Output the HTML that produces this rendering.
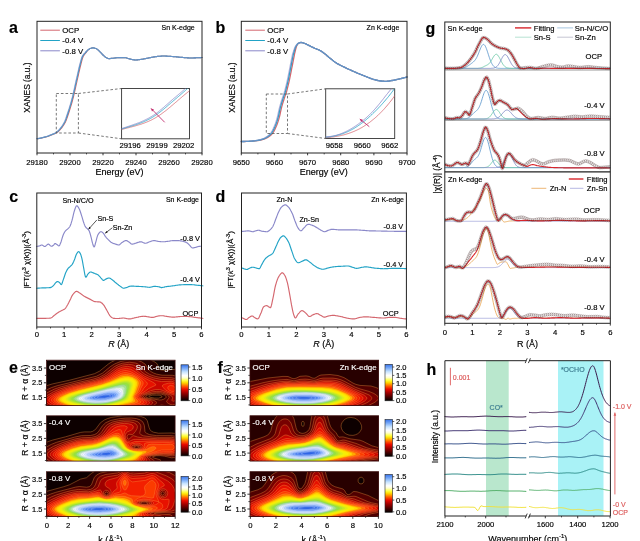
<!DOCTYPE html>
<html><head><meta charset="utf-8"><title>figure</title>
<style>html,body{margin:0;padding:0;background:#fff;}svg{display:block;will-change:transform;transform:translateZ(0)}text{font-family:"Liberation Sans",sans-serif;}.dc circle{r:1.45px}</style>
</head><body>
<svg width="640" height="541" viewBox="0 0 640 541" font-family="Liberation Sans, sans-serif">
<rect x="0" y="0" width="640" height="541" fill="#fff"/>
<text x="9" y="33.4" font-size="16" text-anchor="start" fill="#000" stroke="#000" stroke-width="0.16" font-weight="bold" >a</text>
<polyline points="37.7,138.7 38.2,138.6 38.7,138.6 39.2,138.5 39.7,138.4 40.2,138.3 40.7,138.2 41.2,138.1 41.7,138 42.2,137.9 42.7,137.8 43.2,137.6 43.7,137.5 44.2,137.4 44.7,137.3 45.2,137.1 45.7,137 46.2,136.9 46.7,136.7 47.2,136.6 47.7,136.4 48.2,136.2 48.7,136.1 49.2,135.9 49.7,135.7 50.2,135.5 50.7,135.3 51.2,135.1 51.7,134.9 52.2,134.7 52.7,134.5 53.2,134.3 53.7,134.1 54.2,133.9 54.7,133.7 55.2,133.5 55.7,133.2 56.2,133 56.7,132.7 57.2,132.4 57.7,132 58.2,131.6 58.7,131.1 59.2,130.6 59.7,130.1 60.2,129.6 60.7,129 61.2,128.4 61.7,127.8 62.2,127.2 62.7,126.5 63.2,125.8 63.7,125 64.2,124.2 64.7,123.3 65.2,122.4 65.7,121.4 66.2,120.2 66.7,118.9 67.2,117.5 67.7,116 68.2,114.5 68.7,113 69.2,111.5 69.7,109.9 70.2,108.4 70.7,106.7 71.2,105.1 71.7,103.4 72.2,101.6 72.7,99.7 73.2,97.8 73.7,95.8 74.2,93.7 74.7,91.5 75.2,89.3 75.7,87 76.2,84.7 76.7,82.5 77.2,80.2 77.7,78 78.2,75.8 78.7,73.5 79.2,71.3 79.7,69.1 80.2,67 80.7,65 81.2,63.1 81.7,61.1 82.2,59.3 82.7,57.7 83.2,56.5 83.7,55.6 84.2,54.9 84.7,54.2 85.1,53.6 85.6,53.1 86,52.5 86.5,52 86.9,51.5 87.3,50.9 87.8,50.4 88.2,49.9 88.7,49.5 89.1,49.2 89.6,48.9 90,48.6 90.5,48.4 91,48.2 91.5,48.1 92,48 92.5,47.9 93,47.9 93.5,47.9 94,48 94.5,48.1 95,48.2 95.5,48.4 96,48.6 96.5,48.8 97,49.1 97.5,49.5 98,49.9 98.5,50.4 99,50.8 99.5,51.3 100,51.8 100.5,52.3 101,52.8 101.5,53.4 102,54 102.5,54.5 103,55 103.5,55.5 104,55.9 104.5,56.4 105,56.8 105.5,57.2 106,57.5 106.5,57.8 107,58 107.5,58.2 108,58.4 108.5,58.6 109,58.6 109.5,58.6 110,58.6 110.5,58.5 111,58.4 111.5,58.4 112,58.3 112.5,58.3 113,58.2 113.5,58.2 114,58.1 114.5,58 115,58 115.5,57.9 116,57.9 116.5,57.8 117,57.8 117.5,57.7 118,57.7 118.5,57.6 119,57.6 119.5,57.6 120,57.6 120.5,57.6 121,57.6 121.5,57.6 122,57.6 122.5,57.6 123,57.7 123.5,57.7 124,57.7 124.5,57.7 125,57.8 125.5,57.8 126,57.8 126.5,57.9 127,58.1 127.5,58.2 128,58.4 128.5,58.6 129,58.7 129.5,58.9 130,59 130.5,59.1 131,59.2 131.5,59.4 132,59.5 132.5,59.6 133,59.7 133.5,59.8 134,59.9 134.5,59.9 135,60 135.5,60 136,60 136.5,60 137,59.9 137.5,59.9 138,59.8 138.5,59.8 139,59.7 139.5,59.6 140,59.5 140.5,59.5 141,59.4 141.5,59.3 142,59.3 142.5,59.2 143,59.1 143.5,59 144,58.9 144.5,58.8 145,58.7 145.5,58.6 146,58.5 146.5,58.4 147,58.3 147.5,58.2 148,58.1 148.5,58 149,57.9 149.5,57.8 150,57.7 150.5,57.6 151,57.5 151.5,57.4 152,57.3 152.5,57.2 153,57.1 153.5,57 154,56.9 154.5,56.9 155,56.8 155.5,56.7 156,56.6 156.5,56.6 157,56.5 157.5,56.4 158,56.4 158.5,56.3 159,56.3 159.5,56.2 160,56.2 160.5,56.2 161,56.1 161.5,56.1 162,56 162.5,56 163,56 163.5,56 164,56 164.5,56 165,56 165.5,56 166,56.1 166.5,56.1 167,56.1 167.5,56.2 168,56.2 168.5,56.2 169,56.3 169.5,56.3 170,56.3 170.5,56.4 171,56.4 171.5,56.5 172,56.5 172.5,56.5 173,56.6 173.5,56.6 174,56.7 174.5,56.7 175,56.8 175.5,56.8 176,56.8 176.5,56.9 177,56.9 177.5,57 178,57 178.5,57.1 179,57.1 179.5,57.2 180,57.2 180.5,57.3 181,57.3 181.5,57.4 182,57.4 182.5,57.4 183,57.5 183.5,57.5 184,57.6 184.5,57.6 185,57.7 185.5,57.7 186,57.7 186.5,57.8 187,57.8 187.5,57.9 188,57.9 188.5,57.9 189,58 189.5,58 190,58 190.5,58 191,58 191.5,58 192,58 192.5,58 193,58 193.5,58 194,57.9 194.5,57.9 195,57.9 195.5,57.9 196,57.8 196.5,57.8 197,57.8 197.5,57.8 198,57.8 198.5,57.7 199,57.7 199.5,57.7 200,57.6 200.5,57.6 201,57.6 201.5,57.5 202,57.5" fill="none" stroke="#d4666e" stroke-width="1.1" stroke-linejoin="round" stroke-linecap="round" />
<polyline points="37,138.7 37.5,138.6 38,138.6 38.5,138.5 39,138.4 39.5,138.3 40,138.2 40.5,138.1 41,138 41.5,137.9 42,137.8 42.5,137.6 43,137.5 43.5,137.4 44,137.3 44.5,137.1 45,137 45.5,136.9 46,136.7 46.5,136.6 47,136.4 47.5,136.2 48,136.1 48.5,135.9 49,135.7 49.5,135.5 50,135.3 50.5,135.1 51,134.9 51.5,134.7 52,134.5 52.5,134.3 53,134.1 53.5,133.9 54,133.7 54.5,133.5 55,133.2 55.5,133 56,132.7 56.5,132.4 57,132 57.5,131.6 58,131.1 58.5,130.6 59,130.1 59.5,129.6 60,129 60.5,128.4 61,127.8 61.5,127.2 62,126.5 62.5,125.8 63,125 63.5,124.2 64,123.3 64.5,122.4 65,121.4 65.5,120.2 66,118.9 66.5,117.5 67,116 67.5,114.5 68,113 68.5,111.5 69,109.9 69.5,108.4 70,106.7 70.5,105.1 71,103.4 71.5,101.6 72,99.7 72.5,97.8 73,95.8 73.5,93.7 74,91.5 74.5,89.3 75,87 75.5,84.7 76,82.5 76.5,80.2 77,78 77.5,75.8 78,73.5 78.5,71.3 79,69.1 79.5,67 80,65 80.5,63.1 81,61.1 81.5,59.3 82,57.7 82.5,56.5 83,55.6 83.5,54.9 84,54.2 84.5,53.6 85,53.1 85.5,52.5 86,52 86.5,51.5 87,50.9 87.5,50.4 88,49.9 88.5,49.5 89,49.2 89.5,48.9 90,48.6 90.5,48.4 91,48.2 91.5,48.1 92,48 92.5,47.9 93,47.9 93.5,47.9 94,48 94.5,48.1 95,48.2 95.5,48.4 96,48.6 96.5,48.8 97,49.1 97.5,49.5 98,49.9 98.5,50.4 99,50.8 99.5,51.3 100,51.8 100.5,52.3 101,52.8 101.5,53.4 102,54 102.5,54.5 103,55 103.5,55.5 104,55.9 104.5,56.4 105,56.8 105.5,57.2 106,57.5 106.5,57.8 107,58 107.5,58.2 108,58.4 108.5,58.6 109,58.6 109.5,58.6 110,58.6 110.5,58.5 111,58.4 111.5,58.4 112,58.3 112.5,58.3 113,58.2 113.5,58.2 114,58.1 114.5,58 115,58 115.5,57.9 116,57.9 116.5,57.8 117,57.8 117.5,57.7 118,57.7 118.5,57.6 119,57.6 119.5,57.6 120,57.6 120.5,57.6 121,57.6 121.5,57.6 122,57.6 122.5,57.6 123,57.7 123.5,57.7 124,57.7 124.5,57.7 125,57.8 125.5,57.8 126,57.8 126.5,57.9 127,58.1 127.5,58.2 128,58.4 128.5,58.6 129,58.7 129.5,58.9 130,59 130.5,59.1 131,59.2 131.5,59.4 132,59.5 132.5,59.6 133,59.7 133.5,59.8 134,59.9 134.5,59.9 135,60 135.5,60 136,60 136.5,60 137,59.9 137.5,59.9 138,59.8 138.5,59.8 139,59.7 139.5,59.6 140,59.5 140.5,59.5 141,59.4 141.5,59.3 142,59.3 142.5,59.2 143,59.1 143.5,59 144,58.9 144.5,58.8 145,58.7 145.5,58.6 146,58.5 146.5,58.4 147,58.3 147.5,58.2 148,58.1 148.5,58 149,57.9 149.5,57.8 150,57.7 150.5,57.6 151,57.5 151.5,57.4 152,57.3 152.5,57.2 153,57.1 153.5,57 154,56.9 154.5,56.9 155,56.8 155.5,56.7 156,56.6 156.5,56.6 157,56.5 157.5,56.4 158,56.4 158.5,56.3 159,56.3 159.5,56.2 160,56.2 160.5,56.2 161,56.1 161.5,56.1 162,56 162.5,56 163,56 163.5,56 164,56 164.5,56 165,56 165.5,56 166,56.1 166.5,56.1 167,56.1 167.5,56.2 168,56.2 168.5,56.2 169,56.3 169.5,56.3 170,56.3 170.5,56.4 171,56.4 171.5,56.5 172,56.5 172.5,56.5 173,56.6 173.5,56.6 174,56.7 174.5,56.7 175,56.8 175.5,56.8 176,56.8 176.5,56.9 177,56.9 177.5,57 178,57 178.5,57.1 179,57.1 179.5,57.2 180,57.2 180.5,57.3 181,57.3 181.5,57.4 182,57.4 182.5,57.4 183,57.5 183.5,57.5 184,57.6 184.5,57.6 185,57.7 185.5,57.7 186,57.7 186.5,57.8 187,57.8 187.5,57.9 188,57.9 188.5,57.9 189,58 189.5,58 190,58 190.5,58 191,58 191.5,58 192,58 192.5,58 193,58 193.5,58 194,57.9 194.5,57.9 195,57.9 195.5,57.9 196,57.8 196.5,57.8 197,57.8 197.5,57.8 198,57.8 198.5,57.7 199,57.7 199.5,57.7 200,57.6 200.5,57.6 201,57.6 201.5,57.5 202,57.5" fill="none" stroke="#22a3c6" stroke-width="1.1" stroke-linejoin="round" stroke-linecap="round" />
<polyline points="36.6,138.7 37.1,138.6 37.6,138.6 38.1,138.5 38.6,138.4 39.1,138.3 39.6,138.2 40.1,138.1 40.6,138 41.1,137.9 41.6,137.8 42.1,137.6 42.6,137.5 43.1,137.4 43.6,137.3 44.1,137.1 44.6,137 45.1,136.9 45.6,136.7 46.1,136.6 46.6,136.4 47.1,136.2 47.6,136.1 48.1,135.9 48.6,135.7 49.1,135.5 49.6,135.3 50.1,135.1 50.6,134.9 51.1,134.7 51.6,134.5 52.1,134.3 52.6,134.1 53.1,133.9 53.6,133.7 54.1,133.5 54.6,133.2 55.1,133 55.6,132.7 56.1,132.4 56.6,132 57.1,131.6 57.6,131.1 58.1,130.6 58.6,130.1 59.1,129.6 59.6,129 60.1,128.4 60.6,127.8 61.1,127.2 61.6,126.5 62.1,125.8 62.6,125 63.1,124.2 63.6,123.3 64.1,122.4 64.6,121.4 65.1,120.2 65.6,118.9 66.1,117.5 66.6,116 67.1,114.5 67.6,113 68.1,111.5 68.6,109.9 69.1,108.4 69.6,106.7 70.1,105.1 70.6,103.4 71.1,101.6 71.6,99.7 72.1,97.8 72.6,95.8 73.1,93.7 73.6,91.5 74.1,89.3 74.6,87 75.1,84.7 75.6,82.5 76.1,80.2 76.6,78 77.1,75.8 77.6,73.5 78.1,71.3 78.6,69.1 79.1,67 79.6,65 80.1,63.1 80.6,61.1 81.1,59.3 81.6,57.7 82.1,56.5 82.6,55.6 83.1,54.9 83.6,54.2 84.1,53.6 84.7,53.1 85.2,52.5 85.7,52 86.3,51.5 86.8,50.9 87.3,50.4 87.9,49.9 88.4,49.5 88.9,49.2 89.5,48.9 90,48.6 90.5,48.4 91,48.2 91.5,48.1 92,48 92.5,47.9 93,47.9 93.5,47.9 94,48 94.5,48.1 95,48.2 95.5,48.4 96,48.6 96.5,48.8 97,49.1 97.5,49.5 98,49.9 98.5,50.4 99,50.8 99.5,51.3 100,51.8 100.5,52.3 101,52.8 101.5,53.4 102,54 102.5,54.5 103,55 103.5,55.5 104,55.9 104.5,56.4 105,56.8 105.5,57.2 106,57.5 106.5,57.8 107,58 107.5,58.2 108,58.4 108.5,58.6 109,58.6 109.5,58.6 110,58.6 110.5,58.5 111,58.4 111.5,58.4 112,58.3 112.5,58.3 113,58.2 113.5,58.2 114,58.1 114.5,58 115,58 115.5,57.9 116,57.9 116.5,57.8 117,57.8 117.5,57.7 118,57.7 118.5,57.6 119,57.6 119.5,57.6 120,57.6 120.5,57.6 121,57.6 121.5,57.6 122,57.6 122.5,57.6 123,57.7 123.5,57.7 124,57.7 124.5,57.7 125,57.8 125.5,57.8 126,57.8 126.5,57.9 127,58.1 127.5,58.2 128,58.4 128.5,58.6 129,58.7 129.5,58.9 130,59 130.5,59.1 131,59.2 131.5,59.4 132,59.5 132.5,59.6 133,59.7 133.5,59.8 134,59.9 134.5,59.9 135,60 135.5,60 136,60 136.5,60 137,59.9 137.5,59.9 138,59.8 138.5,59.8 139,59.7 139.5,59.6 140,59.5 140.5,59.5 141,59.4 141.5,59.3 142,59.3 142.5,59.2 143,59.1 143.5,59 144,58.9 144.5,58.8 145,58.7 145.5,58.6 146,58.5 146.5,58.4 147,58.3 147.5,58.2 148,58.1 148.5,58 149,57.9 149.5,57.8 150,57.7 150.5,57.6 151,57.5 151.5,57.4 152,57.3 152.5,57.2 153,57.1 153.5,57 154,56.9 154.5,56.9 155,56.8 155.5,56.7 156,56.6 156.5,56.6 157,56.5 157.5,56.4 158,56.4 158.5,56.3 159,56.3 159.5,56.2 160,56.2 160.5,56.2 161,56.1 161.5,56.1 162,56 162.5,56 163,56 163.5,56 164,56 164.5,56 165,56 165.5,56 166,56.1 166.5,56.1 167,56.1 167.5,56.2 168,56.2 168.5,56.2 169,56.3 169.5,56.3 170,56.3 170.5,56.4 171,56.4 171.5,56.5 172,56.5 172.5,56.5 173,56.6 173.5,56.6 174,56.7 174.5,56.7 175,56.8 175.5,56.8 176,56.8 176.5,56.9 177,56.9 177.5,57 178,57 178.5,57.1 179,57.1 179.5,57.2 180,57.2 180.5,57.3 181,57.3 181.5,57.4 182,57.4 182.5,57.4 183,57.5 183.5,57.5 184,57.6 184.5,57.6 185,57.7 185.5,57.7 186,57.7 186.5,57.8 187,57.8 187.5,57.9 188,57.9 188.5,57.9 189,58 189.5,58 190,58 190.5,58 191,58 191.5,58 192,58 192.5,58 193,58 193.5,58 194,57.9 194.5,57.9 195,57.9 195.5,57.9 196,57.8 196.5,57.8 197,57.8 197.5,57.8 198,57.8 198.5,57.7 199,57.7 199.5,57.7 200,57.6 200.5,57.6 201,57.6 201.5,57.5 202,57.5" fill="none" stroke="#8a88c9" stroke-width="1.1" stroke-linejoin="round" stroke-linecap="round" stroke-opacity="0.62"/>
<rect x="56.3" y="93.5" width="22.1" height="39.5" fill="none" stroke="#555" stroke-width="0.8" stroke-dasharray="2.6 2"/>
<line x1="78.4" y1="93.5" x2="121.6" y2="88.5" stroke="#555" stroke-width="0.8" stroke-dasharray="2.6 2"/>
<line x1="78.4" y1="133" x2="121.6" y2="138.8" stroke="#555" stroke-width="0.8" stroke-dasharray="2.6 2"/>
<rect x="121.6" y="88.5" width="67.9" height="50.3" fill="#fff" stroke="#333" stroke-width="0.9" />
<clipPath id="ic37"><rect x="121.6" y="88.5" width="67.9" height="50.30000000000001"/></clipPath>
<g clip-path="url(#ic37)">
<polyline points="121.6,129.5 122.6,129.2 123.6,129 124.6,128.7 125.6,128.4 126.6,128.2 127.6,127.9 128.6,127.7 129.6,127.4 130.6,127.1 131.6,126.9 132.6,126.6 133.6,126.4 134.6,126.1 135.6,125.8 136.6,125.5 137.6,125.2 138.6,124.9 139.6,124.6 140.6,124.3 141.6,124 142.6,123.6 143.6,123.3 144.6,122.9 145.6,122.5 146.6,122.1 147.6,121.7 148.6,121.3 149.6,120.8 150.6,120.4 151.6,119.9 152.6,119.4 153.6,118.8 154.6,118.3 155.6,117.7 156.6,117.1 157.6,116.5 158.6,115.8 159.6,115.2 160.6,114.5 161.6,113.8 162.6,113 163.6,112.3 164.6,111.5 165.6,110.8 166.6,110 167.6,109.2 168.6,108.3 169.6,107.5 170.6,106.7 171.6,105.8 172.6,105 173.6,104.1 174.6,103.3 175.6,102.4 176.6,101.6 177.6,100.7 178.6,99.8 179.6,99 180.6,98.1 181.6,97.3 182.6,96.4 183.6,95.6 184.6,94.7 185.6,93.9 186.6,93.1 187.6,92.3 188.6,91.5 189.5,90.8" fill="none" stroke="#d4666e" stroke-width="0.8" stroke-linejoin="round" stroke-linecap="round" />
<polyline points="121.6,129 122.6,128.7 123.6,128.4 124.6,128.1 125.6,127.8 126.6,127.5 127.6,127.2 128.6,126.9 129.6,126.6 130.6,126.3 131.6,126 132.6,125.7 133.6,125.4 134.6,125.1 135.6,124.8 136.6,124.4 137.6,124.1 138.6,123.7 139.6,123.4 140.6,123 141.6,122.6 142.6,122.2 143.6,121.8 144.6,121.3 145.6,120.9 146.6,120.4 147.6,119.9 148.6,119.4 149.6,118.9 150.6,118.3 151.6,117.8 152.6,117.2 153.6,116.6 154.6,115.9 155.6,115.3 156.6,114.6 157.6,113.9 158.6,113.1 159.6,112.4 160.6,111.6 161.6,110.8 162.6,110 163.6,109.2 164.6,108.4 165.6,107.5 166.6,106.7 167.6,105.8 168.6,104.9 169.6,104.1 170.6,103.2 171.6,102.3 172.6,101.5 173.6,100.6 174.6,99.8 175.6,98.9 176.6,98.1 177.6,97.2 178.6,96.4 179.6,95.5 180.6,94.7 181.6,93.8 182.6,92.9 183.6,92 184.6,91.2 185.6,90.3 186.6,89.3 187.6,88.4 188.6,87.5 189.5,86.6" fill="none" stroke="#22a3c6" stroke-width="0.8" stroke-linejoin="round" stroke-linecap="round" />
<polyline points="121.6,128.6 122.6,128.3 123.6,127.9 124.6,127.6 125.6,127.3 126.6,126.9 127.6,126.6 128.6,126.3 129.6,125.9 130.6,125.6 131.6,125.3 132.6,124.9 133.6,124.6 134.6,124.2 135.6,123.9 136.6,123.5 137.6,123.1 138.6,122.8 139.6,122.4 140.6,122 141.6,121.5 142.6,121.1 143.6,120.7 144.6,120.2 145.6,119.7 146.6,119.2 147.6,118.7 148.6,118.2 149.6,117.6 150.6,117 151.6,116.4 152.6,115.8 153.6,115.2 154.6,114.5 155.6,113.8 156.6,113.1 157.6,112.3 158.6,111.6 159.6,110.8 160.6,109.9 161.6,109.1 162.6,108.2 163.6,107.4 164.6,106.5 165.6,105.6 166.6,104.8 167.6,103.9 168.6,103 169.6,102.1 170.6,101.2 171.6,100.3 172.6,99.5 173.6,98.6 174.6,97.8 175.6,97 176.6,96.1 177.6,95.3 178.6,94.4 179.6,93.6 180.6,92.8 181.6,91.9 182.6,91 183.6,90.1 184.6,89.2 185.6,88.3 186.6,87.4 187.6,86.4 188.6,85.4 189.5,84.5" fill="none" stroke="#8a88c9" stroke-width="0.8" stroke-linejoin="round" stroke-linecap="round" />
</g>
<line x1="164.7" y1="122.3" x2="151" y2="108.4" stroke="#c22d6e" stroke-width="0.9" />
<polygon points="151,108.4 154,109.5 152,111.4" fill="#c22d6e"/>
<text x="130.2" y="148.1" font-size="7.7" text-anchor="middle" fill="#000" stroke="#000" stroke-width="0.16" >29196</text>
<text x="157" y="148.1" font-size="7.7" text-anchor="middle" fill="#000" stroke="#000" stroke-width="0.16" >29199</text>
<text x="183.6" y="148.1" font-size="7.7" text-anchor="middle" fill="#000" stroke="#000" stroke-width="0.16" >29202</text>
<rect x="37" y="21.3" width="165" height="131.7" fill="none" stroke="#222" stroke-width="1" />
<line x1="37" y1="153" x2="37" y2="155.3" stroke="#222" stroke-width="0.9" />
<text x="37" y="164.8" font-size="7.7" text-anchor="middle" fill="#000" stroke="#000" stroke-width="0.16" >29180</text>
<line x1="70" y1="153" x2="70" y2="155.3" stroke="#222" stroke-width="0.9" />
<text x="70" y="164.8" font-size="7.7" text-anchor="middle" fill="#000" stroke="#000" stroke-width="0.16" >29200</text>
<line x1="103" y1="153" x2="103" y2="155.3" stroke="#222" stroke-width="0.9" />
<text x="103" y="164.8" font-size="7.7" text-anchor="middle" fill="#000" stroke="#000" stroke-width="0.16" >29220</text>
<line x1="136" y1="153" x2="136" y2="155.3" stroke="#222" stroke-width="0.9" />
<text x="136" y="164.8" font-size="7.7" text-anchor="middle" fill="#000" stroke="#000" stroke-width="0.16" >29240</text>
<line x1="169" y1="153" x2="169" y2="155.3" stroke="#222" stroke-width="0.9" />
<text x="169" y="164.8" font-size="7.7" text-anchor="middle" fill="#000" stroke="#000" stroke-width="0.16" >29260</text>
<line x1="202" y1="153" x2="202" y2="155.3" stroke="#222" stroke-width="0.9" />
<text x="202" y="164.8" font-size="7.7" text-anchor="middle" fill="#000" stroke="#000" stroke-width="0.16" >29280</text>
<line x1="53.5" y1="153" x2="53.5" y2="154.4" stroke="#222" stroke-width="0.8" />
<line x1="86.5" y1="153" x2="86.5" y2="154.4" stroke="#222" stroke-width="0.8" />
<line x1="119.5" y1="153" x2="119.5" y2="154.4" stroke="#222" stroke-width="0.8" />
<line x1="152.5" y1="153" x2="152.5" y2="154.4" stroke="#222" stroke-width="0.8" />
<line x1="185.5" y1="153" x2="185.5" y2="154.4" stroke="#222" stroke-width="0.8" />
<line x1="40.3" y1="30.2" x2="59.9" y2="30.2" stroke="#d4666e" stroke-width="1.0" />
<text x="62.3" y="33" font-size="7.8" text-anchor="start" fill="#000" stroke="#000" stroke-width="0.16" >OCP</text>
<line x1="40.3" y1="40.5" x2="59.9" y2="40.5" stroke="#22a3c6" stroke-width="1.0" />
<text x="62.3" y="43.3" font-size="7.8" text-anchor="start" fill="#000" stroke="#000" stroke-width="0.16" >-0.4 V</text>
<line x1="40.3" y1="50.8" x2="59.9" y2="50.8" stroke="#8a88c9" stroke-width="1.0" />
<text x="62.3" y="53.6" font-size="7.8" text-anchor="start" fill="#000" stroke="#000" stroke-width="0.16" >-0.8 V</text>
<text x="194.7" y="30.2" font-size="7.0" text-anchor="end" fill="#000" stroke="#000" stroke-width="0.16" >Sn K-edge</text>
<text x="30.3" y="87.5" font-size="8.4" text-anchor="middle" fill="#000" stroke="#000" stroke-width="0.16" transform="rotate(-90 30.3 87.5)" >XANES (a.u.)</text>
<text x="119.4" y="175" font-size="9" text-anchor="middle" fill="#000" stroke="#000" stroke-width="0.16" >Energy (eV)</text>
<text x="215.5" y="33" font-size="16" text-anchor="start" fill="#000" stroke="#000" stroke-width="0.16" font-weight="bold" >b</text>
<polyline points="242.7,141.5 243.2,141.5 243.7,141.5 244.2,141.5 244.7,141.5 245.2,141.5 245.7,141.5 246.2,141.4 246.7,141.4 247.2,141.4 247.7,141.4 248.2,141.4 248.7,141.3 249.2,141.3 249.7,141.3 250.2,141.3 250.7,141.2 251.2,141.2 251.7,141.2 252.2,141.2 252.7,141.1 253.2,141.1 253.7,141 254.2,141 254.7,140.9 255.2,140.9 255.7,140.8 256.2,140.8 256.7,140.7 257.2,140.6 257.7,140.6 258.2,140.5 258.7,140.4 259.2,140.3 259.7,140.2 260.2,140.2 260.7,140.1 261.2,139.9 261.7,139.8 262.2,139.7 262.7,139.5 263.2,139.4 263.7,139.2 264.2,139.1 264.7,138.9 265.2,138.7 265.7,138.5 266.2,138.2 266.7,138 267.2,137.7 267.7,137.4 268.2,137.1 268.7,136.8 269.2,136.5 269.7,136.1 270.2,135.7 270.7,135.3 271.2,134.8 271.7,134.3 272.2,133.7 272.7,133.1 273.2,132.4 273.7,131.6 274.2,130.7 274.7,129.7 275.2,128.7 275.7,127.6 276.2,126.5 276.7,125.3 277.2,124 277.7,122.6 278.2,121.1 278.7,119.5 279.2,117.7 279.7,115.8 280.2,113.5 280.7,111.1 281.2,108.8 281.7,106.9 282.2,105.1 282.7,103.4 283.2,101.8 283.7,100.2 284.2,98.6 284.7,97.1 285.2,95.6 285.7,94.2 286.2,92.7 286.7,91 287.2,89.1 287.7,87.2 288.2,85.2 288.7,83.1 289.2,80.9 289.7,78.6 290.2,76.2 290.7,73.7 291.2,71.1 291.7,68.5 292.2,66 292.7,63.5 293.2,60.9 293.7,58.3 294.2,55.9 294.6,53.7 295,52 295.4,50.3 295.8,48.7 296.2,47.4 296.5,46.3 296.9,45.5 297.3,44.8 297.7,44.2 298.1,43.7 298.5,43.3 298.8,43.1 299.3,42.9 299.8,42.7 300.3,42.6 300.8,42.5 301.3,42.5 301.8,42.6 302.3,42.7 302.8,42.8 303.3,43 303.8,43.1 304.3,43.3 304.8,43.5 305.3,43.7 305.8,43.9 306.3,44.1 306.8,44.4 307.3,44.6 307.8,44.9 308.3,45.1 308.8,45.4 309.3,45.7 309.8,45.9 310.3,46.1 310.8,46.4 311.3,46.6 311.8,46.9 312.3,47.1 312.8,47.3 313.3,47.6 313.8,47.8 314.3,48 314.8,48.3 315.3,48.5 315.8,48.7 316.3,48.9 316.8,49.1 317.3,49.3 317.8,49.5 318.3,49.7 318.8,49.9 319.3,50.1 319.8,50.4 320.3,50.6 320.8,50.9 321.3,51.2 321.8,51.6 322.3,51.9 322.8,52.3 323.3,52.7 323.8,53.1 324.3,53.5 324.8,53.8 325.3,54.2 325.8,54.6 326.3,55 326.8,55.5 327.3,55.9 327.8,56.3 328.3,56.7 328.8,57.2 329.3,57.6 329.8,58 330.3,58.4 330.8,58.8 331.3,59.2 331.8,59.6 332.3,60 332.8,60.4 333.3,60.8 333.8,61.2 334.3,61.5 334.8,61.9 335.3,62.3 335.8,62.6 336.3,62.9 336.8,63.3 337.3,63.6 337.8,63.9 338.3,64.2 338.8,64.4 339.3,64.7 339.8,65 340.3,65.2 340.8,65.5 341.3,65.7 341.8,66 342.3,66.2 342.8,66.5 343.3,66.7 343.8,66.9 344.3,67.2 344.8,67.4 345.3,67.6 345.8,67.9 346.3,68.1 346.8,68.4 347.3,68.6 347.8,68.8 348.3,69.1 348.8,69.3 349.3,69.5 349.8,69.7 350.3,70 350.8,70.2 351.3,70.4 351.8,70.7 352.3,70.9 352.8,71.1 353.3,71.3 353.8,71.5 354.3,71.8 354.8,72 355.3,72.2 355.8,72.4 356.3,72.6 356.8,72.8 357.3,73.1 357.8,73.3 358.3,73.5 358.8,73.7 359.3,73.9 359.8,74.1 360.3,74.3 360.8,74.5 361.3,74.7 361.8,74.9 362.3,75.1 362.8,75.3 363.3,75.5 363.8,75.7 364.3,75.9 364.8,76.1 365.3,76.3 365.8,76.5 366.3,76.7 366.8,76.9 367.3,77.1 367.8,77.3 368.3,77.5 368.8,77.7 369.3,77.9 369.8,78.1 370.3,78.3 370.8,78.5 371.3,78.6 371.8,78.8 372.3,79 372.8,79.2 373.3,79.3 373.8,79.5 374.3,79.6 374.8,79.7 375.3,79.9 375.8,80 376.3,80.1 376.8,80.2 377.3,80.4 377.8,80.5 378.3,80.6 378.8,80.7 379.3,80.8 379.8,80.9 380.3,80.9 380.8,81 381.3,81 381.8,81.1 382.3,81.1 382.8,81.2 383.3,81.2 383.8,81.2 384.3,81.3 384.8,81.3 385.3,81.3 385.8,81.3 386.3,81.3 386.8,81.3 387.3,81.2 387.8,81.2 388.3,81.1 388.8,81.1 389.3,81 389.8,80.9 390.3,80.8 390.8,80.7 391.3,80.6 391.8,80.5 392.3,80.5 392.8,80.4 393.3,80.3 393.8,80.2 394.3,80.1 394.8,80 395.3,79.9 395.8,79.8 396.3,79.7 396.8,79.5 397.3,79.4 397.8,79.3 398.3,79.2 398.8,79.1 399.3,79 399.8,78.8 400.3,78.7 400.8,78.6 401.3,78.5 401.8,78.4 402.3,78.2 402.8,78.1 403.3,78 403.8,77.9 404.3,77.7 404.8,77.6 405.3,77.5 405.8,77.3 406.3,77.2 406.8,77.1 407,77" fill="none" stroke="#d4666e" stroke-width="1.3" stroke-linejoin="round" stroke-linecap="round" />
<polyline points="241.5,141.5 242,141.5 242.5,141.5 243,141.5 243.5,141.5 244,141.5 244.5,141.5 245,141.4 245.5,141.4 246,141.4 246.5,141.4 247,141.4 247.5,141.3 248,141.3 248.5,141.3 249,141.3 249.5,141.2 250,141.2 250.5,141.2 251,141.2 251.5,141.1 252,141.1 252.5,141 253,141 253.5,140.9 254,140.9 254.5,140.8 255,140.8 255.5,140.7 256,140.6 256.5,140.6 257,140.5 257.5,140.4 258,140.3 258.5,140.2 259,140.2 259.5,140.1 260,139.9 260.5,139.8 261,139.7 261.5,139.5 262,139.4 262.5,139.2 263,139.1 263.5,138.9 264,138.7 264.5,138.5 265,138.2 265.5,138 266,137.7 266.5,137.4 267,137.1 267.5,136.8 268,136.5 268.5,136.1 269,135.7 269.5,135.3 270,134.8 270.5,134.3 271,133.7 271.5,133.1 272,132.4 272.5,131.6 273,130.7 273.5,129.7 274,128.7 274.5,127.6 275,126.5 275.5,125.3 276,124 276.5,122.6 277,121.1 277.5,119.5 278,117.7 278.5,115.8 279,113.5 279.5,111.1 280,108.8 280.5,106.9 281,105.1 281.5,103.4 282,101.8 282.5,100.2 283,98.6 283.5,97.1 284,95.6 284.5,94.2 285,92.7 285.5,91 286,89.1 286.5,87.2 287,85.2 287.5,83.1 288,80.9 288.5,78.6 289,76.2 289.5,73.7 290,71.1 290.5,68.5 291,66 291.5,63.5 292,60.9 292.5,58.3 293,55.9 293.5,53.7 294,52 294.5,50.3 294.9,48.7 295.4,47.4 295.9,46.3 296.4,45.5 296.9,44.8 297.4,44.2 297.8,43.7 298.3,43.3 298.8,43.1 299.3,42.9 299.8,42.7 300.3,42.6 300.8,42.5 301.3,42.5 301.8,42.6 302.3,42.7 302.8,42.8 303.3,43 303.8,43.1 304.3,43.3 304.8,43.5 305.3,43.7 305.8,43.9 306.3,44.1 306.8,44.4 307.3,44.6 307.8,44.9 308.3,45.1 308.8,45.4 309.3,45.7 309.8,45.9 310.3,46.1 310.8,46.4 311.3,46.6 311.8,46.9 312.3,47.1 312.8,47.3 313.3,47.6 313.8,47.8 314.3,48 314.8,48.3 315.3,48.5 315.8,48.7 316.3,48.9 316.8,49.1 317.3,49.3 317.8,49.5 318.3,49.7 318.8,49.9 319.3,50.1 319.8,50.4 320.3,50.6 320.8,50.9 321.3,51.2 321.8,51.6 322.3,51.9 322.8,52.3 323.3,52.7 323.8,53.1 324.3,53.5 324.8,53.8 325.3,54.2 325.8,54.6 326.3,55 326.8,55.5 327.3,55.9 327.8,56.3 328.3,56.7 328.8,57.2 329.3,57.6 329.8,58 330.3,58.4 330.8,58.8 331.3,59.2 331.8,59.6 332.3,60 332.8,60.4 333.3,60.8 333.8,61.2 334.3,61.5 334.8,61.9 335.3,62.3 335.8,62.6 336.3,62.9 336.8,63.3 337.3,63.6 337.8,63.9 338.3,64.2 338.8,64.4 339.3,64.7 339.8,65 340.3,65.2 340.8,65.5 341.3,65.7 341.8,66 342.3,66.2 342.8,66.5 343.3,66.7 343.8,66.9 344.3,67.2 344.8,67.4 345.3,67.6 345.8,67.9 346.3,68.1 346.8,68.4 347.3,68.6 347.8,68.8 348.3,69.1 348.8,69.3 349.3,69.5 349.8,69.7 350.3,70 350.8,70.2 351.3,70.4 351.8,70.7 352.3,70.9 352.8,71.1 353.3,71.3 353.8,71.5 354.3,71.8 354.8,72 355.3,72.2 355.8,72.4 356.3,72.6 356.8,72.8 357.3,73.1 357.8,73.3 358.3,73.5 358.8,73.7 359.3,73.9 359.8,74.1 360.3,74.3 360.8,74.5 361.3,74.7 361.8,74.9 362.3,75.1 362.8,75.3 363.3,75.5 363.8,75.7 364.3,75.9 364.8,76.1 365.3,76.3 365.8,76.5 366.3,76.7 366.8,76.9 367.3,77.1 367.8,77.3 368.3,77.5 368.8,77.7 369.3,77.9 369.8,78.1 370.3,78.3 370.8,78.5 371.3,78.6 371.8,78.8 372.3,79 372.8,79.2 373.3,79.3 373.8,79.5 374.3,79.6 374.8,79.7 375.3,79.9 375.8,80 376.3,80.1 376.8,80.2 377.3,80.4 377.8,80.5 378.3,80.6 378.8,80.7 379.3,80.8 379.8,80.9 380.3,80.9 380.8,81 381.3,81 381.8,81.1 382.3,81.1 382.8,81.2 383.3,81.2 383.8,81.2 384.3,81.3 384.8,81.3 385.3,81.3 385.8,81.3 386.3,81.3 386.8,81.3 387.3,81.2 387.8,81.2 388.3,81.1 388.8,81.1 389.3,81 389.8,80.9 390.3,80.8 390.8,80.7 391.3,80.6 391.8,80.5 392.3,80.5 392.8,80.4 393.3,80.3 393.8,80.2 394.3,80.1 394.8,80 395.3,79.9 395.8,79.8 396.3,79.7 396.8,79.5 397.3,79.4 397.8,79.3 398.3,79.2 398.8,79.1 399.3,79 399.8,78.8 400.3,78.7 400.8,78.6 401.3,78.5 401.8,78.4 402.3,78.2 402.8,78.1 403.3,78 403.8,77.9 404.3,77.7 404.8,77.6 405.3,77.5 405.8,77.3 406.3,77.2 406.8,77.1 407,77" fill="none" stroke="#22a3c6" stroke-width="1.3" stroke-linejoin="round" stroke-linecap="round" />
<polyline points="240.7,141.5 241.2,141.5 241.7,141.5 242.2,141.5 242.7,141.5 243.2,141.5 243.7,141.5 244.2,141.4 244.7,141.4 245.2,141.4 245.7,141.4 246.2,141.4 246.7,141.3 247.2,141.3 247.7,141.3 248.2,141.3 248.7,141.2 249.2,141.2 249.7,141.2 250.2,141.2 250.7,141.1 251.2,141.1 251.7,141 252.2,141 252.7,140.9 253.2,140.9 253.7,140.8 254.2,140.8 254.7,140.7 255.2,140.6 255.7,140.6 256.2,140.5 256.7,140.4 257.2,140.3 257.7,140.2 258.2,140.2 258.7,140.1 259.2,139.9 259.7,139.8 260.2,139.7 260.7,139.5 261.2,139.4 261.7,139.2 262.2,139.1 262.7,138.9 263.2,138.7 263.7,138.5 264.2,138.2 264.7,138 265.2,137.7 265.7,137.4 266.2,137.1 266.7,136.8 267.2,136.5 267.7,136.1 268.2,135.7 268.7,135.3 269.2,134.8 269.7,134.3 270.2,133.7 270.7,133.1 271.2,132.4 271.7,131.6 272.2,130.7 272.7,129.7 273.2,128.7 273.7,127.6 274.2,126.5 274.7,125.3 275.2,124 275.7,122.6 276.2,121.1 276.7,119.5 277.2,117.7 277.7,115.8 278.2,113.5 278.7,111.1 279.2,108.8 279.7,106.9 280.2,105.1 280.7,103.4 281.2,101.8 281.7,100.2 282.2,98.6 282.7,97.1 283.2,95.6 283.7,94.2 284.2,92.7 284.7,91 285.2,89.1 285.7,87.2 286.2,85.2 286.7,83.1 287.2,80.9 287.7,78.6 288.2,76.2 288.7,73.7 289.2,71.1 289.7,68.5 290.2,66 290.7,63.5 291.2,60.9 291.7,58.3 292.2,55.9 292.7,53.7 293.3,52 293.8,50.3 294.4,48.7 294.9,47.4 295.5,46.3 296,45.5 296.6,44.8 297.1,44.2 297.7,43.7 298.2,43.3 298.8,43.1 299.3,42.9 299.8,42.7 300.3,42.6 300.8,42.5 301.3,42.5 301.8,42.6 302.3,42.7 302.8,42.8 303.3,43 303.8,43.1 304.3,43.3 304.8,43.5 305.3,43.7 305.8,43.9 306.3,44.1 306.8,44.4 307.3,44.6 307.8,44.9 308.3,45.1 308.8,45.4 309.3,45.7 309.8,45.9 310.3,46.1 310.8,46.4 311.3,46.6 311.8,46.9 312.3,47.1 312.8,47.3 313.3,47.6 313.8,47.8 314.3,48 314.8,48.3 315.3,48.5 315.8,48.7 316.3,48.9 316.8,49.1 317.3,49.3 317.8,49.5 318.3,49.7 318.8,49.9 319.3,50.1 319.8,50.4 320.3,50.6 320.8,50.9 321.3,51.2 321.8,51.6 322.3,51.9 322.8,52.3 323.3,52.7 323.8,53.1 324.3,53.5 324.8,53.8 325.3,54.2 325.8,54.6 326.3,55 326.8,55.5 327.3,55.9 327.8,56.3 328.3,56.7 328.8,57.2 329.3,57.6 329.8,58 330.3,58.4 330.8,58.8 331.3,59.2 331.8,59.6 332.3,60 332.8,60.4 333.3,60.8 333.8,61.2 334.3,61.5 334.8,61.9 335.3,62.3 335.8,62.6 336.3,62.9 336.8,63.3 337.3,63.6 337.8,63.9 338.3,64.2 338.8,64.4 339.3,64.7 339.8,65 340.3,65.2 340.8,65.5 341.3,65.7 341.8,66 342.3,66.2 342.8,66.5 343.3,66.7 343.8,66.9 344.3,67.2 344.8,67.4 345.3,67.6 345.8,67.9 346.3,68.1 346.8,68.4 347.3,68.6 347.8,68.8 348.3,69.1 348.8,69.3 349.3,69.5 349.8,69.7 350.3,70 350.8,70.2 351.3,70.4 351.8,70.7 352.3,70.9 352.8,71.1 353.3,71.3 353.8,71.5 354.3,71.8 354.8,72 355.3,72.2 355.8,72.4 356.3,72.6 356.8,72.8 357.3,73.1 357.8,73.3 358.3,73.5 358.8,73.7 359.3,73.9 359.8,74.1 360.3,74.3 360.8,74.5 361.3,74.7 361.8,74.9 362.3,75.1 362.8,75.3 363.3,75.5 363.8,75.7 364.3,75.9 364.8,76.1 365.3,76.3 365.8,76.5 366.3,76.7 366.8,76.9 367.3,77.1 367.8,77.3 368.3,77.5 368.8,77.7 369.3,77.9 369.8,78.1 370.3,78.3 370.8,78.5 371.3,78.6 371.8,78.8 372.3,79 372.8,79.2 373.3,79.3 373.8,79.5 374.3,79.6 374.8,79.7 375.3,79.9 375.8,80 376.3,80.1 376.8,80.2 377.3,80.4 377.8,80.5 378.3,80.6 378.8,80.7 379.3,80.8 379.8,80.9 380.3,80.9 380.8,81 381.3,81 381.8,81.1 382.3,81.1 382.8,81.2 383.3,81.2 383.8,81.2 384.3,81.3 384.8,81.3 385.3,81.3 385.8,81.3 386.3,81.3 386.8,81.3 387.3,81.2 387.8,81.2 388.3,81.1 388.8,81.1 389.3,81 389.8,80.9 390.3,80.8 390.8,80.7 391.3,80.6 391.8,80.5 392.3,80.5 392.8,80.4 393.3,80.3 393.8,80.2 394.3,80.1 394.8,80 395.3,79.9 395.8,79.8 396.3,79.7 396.8,79.5 397.3,79.4 397.8,79.3 398.3,79.2 398.8,79.1 399.3,79 399.8,78.8 400.3,78.7 400.8,78.6 401.3,78.5 401.8,78.4 402.3,78.2 402.8,78.1 403.3,78 403.8,77.9 404.3,77.7 404.8,77.6 405.3,77.5 405.8,77.3 406.3,77.2 406.8,77.1 407,77" fill="none" stroke="#8a88c9" stroke-width="1.3" stroke-linejoin="round" stroke-linecap="round" stroke-opacity="0.62"/>
<rect x="266.3" y="94" width="21.2" height="39.5" fill="none" stroke="#555" stroke-width="0.8" stroke-dasharray="2.6 2"/>
<line x1="287.5" y1="94" x2="325.7" y2="88.8" stroke="#555" stroke-width="0.8" stroke-dasharray="2.6 2"/>
<line x1="287.5" y1="133.5" x2="325.7" y2="138.5" stroke="#555" stroke-width="0.8" stroke-dasharray="2.6 2"/>
<rect x="325.7" y="88.8" width="69" height="49.7" fill="#fff" stroke="#333" stroke-width="0.9" />
<clipPath id="ic241"><rect x="325.7" y="88.8" width="69.0" height="49.7"/></clipPath>
<g clip-path="url(#ic241)">
<polyline points="325.7,137.8 326.7,137.7 327.7,137.6 328.7,137.5 329.7,137.4 330.7,137.3 331.7,137.1 332.7,137 333.7,136.9 334.7,136.7 335.7,136.5 336.7,136.4 337.7,136.2 338.7,136 339.7,135.8 340.7,135.6 341.7,135.3 342.7,135.1 343.7,134.9 344.7,134.6 345.7,134.3 346.7,134 347.7,133.7 348.7,133.4 349.7,133 350.7,132.7 351.7,132.3 352.7,131.9 353.7,131.5 354.7,131.1 355.7,130.6 356.7,130.2 357.7,129.7 358.7,129.2 359.7,128.7 360.7,128.1 361.7,127.6 362.7,127 363.7,126.4 364.7,125.7 365.7,125.1 366.7,124.4 367.7,123.7 368.7,123 369.7,122.3 370.7,121.5 371.7,120.7 372.7,119.9 373.7,119.1 374.7,118.3 375.7,117.4 376.7,116.5 377.7,115.6 378.7,114.6 379.7,113.6 380.7,112.6 381.7,111.6 382.7,110.5 383.7,109.5 384.7,108.4 385.7,107.2 386.7,106.1 387.7,104.9 388.7,103.7 389.7,102.4 390.7,101.2 391.7,99.9 392.7,98.5 393.7,97.2 394.7,95.8" fill="none" stroke="#d4666e" stroke-width="0.8" stroke-linejoin="round" stroke-linecap="round" />
<polyline points="325.7,137.2 326.7,137.1 327.7,137 328.7,136.9 329.7,136.8 330.7,136.7 331.7,136.5 332.7,136.3 333.7,136.1 334.7,135.9 335.7,135.7 336.7,135.5 337.7,135.2 338.7,134.9 339.7,134.7 340.7,134.3 341.7,134 342.7,133.7 343.7,133.3 344.7,132.9 345.7,132.5 346.7,132.1 347.7,131.7 348.7,131.2 349.7,130.7 350.7,130.2 351.7,129.7 352.7,129.1 353.7,128.6 354.7,128 355.7,127.4 356.7,126.7 357.7,126.1 358.7,125.4 359.7,124.7 360.7,124 361.7,123.2 362.7,122.5 363.7,121.7 364.7,120.9 365.7,120.1 366.7,119.2 367.7,118.3 368.7,117.5 369.7,116.6 370.7,115.6 371.7,114.7 372.7,113.7 373.7,112.8 374.7,111.8 375.7,110.8 376.7,109.8 377.7,108.8 378.7,107.7 379.7,106.7 380.7,105.6 381.7,104.5 382.7,103.4 383.7,102.2 384.7,101.1 385.7,99.9 386.7,98.7 387.7,97.5 388.7,96.3 389.7,95 390.7,93.7 391.7,92.4 392.7,91.1 393.7,89.7 394.7,88.3" fill="none" stroke="#22a3c6" stroke-width="0.8" stroke-linejoin="round" stroke-linecap="round" />
<polyline points="325.7,136.8 326.7,136.8 327.7,136.7 328.7,136.6 329.7,136.5 330.7,136.4 331.7,136.2 332.7,136.1 333.7,135.9 334.7,135.6 335.7,135.4 336.7,135.1 337.7,134.8 338.7,134.5 339.7,134.2 340.7,133.8 341.7,133.4 342.7,133 343.7,132.6 344.7,132.1 345.7,131.7 346.7,131.2 347.7,130.7 348.7,130.1 349.7,129.6 350.7,129 351.7,128.4 352.7,127.8 353.7,127.2 354.7,126.5 355.7,125.9 356.7,125.2 357.7,124.5 358.7,123.8 359.7,123 360.7,122.3 361.7,121.5 362.7,120.7 363.7,119.9 364.7,119.1 365.7,118.2 366.7,117.3 367.7,116.4 368.7,115.5 369.7,114.5 370.7,113.5 371.7,112.5 372.7,111.5 373.7,110.4 374.7,109.3 375.7,108.2 376.7,107 377.7,105.9 378.7,104.7 379.7,103.4 380.7,102.2 381.7,100.9 382.7,99.7 383.7,98.4 384.7,97.1 385.7,95.8 386.7,94.5 387.7,93.3 388.7,92 389.7,90.8 390.7,89.5 391.7,88.3 392.7,87 393.7,85.8 394.7,84.5" fill="none" stroke="#8a88c9" stroke-width="0.8" stroke-linejoin="round" stroke-linecap="round" />
</g>
<line x1="369.3" y1="126.7" x2="359.8" y2="119" stroke="#c22d6e" stroke-width="0.9" />
<polygon points="359.8,119 362.9,119.7 361.2,121.9" fill="#c22d6e"/>
<text x="334.3" y="147.8" font-size="7.7" text-anchor="middle" fill="#000" stroke="#000" stroke-width="0.16" >9658</text>
<text x="362.3" y="147.8" font-size="7.7" text-anchor="middle" fill="#000" stroke="#000" stroke-width="0.16" >9660</text>
<text x="389.8" y="147.8" font-size="7.7" text-anchor="middle" fill="#000" stroke="#000" stroke-width="0.16" >9662</text>
<rect x="241.3" y="21.3" width="165.7" height="131.7" fill="none" stroke="#222" stroke-width="1" />
<line x1="241.3" y1="153" x2="241.3" y2="155.3" stroke="#222" stroke-width="0.9" />
<text x="241.3" y="164.8" font-size="7.7" text-anchor="middle" fill="#000" stroke="#000" stroke-width="0.16" >9650</text>
<line x1="274.4" y1="153" x2="274.4" y2="155.3" stroke="#222" stroke-width="0.9" />
<text x="274.4" y="164.8" font-size="7.7" text-anchor="middle" fill="#000" stroke="#000" stroke-width="0.16" >9660</text>
<line x1="307.6" y1="153" x2="307.6" y2="155.3" stroke="#222" stroke-width="0.9" />
<text x="307.6" y="164.8" font-size="7.7" text-anchor="middle" fill="#000" stroke="#000" stroke-width="0.16" >9670</text>
<line x1="340.7" y1="153" x2="340.7" y2="155.3" stroke="#222" stroke-width="0.9" />
<text x="340.7" y="164.8" font-size="7.7" text-anchor="middle" fill="#000" stroke="#000" stroke-width="0.16" >9680</text>
<line x1="373.9" y1="153" x2="373.9" y2="155.3" stroke="#222" stroke-width="0.9" />
<text x="373.9" y="164.8" font-size="7.7" text-anchor="middle" fill="#000" stroke="#000" stroke-width="0.16" >9690</text>
<line x1="407" y1="153" x2="407" y2="155.3" stroke="#222" stroke-width="0.9" />
<text x="407" y="164.8" font-size="7.7" text-anchor="middle" fill="#000" stroke="#000" stroke-width="0.16" >9700</text>
<line x1="257.9" y1="153" x2="257.9" y2="154.4" stroke="#222" stroke-width="0.8" />
<line x1="291" y1="153" x2="291" y2="154.4" stroke="#222" stroke-width="0.8" />
<line x1="324.2" y1="153" x2="324.2" y2="154.4" stroke="#222" stroke-width="0.8" />
<line x1="357.3" y1="153" x2="357.3" y2="154.4" stroke="#222" stroke-width="0.8" />
<line x1="390.4" y1="153" x2="390.4" y2="154.4" stroke="#222" stroke-width="0.8" />
<line x1="245.3" y1="30.2" x2="264.9" y2="30.2" stroke="#d4666e" stroke-width="1.0" />
<text x="267.3" y="33" font-size="7.8" text-anchor="start" fill="#000" stroke="#000" stroke-width="0.16" >OCP</text>
<line x1="245.3" y1="40.5" x2="264.9" y2="40.5" stroke="#22a3c6" stroke-width="1.0" />
<text x="267.3" y="43.3" font-size="7.8" text-anchor="start" fill="#000" stroke="#000" stroke-width="0.16" >-0.4 V</text>
<line x1="245.3" y1="50.8" x2="264.9" y2="50.8" stroke="#8a88c9" stroke-width="1.0" />
<text x="267.3" y="53.6" font-size="7.8" text-anchor="start" fill="#000" stroke="#000" stroke-width="0.16" >-0.8 V</text>
<text x="399.3" y="30.2" font-size="7.0" text-anchor="end" fill="#000" stroke="#000" stroke-width="0.16" >Zn K-edge</text>
<text x="235.3" y="87.5" font-size="8.4" text-anchor="middle" fill="#000" stroke="#000" stroke-width="0.16" transform="rotate(-90 235.3 87.5)" >XANES (a.u.)</text>
<text x="323.7" y="175" font-size="9" text-anchor="middle" fill="#000" stroke="#000" stroke-width="0.16" >Energy (eV)</text>
<text x="9.3" y="201.6" font-size="16" text-anchor="start" fill="#000" stroke="#000" stroke-width="0.16" font-weight="bold" >c</text>
<polyline points="36.5,246.5 37,246.4 37.5,246.3 38,246.2 38.5,246.1 39,246 39.5,245.9 40,245.7 40.5,245.4 41,245.2 41.5,245 42,245 42.5,245.2 43,245.5 43.5,245.9 44,246.2 44.5,246.4 45,246.5 45.5,246.2 46,245.8 46.5,245.4 47,244.9 47.5,244.4 48,244.2 48.5,244.1 49,244.4 49.5,244.8 50,245.4 50.5,245.8 51,246.1 51.5,246.2 52,246.1 52.5,245.9 53,245.6 53.5,245.2 54,244.6 54.5,243.9 55,243.5 55.5,243.6 56,243.9 56.5,244.2 57,244.6 57.5,244.9 58,245.4 58.5,245.7 59,245.9 59.5,245.4 60,244.4 60.5,243.2 61,242 61.5,240.4 62,238.7 62.5,237 63,235.5 63.5,234.3 64,233.3 64.5,232.3 65,231.5 65.5,230.8 66,230.3 66.5,229.8 67,229.5 67.5,229.1 68,228.6 68.5,228.1 69,227.6 69.5,227 70,226.2 70.5,225.1 71,223.7 71.5,222.1 72,220.4 72.5,218.5 73,216.3 73.5,214.1 74,212.1 74.5,210.5 75,209 75.5,207.6 76,206.4 76.5,205.8 77,205.8 77.5,206.2 78,206.8 78.5,207.6 79,208.5 79.5,209.5 80,210.8 80.5,212.3 81,213.8 81.5,215.4 82,216.9 82.5,218.6 83,220.3 83.5,222 84,223.4 84.5,224.7 85,225.9 85.5,226.9 86,227.5 86.5,228 87,228.4 87.5,228.9 88,229.4 88.5,229.9 89,230.6 89.5,231.7 90,233.2 90.5,235 91,236.9 91.5,238.9 92,241.1 92.5,243.2 93,244.8 93.5,246.2 94,247 94.5,246.6 95,245 95.5,243 96,241.3 96.5,239.4 97,237.4 97.5,235.8 98,234.6 98.5,233.9 99,233.2 99.5,232.6 100,232.1 100.5,231.8 101,231.7 101.5,231.8 102,232.1 102.5,232.5 103,232.9 103.5,233.4 104,234.1 104.5,235 105,235.9 105.5,236.6 106,237.2 106.5,237.8 107,238.3 107.5,238.9 108,239.4 108.5,239.8 109,240.3 109.5,240.8 110,241.3 110.5,241.8 111,242.2 111.5,242.5 112,242.8 112.5,243.1 113,243.3 113.5,243.5 114,243.6 114.5,243.8 115,243.9 115.5,244.1 116,244.2 116.5,244.4 117,244.6 117.5,244.8 118,244.9 118.5,245 119,245 119.5,244.7 120,244.3 120.5,243.9 121,243.4 121.5,242.9 122,242.5 122.5,242.2 123,241.9 123.5,241.6 124,241.3 124.5,241 125,240.8 125.5,240.6 126,240.6 126.5,240.6 127,240.8 127.5,241.1 128,241.4 128.5,241.7 129,242 129.5,242.4 130,242.8 130.5,243.3 131,243.7 131.5,244 132,244.1 132.5,244.1 133,244 133.5,243.9 134,243.7 134.5,243.6 135,243.4 135.5,243.2 136,243.1 136.5,242.9 137,242.8 137.5,242.6 138,242.4 138.5,242.2 139,242.1 139.5,241.9 140,241.8 140.5,241.8 141,241.8 141.5,241.8 142,242 142.5,242.2 143,242.5 143.5,242.7 144,242.9 144.5,243.1 145,243.2 145.5,243.2 146,243.2 146.5,243 147,242.9 147.5,242.7 148,242.4 148.5,242.2 149,242 149.5,241.8 150,241.7 150.5,241.5 151,241.3 151.5,241.1 152,241 152.5,240.8 153,240.7 153.5,240.6 154,240.6 154.5,240.6 155,240.6 155.5,240.7 156,240.9 156.5,241 157,241.1 157.5,241.3 158,241.4 158.5,241.5 159,241.5 159.5,241.5 160,241.6 160.5,241.6 161,241.7 161.5,241.7 162,241.7 162.5,241.7 163,241.8 163.5,241.7 164,241.7 164.5,241.7 165,241.7 165.5,241.6 166,241.5 166.5,241.5 167,241.4 167.5,241.3 168,241.3 168.5,241.2 169,241.2 169.5,241.1 170,241 170.5,240.9 171,240.8 171.5,240.7 172,240.7 172.5,240.6 173,240.6 173.5,240.6 174,240.6 174.5,240.6 175,240.6 175.5,240.6 176,240.6 176.5,240.6 177,240.6 177.5,240.6 178,240.6 178.5,240.6 179,240.6 179.5,240.7 180,240.8 180.5,240.8 181,240.9 181.5,241 182,241.1 182.5,241.2 183,241.3 183.5,241.5 184,241.6 184.5,241.7 185,241.9 185.5,242.1 186,242.3 186.5,242.6 187,242.8 187.5,243.2 188,243.7 188.5,244.2 189,244.7 189.5,245.2 190,245.7 190.5,246.3 191,246.9 191.5,247.4 192,247.8 192.5,248 193,247.9 193.5,247.9 194,247.8 194.5,247.6 195,247.5 195.5,247.4 196,247.2 196.5,247.1 197,246.9 197.5,246.7 198,246.6 198.5,246.5 199,246.4 199.5,246.3 200,246.3 200.5,246.2 201,246.2 201.4,246.2" fill="none" stroke="#8a88c9" stroke-width="1.15" stroke-linejoin="round" stroke-linecap="round" />
<polyline points="36.8,288.2 37.3,288.2 37.8,288.1 38.3,288.1 38.8,288.1 39.3,288.1 39.8,288 40.3,288 40.8,288 41.3,288 41.8,287.9 42.3,287.9 42.8,287.9 43.3,287.9 43.8,287.9 44.3,287.8 44.8,287.8 45.3,287.8 45.8,287.8 46.3,287.8 46.8,287.7 47.3,287.7 47.8,287.7 48.3,287.7 48.8,287.7 49.3,287.6 49.8,287.6 50.3,287.6 50.8,287.4 51.3,287.2 51.8,286.9 52.3,286.5 52.8,286.1 53.3,285.7 53.8,285.2 54.3,284.5 54.8,283.8 55.3,283.2 55.8,282.7 56.3,282.2 56.8,281.8 57.3,281.5 57.8,281.5 58.3,281.7 58.8,282.1 59.3,282.4 59.8,282.9 60.3,283.6 60.8,284.3 61.3,284.6 61.8,284.1 62.3,282.8 62.8,281.2 63.3,279.6 63.8,278.2 64.3,276.7 64.8,275.2 65.3,273.7 65.8,272.4 66.3,271.4 66.8,270.4 67.3,269.6 67.8,268.9 68.3,268.2 68.8,267.7 69.3,267.3 69.8,266.8 70.3,266.3 70.8,265.9 71.3,265.5 71.8,264.9 72.3,264.3 72.8,263.4 73.3,262.3 73.8,261.2 74.3,260 74.8,258.7 75.3,257.3 75.8,255.8 76.3,254.5 76.8,253.5 77.3,252.8 77.8,252.2 78.3,251.7 78.8,251.6 79.3,252 79.8,252.7 80.3,253.6 80.8,254.7 81.3,256.3 81.8,258.2 82.3,260.4 82.8,263.1 83.3,266 83.8,268.6 84.3,271.5 84.8,274.3 85.3,276.4 85.8,277.2 86.3,276.9 86.8,276.1 87.3,275.1 87.8,274.2 88.3,273.7 88.8,273.1 89.3,272.6 89.8,272.2 90.3,272 90.8,272 91.3,272.1 91.8,272.3 92.3,272.5 92.8,272.7 93.3,272.9 93.8,273.1 94.3,273.3 94.8,273.5 95.3,273.7 95.8,273.9 96.3,274.1 96.8,274.3 97.3,274.5 97.8,274.8 98.3,275.1 98.8,275.6 99.3,276.1 99.8,276.7 100.3,277.2 100.8,277.8 101.3,278.3 101.8,278.9 102.3,279.6 102.8,280.1 103.3,280.4 103.8,280.4 104.3,280.1 104.8,279.8 105.3,279.4 105.8,279.1 106.3,278.9 106.8,278.6 107.3,278.4 107.8,278.2 108.3,278.1 108.8,278 109.3,278 109.8,278.2 110.3,278.4 110.8,278.8 111.3,279.1 111.8,279.5 112.3,279.8 112.8,280.2 113.3,280.6 113.8,281 114.3,281.5 114.8,282 115.3,282.4 115.8,282.8 116.3,283.2 116.8,283.6 117.3,284 117.8,284.4 118.3,284.8 118.8,285.2 119.3,285.5 119.8,285.9 120.3,286.2 120.8,286.6 121.3,287 121.8,287.4 122.3,287.8 122.8,288 123.3,288.2 123.8,288.2 124.3,288.1 124.8,288 125.3,287.9 125.8,287.8 126.3,287.6 126.8,287.5 127.3,287.3 127.8,287.1 128.3,286.8 128.8,286.6 129.3,286.4 129.8,286.2 130.3,286.2 130.8,286.1 131.3,286.1 131.8,286.1 132.3,286.1 132.8,286.1 133.3,286.1 133.8,286.1 134.3,286.2 134.8,286.2 135.3,286.2 135.8,286.3 136.3,286.3 136.8,286.3 137.3,286.4 137.8,286.4 138.3,286.4 138.8,286.4 139.3,286.5 139.8,286.5 140.3,286.5 140.8,286.5 141.3,286.5 141.8,286.6 142.3,286.6 142.8,286.6 143.3,286.7 143.8,286.7 144.3,286.7 144.8,286.8 145.3,286.8 145.8,286.9 146.3,287 146.8,287 147.3,287.1 147.8,287.2 148.3,287.2 148.8,287.2 149.3,287.3 149.8,287.3 150.3,287.2 150.8,287.1 151.3,287 151.8,286.9 152.3,286.7 152.8,286.6 153.3,286.5 153.8,286.4 154.3,286.4 154.8,286.4 155.3,286.4 155.8,286.4 156.3,286.5 156.8,286.5 157.3,286.5 157.8,286.6 158.3,286.7 158.8,286.7 159.3,286.9 159.8,287.1 160.3,287.3 160.8,287.4 161.3,287.6 161.8,287.6 162.3,287.5 162.8,287.4 163.3,287.3 163.8,287.2 164.3,287.1 164.8,286.9 165.3,286.8 165.8,286.7 166.3,286.6 166.8,286.6 167.3,286.5 167.8,286.4 168.3,286.4 168.8,286.3 169.3,286.3 169.8,286.2 170.3,286.2 170.8,286.1 171.3,286 171.8,286 172.3,285.9 172.8,285.9 173.3,285.8 173.8,285.7 174.3,285.7 174.8,285.6 175.3,285.5 175.8,285.4 176.3,285.3 176.8,285.2 177.3,285.2 177.8,285.1 178.3,285 178.8,285 179.3,284.9 179.8,284.9 180.3,284.8 180.8,284.8 181.3,284.8 181.8,284.7 182.3,284.7 182.8,284.7 183.3,284.7 183.8,284.6 184.3,284.6 184.8,284.6 185.3,284.6 185.8,284.6 186.3,284.6 186.8,284.6 187.3,284.6 187.8,284.6 188.3,284.6 188.8,284.6 189.3,284.6 189.8,284.6 190.3,284.6 190.8,284.6 191.3,284.6 191.8,284.6 192.3,284.7 192.8,284.7 193.3,284.7 193.8,284.8 194.3,284.9 194.8,284.9 195.3,285 195.8,285.1 196.3,285.1 196.8,285.2 197.3,285.2 197.8,285.3 198.3,285.3 198.8,285.4 199.3,285.4 199.8,285.5 200.3,285.5 200.8,285.6 201.3,285.6 201.8,285.7 202.3,285.7 202.8,285.8 202.9,285.8" fill="none" stroke="#22a3c6" stroke-width="1.15" stroke-linejoin="round" stroke-linecap="round" />
<polyline points="36.8,318.4 37.3,318.4 37.8,318.4 38.3,318.4 38.8,318.4 39.3,318.4 39.8,318.4 40.3,318.4 40.8,318.4 41.3,318.3 41.8,318.3 42.3,318.3 42.8,318.3 43.3,318.3 43.8,318.3 44.3,318.3 44.8,318.3 45.3,318.3 45.8,318.3 46.3,318.3 46.8,318.2 47.3,318.2 47.8,318.2 48.3,318.2 48.8,318.2 49.3,318.2 49.8,318.1 50.3,318.1 50.8,318 51.3,317.8 51.8,317.5 52.3,317.1 52.8,316.6 53.3,316.2 53.8,315.8 54.3,315.4 54.8,315 55.3,314.6 55.8,314.2 56.3,313.8 56.8,313.4 57.3,313.1 57.8,312.7 58.3,312.4 58.8,312.1 59.3,311.8 59.8,311.6 60.3,311.3 60.8,311 61.3,310.8 61.8,310.5 62.3,310.2 62.8,310 63.3,309.8 63.8,309.5 64.3,309.2 64.8,308.9 65.3,308.4 65.8,307.8 66.3,307 66.8,306.2 67.3,305.3 67.8,304.5 68.3,303.5 68.8,302.5 69.3,301.4 69.8,300.4 70.3,299.4 70.8,298.4 71.3,297.3 71.8,296.3 72.3,295.4 72.8,294.7 73.3,294 73.8,293.4 74.3,292.8 74.8,292.3 75.3,291.8 75.8,291.5 76.3,291.4 76.8,291.4 77.3,291.6 77.8,291.8 78.3,292.1 78.8,292.4 79.3,292.8 79.8,293.1 80.3,293.4 80.8,293.7 81.3,294.1 81.8,294.5 82.3,294.9 82.8,295.3 83.3,295.6 83.8,296 84.3,296.3 84.8,296.6 85.3,296.9 85.8,297.1 86.3,297.4 86.8,297.6 87.3,297.9 87.8,298.1 88.3,298.4 88.8,298.6 89.3,298.9 89.8,299.1 90.3,299.4 90.8,299.6 91.3,299.9 91.8,300.2 92.3,300.5 92.8,300.8 93.3,301.1 93.8,301.3 94.3,301.5 94.8,301.6 95.3,301.6 95.8,301.7 96.3,301.7 96.8,301.7 97.3,301.8 97.8,301.8 98.3,301.8 98.8,301.9 99.3,301.9 99.8,302 100.3,302.1 100.8,302.3 101.3,302.7 101.8,303 102.3,303.5 102.8,304 103.3,304.6 103.8,305.2 104.3,305.9 104.8,306.7 105.3,307.6 105.8,308.5 106.3,309.4 106.8,310.3 107.3,311.1 107.8,312.1 108.3,313 108.8,314 109.3,314.8 109.8,315.6 110.3,316.1 110.8,316.7 111.3,317.1 111.8,317.5 112.3,317.8 112.8,318 113.3,318.2 113.8,318.4 114.3,318.4 114.8,318.4 115.3,318.5 115.8,318.5 116.3,318.5 116.8,318.5 117.3,318.5 117.8,318.5 118.3,318.5 118.8,318.5 119.3,318.4 119.8,318.4 120.3,318.3 120.8,318.2 121.3,318.2 121.8,318.1 122.3,318.1 122.8,318 123.3,318 123.8,318 124.3,318.1 124.8,318.2 125.3,318.3 125.8,318.4 126.3,318.5 126.8,318.6 127.3,318.7 127.8,318.8 128.3,318.9 128.8,318.9 129.3,318.9 129.8,318.9 130.3,318.8 130.8,318.8 131.3,318.7 131.8,318.6 132.3,318.4 132.8,318.3 133.3,318.2 133.8,318.1 134.3,317.9 134.8,317.8 135.3,317.7 135.8,317.6 136.3,317.5 136.8,317.4 137.3,317.3 137.8,317.2 138.3,317.1 138.8,316.9 139.3,316.8 139.8,316.7 140.3,316.6 140.8,316.5 141.3,316.5 141.8,316.4 142.3,316.3 142.8,316.3 143.3,316.3 143.8,316.2 144.3,316.3 144.8,316.3 145.3,316.4 145.8,316.4 146.3,316.5 146.8,316.6 147.3,316.7 147.8,316.8 148.3,316.8 148.8,316.9 149.3,317 149.8,317.1 150.3,317.2 150.8,317.3 151.3,317.3 151.8,317.4 152.3,317.4 152.8,317.4 153.3,317.4 153.8,317.3 154.3,317.1 154.8,317 155.3,316.8 155.8,316.6 156.3,316.5 156.8,316.3 157.3,316.2 157.8,316.1 158.3,316 158.8,315.9 159.3,315.9 159.8,315.8 160.3,315.7 160.8,315.7 161.3,315.7 161.8,315.7 162.3,315.7 162.8,315.7 163.3,315.8 163.8,315.9 164.3,316 164.8,316.1 165.3,316.2 165.8,316.3 166.3,316.4 166.8,316.4 167.3,316.5 167.8,316.6 168.3,316.6 168.8,316.7 169.3,316.8 169.8,316.8 170.3,316.9 170.8,317 171.3,317 171.8,317.1 172.3,317.1 172.8,317.1 173.3,317.1 173.8,317.1 174.3,317.1 174.8,317.1 175.3,317 175.8,317 176.3,316.9 176.8,316.9 177.3,316.8 177.8,316.8 178.3,316.7 178.8,316.6 179.3,316.6 179.8,316.6 180.3,316.5 180.8,316.5 181.3,316.5 181.8,316.5 182.3,316.5 182.8,316.5 183.3,316.5 183.8,316.5 184.3,316.5 184.8,316.5 185.3,316.5 185.8,316.5 186.3,316.5 186.8,316.5 187.3,316.5 187.8,316.5 188.3,316.5 188.8,316.6 189.3,316.6 189.8,316.6 190.3,316.7 190.8,316.7 191.3,316.8 191.8,316.9 192.3,316.9 192.8,317 193.3,317.1 193.8,317.2 194.3,317.3 194.8,317.3 195.3,317.4 195.8,317.5 196.3,317.5 196.8,317.6 197.3,317.6 197.8,317.7 198.3,317.8 198.8,317.8 199.3,317.9 199.8,317.9 200.3,318 200.8,318.1 201.3,318.1 201.8,318.2 202.3,318.2 202.8,318.3 202.9,318.3" fill="none" stroke="#d4666e" stroke-width="1.15" stroke-linejoin="round" stroke-linecap="round" />
<rect x="36.8" y="193" width="164.7" height="134" fill="none" stroke="#222" stroke-width="1" />
<line x1="36.8" y1="327" x2="36.8" y2="329.3" stroke="#222" stroke-width="0.9" />
<text x="36.8" y="337.2" font-size="7.7" text-anchor="middle" fill="#000" stroke="#000" stroke-width="0.16" >0</text>
<line x1="64.2" y1="327" x2="64.2" y2="329.3" stroke="#222" stroke-width="0.9" />
<text x="64.2" y="337.2" font-size="7.7" text-anchor="middle" fill="#000" stroke="#000" stroke-width="0.16" >1</text>
<line x1="91.7" y1="327" x2="91.7" y2="329.3" stroke="#222" stroke-width="0.9" />
<text x="91.7" y="337.2" font-size="7.7" text-anchor="middle" fill="#000" stroke="#000" stroke-width="0.16" >2</text>
<line x1="119.1" y1="327" x2="119.1" y2="329.3" stroke="#222" stroke-width="0.9" />
<text x="119.1" y="337.2" font-size="7.7" text-anchor="middle" fill="#000" stroke="#000" stroke-width="0.16" >3</text>
<line x1="146.6" y1="327" x2="146.6" y2="329.3" stroke="#222" stroke-width="0.9" />
<text x="146.6" y="337.2" font-size="7.7" text-anchor="middle" fill="#000" stroke="#000" stroke-width="0.16" >4</text>
<line x1="174.1" y1="327" x2="174.1" y2="329.3" stroke="#222" stroke-width="0.9" />
<text x="174.1" y="337.2" font-size="7.7" text-anchor="middle" fill="#000" stroke="#000" stroke-width="0.16" >5</text>
<line x1="201.5" y1="327" x2="201.5" y2="329.3" stroke="#222" stroke-width="0.9" />
<text x="201.5" y="337.2" font-size="7.7" text-anchor="middle" fill="#000" stroke="#000" stroke-width="0.16" >6</text>
<line x1="50.5" y1="327" x2="50.5" y2="328.4" stroke="#222" stroke-width="0.8" />
<line x1="78" y1="327" x2="78" y2="328.4" stroke="#222" stroke-width="0.8" />
<line x1="105.4" y1="327" x2="105.4" y2="328.4" stroke="#222" stroke-width="0.8" />
<line x1="132.9" y1="327" x2="132.9" y2="328.4" stroke="#222" stroke-width="0.8" />
<line x1="160.3" y1="327" x2="160.3" y2="328.4" stroke="#222" stroke-width="0.8" />
<line x1="187.8" y1="327" x2="187.8" y2="328.4" stroke="#222" stroke-width="0.8" />
<text x="200" y="240.7" font-size="7.4" text-anchor="end" fill="#000" stroke="#000" stroke-width="0.16" >-0.8 V</text>
<text x="200" y="281.7" font-size="7.4" text-anchor="end" fill="#000" stroke="#000" stroke-width="0.16" >-0.4 V</text>
<text x="198.4" y="316.3" font-size="7.4" text-anchor="end" fill="#000" stroke="#000" stroke-width="0.16" >OCP</text>
<text x="29.2" y="260" font-size="8" text-anchor="middle" fill="#000" stroke="#000" stroke-width="0.16" transform="rotate(-90 29.2 260)">|FT(<tspan font-style="italic">k</tspan><tspan font-size="5.5" dy="-3">3</tspan><tspan dy="3"> χ(k))|(Å</tspan><tspan font-size="5.5" dy="-3">-3</tspan><tspan dy="3">)</tspan></text>
<text x="118.8" y="346.6" font-size="9" text-anchor="middle" fill="#000" stroke="#000" stroke-width="0.16"><tspan font-style="italic">R</tspan> (Å)</text>
<text x="78" y="203" font-size="7.2" text-anchor="middle" fill="#000" stroke="#000" stroke-width="0.16" >Sn-N/C/O</text>
<text x="199" y="202.4" font-size="7.0" text-anchor="end" fill="#000" stroke="#000" stroke-width="0.16" >Sn K-edge</text>
<text x="97.4" y="220.6" font-size="7.2" text-anchor="start" fill="#000" stroke="#000" stroke-width="0.16" >Sn-S</text>
<text x="112.8" y="229.6" font-size="7.2" text-anchor="start" fill="#000" stroke="#000" stroke-width="0.16" >Sn-Zn</text>
<line x1="96.8" y1="220" x2="88.5" y2="229.3" stroke="#111" stroke-width="0.7" />
<polygon points="88.5,229.3 89.3,226.8 90.8,228.2" fill="#111"/>
<line x1="112.3" y1="227.8" x2="105.2" y2="233.2" stroke="#111" stroke-width="0.7" />
<polygon points="105.2,233.2 106.5,230.9 107.7,232.6" fill="#111"/>
<text x="215.5" y="201.6" font-size="16" text-anchor="start" fill="#000" stroke="#000" stroke-width="0.16" font-weight="bold" >d</text>
<polyline points="241.5,231.4 242,231.4 242.5,231.3 243,231.3 243.5,231.3 244,231.2 244.5,231.2 245,231.1 245.5,231.1 246,231 246.5,231 247,230.9 247.5,230.9 248,230.8 248.5,230.8 249,230.9 249.5,231 250,231.1 250.5,231.3 251,231.4 251.5,231.5 252,231.6 252.5,231.7 253,231.7 253.5,231.6 254,231.4 254.5,231.2 255,231 255.5,230.9 256,230.7 256.5,230.6 257,230.5 257.5,230.4 258,230.3 258.5,230.2 259,230.3 259.5,230.4 260,230.6 260.5,230.8 261,231 261.5,231.1 262,231.2 262.5,231.3 263,231.3 263.5,231.4 264,231.5 264.5,231.5 265,231.6 265.5,231.6 266,231.7 266.5,231.7 267,231.7 267.5,231.6 268,231.4 268.5,231.1 269,230.7 269.5,230.3 270,229.9 270.5,229.4 271,228.9 271.5,228.3 272,227.7 272.5,227 273,226.2 273.5,225.1 274,223.9 274.5,222.6 275,221.2 275.5,219.8 276,218.5 276.5,217.2 277,215.9 277.5,214.6 278,213.3 278.5,212.2 279,211.2 279.5,210.2 280,209.3 280.5,208.4 281,207.7 281.5,207.1 282,206.6 282.5,206.2 283,205.8 283.5,205.5 284,205.2 284.5,204.9 285,204.8 285.5,204.8 286,205 286.5,205.3 287,205.7 287.5,206.2 288,206.6 288.5,207.1 289,207.7 289.5,208.4 290,209.2 290.5,210 291,211 291.5,211.9 292,212.9 292.5,214 293,215.3 293.5,216.7 294,218.2 294.5,219.6 295,221 295.5,222.2 296,223.5 296.5,224.8 297,226 297.5,227 298,227.9 298.5,228.6 299,229.3 299.5,229.9 300,230.4 300.5,230.7 301,230.8 301.5,230.6 302,230.2 302.5,229.6 303,228.9 303.5,228.3 304,227.8 304.5,227.3 305,226.8 305.5,226.2 306,225.7 306.5,225.2 307,224.8 307.5,224.5 308,224.4 308.5,224.3 309,224.4 309.5,224.4 310,224.5 310.5,224.7 311,224.9 311.5,225 312,225.2 312.5,225.4 313,225.6 313.5,225.8 314,226 314.5,226.3 315,226.6 315.5,226.9 316,227.1 316.5,227.4 317,227.7 317.5,228 318,228.3 318.5,228.7 319,229 319.5,229.3 320,229.6 320.5,229.9 321,230.2 321.5,230.5 322,230.7 322.5,231 323,231.3 323.5,231.5 324,231.6 324.5,231.7 325,231.7 325.5,231.5 326,231.4 326.5,231.1 327,230.9 327.5,230.6 328,230.4 328.5,230.2 329,230 329.5,229.9 330,229.7 330.5,229.6 331,229.4 331.5,229.4 332,229.3 332.5,229.3 333,229.4 333.5,229.4 334,229.4 334.5,229.5 335,229.5 335.5,229.5 336,229.6 336.5,229.6 337,229.7 337.5,229.7 338,229.8 338.5,229.8 339,229.9 339.5,229.9 340,229.9 340.5,229.9 341,229.9 341.5,229.9 342,229.9 342.5,229.9 343,229.9 343.5,229.9 344,229.9 344.5,229.9 345,229.9 345.5,229.9 346,229.9 346.5,229.9 347,229.9 347.5,229.9 348,229.9 348.5,229.9 349,229.9 349.5,229.9 350,229.9 350.5,229.9 351,229.9 351.5,229.9 352,229.9 352.5,229.9 353,229.9 353.5,229.9 354,229.9 354.5,229.9 355,229.9 355.5,229.9 356,229.9 356.5,229.9 357,229.9 357.5,230 358,230 358.5,230 359,230 359.5,230.1 360,230.1 360.5,230.1 361,230.2 361.5,230.2 362,230.2 362.5,230.3 363,230.3 363.5,230.4 364,230.4 364.5,230.4 365,230.5 365.5,230.5 366,230.6 366.5,230.6 367,230.6 367.5,230.7 368,230.7 368.5,230.7 369,230.8 369.5,230.8 370,230.8 370.5,230.8 371,230.8 371.5,230.8 372,230.9 372.5,230.9 373,230.9 373.5,230.9 374,230.9 374.5,230.9 375,230.9 375.5,230.9 376,231 376.5,231 377,231 377.5,231 378,231 378.5,231 379,231 379.5,231 380,231 380.5,231 381,231 381.5,231.1 382,231.1 382.5,231.1 383,231.1 383.5,231.1 384,231.1 384.5,231.1 385,231.1 385.5,231.1 386,231.1 386.5,231.1 387,231.1 387.5,231.2 388,231.2 388.5,231.2 389,231.2 389.5,231.2 390,231.2 390.5,231.2 391,231.2 391.5,231.2 392,231.2 392.5,231.2 393,231.2 393.5,231.2 394,231.3 394.5,231.3 395,231.3 395.5,231.3 396,231.3 396.5,231.3 397,231.3 397.5,231.3 398,231.3 398.5,231.3 399,231.3 399.5,231.3 400,231.3 400.5,231.3 401,231.3 401.5,231.4 402,231.4 402.5,231.4 403,231.4 403.5,231.4 404,231.4 404.5,231.4 405,231.4 405.5,231.4 406,231.4 406.4,231.4" fill="none" stroke="#8a88c9" stroke-width="1.15" stroke-linejoin="round" stroke-linecap="round" />
<polyline points="241.5,267.8 242,268 242.5,268.2 243,268.4 243.5,268.6 244,268.8 244.5,269 245,269.1 245.5,269.3 246,269.4 246.5,269.5 247,269.5 247.5,269.4 248,269.1 248.5,268.8 249,268.5 249.5,268.2 250,268 250.5,267.8 251,267.6 251.5,267.4 252,267.3 252.5,267.2 253,267.2 253.5,267.3 254,267.4 254.5,267.5 255,267.7 255.5,267.8 256,268 256.5,268.1 257,268.2 257.5,268.4 258,268.5 258.5,268.6 259,268.6 259.5,268.6 260,268 260.5,267.1 261,266 261.5,265 262,264.1 262.5,263.2 263,262.3 263.5,261.4 264,260.5 264.5,259.8 265,259.1 265.5,258.5 266,258 266.5,257.6 267,257.2 267.5,256.8 268,256.4 268.5,256.1 269,255.7 269.5,255.5 270,255.2 270.5,254.9 271,254.7 271.5,254.4 272,254 272.5,253.6 273,253 273.5,252.1 274,251.1 274.5,249.9 275,248.8 275.5,247.7 276,246.6 276.5,245.4 277,244.3 277.5,243.1 278,242.1 278.5,241.1 279,240.1 279.5,239.2 280,238.3 280.5,237.6 281,237.2 281.5,236.8 282,236.4 282.5,236.1 283,235.9 283.5,235.8 284,236 284.5,236.3 285,236.8 285.5,237.4 286,238 286.5,238.6 287,239.4 287.5,240.2 288,241.1 288.5,242 289,243.1 289.5,244.3 290,245.7 290.5,247.2 291,248.7 291.5,250.2 292,251.6 292.5,253.1 293,254.6 293.5,256.1 294,257.4 294.5,258.5 295,259.3 295.5,260.1 296,260.9 296.5,261.5 297,262.1 297.5,262.5 298,262.7 298.5,262.7 299,262.6 299.5,262.5 300,262.3 300.5,262 301,261.8 301.5,261.5 302,261.3 302.5,261.1 303,260.9 303.5,260.6 304,260.4 304.5,260.1 305,259.9 305.5,259.8 306,259.8 306.5,259.9 307,260.1 307.5,260.4 308,260.7 308.5,261.1 309,261.5 309.5,261.9 310,262.2 310.5,262.6 311,263 311.5,263.4 312,263.9 312.5,264.3 313,264.7 313.5,265.1 314,265.5 314.5,265.8 315,266.1 315.5,266.5 316,266.8 316.5,267.1 317,267.4 317.5,267.7 318,267.9 318.5,268.1 319,268.3 319.5,268.5 320,268.7 320.5,268.8 321,269 321.5,269.1 322,269.2 322.5,269.2 323,269.2 323.5,269.2 324,269.1 324.5,269 325,268.9 325.5,268.7 326,268.6 326.5,268.4 327,268.3 327.5,268.1 328,268 328.5,267.9 329,267.8 329.5,267.6 330,267.5 330.5,267.4 331,267.3 331.5,267.2 332,267.1 332.5,267 333,266.9 333.5,266.8 334,266.8 334.5,266.7 335,266.7 335.5,266.6 336,266.6 336.5,266.5 337,266.5 337.5,266.5 338,266.4 338.5,266.4 339,266.4 339.5,266.3 340,266.3 340.5,266.3 341,266.3 341.5,266.2 342,266.2 342.5,266.2 343,266.2 343.5,266.1 344,266.1 344.5,266.1 345,266.1 345.5,266 346,266 346.5,266 347,266 347.5,266 348,266 348.5,266 349,266.1 349.5,266.2 350,266.4 350.5,266.6 351,266.7 351.5,266.9 352,267.1 352.5,267.2 353,267.4 353.5,267.5 354,267.7 354.5,267.9 355,268.1 355.5,268.2 356,268.3 356.5,268.3 357,268.4 357.5,268.3 358,268.2 358.5,268.1 359,268 359.5,267.9 360,267.7 360.5,267.6 361,267.5 361.5,267.4 362,267.3 362.5,267.2 363,267.2 363.5,267.1 364,267 364.5,266.9 365,266.9 365.5,266.9 366,266.9 366.5,266.9 367,266.9 367.5,267 368,267 368.5,267.1 369,267.2 369.5,267.3 370,267.4 370.5,267.4 371,267.5 371.5,267.6 372,267.7 372.5,267.8 373,267.9 373.5,267.9 374,268 374.5,268.1 375,268.1 375.5,268.2 376,268.2 376.5,268.2 377,268.3 377.5,268.3 378,268.4 378.5,268.4 379,268.5 379.5,268.5 380,268.5 380.5,268.6 381,268.6 381.5,268.6 382,268.6 382.5,268.6 383,268.7 383.5,268.7 384,268.7 384.5,268.6 385,268.6 385.5,268.6 386,268.6 386.5,268.6 387,268.6 387.5,268.6 388,268.6 388.5,268.5 389,268.5 389.5,268.5 390,268.5 390.5,268.5 391,268.4 391.5,268.4 392,268.4 392.5,268.4 393,268.4 393.5,268.4 394,268.4 394.5,268.4 395,268.4 395.5,268.4 396,268.4 396.5,268.4 397,268.4 397.5,268.4 398,268.4 398.5,268.4 399,268.4 399.5,268.4 400,268.4 400.5,268.4 401,268.4 401.5,268.5 402,268.5 402.5,268.5 403,268.5 403.5,268.5 404,268.5 404.5,268.6 405,268.6 405.5,268.6 406,268.6 406.4,268.7" fill="none" stroke="#22a3c6" stroke-width="1.15" stroke-linejoin="round" stroke-linecap="round" />
<polyline points="241.5,317.4 242,317.7 242.5,318 243,318.2 243.5,318.4 244,318.7 244.5,318.9 245,319.2 245.5,319.4 246,319.5 246.5,319.5 247,319.2 247.5,318.9 248,318.4 248.5,317.9 249,317.5 249.5,317.2 250,316.9 250.5,316.6 251,316.3 251.5,316.1 252,316 252.5,316 253,316.3 253.5,316.7 254,317.1 254.5,317.5 255,317.8 255.5,318.1 256,318.4 256.5,318.6 257,318.8 257.5,318.9 258,318.8 258.5,318.4 259,317.5 259.5,316.4 260,315.2 260.5,314.1 261,313 261.5,311.7 262,310.3 262.5,308.9 263,307.7 263.5,306.9 264,306.6 264.5,306.3 265,306 265.5,305.8 266,305.7 266.5,305.6 267,305.7 267.5,305.9 268,306.3 268.5,306.7 269,307 269.5,307.3 270,307.6 270.5,307.7 271,306.9 271.5,305.2 272,302.9 272.5,300.4 273,298.1 273.5,295.6 274,292.9 274.5,290.1 275,287.6 275.5,285.5 276,283.8 276.5,282.1 277,280.6 277.5,279.3 278,278.1 278.5,277.1 279,276.2 279.5,275.5 280,274.7 280.5,274.1 281,273.5 281.5,273.1 282,272.8 282.5,272.8 283,273.1 283.5,273.6 284,274.2 284.5,275 285,275.8 285.5,276.8 286,278.1 286.5,279.7 287,281.4 287.5,283.2 288,285.4 288.5,287.9 289,290.6 289.5,293.3 290,296.1 290.5,299 291,302 291.5,304.9 292,307.4 292.5,309.8 293,312.1 293.5,314.1 294,315.5 294.5,316.9 295,317.8 295.5,318 296,317.6 296.5,316.8 297,315.9 297.5,315 298,314.2 298.5,313.6 299,313.1 299.5,312.5 300,311.9 300.5,311.4 301,311 301.5,310.8 302,310.6 302.5,310.7 303,310.9 303.5,311.2 304,311.6 304.5,312 305,312.4 305.5,312.9 306,313.3 306.5,313.8 307,314.4 307.5,315 308,315.6 308.5,316.1 309,316.4 309.5,316.5 310,316.5 310.5,316.3 311,316 311.5,315.7 312,315.3 312.5,315 313,314.8 313.5,314.6 314,314.4 314.5,314.2 315,314 315.5,313.8 316,313.7 316.5,313.6 317,313.6 317.5,313.7 318,313.8 318.5,314.1 319,314.4 319.5,314.7 320,315 320.5,315.2 321,315.5 321.5,315.8 322,316.1 322.5,316.5 323,316.7 323.5,317 324,317.1 324.5,317.1 325,317.1 325.5,317 326,316.8 326.5,316.6 327,316.5 327.5,316.3 328,316.1 328.5,316 329,315.9 329.5,315.8 330,315.7 330.5,315.6 331,315.5 331.5,315.5 332,315.4 332.5,315.4 333,315.4 333.5,315.4 334,315.4 334.5,315.4 335,315.5 335.5,315.6 336,315.7 336.5,315.8 337,315.9 337.5,315.9 338,316 338.5,316.1 339,316.2 339.5,316.3 340,316.4 340.5,316.5 341,316.6 341.5,316.7 342,316.8 342.5,316.9 343,317.1 343.5,317.2 344,317.4 344.5,317.5 345,317.6 345.5,317.8 346,317.9 346.5,318 347,318.1 347.5,318.2 348,318.3 348.5,318.4 349,318.5 349.5,318.5 350,318.6 350.5,318.7 351,318.7 351.5,318.8 352,318.8 352.5,318.9 353,318.9 353.5,318.9 354,318.9 354.5,318.9 355,318.8 355.5,318.7 356,318.5 356.5,318.4 357,318.2 357.5,318 358,317.9 358.5,317.7 359,317.6 359.5,317.5 360,317.4 360.5,317.3 361,317.2 361.5,317.2 362,317.1 362.5,317 363,317 363.5,316.9 364,316.9 364.5,316.9 365,316.8 365.5,316.8 366,316.8 366.5,316.8 367,316.9 367.5,316.9 368,316.9 368.5,316.9 369,317 369.5,317 370,317 370.5,317.1 371,317.1 371.5,317.2 372,317.2 372.5,317.3 373,317.3 373.5,317.4 374,317.4 374.5,317.4 375,317.5 375.5,317.5 376,317.5 376.5,317.6 377,317.6 377.5,317.7 378,317.7 378.5,317.8 379,317.8 379.5,317.8 380,317.9 380.5,317.9 381,317.9 381.5,318 382,318 382.5,318 383,318 383.5,318 384,318 384.5,318 385,317.9 385.5,317.8 386,317.8 386.5,317.7 387,317.6 387.5,317.6 388,317.5 388.5,317.5 389,317.4 389.5,317.4 390,317.4 390.5,317.4 391,317.4 391.5,317.4 392,317.4 392.5,317.4 393,317.4 393.5,317.4 394,317.4 394.5,317.4 395,317.4 395.5,317.4 396,317.5 396.5,317.5 397,317.6 397.5,317.7 398,317.8 398.5,317.9 399,318 399.5,318.1 400,318.2 400.5,318.3 401,318.4 401.5,318.4 402,318.5 402.5,318.5 403,318.6 403.5,318.7 404,318.7 404.5,318.8 405,318.8 405.5,318.8 406,318.9 406.4,318.9" fill="none" stroke="#d4666e" stroke-width="1.15" stroke-linejoin="round" stroke-linecap="round" />
<rect x="241.5" y="193" width="164.9" height="134" fill="none" stroke="#222" stroke-width="1" />
<line x1="241.5" y1="327" x2="241.5" y2="329.3" stroke="#222" stroke-width="0.9" />
<text x="241.5" y="337.2" font-size="7.7" text-anchor="middle" fill="#000" stroke="#000" stroke-width="0.16" >0</text>
<line x1="269" y1="327" x2="269" y2="329.3" stroke="#222" stroke-width="0.9" />
<text x="269" y="337.2" font-size="7.7" text-anchor="middle" fill="#000" stroke="#000" stroke-width="0.16" >1</text>
<line x1="296.5" y1="327" x2="296.5" y2="329.3" stroke="#222" stroke-width="0.9" />
<text x="296.5" y="337.2" font-size="7.7" text-anchor="middle" fill="#000" stroke="#000" stroke-width="0.16" >2</text>
<line x1="323.9" y1="327" x2="323.9" y2="329.3" stroke="#222" stroke-width="0.9" />
<text x="323.9" y="337.2" font-size="7.7" text-anchor="middle" fill="#000" stroke="#000" stroke-width="0.16" >3</text>
<line x1="351.4" y1="327" x2="351.4" y2="329.3" stroke="#222" stroke-width="0.9" />
<text x="351.4" y="337.2" font-size="7.7" text-anchor="middle" fill="#000" stroke="#000" stroke-width="0.16" >4</text>
<line x1="378.9" y1="327" x2="378.9" y2="329.3" stroke="#222" stroke-width="0.9" />
<text x="378.9" y="337.2" font-size="7.7" text-anchor="middle" fill="#000" stroke="#000" stroke-width="0.16" >5</text>
<line x1="406.4" y1="327" x2="406.4" y2="329.3" stroke="#222" stroke-width="0.9" />
<text x="406.4" y="337.2" font-size="7.7" text-anchor="middle" fill="#000" stroke="#000" stroke-width="0.16" >6</text>
<line x1="255.2" y1="327" x2="255.2" y2="328.4" stroke="#222" stroke-width="0.8" />
<line x1="282.7" y1="327" x2="282.7" y2="328.4" stroke="#222" stroke-width="0.8" />
<line x1="310.2" y1="327" x2="310.2" y2="328.4" stroke="#222" stroke-width="0.8" />
<line x1="337.7" y1="327" x2="337.7" y2="328.4" stroke="#222" stroke-width="0.8" />
<line x1="365.2" y1="327" x2="365.2" y2="328.4" stroke="#222" stroke-width="0.8" />
<line x1="392.7" y1="327" x2="392.7" y2="328.4" stroke="#222" stroke-width="0.8" />
<text x="403.3" y="229.1" font-size="7.4" text-anchor="end" fill="#000" stroke="#000" stroke-width="0.16" >-0.8 V</text>
<text x="403.3" y="266.9" font-size="7.4" text-anchor="end" fill="#000" stroke="#000" stroke-width="0.16" >-0.4 V</text>
<text x="398.7" y="315.7" font-size="7.4" text-anchor="end" fill="#000" stroke="#000" stroke-width="0.16" >OCP</text>
<text x="233.2" y="260" font-size="8" text-anchor="middle" fill="#000" stroke="#000" stroke-width="0.16" transform="rotate(-90 233.2 260)">|FT(<tspan font-style="italic">k</tspan><tspan font-size="5.5" dy="-3">3</tspan><tspan dy="3"> χ(k))|(Å</tspan><tspan font-size="5.5" dy="-3">-3</tspan><tspan dy="3">)</tspan></text>
<text x="323.8" y="346.6" font-size="9" text-anchor="middle" fill="#000" stroke="#000" stroke-width="0.16"><tspan font-style="italic">R</tspan> (Å)</text>
<text x="284.4" y="201.5" font-size="7.2" text-anchor="middle" fill="#000" stroke="#000" stroke-width="0.16" >Zn-N</text>
<text x="404" y="202.4" font-size="7.0" text-anchor="end" fill="#000" stroke="#000" stroke-width="0.16" >Zn K-edge</text>
<text x="299.4" y="222.2" font-size="7.2" text-anchor="start" fill="#000" stroke="#000" stroke-width="0.16" >Zn-Sn</text>
<clipPath id="hme1"><rect x="0" y="0" width="128.6" height="45.3"/></clipPath>
<g clip-path="url(#hme1)" transform="translate(46.5 360.2)" stroke-width="0.4" fill-rule="evenodd">
<rect x="0" y="0" width="128.6" height="45.3" fill="#0d0000"/>
<path d="M69 -0.1 71.3 -1 101.9 -1 106.9 1 110.1 3 111.3 5 111.8 8 112.8 9 114 9.6 118 10.2 126 9.2 130 9.6 130 47 -1 47 -1 25.8 6 23.7 23.1 20 48 13.5 53 11 62 3.7 65 1.8ZM105.7 35 102.4 36 103.1 37 108 37.8 112 37.9 115.4 37 115.5 36 112.7 35Z" fill="#280000" stroke="#ff9c40" stroke-opacity="0.9"/>
<path d="M80 -0 84 -0.4 88 -0.2 92 0.5 95 1.5 98.7 4 101.8 9 103.8 11 107 12.8 110 13.9 115.6 15 126 15.1 130 15.9 130 46.8 122.4 47 118 45.3 115 44.9 113 45.3 109 47 -1 47 -1 30.1 5 27.4 11 25.4 50 16 55.9 13 64 6.3 68 3.8 74 1.3ZM105 34 100.7 35 99.2 36 99.7 37 102.2 38 113 39.8 115 39.7 117 39.1 118.9 38 119.7 37 119.5 36 118.2 35 115 34 110 33.6Z" fill="#500000" stroke="#ff9c40" stroke-opacity="0.9"/>
<path d="M76 3 83 2 89 2.8 91 3.5 93.3 5 97.4 10 99.6 12 102.9 14 105.3 15 109 16.2 114 17.2 125 17.5 130 18.6 130 43.4 128 44.3 126 44.6 124 44.3 122 43.4 120.3 42 120.1 41 122.3 38 122.7 37 122.3 36 121 34.9 117 33.3 114 32.6 110 32.5 101 33.9 98.1 35 97 36 97.4 37 99.3 38 106.6 40 109.1 41 110.1 42 109.9 43 109 44 107 45.3 103.5 47 -0.5 47 -1 46.7 -1 33.6 2 31.8 8 28.8 15 26.5 30 22.6 46.5 19 52.9 17 58.3 14 68 6.3 72 4.3Z" fill="#770000" stroke="#ff9c40" stroke-opacity="0.9"/>
<path d="M76 4.9 82 4.1 85 4.4 87.3 5 90 6.5 95.6 12 98.4 14 102.4 16 107 17.6 115 19.3 126 19.5 130 20.8 130 38.6 129 40 128 40.7 127 41 126 40.9 125.3 40 126.1 38 126 37 125.3 36 123.9 35 120 33.2 116 31.8 113 31.2 110 31.2 106 31.7 100 33.3 96 35 95.2 36 95.5 37 97 38 105 40.9 106.2 42 106.1 43 104 44.8 98.7 47 4.6 47 -1 43.8 -1 36.3 7 31.5 13 28.9 21 26.4 32 23.6 48.5 20 54 18.2 60 15 69 8 72 6.3Z" fill="#9e0000" stroke="#ff9c40" stroke-opacity="0.9"/>
<path d="M76 6.8 81 6.1 85.6 7 88 8.4 93.6 13 98 15.9 103 18.2 109 20.2 115 21.4 125 21.1 129 22.3 130 22.9 130 34.5 128 34.8 126 34.4 116 30.2 113 29.3 109 29.3 104 30.6 96 33.9 94.3 35 93.6 36 93.9 37 95.2 38 102.2 41 103.2 42 103 43 101.9 44 100 45 93.4 47 9 47 2 43.3 -0.4 41 -0.6 40 -0.4 39 1.4 37 5 34.6 11 31.5 18 28.7 25 26.6 49.4 21 55.6 19 61.3 16 70.7 9Z" fill="#ca0600" stroke="#ff9c40" stroke-opacity="0.9"/>
<path d="M75 9 80 8.2 84.2 9 87 10.5 97 17.2 106.4 22 109.2 24 109.2 25 102 28.5 98.8 31 93.9 34 92.7 35 92.2 36 92.4 37 93.5 38 99.5 41 100.3 42 100 43 99 43.8 95 45.4 87 47 13.1 47 6 43.7 3.5 42 2.6 41 2.3 40 2.5 39 4.2 37 8 34.6 13 32.2 19 29.7 26 27.5 49.8 22 56.2 20 62.4 17 70.8 11ZM122 23 125 22.9 127 23.4 128.4 24 130 25.3 130 32.3 129 32.8 127 33.1 123 32 119.4 30 116.3 27 115.8 26 116.1 25 117.9 24Z" fill="#e71100" stroke="#ff9c40" stroke-opacity="0.9"/>
<path d="M75 11 78 10.3 80 10.3 84 11.3 93 16.3 98.1 20 100.2 22 100.8 23 100.8 24 100.2 25 97.4 28 95.7 31 92 34.3 90.9 36 91 37 91.9 38 96.9 41 97.5 42 96.9 43 95 44 92 44.9 80.3 47 16.9 47 9 43.6 6.3 42 5.3 41 4.9 40 5 39 6.8 37 10 35 15 32.6 21 30.3 29 27.7 49.7 23 56.4 21 63.1 18 71 12.9ZM122 26 124 25.2 127 25.8 128 26.6 128.9 28 128.8 30 128 30.9 127 31.2 125 31.1 123 30.1 121.8 29 121.3 28 121.3 27Z" fill="#f31f00" stroke="#ff9c40" stroke-opacity="0.9"/>
<path d="M75 13 77 12.5 80 12.4 85 13.6 91.6 17 94.2 19 96 21 96.6 22 96.6 24 94.4 28 93.3 31 90 35 89.6 36 89.7 37 90.4 38 94.3 41 94.5 42 93.4 43 89 44.4 75.1 47 20.6 47 10.6 43 8 41.2 7.3 40 7.4 39 9.1 37 12.4 35 18 32.5 30 28.5 49.2 24 56.3 22 63.6 19 72 14.3Z" fill="#fb3b00" stroke="#ff9c40" stroke-opacity="0.9"/>
<path d="M75 14.8 80 14.2 85 15.1 88 16.4 90.8 18 93.7 21 94.2 23 93.7 25 91 32 88.8 35 88.4 36 88.9 38 91.5 41 91 42.1 87 43.6 70.7 47 24.4 47 13.3 43 11 41.7 9.5 40 9.6 39 11.3 37 14.7 35 20 32.8 32 28.9 56 23 63.9 20Z" fill="#ff6900" stroke="#ff9c40" stroke-opacity="0.9"/>
<path d="M77 15.8 81 15.6 86 16.8 90 19 91.8 21 92.3 23 91.9 25 89.4 32 87.2 36 87.2 37 88.6 40 88.7 41 87.5 42 84.3 43 66.8 47 28.4 47 22 45.2 16 43.1 13 41.5 11.7 40 11.6 39 13.3 37 17 35 23 32.6 33 29.5 55.3 24 63.8 21 74 16.6Z" fill="#ffaa00" stroke="#ffaa00" stroke-opacity="0"/>
<path d="M78 17 82 16.9 86 17.9 89.2 20 90.5 22 90.4 25 88 32 86.1 36 86.4 40 85.7 41 83.6 42 62.8 47 32.8 47 26 45.4 19 43.2 16 41.9 14.5 41 13.7 40 13.6 39 14.1 38 15.3 37 19 35 23 33.4 33 30.3 55 24.8 63.5 22 73 18.2Z" fill="#ffd700" stroke="#ffd700" stroke-opacity="0"/>
<path d="M79 18 83 18.2 86 19.1 88.4 21 89.2 23 89 25 86.8 32 85 36 84.7 39 84 40.2 81 41.7 67 45.3 58.1 47 38.2 47 30 45.5 23 43.7 18.4 42 16.7 41 15.7 40 15.5 39 16 38 17.2 37 21 35 25 33.5 35 30.5 54 25.8 62.9 23 73 19.3Z" fill="#fbea03" stroke="#fbea03" stroke-opacity="0"/>
<path d="M79 19 82 19 85.3 20 87.5 22 87.9 24 85.6 32 83 39 82 40.1 79 41.4 68 44.4 61 45.8 54 46.7 47 46.9 39 46.3 29 44.5 21 42.1 18.7 41 17.6 40 17.4 39 17.8 38 19 37 22 35.4 26 33.9 34 31.5 53 26.8 74 19.9Z" fill="#f4ef08" stroke="#f4ef08" stroke-opacity="0"/>
<path d="M78 20 81 19.9 84 20.6 85.9 22 86.6 24 86.3 26 84.5 32 82.1 38 81.4 39 80.1 40 77 41.3 68 43.7 60 45.3 53 46.1 46 46.2 37 45.3 27 43.2 20.8 41 19.5 40 19.2 39 19.6 38 20.8 37 24 35.4 28 33.9 54 27.2 73 21.1Z" fill="#e0ed15" stroke="#e0ed15" stroke-opacity="0"/>
<path d="M78 20.9 81.7 21 84 22 84.9 23 85.3 25 83.1 33 80.8 38 79 39.6 75 41.2 67 43.3 60 44.7 53 45.5 46 45.5 37 44.6 28 42.8 22.9 41 21.4 40 21 39 21.4 38 22.5 37 25 35.7 29.7 34 53.4 28 73 22Z" fill="#c6e924" stroke="#c6e924" stroke-opacity="0"/>
<path d="M77 21.9 80 21.8 82 22.3 83.2 23 83.8 24 84 26 82 33 80.3 37 78.3 39 74 40.9 67 42.8 59 44.3 53 44.8 47 44.9 39 44.2 30 42.6 25 41 23.3 40 22.8 39 23.1 38 24.2 37 31 34.2 51.9 29 73 22.8Z" fill="#aee532" stroke="#aee532" stroke-opacity="0"/>
<path d="M76 23 79 22.8 81 23.2 82.1 24 82.6 25 82.5 27 81 33 79.2 37 76.9 39 73 40.6 66 42.5 60 43.6 53 44.3 47 44.3 39 43.6 31 42.2 27 40.9 25.3 40 24.6 39 24.8 38 26 37 32 34.5 54 29Z" fill="#97e03f" stroke="#97e03f" stroke-opacity="0"/>
<path d="M76 23.9 79.1 24 80 24.4 81 25.5 81.2 27 80 33 78.8 36 77 38 75 39.2 71 40.7 64 42.4 58 43.3 47 43.7 40 43.2 33 42 29 40.8 27.2 40 26.4 39 26.6 38 27.7 37 33 34.8Z" fill="#94e159" stroke="#94e159" stroke-opacity="0"/>
<path d="M71 25.8 75 25.1 78 25.2 79.2 26 79.6 28 78.9 33 77.7 36 75.8 38 71 40.1 60 42.6 54 43.2 48 43.3 41 42.7 35 41.8 30 40.3 28.2 39 28.3 38 29.5 37 34.3 35Z" fill="#a5e87f" stroke="#a8c0f0" stroke-opacity="0.75"/>
<path d="M70 26.9 75 26.3 77 26.8 77.9 28 78 30 77.8 33 76.7 36 74.6 38 69.8 40 64 41.4 59 42.3 49 42.8 42 42.3 36 41.4 31.4 40 30.1 39 30.1 38 31.2 37 36.2 35Z" fill="#c5f1b3" stroke="#a8c0f0" stroke-opacity="0.75"/>
<path d="M70 27.9 73 27.7 75 28 76 28.9 76.4 30 76.7 33 76.2 35 74.7 37 72 38.6 68.1 40 59 41.8 49 42.3 43 41.9 37.1 41 33.6 40 32.1 39 32 38 33 37 38.2 35 61 29.6Z" fill="#f2fced" stroke="#a8c0f0" stroke-opacity="0.75"/>
<path d="M69 28.9 72 28.9 74 29.7 75 31 75.4 34 74.6 36 73.6 37 72 38 68 39.6 59 41.4 50 41.9 40.3 41 36 40 34.1 39 33.9 38 34.9 37 40.2 35 60 30.4Z" fill="#f2f7ff" stroke="#a8c0f0" stroke-opacity="0.75"/>
<path d="M67 29.9 70 29.9 72 30.4 73.8 32 74.3 34 73.4 36 72.4 37 70 38.3 66 39.6 57 41.2 48 41.3 43 40.8 38.6 40 36.3 39 35.9 38 36.8 37 42.2 35 58 31.3Z" fill="#dae9ff" stroke="#a8c0f0" stroke-opacity="0.75"/>
<path d="M64 30.9 68 30.8 71 31.4 72.7 33 72.8 35 71.2 37 68 38.5 63 39.9 57 40.7 50 40.9 44 40.4 39 39.2 37.9 38 38.8 37 44.2 35 56 32.3Z" fill="#b2cffc" stroke="#a8c0f0" stroke-opacity="0.75"/>
<path d="M61 31.9 66 31.6 69 31.9 71 33 71.6 34 71.5 35 71 36 69.8 37 67.9 38 64 39.2 58 40.2 52 40.5 46 40.1 41.1 39 40.1 38 40.9 37 46.3 35Z" fill="#8bb4f9" stroke="#dce8ff" stroke-opacity="0.75"/>
<path d="M58 32.9 63 32.3 67 32.5 69 33.2 69.9 34 70.1 35 69.6 36 68.4 37 66.3 38 62.8 39 58 39.8 53 40 48 39.8 44 39 42.5 38 43 37 45.2 36 52.5 34Z" fill="#6798f4" stroke="#dce8ff" stroke-opacity="0.75"/>
<path d="M56 33.8 61 33.1 65 33.1 67.9 34 68.5 35 68.1 36 66 37.4 63 38.4 59 39.2 54 39.5 50 39.3 47.4 39 45 38 45.4 37 47.4 36Z" fill="#487fef" stroke="#dce8ff" stroke-opacity="0.75"/>
<path d="M59 34 64.7 34 66.5 35 66.4 36 65.1 37 62.3 38 58 38.7 52 38.9 48 38 47.9 37 49.8 36 53.2 35Z" fill="#3b72eb" stroke="#dce8ff" stroke-opacity="0.75"/>
<path d="M57 35 62 34.7 63.5 35 64.1 36 62.7 37 58 38.1 52.2 38 50.9 37 52.7 36Z" fill="#2e65e6" stroke="#dce8ff" stroke-opacity="0.75"/>
</g>
<rect x="46.5" y="360.2" width="128.6" height="45.3" fill="none" stroke="#3a0d0d" stroke-width="0.8" />
<line x1="43.9" y1="368" x2="46.5" y2="368" stroke="#222" stroke-width="0.9" />
<text x="42.3" y="370.7" font-size="7.4" text-anchor="end" fill="#000" stroke="#000" stroke-width="0.16" >3.5</text>
<line x1="43.9" y1="382.8" x2="46.5" y2="382.8" stroke="#222" stroke-width="0.9" />
<text x="42.3" y="385.4" font-size="7.4" text-anchor="end" fill="#000" stroke="#000" stroke-width="0.16" >2.5</text>
<line x1="43.9" y1="397.5" x2="46.5" y2="397.5" stroke="#222" stroke-width="0.9" />
<text x="42.3" y="400.2" font-size="7.4" text-anchor="end" fill="#000" stroke="#000" stroke-width="0.16" >1.5</text>
<line x1="44.9" y1="375.4" x2="46.5" y2="375.4" stroke="#222" stroke-width="0.8" />
<line x1="44.9" y1="390.1" x2="46.5" y2="390.1" stroke="#222" stroke-width="0.8" />
<line x1="44.9" y1="404.9" x2="46.5" y2="404.9" stroke="#222" stroke-width="0.8" />
<text x="28.2" y="382.4" font-size="8.8" text-anchor="middle" fill="#000" stroke="#000" stroke-width="0.16" transform="rotate(-90 28.2 382.4)" >R + α (Å)</text>
<text x="49.1" y="369.5" font-size="7.9" text-anchor="start" fill="#fff" stroke="#fff" stroke-width="0.16" >OCP</text>
<clipPath id="hme2"><rect x="0" y="0" width="128.6" height="45.3"/></clipPath>
<g clip-path="url(#hme2)" transform="translate(46.5 415.8)" stroke-width="0.4" fill-rule="evenodd">
<rect x="0" y="0" width="128.6" height="45.3" fill="#0d0000"/>
<path d="M76 -0 83 -0.4 89 -0.3 94 0.5 98 2 99.4 3 100.8 5 102.7 12 103.6 14 105 15.5 107 16.4 112 17.4 125 17.2 130 17.8 130 44.9 122.1 47 -1 47 -1 26.8 6 24.3 19.1 21 34 16.6 38 16.1 44 16.1 46 15.6 49 13.6 54 6.9 58 4.1 61 2.8 65 1.6Z" fill="#280000" stroke="#ff9c40" stroke-opacity="0.9"/>
<path d="M72 3 79 2.3 85 2.2 90 2.8 93.5 4 96 5.8 97.3 8 97.9 10 98.5 16 100 17.5 103 18.8 110 19.8 124 19.8 130 20.5 130 41.5 125 42 118 40.4 114 39.9 109.7 40 105.9 41 106.7 42 113.8 44 114 45 110.9 47 -0.3 47 -1 46.5 -1 31.7 0 31.1 5 28.5 10 26.5 28 21.3 35 19.9 44 19.7 48 18.8 50 17.7 51.9 16 55.9 10 59.1 7 64 4.7Z" fill="#500000" stroke="#ff9c40" stroke-opacity="0.9"/>
<path d="M72 4.9 78 4.2 84 4.2 88 4.8 91.3 6 93.5 8 94.3 10 94.4 12 93.3 17 93.6 18 94.6 19 97 20 106 21.2 113 21.6 125 21.5 130 22.5 130 39.6 126 40 113 39.1 105 40 103 41 103.3 42 106.9 44 107.5 45 106.6 46 105 47 5.5 47 -1 42.2 -1 35.3 7 30.5 16 26.8 28 23.3 35 22 45 21.6 49 20.7 51 19.8 53.5 18 55.2 16 58.4 11 61 8.6 66 6.2ZM87.5 31 87.7 32 90 32.5 92.5 32 92.7 31 90 30.2Z" fill="#770000" stroke="#ff9c40" stroke-opacity="0.9"/>
<path d="M77 5.9 83 6 87 6.8 89.3 8 90.8 10 90.9 11 90.5 13 89 15.5 87 18 86 18.8 83 18.5 82 18.7 81 19.5 80.5 21 81.1 23 82 23.3 83 23.1 86 20.1 87 19.9 91 21.2 96 22.1 111 22.9 124 22.9 129 23.7 130 24.1 130 38.1 126 38.8 117 38.4 111 38.6 106.9 39 102.6 40 101 41 101 42 103.2 44 103.4 45 102.4 46 100.7 47 10.1 47 3 42.2 0.9 40 0.7 38 2.1 36 6 33.4 12 30.4 20 27.2 30 24.4 36 23.5 45 23.1 50 22 53.9 20 56.4 18 61 11.6 64 9.2 66.6 8 69.9 7ZM87.2 30 86 31 86.4 32 88 32.8 91.8 33 94 32 94.2 31 93 30 92 29.7 89 29.5Z" fill="#9e0000" stroke="#ff9c40" stroke-opacity="0.9"/>
<path d="M74 7.9 78 7.6 82 7.9 85 8.8 86.5 10 86.9 11 86.3 13 85 14.2 81 16.1 79.9 17 79 18.6 78.7 20 79 22.5 80 24.4 81 25.2 83 25.4 87 23.6 89 23.5 113 24.2 123 24.1 127 24.6 130 25.7 130 36.7 126 37.8 113 37.8 106 38.6 102 39.6 99.3 41 99.2 42 100.4 44 100.2 45 97 47 14.1 47 7 42.7 4.1 40 3.7 39 3.8 38 4.4 37 6.8 35 13 31.7 21 28.4 31 25.5 36 24.8 47 24.1 53 22.1 56.5 20 58.9 18 63 13 65.2 11 69 9.1ZM87.5 29 85.4 30 84.9 31 85.3 32 87 33 89 33.4 92 33.4 93.7 33 95.3 32 95.5 31 94 29.5 91 28.7Z" fill="#ca0600" stroke="#ff9c40" stroke-opacity="0.9"/>
<path d="M74 10 78 9.9 80.6 11 80.8 12 78 16 77.4 19 77.8 22 78.6 24 80 26 81 26.7 84 27.3 88 25.8 102 25.3 123 25.4 126 25.7 128 26.3 130 27.5 130 35.1 128 36.3 126 36.8 113 37.1 107 37.9 101.8 39 99.1 40 97.8 41 97.5 42 98 44 97.4 45 93.5 47 17.6 47 10 42.8 6.9 40 6.5 39 6.6 38 8 36.2 11 34.3 15 32.3 24 28.7 31 26.7 36 26 46 25.3 51.2 24 55.5 22 58.7 20 68 12 70.1 11ZM86 28 85 28.2 84 29.4 83.7 31 84.3 32 87 33.4 91 33.9 94 33.4 95.2 33 96.5 32 96.8 31 96.5 30 95 28.7 92 27.5 89 27.4Z" fill="#e71100" stroke="#ff9c40" stroke-opacity="0.9"/>
<path d="M72 13.8 74 13.9 75 15 76.5 21 78.2 25 81.8 29 83.3 32 86 33.5 88 34 91 34.2 93.6 34 96 33.3 97.9 32 98.3 31 97.8 28 98 27.8 99.9 27 104 26.6 123 26.7 125.8 27 128 27.9 129.3 29 130 30.6 130 32.1 128.9 34 127.6 35 126 35.6 123 35.9 117 35.8 113 36.2 105 37.6 99.9 39 97.6 40 96.4 41 95.8 44 94.8 45 90 47 20.9 47 13 43 10.2 41 9.3 40 8.9 39 9.1 38 10 36.7 12.4 35 18 32.3 26 29.3 32 27.6 46 26.2 51.1 25 55.7 23 68 15.5Z" fill="#f31f00" stroke="#ff9c40" stroke-opacity="0.9"/>
<path d="M68 17.9 71 17.4 73 18 75 20.3 77.9 26 82.4 32 84 33.1 87 34.2 92 34.6 96 34 98.4 33 99.6 32 101.6 29 105 28.3 116 28.7 124 28.3 126 28.8 127 29.5 128 31 127.9 32 127 33.2 125 34.2 115 34.3 99 38.7 96.3 40 95.1 41 94 43.4 93 44.5 91 45.5 86.4 47 24 47 13.9 42 11.6 40 11.2 39 11.3 38 13.2 36 17 33.9 23 31.4 33 28.5 46 27.1 50.7 26 55.6 24 64 19.6Z" fill="#fb3b00" stroke="#ff9c40" stroke-opacity="0.9"/>
<path d="M67 19.7 70 19.2 72 19.6 73 20.1 75 22.3 78 27.4 81.4 32 83 33.1 86 34.3 91 34.9 96 34.6 100 33.5 104 31.4 106 30.9 108.1 31 109.6 32 109.2 33 106.5 35 98 38.4 94.9 40 93.8 41 92 43.5 91 44.3 88 45.5 82.6 47 27.1 47 21 44.5 16.1 42 13.7 40 13.3 39 13.4 38 15.3 36 19.2 34 25 31.7 34 29.2 45.3 28 50 27 54 25.6 63 21.2Z" fill="#ff6900" stroke="#ff9c40" stroke-opacity="0.9"/>
<path d="M67 20.8 70 20.6 73 21.6 75 23.8 79.6 31 81 32.4 83 33.6 86 34.6 89 35.2 99 35.3 100.3 36 99.2 37 93.6 40 90.7 43 89.2 44 86 45.2 78.8 47 30.2 47 19 42.4 16.7 41 15.7 40 15.2 39 15.3 38 17.4 36 25 32.6 34 30.1 45 28.8 50 27.8 54.9 26 63 22.2Z" fill="#ffaa00" stroke="#ffaa00" stroke-opacity="0"/>
<path d="M67 21.8 70 21.7 73 22.9 75 25.1 78.7 31 80 32.3 82 33.6 87 35.2 95 36.1 96.5 37 88 43.4 84 44.8 75.1 47 33.4 47 26 44.5 21 42.4 18.6 41 17.6 40 17.1 39 17.2 38 19.4 36 26 33.1 35 30.7 46 29.4 50 28.5 54.3 27 63 23Z" fill="#ffd700" stroke="#ffd700" stroke-opacity="0"/>
<path d="M66 22.9 69 22.6 72 23.3 74 25 77.9 31 80 33 85 35.1 93.7 37 93.6 38 88.4 42 86 43.3 71.5 47 36.8 47 31 45.4 24 42.8 20.5 41 19.4 40 18.8 39 19 38 21.2 36 27 33.6 35 31.5 46 30.1 50 29.2 54 27.9 63 23.8Z" fill="#fbea03" stroke="#fbea03" stroke-opacity="0"/>
<path d="M65 23.9 69 23.5 72 24.4 74 26.3 77.1 31 79.1 33 83 34.9 91.1 37 91.7 38 88 41.2 84.5 43 67.8 47 40.7 47 34 45.5 26.4 43 22.3 41 21.1 40 20.6 39 20.7 38 21.6 37 23.1 36 27 34.3 35 32.2 50 29.9 54 28.5 61 25.4Z" fill="#f4ef08" stroke="#f4ef08" stroke-opacity="0"/>
<path d="M64 24.9 68 24.3 71 24.9 73 26.3 76.3 31 78.2 33 82 35 88.7 37 89.9 38 89.3 39 87 40.7 83 42.7 72 45.4 63.4 47 45.7 47 41 46.3 34 44.7 28 42.8 24.1 41 22.8 40 22.2 39 22.4 38 23.3 37 28 34.7 35 32.8 47 31.2 51 30.2Z" fill="#e0ed15" stroke="#e0ed15" stroke-opacity="0"/>
<path d="M63 26 67 25.1 69 25.2 71 25.9 73 27.5 75.4 31 77.3 33 81 35.1 86.6 37 88 38 87.6 39 86 40.3 83 41.9 77 43.6 64 46.3 55 46.9 46 46.3 35 44.3 27 41.6 24.5 40 23.9 39 24 38 25 37 29.2 35 36 33.3 50.4 31 54 29.9Z" fill="#c6e924" stroke="#c6e924" stroke-opacity="0"/>
<path d="M66 26 69 26.1 71 26.9 72.3 28 76.4 33 80 35.2 84.6 37 86.1 38 85.9 39 84.8 40 82 41.4 75 43.5 64 45.7 55 46.3 45 45.5 35 43.6 27.6 41 26.2 40 25.5 39 25.7 38 26.7 37 31.3 35 37 33.7 51 31.4 55.3 30 62 27.1Z" fill="#aee532" stroke="#aee532" stroke-opacity="0"/>
<path d="M65 26.9 68 26.8 70.9 28 75.4 33 78 34.8 82.7 37 84.1 38 84.1 39 83 40 81 41 73 43.4 63 45.2 56 45.7 47 45.2 37 43.5 29.4 41 27.8 40 27.1 39 27.3 38 28.4 37 32 35.4 37 34.2 51 32Z" fill="#97e03f" stroke="#97e03f" stroke-opacity="0"/>
<path d="M64 27.9 67 27.6 70 28.5 75.7 34 82.2 38 82.2 39 81.1 40 79 41 71 43.3 63 44.7 56 45.1 47 44.6 38 43.1 31.2 41 29.5 40 28.8 39 29 38 30.1 37 33 35.8 37 34.8 52 32.2Z" fill="#94e159" stroke="#94e159" stroke-opacity="0"/>
<path d="M63 28.9 66 28.4 69 29.1 74.7 34 79.3 37 80.4 38 80.3 39 79.2 40 77 41 71 42.7 63 44.2 56 44.6 48 44.2 39 42.7 33.1 41 31.3 40 30.4 39 30.7 38 31.9 37 34.4 36 38.6 35 51 33 55 31.9Z" fill="#a5e87f" stroke="#a8c0f0" stroke-opacity="0.75"/>
<path d="M62 30 66 29.3 69 30.3 77.8 37 78.7 38 78.5 39 77.3 40 75.1 41 70 42.5 63 43.7 56 44.1 48 43.6 40 42.4 35 41 33 40 32.2 39 32.4 38 33.8 37 36.7 36 52 33.2Z" fill="#c5f1b3" stroke="#a8c0f0" stroke-opacity="0.75"/>
<path d="M62 30.7 66 30.3 69 31.4 76.4 37 77.1 38 76.9 39 75.6 40 73.3 41 69 42.2 62 43.4 56 43.6 49 43.2 40.9 42 37 40.9 34.9 40 34 39 34.2 38 35.8 37 38 36.3 52 33.7Z" fill="#f2fced" stroke="#a8c0f0" stroke-opacity="0.75"/>
<path d="M60 32 65 31.1 68 31.9 75 37 75.6 38 75.3 39 73 40.4 68 42 63 42.8 57 43.2 51 42.9 43.8 42 39 40.9 36.9 40 35.9 39 36.2 38 38 37 52 34.2Z" fill="#f2f7ff" stroke="#a8c0f0" stroke-opacity="0.75"/>
<path d="M64 32 67 32.5 71.3 35 73.7 37 74.1 38 73.7 39 71 40.5 67 41.7 62 42.5 57 42.7 50 42.4 44 41.4 39.1 40 37.9 39 38.3 38 40.5 37 53 34.4 61 32.4Z" fill="#dae9ff" stroke="#a8c0f0" stroke-opacity="0.75"/>
<path d="M62 32.9 66 33 69 34.3 72.3 37 72.7 38 72.2 39 70.7 40 66 41.4 62 42.1 57 42.3 51.2 42 45 41.1 41.4 40 40.1 39 40.6 38 43.2 37Z" fill="#b2cffc" stroke="#a8c0f0" stroke-opacity="0.75"/>
<path d="M60 33.8 64 33.5 67 34.2 70 36 71 37 71.3 38 70.7 39 68 40.4 64 41.3 59 41.8 54 41.7 47.9 41 44 40 42.6 39 43.2 38 45.9 37Z" fill="#8bb4f9" stroke="#dce8ff" stroke-opacity="0.75"/>
<path d="M57 35 62 34.2 65 34.4 68.6 36 69.6 37 69.9 38 69.2 39 67 40.1 63.2 41 59 41.4 51 40.9 46.9 40 45.2 39 45.8 38 48.6 37Z" fill="#6798f4" stroke="#dce8ff" stroke-opacity="0.75"/>
<path d="M61 34.9 64 35 66 35.5 68.1 37 68.4 38 67.6 39 65.3 40 59 40.9 52 40.4 50 40 48 39 48.6 38 51.1 37Z" fill="#487fef" stroke="#dce8ff" stroke-opacity="0.75"/>
<path d="M58 36 61 35.6 64 35.8 66.4 37 66.7 38 65 39.3 62.5 40 60 40.3 54 40 51 39 51.3 38 53.7 37Z" fill="#3b72eb" stroke="#dce8ff" stroke-opacity="0.75"/>
<path d="M57 36.9 62 36.5 64.1 37 64.7 38 63.3 39 60 39.6 57 39.5 54.4 39 54.3 38Z" fill="#2e65e6" stroke="#dce8ff" stroke-opacity="0.75"/>
</g>
<rect x="46.5" y="415.8" width="128.6" height="45.3" fill="none" stroke="#3a0d0d" stroke-width="0.8" />
<line x1="43.9" y1="423.6" x2="46.5" y2="423.6" stroke="#222" stroke-width="0.9" />
<text x="42.3" y="426.3" font-size="7.4" text-anchor="end" fill="#000" stroke="#000" stroke-width="0.16" >3.5</text>
<line x1="43.9" y1="438.4" x2="46.5" y2="438.4" stroke="#222" stroke-width="0.9" />
<text x="42.3" y="441.1" font-size="7.4" text-anchor="end" fill="#000" stroke="#000" stroke-width="0.16" >2.5</text>
<line x1="43.9" y1="453.1" x2="46.5" y2="453.1" stroke="#222" stroke-width="0.9" />
<text x="42.3" y="455.8" font-size="7.4" text-anchor="end" fill="#000" stroke="#000" stroke-width="0.16" >1.5</text>
<line x1="44.9" y1="431" x2="46.5" y2="431" stroke="#222" stroke-width="0.8" />
<line x1="44.9" y1="445.7" x2="46.5" y2="445.7" stroke="#222" stroke-width="0.8" />
<line x1="44.9" y1="460.5" x2="46.5" y2="460.5" stroke="#222" stroke-width="0.8" />
<text x="28.2" y="438.1" font-size="8.8" text-anchor="middle" fill="#000" stroke="#000" stroke-width="0.16" transform="rotate(-90 28.2 438.1)" >R + α (Å)</text>
<text x="49.1" y="425.1" font-size="7.9" text-anchor="start" fill="#fff" stroke="#fff" stroke-width="0.16" >-0.4 V</text>
<clipPath id="hme3"><rect x="0" y="0" width="128.6" height="44.7"/></clipPath>
<g clip-path="url(#hme3)" transform="translate(46.5 471.7)" stroke-width="0.4" fill-rule="evenodd">
<rect x="0" y="0" width="128.6" height="44.7" fill="#0d0000"/>
<path d="M48 -0.3 49.5 -1 130 -1 130 46 -1 46 -1 20 17.3 15 23.2 13 34 7.4 40 6 45 1.6Z" fill="#280000" stroke="#ff9c40" stroke-opacity="0.9"/>
<path d="M61 -0.1 70.2 -1 130 -1 130 46 -1 46 -1 24.6 4 22.4 9 20.7 29 15.4 33 14.8 40 15.5 42.8 15 45 13 47.7 6 50 3.3 54 1.3Z" fill="#500000" stroke="#ff9c40" stroke-opacity="0.9"/>
<path d="M74 -0.2 75.3 -1 81.6 -1 84 -0.1 86 0.1 96.6 -1 116.1 -1 123 0.9 129 4.2 130 5 130 40.4 124 41.2 116 40.8 109.6 41 107.8 42 123.6 43 125.4 44 124.9 45 123.4 46 -1 46 -1 28.4 0 27.8 5 25.1 10 23.1 17 20.9 25 18.8 32 17.7 40 18.3 44 17.7 46 16.7 47.8 15 48.9 13 51 7.3 52 6 54 4.5 59 2.8 71 1.2ZM58.6 21 58.3 22 58.8 23 60 23.4 61.2 23 61.7 22 61 20.7 60 20.3ZM114.7 21 114.6 22 115 23 116 23.4 117.2 23 117.8 22 117.6 21 117 20.4 116 20.1ZM94.2 31 94.3 32 96 32.5 99 32.6 101.1 32 101.1 31 99 30.4 96 30.4Z" fill="#770000" stroke="#ff9c40" stroke-opacity="0.9"/>
<path d="M77 -0.1 79 -0.2 84 2 87 2.3 98 1.4 104 -0.4 107 -0.7 120 4.2 125 6.9 127.6 9 130 11.6 130 36.8 128 38.4 125 39.4 107 40.6 104.6 41 103.6 42 108 43.1 114.1 44 115.9 45 114.4 46 3.2 46 -1 43.4 -1 31.4 5 27.8 14 23.8 26 20.5 32 19.7 42 20.1 46 19 49.7 17 51.7 15 54 9.1 56 7 58 5.9 61 5 71 3.4ZM58.2 19 57.2 20 56.9 21 57.5 23 58.7 24 60 24.3 62 23.6 63 22 62.6 20 61 18.7 59 18.6ZM114.7 19 113.7 20 113.2 21 113.4 23 114 23.9 115 24.6 117 24.8 118 24.4 119 23.4 119.5 22 119 20 118 19 117 18.6 116 18.6ZM94.3 30 92.5 31 92.7 32 95.1 33 100 33.1 103.1 32 103.1 31 101 29.9 98 29.6Z" fill="#9e0000" stroke="#ff9c40" stroke-opacity="0.9"/>
<path d="M76 2 78 1.3 79 1.3 84 4.1 87 4.4 98 3.7 104 1.9 107 1.7 109 2.5 113 5 121 9.1 124 11.6 126 14 127.7 17 128.9 21 129.1 24 128.8 27 127.1 33 125.7 36 124 37.6 122 38.4 119.2 39 105 40.4 101.8 41 100.8 42 103 43 106.5 44 107.9 45 106.3 46 7.3 46 -1 41.1 -1 33.7 6 29.5 12 26.5 17 24.6 23 22.8 31 21.3 43 21.3 53 18.3 54 18.4 54.7 19 55.9 22 57.4 24 60 24.9 62 24.4 63.7 23 64.2 22 64.5 20 64 18.4 63 17 59.8 15 58.9 14 58.6 12 59.5 10 60.6 9 62.5 8 71 5.7ZM114 18 113 19 112.1 21 112.2 23 112.6 24 114 25.5 116 26.2 117.9 26 119 25.5 120.6 24 121.2 22 121.2 21 120.4 19 119 17.7 117 17.1 115 17.4ZM96.7 29 94 29.4 92.2 30 91.2 31 91.5 32 94 33.2 98 33.7 103 33.1 104.9 32 105 31 103 29.7 100 29.1Z" fill="#ca0600" stroke="#ff9c40" stroke-opacity="0.9"/>
<path d="M77 3 79 2.8 84 6.2 86 6.8 98 6 105 3.8 107 4 109 5 116.2 11 117.8 13 117.7 14 114 16.1 112 18.3 111 21 111.1 23 111.9 25 112.7 26 115 27.5 118 27.9 122 27.4 122.6 28 122.5 31 120.9 36 120 37 118 38 104 40 99.6 41 98.6 42 101.8 44 102.1 45 100 46 11 46 1.8 41 -0.5 39 -1 38 -1 36.8 0.3 35 6 31.4 17 26.2 27 23.2 33 22.5 42 22.6 52 20.6 54 21.4 56.4 24 58 25 60 25.4 62.3 25 64.8 23 67 19.7 70.4 17 70.7 16 70 12 70.6 10 74.5 5ZM92.7 29 90.6 30 89.9 31 90.3 32 91 32.5 94 33.6 98 34.1 101.4 34 105.6 33 107 32 107.2 31 106.1 30 102 28.6 97 28.3Z" fill="#e71100" stroke="#ff9c40" stroke-opacity="0.9"/>
<path d="M77 4.5 78 4.2 80 4.9 84 9.3 86 10.2 99 8.6 105 6.1 107 6.3 108.1 7 110.8 10 112.3 13 112.1 15 109.9 20 109.6 22 109.9 24 112 29 112 30 115 31.9 115.9 33 116.3 35 116.1 36 115.2 37 112.9 38 102 39.9 97.7 41 96.6 42 98.2 44 97.6 45 95 46 14.4 46 4.6 41 2.1 39 1.5 38 1.5 37 2.9 35 7 32.4 18 27.3 23 25.5 28 24.3 33 23.6 42 23.6 51 22 53 22.3 58 25.6 60 25.9 63 25.3 68 21.7 72 20.8 73 20.4 74 19.4 74.4 18 73.5 13 73.5 10 74.7 7ZM93.1 28 90 29.2 89.1 30 88.8 31 89.2 32 90.7 33 95 34.2 100 34.6 105.6 34 109.1 33 111 32 112 31 111.8 30 102 27.7 97 27.4Z" fill="#f31f00" stroke="#ff9c40" stroke-opacity="0.9"/>
<path d="M78 5.9 79 6.1 80.8 8 81.7 10 81.9 12 81.6 14 80 17.2 79 18.3 78 18.4 77 17.4 76 15.4 75.2 13 75 11 75.3 9 76 7.5 77 6.3ZM105 8.7 106.5 9 108 10.2 109.1 12 109.6 14 107.1 26 105 26.4 99 25.3 95 25.3 92 26.4 89 28.2 87.6 30 87.6 31 88.2 32 89.6 33 93 34.2 99 35 109 35 110.9 36 110.6 37 108.5 38 100 39.8 96 41 94.8 42 95.1 44 93.6 45 91 45.9 17.6 46 7 41 4.5 39 3.9 38 3.8 37 5.3 35 10 32.2 21 27.5 30 25 42 24.5 51 23.1 53 23.5 58 26.1 61 26.3 63 25.9 68 23.3 74 22.7 78 21.3 79 21.5 82 23.2 85 24 94 24.5 96 24.2 98 23 98.6 22 98.8 20 97.9 16 98.6 14 102.6 10Z" fill="#fb3b00" stroke="#ff9c40" stroke-opacity="0.9"/>
<path d="M78 8.4 79.2 9 79.8 11 79 13.5 78 13.7 77 12.4 76.8 11 77 9.5ZM46 24.8 50 24.1 52 24.2 57 26.2 60 26.8 63 26.4 69 24.4 78 24.6 85 27 85.8 28 86.3 31 87.1 32 89 33.2 94 34.8 104.2 36 106.1 37 104.8 38 94.4 41 93.1 42 92.1 44 89.9 45 86.2 46 20.7 46 9.4 41 6.6 39 6 38 6 37 6.5 36 9 34 16 30.7 24 27.6 32 25.8 41 25.5Z" fill="#ff6900" stroke="#ff9c40" stroke-opacity="0.9"/>
<path d="M51 25 53 25.2 57 26.7 60 27.2 62.7 27 69 25.6 78 26.5 81 27.5 83 28.6 85.9 32 89 33.7 92 34.7 102.2 37 101.8 38 92.8 41 89.2 44 81.9 46 23.8 46 12 41.2 9.9 40 8 38 8 37 8.5 36 11.2 34 17 31.3 25 28.4 32 26.8 42 26.2Z" fill="#ffaa00" stroke="#ffaa00" stroke-opacity="0"/>
<path d="M49 26 52 25.8 60 27.7 69 26.6 77 27.8 81 29.3 84.7 32 88 33.8 98.9 37 99.1 38 91.2 41 88 43.1 86.1 44 77.7 46 26.9 46 20 43.7 14 41.2 11.9 40 9.9 38 9.9 37 10.4 36 13.2 34 19 31.5 25 29.4 32 27.7 42 27Z" fill="#ffd700" stroke="#ffd700" stroke-opacity="0"/>
<path d="M48 26.9 52 26.6 60 28.1 69 27.6 76 28.8 80 30.1 87.2 34 96.3 37 96.8 38 95 39 89.6 41 85 43.3 73.6 46 30.2 46 24 44.2 17 41.6 13.8 40 11.8 38 11.7 37 12.3 36 14 34.7 18 32.8 25 30.3 33 28.4Z" fill="#fbea03" stroke="#fbea03" stroke-opacity="0"/>
<path d="M46 27.9 52 27.3 59 28.5 68 28.4 74 29.4 79 30.8 86 34 94.1 37 94.7 38 93.1 39 83 43.1 69.5 46 33.7 46 27 44.3 19 41.6 15.6 40 13.5 38 13.4 37 14.1 36 15.3 35 19 33.2 24 31.4 32 29.4Z" fill="#f4ef08" stroke="#f4ef08" stroke-opacity="0"/>
<path d="M43 29 52 28 59 28.9 66 29 70 29.4 79 31.6 92.1 37 92.7 38 91.3 39 82 42.6 75 44.2 65 46 37 45.9 30 44.4 22 42 17.5 40 16 39 15.2 38 15.1 37 15.8 36 17.1 35 24 32.2 32 30.1Z" fill="#e0ed15" stroke="#e0ed15" stroke-opacity="0"/>
<path d="M48 29 53 28.7 60 29.5 67 29.8 72 30.6 77 31.8 82 33.5 90.2 37 90.7 38 89.4 39 87 40 79 42.6 69 44.6 59.1 46 43.4 46 35 44.8 29 43.4 22 41.2 19 39.9 16.9 38 16.8 37 17.5 36 18.9 35 26 32.2 34 30.5Z" fill="#c6e924" stroke="#c6e924" stroke-opacity="0"/>
<path d="M45 30 53 29.3 69 30.7 76 32.2 81 33.8 86.5 36 88.3 37 88.8 38 87.6 39 85 40.1 75 42.9 61 45.1 51 45.7 42 45.2 31 43.3 22 40.5 19.4 39 18.5 38 18.4 37 20 35.4 26 32.9 33 31.2Z" fill="#aee532" stroke="#aee532" stroke-opacity="0"/>
<path d="M51 29.9 65 30.8 74 32.4 79 33.8 84.8 36 86.4 37 86.8 38 85.6 39 83 40.1 73 42.6 61 44.5 51 45.1 41 44.4 31 42.7 23 40.1 21 39 20.1 38 20 37 20.8 36 22.3 35 29 32.7 36 31.4Z" fill="#97e03f" stroke="#97e03f" stroke-opacity="0"/>
<path d="M46 30.9 55 30.5 65 31.4 70 32.2 76 33.5 80.7 35 84.5 37 84.8 38 83.6 39 81.1 40 72 42.3 61 43.9 51 44.5 42 44 33 42.5 25 40.2 22.7 39 21.7 38 21.6 37 22.4 36 24.1 35 28 33.6 34 32.2Z" fill="#94e159" stroke="#94e159" stroke-opacity="0"/>
<path d="M53 31 64 31.8 73 33.4 78 34.8 81.1 36 82.5 37 82.7 38 81.5 39 78.8 40 70 42.1 60 43.5 51 43.9 43 43.5 34 42.2 26.3 40 24.3 39 23.3 38 23.2 37 24.1 36 27 34.5 31 33.4 38 32.2Z" fill="#a5e87f" stroke="#a8c0f0" stroke-opacity="0.75"/>
<path d="M46 31.9 55 31.5 68 32.9 77 35.1 79.1 36 80.5 37 80.6 38 79.3 39 76.5 40 69 41.7 60 43 51 43.4 42 42.9 34 41.6 28.1 40 26 39 24.9 38 24.8 37 25.7 36 30 34.2 36 33Z" fill="#c5f1b3" stroke="#a8c0f0" stroke-opacity="0.75"/>
<path d="M52 32 62 32.5 70.7 34 77 36 78.4 37 78.5 38 77 39 74.2 40 68 41.4 59 42.6 51 42.9 43 42.5 35 41.3 30 40 27.7 39 26.5 38 26.4 37 27.4 36 29.5 35 33 34 41 32.9Z" fill="#f2fced" stroke="#a8c0f0" stroke-opacity="0.75"/>
<path d="M44 33 54 32.4 65 33.4 71 34.7 74.9 36 76.3 37 76.3 38 74.8 39 73 39.6 67 41 59 42.1 51 42.5 43 42 36 41 31 39.6 29.5 39 28.2 38 28.1 37 29 36.1 31.5 35 36 34Z" fill="#f2f7ff" stroke="#a8c0f0" stroke-opacity="0.75"/>
<path d="M50 32.9 58 33.1 67 34.3 72.8 36 74.2 37 74.1 38 71 39.5 65 40.9 58 41.7 51 42 44 41.7 38 40.9 33 39.6 31.3 39 29.9 38 29.8 37 31 36 33.7 35 40 33.9Z" fill="#dae9ff" stroke="#a8c0f0" stroke-opacity="0.75"/>
<path d="M43 34 53 33.3 62.2 34 67.5 35 70.6 36 72 37 72 38 70.2 39 64 40.5 58 41.3 51 41.5 45 41.3 39 40.5 34 39.3 31.8 38 31.7 37 33 36 36.2 35Z" fill="#b2cffc" stroke="#a8c0f0" stroke-opacity="0.75"/>
<path d="M48 33.9 56 33.9 64 34.8 68.3 36 69.9 37 69.7 38 67.9 39 63 40.2 57 40.9 51 41.1 45 40.8 39.1 40 35.4 39 33.7 38 33.6 37 36 35.8 40 34.9Z" fill="#8bb4f9" stroke="#dce8ff" stroke-opacity="0.75"/>
<path d="M43 34.9 51 34.3 57 34.4 64 35.5 65.9 36 67.6 37 67.5 38 65.4 39 60.7 40 54 40.6 48 40.5 42.4 40 37.8 39 35.8 38 35.8 37 37.7 36Z" fill="#6798f4" stroke="#dce8ff" stroke-opacity="0.75"/>
<path d="M47 35 53 34.7 58 35 63.3 36 65.2 37 65 38 62.6 39 54 40.1 45 39.8 40.6 39 38.3 38 38.2 37 40.6 36Z" fill="#487fef" stroke="#dce8ff" stroke-opacity="0.75"/>
<path d="M45 35.9 50 35.3 55 35.4 60.1 36 62.5 37 62.3 38 60 38.8 54 39.5 46 39.3 44.1 39 41.1 38 41.1 37Z" fill="#3b72eb" stroke="#dce8ff" stroke-opacity="0.75"/>
<path d="M50 36 55.1 36 59.3 37 58.9 38 53 38.9 49 38.8 44.6 38 44.6 37Z" fill="#2e65e6" stroke="#dce8ff" stroke-opacity="0.75"/>
</g>
<rect x="46.5" y="471.7" width="128.6" height="44.7" fill="none" stroke="#3a0d0d" stroke-width="0.8" />
<line x1="43.9" y1="479.5" x2="46.5" y2="479.5" stroke="#222" stroke-width="0.9" />
<text x="42.3" y="482.2" font-size="7.4" text-anchor="end" fill="#000" stroke="#000" stroke-width="0.16" >3.5</text>
<line x1="43.9" y1="494.2" x2="46.5" y2="494.2" stroke="#222" stroke-width="0.9" />
<text x="42.3" y="496.9" font-size="7.4" text-anchor="end" fill="#000" stroke="#000" stroke-width="0.16" >2.5</text>
<line x1="43.9" y1="509" x2="46.5" y2="509" stroke="#222" stroke-width="0.9" />
<text x="42.3" y="511.7" font-size="7.4" text-anchor="end" fill="#000" stroke="#000" stroke-width="0.16" >1.5</text>
<line x1="44.9" y1="486.9" x2="46.5" y2="486.9" stroke="#222" stroke-width="0.8" />
<line x1="44.9" y1="501.6" x2="46.5" y2="501.6" stroke="#222" stroke-width="0.8" />
<line x1="44.9" y1="516.4" x2="46.5" y2="516.4" stroke="#222" stroke-width="0.8" />
<text x="28.2" y="493.7" font-size="8.8" text-anchor="middle" fill="#000" stroke="#000" stroke-width="0.16" transform="rotate(-90 28.2 493.7)" >R + α (Å)</text>
<text x="49.1" y="481" font-size="7.9" text-anchor="start" fill="#fff" stroke="#fff" stroke-width="0.16" >-0.8 V</text>
<clipPath id="hmf1"><rect x="0" y="0" width="128.6" height="45.3"/></clipPath>
<g clip-path="url(#hmf1)" transform="translate(250 360.2)" stroke-width="0.4" fill-rule="evenodd">
<rect x="0" y="0" width="128.6" height="45.3" fill="#0d0000"/>
<path d="M0 -1 130 -1 130 47 -1 47 -1 -1Z" fill="#280000" stroke="#ff9c40" stroke-opacity="0.9"/>
<path d="M71 14.8 80 14.3 88 15.3 94 17.4 103 22.9 106 24.2 110 25.2 121 25.8 126 27.3 130 29.1 130 46.6 129.1 47 -1 47 -1 21.5 18 17.8 33 16.2 38 16.3 42 18.1 44 18.5 46 18 50 16.1 56 15.7 59 16.2 62 17.7 64 18.1 65 17.9 69 15.5Z" fill="#500000" stroke="#ff9c40" stroke-opacity="0.9"/>
<path d="M73 17.9 83 17.9 87 18.5 91 19.6 95 21.4 105.3 27 110 28.7 119 31.2 124 33.3 127.8 36 128.5 38 128.2 39 126.4 41 124 42.6 115 47 -1 47 -1 26.3 13 22.5 22 20.7 29 19.7 37 19.2 44 20.6 50 19.2 55 18.9 58 19.1 64 20.2 66 19.8 70 18.4Z" fill="#770000" stroke="#ff9c40" stroke-opacity="0.9"/>
<path d="M73 19.9 83 20 87 20.6 91 21.8 105 29 119 34.7 120.8 36 121.6 37 121.8 38 121.5 39 119.5 41 117 42.5 106.7 47 1.4 47 -1 46.1 -1 29.4 4 27.6 18 23.6 30 21.5 37 21 44 21.9 50 20.9 55 20.8 64 21.6Z" fill="#9e0000" stroke="#ff9c40" stroke-opacity="0.9"/>
<path d="M69 21.9 74 21.4 81 21.4 86 22.1 90 23.2 94 25 103.4 30 114.4 35 116.6 37 116.9 38 116.6 39 114.5 41 112 42.4 107 44.6 100.3 47 7.7 47 -1 43.8 -1 31.8 13 26.7 24 23.9 34 22.4 38 22.3 44 23 50 22.2 55 22.1 64 22.7Z" fill="#ca0600" stroke="#ff9c40" stroke-opacity="0.9"/>
<path d="M70 23 76 22.7 81 22.9 86 23.6 90 24.8 110.5 35 112.8 37 113 38 112.8 39 110.5 41 107 42.8 94.9 47 13.2 47 5 44.4 -1 41.8 -1 33.8 9 29.7 20 26.2 28 24.4 36 23.4 44 23.8 54 23.3 64 23.7Z" fill="#e71100" stroke="#ff9c40" stroke-opacity="0.9"/>
<path d="M72 24 82 24.3 86 25 90 26.3 107.3 35 109.6 37 109.8 38 109.5 39 107.1 41 103 42.9 96 45.3 89.9 47 18.1 47 6 43.3 1 41 -1 39.6 -1 36 2 34 14 29.4 27 25.7 37 24.4 44 24.6 52 24.2 64 24.6Z" fill="#f31f00" stroke="#ff9c40" stroke-opacity="0.9"/>
<path d="M72 25 81 25.3 88 27 93 29.2 104.6 35 106.8 37 107 38 106.6 39 105.6 40 101 42.4 94 44.8 85.2 47 53 47 22.8 47 14 44.8 7 42.4 2.4 40 1.4 39 0.9 38 1.1 37 1.9 36 7 33.2 20 28.6 29 26.3 38 25.2 52 25.1 64 25.4Z" fill="#fb3b00" stroke="#ff9c40" stroke-opacity="0.9"/>
<path d="M47 26 74 26 83 26.9 89 28.7 100.4 34 103.5 36 104.3 37 104.5 38 104 39 102.9 40 98 42.4 90 44.9 80.5 47 27.5 47 18 44.9 10 42.4 5.1 40 4 39 3.5 38 3.7 37 4.6 36 8 34 15 31.3 24 28.5 29 27.3 35 26.3Z" fill="#ff6900" stroke="#ff9c40" stroke-opacity="0.9"/>
<path d="M37 26.9 50 26.6 72 26.8 81 27.6 88 29.6 97 33.5 101.2 36 102 37 102.2 38 101.7 39 100.5 40 95 42.5 85 45.2 75.5 47 32.5 47 23 45.2 13 42.4 7.6 40 6.4 39 5.9 38 6.1 37 8 35.3 14 32.7 27 28.6Z" fill="#ffaa00" stroke="#ffaa00" stroke-opacity="0"/>
<path d="M35 27.9 40 27.5 51 27.3 72 27.7 79 28.3 87 30.3 95 33.6 99 36 99.8 37 100 38 99.4 39 98 40.1 91 42.9 81 45.3 69.8 47 38.2 47 33 46.3 23 44.5 15 42.2 9.9 40 8.7 39 8.2 38 8.4 37 9.3 36 15 33.2 27 29.5Z" fill="#ffd700" stroke="#ffd700" stroke-opacity="0"/>
<path d="M48 28 71 28.4 80 29.4 87 31.3 93.6 34 96.9 36 97.8 37 97.9 38 97 39.2 94 41 86 43.5 75 45.7 61.7 47 46 47 31 45.3 23 43.7 16 41.7 12.2 40 10.9 39 10.3 38 10.5 37 13.1 35 19 32.7 26 30.6 36 28.6Z" fill="#fbea03" stroke="#fbea03" stroke-opacity="0"/>
<path d="M39 29 48 28.6 57 28.7 71 29.2 78 29.9 85 31.6 91.5 34 95 36 95.8 37 95.9 38 95 39.2 91.7 41 82 43.8 69 45.8 54 46.6 39 45.8 26 43.7 16.4 41 14 39.8 12.9 39 12.3 38 12.6 37 13.5 36 16 34.7 20 33.1 30 30.3Z" fill="#f4ef08" stroke="#f4ef08" stroke-opacity="0"/>
<path d="M36 30 42 29.4 52 29.2 68 29.7 76 30.4 83 31.8 89.4 34 93 36 93.9 37 94 38 93 39.2 89.6 41 80 43.6 67 45.5 54 46 41 45.4 28 43.5 18.6 41 16 39.8 14.9 39 14.3 38 14.5 37 15.5 36 19.7 34 28 31.5Z" fill="#e0ed15" stroke="#e0ed15" stroke-opacity="0"/>
<path d="M43 29.9 51 29.8 62 30 71 30.5 77 31.2 83 32.6 88 34.3 91.2 36 92 37 92.1 38 91.4 39 88 40.8 79 43.2 67 44.9 54 45.5 41 44.9 29 43.2 20 40.7 16.8 39 16.2 38 16.4 37 17.4 36 19.3 35 24 33.3 34 30.9Z" fill="#c6e924" stroke="#c6e924" stroke-opacity="0"/>
<path d="M38 30.9 45 30.4 54 30.3 66 30.7 74 31.4 80 32.5 86 34.3 89.3 36 90.2 37 90.3 38 89.6 39 87 40.4 78 42.8 66 44.5 54 45 42 44.5 30 42.8 25 41.6 21 40.3 18.7 39 18 38 18.2 37 19.3 36 23.9 34 31 32.1Z" fill="#aee532" stroke="#aee532" stroke-opacity="0"/>
<path d="M44 31 60 31 75 32.2 81 33.4 85.6 35 88 36.5 88.4 37 88.5 38 87.7 39 86 40 82 41.3 77 42.5 65 44.1 54 44.6 43 44.1 31 42.5 26 41.3 22.2 40 20.5 39 19.8 38 20 37 21.2 36 27 33.7 36 31.8Z" fill="#97e03f" stroke="#97e03f" stroke-opacity="0"/>
<path d="M39 31.9 46 31.4 54 31.3 64 31.6 72 32.3 79 33.6 83.7 35 86 36.4 86.7 37 86.8 38 85.9 39 84 40 76 42.2 65 43.6 54 44.1 43 43.6 32 42.1 24.2 40 22.3 39 21.6 38 21.8 37 23 36 26 34.7 32 33.1Z" fill="#94e159" stroke="#94e159" stroke-opacity="0"/>
<path d="M44 32 59 31.9 73 33 78 33.9 81.6 35 84 36.2 84.9 37 85 38 84.1 39 82.1 40 74.2 42 64 43.3 54 43.7 44 43.3 33.9 42 26.1 40 24.2 39 23.3 38 23.6 37 24.8 36 29 34.4 36 32.8Z" fill="#a5e87f" stroke="#a8c0f0" stroke-opacity="0.75"/>
<path d="M39 32.9 45 32.4 53 32.2 62 32.4 70 33.1 75 33.9 79.5 35 82 36.1 83.1 37 83.2 38 82.3 39 80.1 40 73 41.7 64 42.8 54 43.2 44 42.8 35 41.7 28.1 40 26 39 25.1 38 25.3 37 26 36.5 29.1 35 34 33.7Z" fill="#c5f1b3" stroke="#a8c0f0" stroke-opacity="0.75"/>
<path d="M43 33 56 32.6 70 33.6 75 34.4 79 35.6 81.3 37 81.4 38 80.4 39 78.1 40 72 41.4 63 42.5 54 42.8 45 42.5 36 41.4 30.1 40 27.8 39 26.9 38 27.1 37 28 36.4 31.2 35 37 33.7Z" fill="#f2fced" stroke="#a8c0f0" stroke-opacity="0.75"/>
<path d="M39 33.9 52 33 67 33.7 73 34.6 77 35.7 79.4 37 79.6 38 78.5 39 76 40 71.7 41 63 42.1 54 42.4 45 42.1 36.4 41 32 39.9 29.7 39 28.7 38 28.9 37 30.5 36 33.4 35Z" fill="#f2f7ff" stroke="#a8c0f0" stroke-opacity="0.75"/>
<path d="M42 34 53 33.4 66 34.1 72.3 35 75.8 36 77.4 37 77.7 38 76.5 39 74 39.9 69 41 62 41.7 54 42 46 41.7 39 41 34 39.9 31.7 39 30.6 38 30.8 37 32.5 36 36 34.9Z" fill="#dae9ff" stroke="#a8c0f0" stroke-opacity="0.75"/>
<path d="M48 34 59 34 68 34.8 73.5 36 75.4 37 75.7 38 74 39.1 68 40.6 61 41.4 54 41.6 47 41.4 40 40.6 35 39.5 33.7 39 32.5 38 32.8 37 34.6 36 37 35.3 42 34.5Z" fill="#b2cffc" stroke="#a8c0f0" stroke-opacity="0.75"/>
<path d="M42 34.9 53 34.3 64 34.8 71 36 73.3 37 73.6 38 72.2 39 68 40.1 61 41 54 41.2 47 41 40 40.1 35.9 39 34.5 38 34.8 37 36.9 36Z" fill="#8bb4f9" stroke="#dce8ff" stroke-opacity="0.75"/>
<path d="M46 35 55 34.7 63 35.2 69 36.3 70.9 37 71.3 38 69.7 39 65.5 40 54 40.8 42.4 40 38.3 39 36.7 38 37.1 37 39.6 36Z" fill="#6798f4" stroke="#dce8ff" stroke-opacity="0.75"/>
<path d="M43 35.9 51 35.2 60 35.4 66 36.3 68.3 37 68.8 38 67 39 63 39.8 54 40.3 45 39.8 41 39 39.1 38 39.6 37Z" fill="#487fef" stroke="#dce8ff" stroke-opacity="0.75"/>
<path d="M48 35.9 54 35.7 60.3 36 65.2 37 66 38 63 39.1 54 39.8 45 39.1 41.9 38 42.5 37Z" fill="#3b72eb" stroke="#dce8ff" stroke-opacity="0.75"/>
<path d="M47 36.9 52 36.4 57 36.5 61.2 37 62.3 38 58.4 39 50 39 45.5 38Z" fill="#2e65e6" stroke="#dce8ff" stroke-opacity="0.75"/>
</g>
<rect x="250" y="360.2" width="128.6" height="45.3" fill="none" stroke="#3a0d0d" stroke-width="0.8" />
<line x1="247.4" y1="368" x2="250" y2="368" stroke="#222" stroke-width="0.9" />
<text x="245.8" y="370.7" font-size="7.4" text-anchor="end" fill="#000" stroke="#000" stroke-width="0.16" >3.5</text>
<line x1="247.4" y1="382.8" x2="250" y2="382.8" stroke="#222" stroke-width="0.9" />
<text x="245.8" y="385.4" font-size="7.4" text-anchor="end" fill="#000" stroke="#000" stroke-width="0.16" >2.5</text>
<line x1="247.4" y1="397.5" x2="250" y2="397.5" stroke="#222" stroke-width="0.9" />
<text x="245.8" y="400.2" font-size="7.4" text-anchor="end" fill="#000" stroke="#000" stroke-width="0.16" >1.5</text>
<line x1="248.4" y1="375.4" x2="250" y2="375.4" stroke="#222" stroke-width="0.8" />
<line x1="248.4" y1="390.1" x2="250" y2="390.1" stroke="#222" stroke-width="0.8" />
<line x1="248.4" y1="404.9" x2="250" y2="404.9" stroke="#222" stroke-width="0.8" />
<text x="231.2" y="382.4" font-size="8.8" text-anchor="middle" fill="#000" stroke="#000" stroke-width="0.16" transform="rotate(-90 231.2 382.4)" >R + α (Å)</text>
<text x="252.6" y="369.5" font-size="7.9" text-anchor="start" fill="#fff" stroke="#fff" stroke-width="0.16" >OCP</text>
<clipPath id="hmf2"><rect x="0" y="0" width="128.6" height="45.3"/></clipPath>
<g clip-path="url(#hmf2)" transform="translate(250 415.8)" stroke-width="0.4" fill-rule="evenodd">
<rect x="0" y="0" width="128.6" height="45.3" fill="#0d0000"/>
<path d="M0 -1 130 -1 130 47 -1 47 -1 -1ZM97.9 2 96 2.8 94.2 4 91.9 7 91.2 9 91.1 11 91.6 13 92.6 15 94.4 17 95.8 18 99 19.3 103 19.6 105.4 19 107.6 18 110 16 111.6 13 111.6 10 110.3 7 108 4.3 105 2.4 101 1.6ZM52 6 51.6 7 51.6 9 52 10.2 53 10.6 54 9.9 54.2 7 54 6.3 53 5.5Z" fill="#280000" stroke="#ff9c40" stroke-opacity="0.9"/>
<path d="M28 -0.8 41.4 -1 43 1 44 3.1 46.1 12 47 14.4 49 16.7 52 17.6 54 17.4 56 16.6 58 15.1 59 13.7 60 11 61.4 2 62.1 -1 77.1 -1 79.5 8 80.7 11 82 12.9 86.1 17 88 20.3 89 21.3 93 21.1 100 23 110 24.4 113 25.5 121.9 30 130 32.2 130 45 117.4 47 -1 47 -1 26.1 14 21 17 19.6 19 18.1 20.8 15 22.6 8 23.7 5 25.4 2Z" fill="#500000" stroke="#ff9c40" stroke-opacity="0.9"/>
<path d="M66 -0.6 66.3 -1 72.7 -1 73 -0.7 74.9 3 77 10.4 78.1 13 80 15.7 84 19.7 87 24.6 88 25.2 89 25.3 93 24.2 95 24.4 106 27.6 116.8 32 120.5 33 130 34.7 130 42.9 113.4 45 104.5 47 -1 47 -1 32 6 28.4 19.9 23 23 21 25.1 18 26.9 11 28 8.1 29.4 6 31 4.4 33 3.4 35 3.1 37 3.4 38.1 4 40 5.7 41 7.3 43.6 15 45 17.3 46 18.3 48 19.4 50 19.9 53 19.9 56 19.1 58 18.1 59.5 17 61 15.1 62.3 12 64.2 3Z" fill="#770000" stroke="#ff9c40" stroke-opacity="0.9"/>
<path d="M69 1.8 70 1.8 71 2.3 72 3.3 73 5 75.4 12 76.8 15 78.4 17 82.5 21 85.4 25 87 26.4 89 26.9 93 26.3 95 26.5 113.5 33 130 36.3 130 41.4 105 44.9 97 47 5 47 -1 43.9 -1 35.8 8 30.6 21.6 25 25.2 23 27.5 21 28.8 19 31 12.2 32 10.5 33 9.5 35 8.9 37 9.6 38.8 12 41 17 42.7 19 44.1 20 46.5 21 49 21.5 54 21.3 59 19.3 62 16.7 63.9 13 66.1 5 67.3 3Z" fill="#9e0000" stroke="#ff9c40" stroke-opacity="0.9"/>
<path d="M69 6.5 70 6.5 71 7.2 74.3 14 76.3 17 82 22.6 85 26.1 87 27.6 89 28.1 93 28 95 28.4 108.4 33 126.3 37 129.1 38 130 39 128.7 40 125 41 103.6 44 98.5 45 91.4 47 10.4 47 3.9 44 1 42 0.2 41 -0.1 40 0.6 38 4.4 35 11 31.5 26 25 33 20.2 35 19.2 37 19.3 43.7 22 49 22.9 54 22.5 58.5 21 61.7 19 63.6 17 65.3 14 67.1 9 68 7.4Z" fill="#ca0600" stroke="#ff9c40" stroke-opacity="0.9"/>
<path d="M69 12.1 70 12 71 12.7 76.2 19 84.5 27 87 28.6 89 29.1 94 29.6 107.7 34 120.7 37 123.7 38 124.5 39 122.9 40 118.7 41 98.2 44 86.6 47 15.1 47 7.8 44 5 42.3 3.7 41 3.3 40 3.4 39 4 38 7.9 35 13 32.4 33 23.6 36 22.8 38 22.8 47 24 51 24 55 23.3 58.8 22 63.4 19Z" fill="#e71100" stroke="#ff9c40" stroke-opacity="0.9"/>
<path d="M69 15.9 70 15.8 72 16.8 83.2 27 86 29.1 88 29.8 94 30.9 103.9 34 115.8 37 118.6 38 119.4 39 117.5 40 116 40.3 93.8 44 82.3 47 19.3 47 14 45.2 9.2 43 7 41.3 6.2 40 6.3 39 6.8 38 10.9 35 16 32.5 31 26.3 34 25.2 37 24.7 50 25 56 24 59 22.9 62.5 21Z" fill="#f31f00" stroke="#ff9c40" stroke-opacity="0.9"/>
<path d="M68 18.5 70 18 72 18.8 83 28 86 30 93 31.7 111.5 37 114 38 114.5 39 112.4 40 94 43.2 78.3 47 23.3 47 18 45.4 13 43.4 10.5 42 8.8 40 8.8 39 9.3 38 13 35.3 19 32.5 31 27.7 37 26.1 50 25.9 55 25.1 61 22.9Z" fill="#fb3b00" stroke="#ff9c40" stroke-opacity="0.9"/>
<path d="M68 20 70 19.7 72 20.3 81.5 28 86 30.7 107.5 37 109.7 38 110 39 107.5 40 91.2 43 74.4 47 27.3 47 21 45.3 16 43.5 13 42 11.7 41 11.1 40 11.1 39 11.6 38 14.1 36 19 33.6 30 29.2 35 27.7 38 27.2 50 26.6 55 25.9 60.5 24Z" fill="#ff6900" stroke="#ff9c40" stroke-opacity="0.9"/>
<path d="M67 21.6 70 21 72 21.6 74 22.9 80 28 84 30.6 87 31.8 94 33.7 103.9 37 105.7 38 105.7 39 103 40 88 43 70.4 47 31.5 47 25 45.5 19 43.7 15.4 42 14 41 13.3 40 13.2 39 13.7 38 16.3 36 21 33.7 30 30.3 38 28.2 50 27.4 55 26.6 60 25Z" fill="#ffaa00" stroke="#ffaa00" stroke-opacity="0"/>
<path d="M67 22.7 70 22.2 72 22.9 79.9 29 83 30.8 86 32.2 94 34.6 100.6 37 102.1 38 101.7 39 99 40 94.6 41 73 45.8 65.9 47 36 47 29 45.7 22 43.8 17.6 42 16.1 41 15.3 40 15.2 39 15.7 38 18.3 36 23 33.8 30 31.2 38 29.1 50.8 28 55 27.3 60 25.7Z" fill="#ffd700" stroke="#ffd700" stroke-opacity="0"/>
<path d="M66 24 69 23.3 71 23.6 73 24.6 78.5 29 81.7 31 86 32.9 95.5 36 97.7 37 98.8 38 98.2 39 91.4 41 71 45.5 59.9 47 42.7 47 35 46.1 28 44.7 23 43.3 19.8 42 18.1 41 17.2 40 17.1 39 17.5 38 20.2 36 25 33.9 31 31.7 39 29.8 54.6 28 60 26.4Z" fill="#fbea03" stroke="#fbea03" stroke-opacity="0"/>
<path d="M66 24.8 69 24.3 71 24.6 73 25.7 77.1 29 80.2 31 85 33.2 93.1 36 95 37 95.9 38 95.1 39 92.5 40 73 44.5 63 46.1 54 46.7 43 46.4 32 44.9 23 42.5 20.1 41 19.1 40 18.9 39 19.3 38 20.4 37 24.2 35 31 32.5 39 30.5 55 28.5 60 27.1Z" fill="#f4ef08" stroke="#f4ef08" stroke-opacity="0"/>
<path d="M66 25.7 69 25.3 71 25.7 78.7 31 82.9 33 90.7 36 92.5 37 93.2 38 92.3 39 89.7 40 74 43.7 64 45.4 55 46.1 44 45.9 34 44.7 25 42.4 22 41 20.9 40 20.6 39 21 38 22.1 37 26 35 31 33.2 39 31.2 55 29.1Z" fill="#e0ed15" stroke="#e0ed15" stroke-opacity="0"/>
<path d="M65 26.8 68 26.2 71 26.7 79 31.9 88.6 36 90.2 37 90.7 38 89.7 39 87.2 40 73 43.4 64 44.9 54 45.6 43 45.2 32 43.7 25 41.6 22.6 40 22.3 39 22.7 38 25.5 36 33 33.2 40 31.7 55 29.7Z" fill="#c6e924" stroke="#c6e924" stroke-opacity="0"/>
<path d="M64 27.8 68 27.1 71 27.8 77.7 32 86.6 36 88.1 37 88.4 38 87.4 39 84.9 40 72 43.1 63 44.5 54 45.1 43 44.7 33 43.3 28 42 25.7 41 24.4 40 23.9 39 24.3 38 27.2 36 34 33.6 40 32.3 55 30.2Z" fill="#aee532" stroke="#aee532" stroke-opacity="0"/>
<path d="M67 28 69 28.1 71 28.7 76.4 32 84.7 36 86.1 37 86.3 38 85.2 39 82.7 40 72 42.7 63 44 54 44.6 44 44.3 34.2 43 27.5 41 26.1 40 25.5 39 25.9 38 28 36.5 35 33.9 41 32.6 54 30.9Z" fill="#97e03f" stroke="#97e03f" stroke-opacity="0"/>
<path d="M66 28.9 69 29 71 29.7 83 36 84.2 37 84.3 38 83.2 39 80.7 40 71 42.4 63 43.6 54 44.1 44 43.8 36 42.8 29.4 41 27.8 40 27.2 39 27.5 38 28.6 37 32 35.4 36 34.2 42 33 55 31.2Z" fill="#94e159" stroke="#94e159" stroke-opacity="0"/>
<path d="M64 29.9 68 29.7 71 30.6 81.4 36 82.4 37 82.5 38 81.2 39 78.8 40 72 41.8 63 43.2 55 43.7 45 43.4 37 42.5 31.3 41 29.5 40 28.8 39 29.1 38 30.2 37 33 35.7 37 34.5 43 33.3 55 31.7Z" fill="#a5e87f" stroke="#a8c0f0" stroke-opacity="0.75"/>
<path d="M62 30.9 67 30.4 70 31 79.8 36 80.8 37 80.7 38 79.5 39 77 40 71 41.5 63 42.8 55 43.3 46 43.1 38 42.1 33.4 41 31.2 40 30.4 39 30.7 38 31.9 37 37.2 35 42 34Z" fill="#c5f1b3" stroke="#a8c0f0" stroke-opacity="0.75"/>
<path d="M59 32 65 31.1 69 31.4 72 32.5 76.8 35 79.2 37 79.1 38 77.7 39 75.2 40 70 41.3 63 42.4 55 42.8 47 42.7 40 42 35 40.8 33.1 40 32.1 39 32.3 38 33.5 37 39 35.1Z" fill="#f2fced" stroke="#a8c0f0" stroke-opacity="0.75"/>
<path d="M62 32 67 31.7 71 32.8 76.9 36 77.7 37 77.5 38 76.1 39 74 39.8 69.5 41 63 42 56 42.4 48 42.3 41 41.6 36 40.4 35 40 33.8 39 34 38 35.3 37 40 35.4Z" fill="#f2f7ff" stroke="#a8c0f0" stroke-opacity="0.75"/>
<path d="M59 32.9 65 32.3 69 32.8 72.2 34 75.5 36 76.2 37 76 38 73 39.6 68 40.9 62 41.7 56 42 49 41.9 42 41.3 37 40 35.6 39 35.7 38 37.1 37 40 36 45 34.9Z" fill="#dae9ff" stroke="#a8c0f0" stroke-opacity="0.75"/>
<path d="M63 32.9 67 33 71 34.1 74.1 36 74.8 37 74.5 38 72.9 39 68 40.4 63 41.2 57 41.6 50 41.5 43.7 41 39.3 40 37.6 39 37.6 38 39 37 42.1 36 47.3 35Z" fill="#b2cffc" stroke="#a8c0f0" stroke-opacity="0.75"/>
<path d="M58 34 64 33.4 68 33.8 71.3 35 72.7 36 73.4 37 73 38 70 39.4 66 40.3 60 41 48 41 41.8 40 39.7 39 39.6 38 41.2 37 44 36.2Z" fill="#8bb4f9" stroke="#dce8ff" stroke-opacity="0.75"/>
<path d="M63 34 66 34.1 69 34.8 71.3 36 71.9 37 71.4 38 68 39.4 64 40.2 58 40.7 51 40.7 45 40 42.1 39 41.8 38 43.5 37 47.4 36Z" fill="#6798f4" stroke="#dce8ff" stroke-opacity="0.75"/>
<path d="M58 34.9 63 34.6 66 34.7 69 35.7 70.3 37 69.7 38 67.5 39 62.1 40 58 40.3 49 40 44.9 39 44.3 38 46.2 37 48 36.6Z" fill="#487fef" stroke="#dce8ff" stroke-opacity="0.75"/>
<path d="M55 35.9 64 35.2 67.5 36 68.5 37 67.8 38 65 39 59 39.7 54 39.7 50 39.3 48.4 39 47.3 38 49.4 37Z" fill="#3b72eb" stroke="#dce8ff" stroke-opacity="0.75"/>
<path d="M60 35.9 63.9 36 66.2 37 65.3 38 60 39 54.1 39 51.2 38 53.2 37Z" fill="#2e65e6" stroke="#dce8ff" stroke-opacity="0.75"/>
</g>
<rect x="250" y="415.8" width="128.6" height="45.3" fill="none" stroke="#3a0d0d" stroke-width="0.8" />
<line x1="247.4" y1="423.6" x2="250" y2="423.6" stroke="#222" stroke-width="0.9" />
<text x="245.8" y="426.3" font-size="7.4" text-anchor="end" fill="#000" stroke="#000" stroke-width="0.16" >3.5</text>
<line x1="247.4" y1="438.4" x2="250" y2="438.4" stroke="#222" stroke-width="0.9" />
<text x="245.8" y="441.1" font-size="7.4" text-anchor="end" fill="#000" stroke="#000" stroke-width="0.16" >2.5</text>
<line x1="247.4" y1="453.1" x2="250" y2="453.1" stroke="#222" stroke-width="0.9" />
<text x="245.8" y="455.8" font-size="7.4" text-anchor="end" fill="#000" stroke="#000" stroke-width="0.16" >1.5</text>
<line x1="248.4" y1="431" x2="250" y2="431" stroke="#222" stroke-width="0.8" />
<line x1="248.4" y1="445.7" x2="250" y2="445.7" stroke="#222" stroke-width="0.8" />
<line x1="248.4" y1="460.5" x2="250" y2="460.5" stroke="#222" stroke-width="0.8" />
<text x="231.2" y="438.1" font-size="8.8" text-anchor="middle" fill="#000" stroke="#000" stroke-width="0.16" transform="rotate(-90 231.2 438.1)" >R + α (Å)</text>
<text x="252.6" y="425.1" font-size="7.9" text-anchor="start" fill="#fff" stroke="#fff" stroke-width="0.16" >-0.4 V</text>
<clipPath id="hmf3"><rect x="0" y="0" width="128.6" height="44.7"/></clipPath>
<g clip-path="url(#hmf3)" transform="translate(250 471.7)" stroke-width="0.4" fill-rule="evenodd">
<rect x="0" y="0" width="128.6" height="44.7" fill="#0d0000"/>
<path d="M0 -1 130 -1 130 46 -1 46 -1 -1ZM109.5 6 108.1 8 108.2 10 109 11.4 110 12.1 112 12.1 113 11.4 113.8 10 113.9 8 113.5 7 112 5.7 111 5.5Z" fill="#280000" stroke="#ff9c40" stroke-opacity="0.9"/>
<path d="M28 -0.3 30.6 -1 37.4 -1 40 -0.3 43 1.3 44.7 3 45.7 5 48 14.7 49 16.4 50 17 51 17 52.3 16 54.8 12 56 8 57.9 -1 75 -1 77.5 8 78.5 10 80 11.9 82 13.5 84.9 15 93 17.3 94.8 19 95.7 21 97 22.5 98 23 99 22.9 100.8 22 103 20.1 104 19.8 107 20.1 118 23.7 130 29.7 130 43.3 124.4 46 -1 46 -1 20.8 8 18 11.8 16 14 13.9 18.5 7 21 4 24 1.6Z" fill="#500000" stroke="#ff9c40" stroke-opacity="0.9"/>
<path d="M62 -1 71.2 -1 72.5 2 74.9 10 76 12.3 79 15.8 82.3 18 91 20.9 97 24.7 99 25 104 24.5 106 24.8 118.1 30 121.3 31 130 32.8 130 40.4 121.5 42 118 43 111 46 -1 46 -1 26.3 10.4 22 15 19.7 18 17 22.5 10 25 7.3 28 5.3 32 4 34 3.8 37 4.2 41 5.9 42.3 7 43.7 9 46.4 16 47.5 18 49 19.3 50 19.6 52 19.2 55 16.5 57.4 13 58.5 10 60.5 2Z" fill="#770000" stroke="#ff9c40" stroke-opacity="0.9"/>
<path d="M66 -0.4 68 0 69.1 1 70.7 4 72.7 10 74 13 77 16.8 80 19.2 83.7 21 91 23.2 97 26.1 104 27.2 114 31 130 34.2 130 38.9 114.1 42 103.2 46 5.6 46 -1 43.1 -1 29.7 14 23.4 18 21.1 21.1 18 25.9 11 28.3 9 31 7.7 34 7.2 37 7.7 39 8.5 42 11.2 45.1 17 47 19.6 49 21 51 21.2 53 20.3 54.8 19 58 15.7 59.9 12 63 2.4 64 0.9Z" fill="#9e0000" stroke="#ff9c40" stroke-opacity="0.9"/>
<path d="M66 3.8 67 3.8 68 4.4 69 5.8 72.2 13 75 17 78 19.8 81 21.6 84.3 23 91 25 96 27.1 102 28.7 108.6 31 127.9 35 130 35.9 130 37.2 128.5 38 125 38.9 108.5 42 97.2 46 11.7 46 5 43.4 -1 40.4 -1 32.4 5 29.4 15.3 25 19 23 22.6 20 27.1 14 30 11.4 32 10.6 34 10.3 36 10.5 38 11.3 41 13.9 44.7 19 46.7 21 49 22.3 51 22.4 54.1 21 56.9 19 58.9 17 61.3 13 64 5.9 65 4.4Z" fill="#ca0600" stroke="#ff9c40" stroke-opacity="0.9"/>
<path d="M66 8.7 67 8.7 68 9.4 71.6 15 75 19 78 21.4 81 23.2 104.2 31 108 32 123.6 35 126.2 36 126.4 37 124.2 38 122 38.5 104 42 92 46 16.8 46 10 43.7 3.9 41 0.6 39 -1 37 -1 35.9 -0.6 35 1.8 33 6 30.8 17.1 26 22.2 23 25.5 20 29 15.9 32 13.8 34 13.4 37 14.1 39 15.3 46.3 22 49 23.3 51 23.4 54.5 22 59 18.8 61.4 16 65 9.7Z" fill="#e71100" stroke="#ff9c40" stroke-opacity="0.9"/>
<path d="M67 13 69 14.3 73.3 19 76 21.4 79 23.5 82 24.9 104.1 32 119.5 35 122.4 36 122.6 37 119 38.2 104 41 87.3 46 21.5 46 14 43.7 8 41.3 3.8 39 2.1 37 2 36 2.5 35 5 33 22 25 25 23 31 17.9 33 16.9 35 16.8 37 17.3 47 23.5 49 24.2 51 24.3 54 23.3 58 21 61 18.5 65 13.8 66 13.1Z" fill="#f31f00" stroke="#ff9c40" stroke-opacity="0.9"/>
<path d="M66 16 67 15.8 69 16.7 76.3 23 81.8 26 100.6 32 115.5 35 118.7 36 118.9 37 116.2 38 100.5 41 82.7 46 26 46 18 43.8 11 41.3 6.6 39 4.8 37 4.8 36 5.3 35 7.9 33 21.2 27 31 20.9 33 20.1 35 19.8 38 20.3 48 24.8 51 25.1 54 24.1 58.3 22Z" fill="#fb3b00" stroke="#ff9c40" stroke-opacity="0.9"/>
<path d="M67 18 69 18.6 76 24.1 81.6 27 97.5 32 112 35.1 115 36 115.2 37 112.3 38 97.3 41 85 44.5 78.2 46 30.5 46 23 44.3 14 41.3 9.2 39 7.3 37 7.2 36 7.7 35 10.5 33 21.8 28 30 23.6 33 22.4 36 22 39 22.4 48 25.6 51 25.8 53.9 25 58.4 23 65 18.5Z" fill="#ff6900" stroke="#ff9c40" stroke-opacity="0.9"/>
<path d="M66 19.8 67 19.7 69 20.3 76 25.2 81.7 28 94.7 32 111 35.9 111.3 36 111.5 37 108.5 38 94.4 41 82 44.3 73.3 46 35.4 46 27 44.4 18 41.8 11.5 39 9.5 37 9.5 36 10 35 12.9 33 33 24.1 36 23.7 39 23.8 42 24.4 48 26.3 51 26.4 53.1 26 58.3 24Z" fill="#ffaa00" stroke="#ffaa00" stroke-opacity="0"/>
<path d="M65 21.7 67 21.3 69 21.7 75.5 26 80 28.2 92 32 107.6 36 107.8 37 104.8 38 95.6 40 81 43.8 67.6 46 41.2 46 35 45.2 27 43.6 19 41.3 13.7 39 11.6 37 11.6 36 12.1 35 15.1 33 33 25.6 36 25 40 25.1 48 26.9 51 27.1 58 25Z" fill="#ffd700" stroke="#ffd700" stroke-opacity="0"/>
<path d="M65 23 67 22.7 69 23.1 75.5 27 79.8 29 89.5 32 101.1 35 104.1 36 104.2 37 101.4 38 75 44.3 66 45.5 56.3 46 43 45.5 30 43.6 23 41.8 18 40 15 38.4 13.6 37 13.5 36 14.1 35 17.2 33 33 26.8 36 26.2 40 26.1 48 27.5 51 27.6 58 25.8Z" fill="#fbea03" stroke="#fbea03" stroke-opacity="0"/>
<path d="M66 24 69 24.4 75.7 28 80.6 30 98.1 35 100.7 36 100.9 37 94.4 39 75 43.6 66 44.9 55 45.4 42 44.8 30 42.9 20 40 17 38.5 15.5 37 15.4 36 16 35 19 33.1 28 29.4 33 27.8 36 27.2 40 27 43 27.2 48 28.1 51 28.2 56.3 27Z" fill="#f4ef08" stroke="#f4ef08" stroke-opacity="0"/>
<path d="M63 25.8 66 25.2 69 25.6 78.6 30 95.3 35 97.7 36 97.7 37 95.4 38 87 40.3 74 43.2 65 44.4 55 44.8 43 44.3 31 42.5 22 40 19 38.5 17.3 37 17.2 36 17.8 35 20 33.5 27 30.6 33 28.7 37 28 41 27.8 51 28.7Z" fill="#e0ed15" stroke="#e0ed15" stroke-opacity="0"/>
<path d="M62 27 66 26.2 69 26.6 78 30.5 92.8 35 94.8 36 94.9 37 89.4 39 75 42.5 66 43.7 55 44.3 43 43.7 33 42.3 24 40 21 38.6 19 37 18.9 36 19.5 35 20.9 34 26 31.7 33 29.5 37 28.8 41 28.5 51 29.2Z" fill="#c6e924" stroke="#c6e924" stroke-opacity="0"/>
<path d="M61 27.9 66 27.2 69 27.6 77.7 31 90.4 35 92.2 36 92.2 37 87.1 39 74 42.1 65 43.3 55 43.8 44 43.3 33 41.7 25 39.6 21.7 38 20.7 37 20.6 36 21.2 35 22.6 34 27.2 32 33 30.2 41 29.1 51 29.7Z" fill="#aee532" stroke="#aee532" stroke-opacity="0"/>
<path d="M59 28.9 65 28.1 69 28.5 88.1 35 89.8 36 89.8 37 88 38 84.9 39 74 41.6 65 42.8 55 43.3 44 42.8 34 41.4 26 39.3 23.4 38 22.4 37 22.2 36 22.9 35 24.3 34 29 32.1 34 30.7 41 29.7 51 30.1Z" fill="#97e03f" stroke="#97e03f" stroke-opacity="0"/>
<path d="M64 28.9 69 29.3 83.4 34 86 35 87.6 36 87.5 37 85.8 38 82.8 39 73 41.3 64 42.4 55 42.8 45 42.4 35 41.1 27.1 39 25.1 38 24 37 23.8 36 24.5 35 26 34 30 32.4 35 31.1 42 30.3 51 30.5Z" fill="#94e159" stroke="#94e159" stroke-opacity="0"/>
<path d="M59 30 65 29.5 70 30.3 84 35 85.4 36 85.4 37 83.7 38 80.7 39 71 41.1 62 42.1 53 42.3 42 41.7 33 40.2 29 39 26.8 38 25.6 37 25.4 36 26.1 35 28 33.9 32 32.4 36 31.5 42 30.8 51 30.9Z" fill="#a5e87f" stroke="#a8c0f0" stroke-opacity="0.75"/>
<path d="M55 30.9 64 30.2 69 30.6 76.8 33 82 35 83.4 36 83.3 37 81.6 38 78.7 39 71 40.7 62 41.7 53 41.9 43 41.3 34.5 40 28.5 38 27.2 37 27 36 27.7 35 29.4 34 33 32.7 37 31.8 42 31.3 50 31.4Z" fill="#c5f1b3" stroke="#a8c0f0" stroke-opacity="0.75"/>
<path d="M59 30.9 66 30.8 71 31.7 80.2 35 81.5 36 81.3 37 79.7 38 76.7 39 70 40.4 62 41.3 53 41.5 44 41 36 39.8 30.2 38 28.9 37 28.6 36 29.4 35 31.2 34 38 32.2 43 31.7 51 31.7Z" fill="#f2fced" stroke="#a8c0f0" stroke-opacity="0.75"/>
<path d="M53 31.9 62 31.3 68 31.6 76.2 34 78.4 35 79.6 36 79.4 37 77.7 38 72 39.6 64 40.7 55 41.1 45 40.7 37 39.5 32 38 30.5 37 30.3 36 31.1 35 33.1 34 38 32.7 43 32.1Z" fill="#f2f7ff" stroke="#a8c0f0" stroke-opacity="0.75"/>
<path d="M57 32 64 31.8 68 32.2 74.5 34 76.6 35 77.8 36 77.5 37 75.8 38 72 39.1 64 40.3 55 40.7 45 40.2 38 39.2 33.9 38 32.3 37 32 36 32.9 35 35 34.1 39.5 33Z" fill="#dae9ff" stroke="#a8c0f0" stroke-opacity="0.75"/>
<path d="M45 33 60 32.3 66 32.4 72.7 34 74.9 35 76 36 75.7 37 74 37.9 70.1 39 63 40 55 40.3 47 40 39.5 39 35.9 38 34.1 37 33.8 36 34.8 35 37.5 34Z" fill="#b2cffc" stroke="#a8c0f0" stroke-opacity="0.75"/>
<path d="M55 32.9 62 32.7 67 33.1 71 34.1 73.1 35 74.2 36 73.8 37 72 37.9 68 38.9 62 39.6 55 39.9 48 39.6 42 38.9 38 38 36 37 35.7 36 36.9 35 41 33.9Z" fill="#8bb4f9" stroke="#dce8ff" stroke-opacity="0.75"/>
<path d="M45 33.9 58 33.2 64 33.3 69 34.2 71.2 35 72.3 36 71.8 37 68 38.3 62 39.2 55 39.4 47 39.1 42 38.3 38.1 37 37.7 36 40 34.8Z" fill="#6798f4" stroke="#dce8ff" stroke-opacity="0.75"/>
<path d="M54 33.9 60 33.7 65 34 69.1 35 70.3 36 69.7 37 66.8 38 62 38.7 56 39 50 38.8 43.4 38 40.5 37 40.1 36 43 34.8Z" fill="#487fef" stroke="#dce8ff" stroke-opacity="0.75"/>
<path d="M48 35 56 34.3 61 34.3 66.4 35 68 36 67.2 37 64 37.8 56 38.4 47 37.8 43.5 37 43 36Z" fill="#3b72eb" stroke="#dce8ff" stroke-opacity="0.75"/>
<path d="M55 35 61.5 35 64.9 36 63.8 37 58 37.8 54 37.7 48.4 37 48.3 36Z" fill="#2e65e6" stroke="#dce8ff" stroke-opacity="0.75"/>
</g>
<rect x="250" y="471.7" width="128.6" height="44.7" fill="none" stroke="#3a0d0d" stroke-width="0.8" />
<line x1="247.4" y1="479.5" x2="250" y2="479.5" stroke="#222" stroke-width="0.9" />
<text x="245.8" y="482.2" font-size="7.4" text-anchor="end" fill="#000" stroke="#000" stroke-width="0.16" >3.5</text>
<line x1="247.4" y1="494.2" x2="250" y2="494.2" stroke="#222" stroke-width="0.9" />
<text x="245.8" y="496.9" font-size="7.4" text-anchor="end" fill="#000" stroke="#000" stroke-width="0.16" >2.5</text>
<line x1="247.4" y1="509" x2="250" y2="509" stroke="#222" stroke-width="0.9" />
<text x="245.8" y="511.7" font-size="7.4" text-anchor="end" fill="#000" stroke="#000" stroke-width="0.16" >1.5</text>
<line x1="248.4" y1="486.9" x2="250" y2="486.9" stroke="#222" stroke-width="0.8" />
<line x1="248.4" y1="501.6" x2="250" y2="501.6" stroke="#222" stroke-width="0.8" />
<line x1="248.4" y1="516.4" x2="250" y2="516.4" stroke="#222" stroke-width="0.8" />
<text x="231.2" y="493.7" font-size="8.8" text-anchor="middle" fill="#000" stroke="#000" stroke-width="0.16" transform="rotate(-90 231.2 493.7)" >R + α (Å)</text>
<text x="252.6" y="481" font-size="7.9" text-anchor="start" fill="#fff" stroke="#fff" stroke-width="0.16" >-0.8 V</text>
<text x="173" y="369.6" font-size="7.9" text-anchor="end" fill="#fff" stroke="#fff" stroke-width="0.16" >Sn K-edge</text>
<text x="376.6" y="369.6" font-size="7.9" text-anchor="end" fill="#fff" stroke="#fff" stroke-width="0.16" >Zn K-edge</text>
<text x="9" y="373.2" font-size="16" text-anchor="start" fill="#000" stroke="#000" stroke-width="0.16" font-weight="bold" >e</text>
<text x="217.6" y="373.2" font-size="16" text-anchor="start" fill="#000" stroke="#000" stroke-width="0.16" font-weight="bold" >f</text>
<line x1="46.8" y1="516.4" x2="46.8" y2="518.8" stroke="#222" stroke-width="0.9" />
<text x="46.8" y="527.6" font-size="7.7" text-anchor="middle" fill="#000" stroke="#000" stroke-width="0.16" >0</text>
<line x1="68.2" y1="516.4" x2="68.2" y2="518.8" stroke="#222" stroke-width="0.9" />
<text x="68.2" y="527.6" font-size="7.7" text-anchor="middle" fill="#000" stroke="#000" stroke-width="0.16" >2</text>
<line x1="89.6" y1="516.4" x2="89.6" y2="518.8" stroke="#222" stroke-width="0.9" />
<text x="89.6" y="527.6" font-size="7.7" text-anchor="middle" fill="#000" stroke="#000" stroke-width="0.16" >4</text>
<line x1="111" y1="516.4" x2="111" y2="518.8" stroke="#222" stroke-width="0.9" />
<text x="111" y="527.6" font-size="7.7" text-anchor="middle" fill="#000" stroke="#000" stroke-width="0.16" >6</text>
<line x1="132.4" y1="516.4" x2="132.4" y2="518.8" stroke="#222" stroke-width="0.9" />
<text x="132.4" y="527.6" font-size="7.7" text-anchor="middle" fill="#000" stroke="#000" stroke-width="0.16" >8</text>
<line x1="153.8" y1="516.4" x2="153.8" y2="518.8" stroke="#222" stroke-width="0.9" />
<text x="153.8" y="527.6" font-size="7.7" text-anchor="middle" fill="#000" stroke="#000" stroke-width="0.16" >10</text>
<line x1="175.2" y1="516.4" x2="175.2" y2="518.8" stroke="#222" stroke-width="0.9" />
<text x="175.2" y="527.6" font-size="7.7" text-anchor="middle" fill="#000" stroke="#000" stroke-width="0.16" >12</text>
<line x1="57.5" y1="516.4" x2="57.5" y2="517.8" stroke="#222" stroke-width="0.8" />
<line x1="78.9" y1="516.4" x2="78.9" y2="517.8" stroke="#222" stroke-width="0.8" />
<line x1="100.3" y1="516.4" x2="100.3" y2="517.8" stroke="#222" stroke-width="0.8" />
<line x1="121.7" y1="516.4" x2="121.7" y2="517.8" stroke="#222" stroke-width="0.8" />
<line x1="143.1" y1="516.4" x2="143.1" y2="517.8" stroke="#222" stroke-width="0.8" />
<line x1="164.5" y1="516.4" x2="164.5" y2="517.8" stroke="#222" stroke-width="0.8" />
<line x1="250.4" y1="516.4" x2="250.4" y2="518.8" stroke="#222" stroke-width="0.9" />
<text x="250.4" y="527.6" font-size="7.7" text-anchor="middle" fill="#000" stroke="#000" stroke-width="0.16" >0</text>
<line x1="276" y1="516.4" x2="276" y2="518.8" stroke="#222" stroke-width="0.9" />
<text x="276" y="527.6" font-size="7.7" text-anchor="middle" fill="#000" stroke="#000" stroke-width="0.16" >2</text>
<line x1="301.6" y1="516.4" x2="301.6" y2="518.8" stroke="#222" stroke-width="0.9" />
<text x="301.6" y="527.6" font-size="7.7" text-anchor="middle" fill="#000" stroke="#000" stroke-width="0.16" >4</text>
<line x1="327.2" y1="516.4" x2="327.2" y2="518.8" stroke="#222" stroke-width="0.9" />
<text x="327.2" y="527.6" font-size="7.7" text-anchor="middle" fill="#000" stroke="#000" stroke-width="0.16" >6</text>
<line x1="352.8" y1="516.4" x2="352.8" y2="518.8" stroke="#222" stroke-width="0.9" />
<text x="352.8" y="527.6" font-size="7.7" text-anchor="middle" fill="#000" stroke="#000" stroke-width="0.16" >8</text>
<line x1="378.4" y1="516.4" x2="378.4" y2="518.8" stroke="#222" stroke-width="0.9" />
<text x="378.4" y="527.6" font-size="7.7" text-anchor="middle" fill="#000" stroke="#000" stroke-width="0.16" >10</text>
<line x1="263.2" y1="516.4" x2="263.2" y2="517.8" stroke="#222" stroke-width="0.8" />
<line x1="288.8" y1="516.4" x2="288.8" y2="517.8" stroke="#222" stroke-width="0.8" />
<line x1="314.4" y1="516.4" x2="314.4" y2="517.8" stroke="#222" stroke-width="0.8" />
<line x1="340" y1="516.4" x2="340" y2="517.8" stroke="#222" stroke-width="0.8" />
<line x1="365.6" y1="516.4" x2="365.6" y2="517.8" stroke="#222" stroke-width="0.8" />
<text x="110.5" y="542.6" font-size="9" text-anchor="middle" fill="#000" stroke="#000" stroke-width="0.16">k (Å<tspan font-size="6" dy="-3.2">-1</tspan><tspan dy="3.2">)</tspan></text>
<text x="313.8" y="542.6" font-size="9" text-anchor="middle" fill="#000" stroke="#000" stroke-width="0.16">k (Å<tspan font-size="6" dy="-3.2">-1</tspan><tspan dy="3.2">)</tspan></text>
<linearGradient id="cb181_364" x1="0" y1="1" x2="0" y2="0"><stop offset="0.00" stop-color="#000000"/><stop offset="0.10" stop-color="#460000"/><stop offset="0.22" stop-color="#a00000"/><stop offset="0.32" stop-color="#eb0a00"/><stop offset="0.40" stop-color="#ff5a00"/><stop offset="0.50" stop-color="#ffd700"/><stop offset="0.56" stop-color="#ffff3c"/><stop offset="0.64" stop-color="#ffffd2"/><stop offset="0.70" stop-color="#ffffff"/><stop offset="0.80" stop-color="#c8e4ff"/><stop offset="0.90" stop-color="#78aaf8"/><stop offset="1.00" stop-color="#3773eb"/></linearGradient>
<rect x="181" y="364.8" width="7.5" height="36" fill="url(#cb181_364)" stroke="#222" stroke-width="0.6" />
<line x1="188.5" y1="367" x2="190.3" y2="367" stroke="#222" stroke-width="0.7" />
<text x="192.1" y="369.7" font-size="7.5" text-anchor="start" fill="#000" stroke="#000" stroke-width="0.16" >1.5</text>
<line x1="188.5" y1="378.2" x2="190.3" y2="378.2" stroke="#222" stroke-width="0.7" />
<text x="192.1" y="380.9" font-size="7.5" text-anchor="start" fill="#000" stroke="#000" stroke-width="0.16" >1.0</text>
<line x1="188.5" y1="389.5" x2="190.3" y2="389.5" stroke="#222" stroke-width="0.7" />
<text x="192.1" y="392.2" font-size="7.5" text-anchor="start" fill="#000" stroke="#000" stroke-width="0.16" >0.5</text>
<line x1="188.5" y1="400.6" x2="190.3" y2="400.6" stroke="#222" stroke-width="0.7" />
<text x="192.1" y="403.3" font-size="7.5" text-anchor="start" fill="#000" stroke="#000" stroke-width="0.16" >0.0</text>
<linearGradient id="cb181_420" x1="0" y1="1" x2="0" y2="0"><stop offset="0.00" stop-color="#000000"/><stop offset="0.10" stop-color="#460000"/><stop offset="0.22" stop-color="#a00000"/><stop offset="0.32" stop-color="#eb0a00"/><stop offset="0.40" stop-color="#ff5a00"/><stop offset="0.50" stop-color="#ffd700"/><stop offset="0.56" stop-color="#ffff3c"/><stop offset="0.64" stop-color="#ffffd2"/><stop offset="0.70" stop-color="#ffffff"/><stop offset="0.80" stop-color="#c8e4ff"/><stop offset="0.90" stop-color="#78aaf8"/><stop offset="1.00" stop-color="#3773eb"/></linearGradient>
<rect x="181" y="420.2" width="7.5" height="35.7" fill="url(#cb181_420)" stroke="#222" stroke-width="0.6" />
<line x1="188.5" y1="424.5" x2="190.3" y2="424.5" stroke="#222" stroke-width="0.7" />
<text x="192.1" y="427.2" font-size="7.5" text-anchor="start" fill="#000" stroke="#000" stroke-width="0.16" >1.5</text>
<line x1="188.5" y1="435" x2="190.3" y2="435" stroke="#222" stroke-width="0.7" />
<text x="192.1" y="437.7" font-size="7.5" text-anchor="start" fill="#000" stroke="#000" stroke-width="0.16" >1.0</text>
<line x1="188.5" y1="445.6" x2="190.3" y2="445.6" stroke="#222" stroke-width="0.7" />
<text x="192.1" y="448.3" font-size="7.5" text-anchor="start" fill="#000" stroke="#000" stroke-width="0.16" >0.5</text>
<line x1="188.5" y1="455.8" x2="190.3" y2="455.8" stroke="#222" stroke-width="0.7" />
<text x="192.1" y="458.5" font-size="7.5" text-anchor="start" fill="#000" stroke="#000" stroke-width="0.16" >0.0</text>
<linearGradient id="cb181_476" x1="0" y1="1" x2="0" y2="0"><stop offset="0.00" stop-color="#000000"/><stop offset="0.10" stop-color="#460000"/><stop offset="0.22" stop-color="#a00000"/><stop offset="0.32" stop-color="#eb0a00"/><stop offset="0.40" stop-color="#ff5a00"/><stop offset="0.50" stop-color="#ffd700"/><stop offset="0.56" stop-color="#ffff3c"/><stop offset="0.64" stop-color="#ffffd2"/><stop offset="0.70" stop-color="#ffffff"/><stop offset="0.80" stop-color="#c8e4ff"/><stop offset="0.90" stop-color="#78aaf8"/><stop offset="1.00" stop-color="#3773eb"/></linearGradient>
<rect x="181" y="476.4" width="7.5" height="35.8" fill="url(#cb181_476)" stroke="#222" stroke-width="0.6" />
<line x1="188.5" y1="478.5" x2="190.3" y2="478.5" stroke="#222" stroke-width="0.7" />
<text x="192.1" y="481.2" font-size="7.5" text-anchor="start" fill="#000" stroke="#000" stroke-width="0.16" >2.0</text>
<line x1="188.5" y1="487" x2="190.3" y2="487" stroke="#222" stroke-width="0.7" />
<text x="192.1" y="489.7" font-size="7.5" text-anchor="start" fill="#000" stroke="#000" stroke-width="0.16" >1.5</text>
<line x1="188.5" y1="495.3" x2="190.3" y2="495.3" stroke="#222" stroke-width="0.7" />
<text x="192.1" y="498" font-size="7.5" text-anchor="start" fill="#000" stroke="#000" stroke-width="0.16" >1.0</text>
<line x1="188.5" y1="503.7" x2="190.3" y2="503.7" stroke="#222" stroke-width="0.7" />
<text x="192.1" y="506.4" font-size="7.5" text-anchor="start" fill="#000" stroke="#000" stroke-width="0.16" >0.5</text>
<line x1="188.5" y1="512" x2="190.3" y2="512" stroke="#222" stroke-width="0.7" />
<text x="192.1" y="514.7" font-size="7.5" text-anchor="start" fill="#000" stroke="#000" stroke-width="0.16" >0.0</text>
<linearGradient id="cb385_364" x1="0" y1="1" x2="0" y2="0"><stop offset="0.00" stop-color="#000000"/><stop offset="0.10" stop-color="#460000"/><stop offset="0.22" stop-color="#a00000"/><stop offset="0.32" stop-color="#eb0a00"/><stop offset="0.40" stop-color="#ff5a00"/><stop offset="0.50" stop-color="#ffd700"/><stop offset="0.56" stop-color="#ffff3c"/><stop offset="0.64" stop-color="#ffffd2"/><stop offset="0.70" stop-color="#ffffff"/><stop offset="0.80" stop-color="#c8e4ff"/><stop offset="0.90" stop-color="#78aaf8"/><stop offset="1.00" stop-color="#3773eb"/></linearGradient>
<rect x="385" y="364.4" width="7.5" height="36.4" fill="url(#cb385_364)" stroke="#222" stroke-width="0.6" />
<line x1="392.5" y1="367" x2="394.3" y2="367" stroke="#222" stroke-width="0.7" />
<text x="396.1" y="369.7" font-size="7.5" text-anchor="start" fill="#000" stroke="#000" stroke-width="0.16" >2.0</text>
<line x1="392.5" y1="375.4" x2="394.3" y2="375.4" stroke="#222" stroke-width="0.7" />
<text x="396.1" y="378.1" font-size="7.5" text-anchor="start" fill="#000" stroke="#000" stroke-width="0.16" >1.5</text>
<line x1="392.5" y1="383.7" x2="394.3" y2="383.7" stroke="#222" stroke-width="0.7" />
<text x="396.1" y="386.4" font-size="7.5" text-anchor="start" fill="#000" stroke="#000" stroke-width="0.16" >1.0</text>
<line x1="392.5" y1="392.2" x2="394.3" y2="392.2" stroke="#222" stroke-width="0.7" />
<text x="396.1" y="394.9" font-size="7.5" text-anchor="start" fill="#000" stroke="#000" stroke-width="0.16" >0.5</text>
<line x1="392.5" y1="400.6" x2="394.3" y2="400.6" stroke="#222" stroke-width="0.7" />
<text x="396.1" y="403.3" font-size="7.5" text-anchor="start" fill="#000" stroke="#000" stroke-width="0.16" >0.0</text>
<linearGradient id="cb385_419" x1="0" y1="1" x2="0" y2="0"><stop offset="0.00" stop-color="#000000"/><stop offset="0.10" stop-color="#460000"/><stop offset="0.22" stop-color="#a00000"/><stop offset="0.32" stop-color="#eb0a00"/><stop offset="0.40" stop-color="#ff5a00"/><stop offset="0.50" stop-color="#ffd700"/><stop offset="0.56" stop-color="#ffff3c"/><stop offset="0.64" stop-color="#ffffd2"/><stop offset="0.70" stop-color="#ffffff"/><stop offset="0.80" stop-color="#c8e4ff"/><stop offset="0.90" stop-color="#78aaf8"/><stop offset="1.00" stop-color="#3773eb"/></linearGradient>
<rect x="385" y="419.5" width="7.5" height="36.8" fill="url(#cb385_419)" stroke="#222" stroke-width="0.6" />
<line x1="392.5" y1="421.5" x2="394.3" y2="421.5" stroke="#222" stroke-width="0.7" />
<text x="396.1" y="424.2" font-size="7.5" text-anchor="start" fill="#000" stroke="#000" stroke-width="0.16" >2.0</text>
<line x1="392.5" y1="430" x2="394.3" y2="430" stroke="#222" stroke-width="0.7" />
<text x="396.1" y="432.7" font-size="7.5" text-anchor="start" fill="#000" stroke="#000" stroke-width="0.16" >1.5</text>
<line x1="392.5" y1="438.6" x2="394.3" y2="438.6" stroke="#222" stroke-width="0.7" />
<text x="396.1" y="441.3" font-size="7.5" text-anchor="start" fill="#000" stroke="#000" stroke-width="0.16" >1.0</text>
<line x1="392.5" y1="447.2" x2="394.3" y2="447.2" stroke="#222" stroke-width="0.7" />
<text x="396.1" y="449.9" font-size="7.5" text-anchor="start" fill="#000" stroke="#000" stroke-width="0.16" >0.5</text>
<line x1="392.5" y1="456" x2="394.3" y2="456" stroke="#222" stroke-width="0.7" />
<text x="396.1" y="458.7" font-size="7.5" text-anchor="start" fill="#000" stroke="#000" stroke-width="0.16" >0.0</text>
<linearGradient id="cb385_474" x1="0" y1="1" x2="0" y2="0"><stop offset="0.00" stop-color="#000000"/><stop offset="0.10" stop-color="#460000"/><stop offset="0.22" stop-color="#a00000"/><stop offset="0.32" stop-color="#eb0a00"/><stop offset="0.40" stop-color="#ff5a00"/><stop offset="0.50" stop-color="#ffd700"/><stop offset="0.56" stop-color="#ffff3c"/><stop offset="0.64" stop-color="#ffffd2"/><stop offset="0.70" stop-color="#ffffff"/><stop offset="0.80" stop-color="#c8e4ff"/><stop offset="0.90" stop-color="#78aaf8"/><stop offset="1.00" stop-color="#3773eb"/></linearGradient>
<rect x="385" y="474.5" width="7.5" height="37.8" fill="url(#cb385_474)" stroke="#222" stroke-width="0.6" />
<line x1="392.5" y1="476.7" x2="394.3" y2="476.7" stroke="#222" stroke-width="0.7" />
<text x="396.1" y="479.4" font-size="7.5" text-anchor="start" fill="#000" stroke="#000" stroke-width="0.16" >1.5</text>
<line x1="392.5" y1="488.4" x2="394.3" y2="488.4" stroke="#222" stroke-width="0.7" />
<text x="396.1" y="491.1" font-size="7.5" text-anchor="start" fill="#000" stroke="#000" stroke-width="0.16" >1.0</text>
<line x1="392.5" y1="500.1" x2="394.3" y2="500.1" stroke="#222" stroke-width="0.7" />
<text x="396.1" y="502.8" font-size="7.5" text-anchor="start" fill="#000" stroke="#000" stroke-width="0.16" >0.5</text>
<line x1="392.5" y1="511.8" x2="394.3" y2="511.8" stroke="#222" stroke-width="0.7" />
<text x="396.1" y="514.5" font-size="7.5" text-anchor="start" fill="#000" stroke="#000" stroke-width="0.16" >0.0</text>
<clipPath id="g1"><rect x="444.8" y="22" width="165.49999999999994" height="48.3"/></clipPath>
<g clip-path="url(#g1)">
<polyline points="444.8,68.4 445.3,68.4 445.8,68.4 446.3,68.4 446.8,68.4 447.3,68.4 447.8,68.4 448.3,68.4 448.8,68.4 449.3,68.4 449.8,68.4 450.3,68.4 450.8,68.4 451.3,68.4 451.8,68.4 452.3,68.4 452.8,68.4 453.3,68.4 453.8,68.4 454.3,68.4 454.8,68.4 455.3,68.4 455.8,68.4 456.3,68.4 456.8,68.4 457.3,68.4 457.8,68.4 458.3,68.4 458.8,68.4 459.3,68.4 459.8,68.3 460.3,68.3 460.8,68.3 461.3,68.2 461.8,68.2 462.3,68.1 462.8,68.1 463.3,68 463.8,67.8 464.3,67.7 464.8,67.5 465.3,67.4 465.8,67.1 466.3,66.9 466.8,66.6 467.3,66.3 467.8,66 468.3,65.7 468.8,65.4 469.3,65 469.8,64.6 470.3,64.3 470.8,63.9 471.3,63.5 471.8,63.2 472.3,62.8 472.8,62.4 473.3,62 473.8,61.5 474.3,61 474.8,60.4 475.3,59.8 475.8,59.1 476.3,58.2 476.8,57.3 477.3,56.3 477.8,55.1 478.3,53.9 478.8,52.7 479.3,51.4 479.8,50.1 480.3,48.9 480.8,47.7 481.3,46.7 481.8,45.8 482.3,45.1 482.8,44.6 483.3,44.4 483.8,44.5 484.3,44.8 484.8,45.3 485.3,46.2 485.8,47.2 486.3,48.4 486.8,49.8 487.3,51.2 487.8,52.8 488.3,54.3 488.8,55.9 489.3,57.4 489.8,58.8 490.3,60.2 490.8,61.4 491.3,62.6 491.8,63.6 492.3,64.4 492.8,65.2 493.3,65.8 493.8,66.4 494.3,66.8 494.8,67.2 495.3,67.5 495.8,67.7 496.3,67.9 496.8,68 497.3,68.1 497.8,68.2 498.3,68.3 498.8,68.3 499.3,68.3 499.8,68.4 500.3,68.4 500.8,68.4 501.3,68.4 501.8,68.4 502.3,68.4 502.8,68.4 503.3,68.4 503.8,68.4 504.3,68.4 504.8,68.4 505.3,68.4 505.8,68.4 506.3,68.4 506.8,68.4 507.3,68.4 507.8,68.4 508.3,68.4 508.8,68.4 509.3,68.4 509.8,68.4 510.3,68.4 510.8,68.4 511.3,68.4 511.8,68.4 512.3,68.4 512.8,68.4 513.3,68.4 513.8,68.4 514.3,68.4 514.8,68.4 515.3,68.4 515.8,68.4 516.3,68.4 516.8,68.4 517.3,68.4 517.8,68.4 518.3,68.4 518.8,68.4 519.3,68.4 519.8,68.4 520.3,68.4 520.8,68.4 521.3,68.4 521.8,68.4 522.3,68.4 522.8,68.4 523.3,68.4 523.8,68.4 524.3,68.4 524.8,68.4 525.3,68.4 525.8,68.4 526.3,68.4 526.8,68.4 527.3,68.4 527.8,68.4 528.3,68.4 528.8,68.4 529.3,68.4 529.8,68.4 530.3,68.4 530.8,68.4 531.3,68.4 531.8,68.4 532.3,68.4 532.8,68.4 533.3,68.4 533.8,68.4 534.3,68.4 534.8,68.4 535.3,68.4 535.8,68.4 536.3,68.4 536.8,68.4 537.3,68.4 537.8,68.4 538.3,68.4 538.8,68.4 539.3,68.4 539.8,68.4 540.3,68.4 540.8,68.4 541.3,68.4 541.8,68.4 542.3,68.4 542.8,68.4 543.3,68.4 543.8,68.4 544.3,68.4 544.8,68.4 545.3,68.4 545.8,68.4 546.3,68.4 546.8,68.4 547.3,68.4 547.8,68.4 548.3,68.4 548.8,68.4 549.3,68.4 549.8,68.4 550.3,68.4 550.8,68.4 551.3,68.4 551.8,68.4 552.3,68.4 552.8,68.4 553.3,68.4 553.8,68.4 554.3,68.4 554.8,68.4 555.3,68.4 555.8,68.4 556.3,68.4 556.8,68.4 557.3,68.4 557.8,68.4 558.3,68.4 558.8,68.4 559.3,68.4 559.8,68.4 560.3,68.4 560.8,68.4 561.3,68.4 561.8,68.4 562.3,68.4 562.8,68.4 563.3,68.4 563.8,68.4 564.3,68.4 564.8,68.4 565.3,68.4 565.8,68.4 566.3,68.4 566.8,68.4 567.3,68.4 567.8,68.4 568.3,68.4 568.8,68.4 569.3,68.4 569.8,68.4 570.3,68.4 570.8,68.4 571.3,68.4 571.8,68.4 572.3,68.4 572.8,68.4 573.3,68.4 573.8,68.4 574.3,68.4 574.8,68.4 575.3,68.4 575.8,68.4 576.3,68.4 576.8,68.4 577.3,68.4 577.8,68.4 578.3,68.4 578.8,68.4 579.3,68.4 579.8,68.4 580.3,68.4 580.8,68.4 581.3,68.4 581.8,68.4 582.3,68.4 582.8,68.4 583.3,68.4 583.8,68.4 584.3,68.4 584.8,68.4 585.3,68.4 585.8,68.4 586.3,68.4 586.8,68.4 587.3,68.4 587.8,68.4 588.3,68.4 588.8,68.4 589.3,68.4 589.8,68.4 590.3,68.4 590.8,68.4 591.3,68.4 591.8,68.4 592.3,68.4 592.8,68.4 593.3,68.4 593.8,68.4 594.3,68.4 594.8,68.4 595.3,68.4 595.8,68.4 596.3,68.4 596.8,68.4 597.3,68.4 597.8,68.4 598.3,68.4 598.8,68.4 599.3,68.4 599.8,68.4 600.3,68.4 600.8,68.4 601.3,68.4 601.8,68.4 602.3,68.4 602.8,68.4 603.3,68.4 603.8,68.4 604.3,68.4 604.8,68.4 605.3,68.4 605.8,68.4 606.3,68.4 606.8,68.4 607.3,68.4 607.8,68.4 608.3,68.4 608.8,68.4 609.3,68.4 609.8,68.4 610.3,68.4" fill="none" stroke="#5f97cc" stroke-width="0.85" stroke-linejoin="round" stroke-linecap="round" />
<polyline points="444.8,68.4 445.3,68.4 445.8,68.4 446.3,68.4 446.8,68.4 447.3,68.4 447.8,68.4 448.3,68.4 448.8,68.4 449.3,68.4 449.8,68.4 450.3,68.4 450.8,68.4 451.3,68.4 451.8,68.4 452.3,68.4 452.8,68.4 453.3,68.4 453.8,68.4 454.3,68.4 454.8,68.4 455.3,68.4 455.8,68.4 456.3,68.4 456.8,68.4 457.3,68.4 457.8,68.4 458.3,68.4 458.8,68.4 459.3,68.4 459.8,68.4 460.3,68.4 460.8,68.4 461.3,68.4 461.8,68.4 462.3,68.4 462.8,68.4 463.3,68.4 463.8,68.4 464.3,68.4 464.8,68.4 465.3,68.4 465.8,68.4 466.3,68.4 466.8,68.4 467.3,68.4 467.8,68.4 468.3,68.4 468.8,68.4 469.3,68.4 469.8,68.4 470.3,68.4 470.8,68.4 471.3,68.4 471.8,68.4 472.3,68.4 472.8,68.4 473.3,68.4 473.8,68.4 474.3,68.4 474.8,68.4 475.3,68.4 475.8,68.4 476.3,68.4 476.8,68.4 477.3,68.4 477.8,68.4 478.3,68.3 478.8,68.3 479.3,68.2 479.8,68.2 480.3,68.1 480.8,67.9 481.3,67.8 481.8,67.6 482.3,67.4 482.8,67.2 483.3,66.9 483.8,66.7 484.3,66.4 484.8,66.1 485.3,65.9 485.8,65.6 486.3,65.4 486.8,65.2 487.3,64.9 487.8,64.6 488.3,64.3 488.8,63.9 489.3,63.4 489.8,62.8 490.3,62.2 490.8,61.4 491.3,60.6 491.8,59.7 492.3,58.8 492.8,57.9 493.3,57.1 493.8,56.3 494.3,55.6 494.8,55 495.3,54.6 495.8,54.4 496.3,54.3 496.8,54.4 497.3,54.8 497.8,55.2 498.3,55.9 498.8,56.7 499.3,57.5 499.8,58.5 500.3,59.5 500.8,60.4 501.3,61.4 501.8,62.4 502.3,63.2 502.8,64.1 503.3,64.8 503.8,65.4 504.3,66 504.8,66.5 505.3,66.9 505.8,67.2 506.3,67.5 506.8,67.7 507.3,67.9 507.8,68 508.3,68.1 508.8,68.2 509.3,68.3 509.8,68.3 510.3,68.3 510.8,68.4 511.3,68.4 511.8,68.4 512.3,68.4 512.8,68.4 513.3,68.4 513.8,68.4 514.3,68.4 514.8,68.4 515.3,68.4 515.8,68.4 516.3,68.4 516.8,68.4 517.3,68.4 517.8,68.4 518.3,68.4 518.8,68.4 519.3,68.4 519.8,68.4 520.3,68.4 520.8,68.4 521.3,68.4 521.8,68.4 522.3,68.4 522.8,68.4 523.3,68.4 523.8,68.4 524.3,68.4 524.8,68.4 525.3,68.4 525.8,68.4 526.3,68.4 526.8,68.4 527.3,68.4 527.8,68.4 528.3,68.4 528.8,68.4 529.3,68.4 529.8,68.4 530.3,68.4 530.8,68.4 531.3,68.4 531.8,68.4 532.3,68.4 532.8,68.4 533.3,68.4 533.8,68.4 534.3,68.4 534.8,68.4 535.3,68.4 535.8,68.4 536.3,68.4 536.8,68.4 537.3,68.4 537.8,68.4 538.3,68.4 538.8,68.4 539.3,68.4 539.8,68.4 540.3,68.4 540.8,68.4 541.3,68.4 541.8,68.4 542.3,68.4 542.8,68.4 543.3,68.4 543.8,68.4 544.3,68.4 544.8,68.4 545.3,68.4 545.8,68.4 546.3,68.4 546.8,68.4 547.3,68.4 547.8,68.4 548.3,68.4 548.8,68.4 549.3,68.4 549.8,68.4 550.3,68.4 550.8,68.4 551.3,68.4 551.8,68.4 552.3,68.4 552.8,68.4 553.3,68.4 553.8,68.4 554.3,68.4 554.8,68.4 555.3,68.4 555.8,68.4 556.3,68.4 556.8,68.4 557.3,68.4 557.8,68.4 558.3,68.4 558.8,68.4 559.3,68.4 559.8,68.4 560.3,68.4 560.8,68.4 561.3,68.4 561.8,68.4 562.3,68.4 562.8,68.4 563.3,68.4 563.8,68.4 564.3,68.4 564.8,68.4 565.3,68.4 565.8,68.4 566.3,68.4 566.8,68.4 567.3,68.4 567.8,68.4 568.3,68.4 568.8,68.4 569.3,68.4 569.8,68.4 570.3,68.4 570.8,68.4 571.3,68.4 571.8,68.4 572.3,68.4 572.8,68.4 573.3,68.4 573.8,68.4 574.3,68.4 574.8,68.4 575.3,68.4 575.8,68.4 576.3,68.4 576.8,68.4 577.3,68.4 577.8,68.4 578.3,68.4 578.8,68.4 579.3,68.4 579.8,68.4 580.3,68.4 580.8,68.4 581.3,68.4 581.8,68.4 582.3,68.4 582.8,68.4 583.3,68.4 583.8,68.4 584.3,68.4 584.8,68.4 585.3,68.4 585.8,68.4 586.3,68.4 586.8,68.4 587.3,68.4 587.8,68.4 588.3,68.4 588.8,68.4 589.3,68.4 589.8,68.4 590.3,68.4 590.8,68.4 591.3,68.4 591.8,68.4 592.3,68.4 592.8,68.4 593.3,68.4 593.8,68.4 594.3,68.4 594.8,68.4 595.3,68.4 595.8,68.4 596.3,68.4 596.8,68.4 597.3,68.4 597.8,68.4 598.3,68.4 598.8,68.4 599.3,68.4 599.8,68.4 600.3,68.4 600.8,68.4 601.3,68.4 601.8,68.4 602.3,68.4 602.8,68.4 603.3,68.4 603.8,68.4 604.3,68.4 604.8,68.4 605.3,68.4 605.8,68.4 606.3,68.4 606.8,68.4 607.3,68.4 607.8,68.4 608.3,68.4 608.8,68.4 609.3,68.4 609.8,68.4 610.3,68.4" fill="none" stroke="#6cc9a6" stroke-width="0.85" stroke-linejoin="round" stroke-linecap="round" />
<polyline points="444.8,68.4 445.3,68.4 445.8,68.4 446.3,68.4 446.8,68.4 447.3,68.4 447.8,68.4 448.3,68.4 448.8,68.4 449.3,68.4 449.8,68.4 450.3,68.4 450.8,68.4 451.3,68.4 451.8,68.4 452.3,68.4 452.8,68.4 453.3,68.4 453.8,68.4 454.3,68.4 454.8,68.4 455.3,68.4 455.8,68.4 456.3,68.4 456.8,68.4 457.3,68.4 457.8,68.4 458.3,68.4 458.8,68.4 459.3,68.4 459.8,68.4 460.3,68.4 460.8,68.4 461.3,68.4 461.8,68.4 462.3,68.4 462.8,68.4 463.3,68.4 463.8,68.4 464.3,68.4 464.8,68.4 465.3,68.4 465.8,68.4 466.3,68.4 466.8,68.4 467.3,68.4 467.8,68.4 468.3,68.4 468.8,68.4 469.3,68.4 469.8,68.4 470.3,68.4 470.8,68.4 471.3,68.4 471.8,68.4 472.3,68.4 472.8,68.4 473.3,68.4 473.8,68.4 474.3,68.4 474.8,68.4 475.3,68.4 475.8,68.4 476.3,68.4 476.8,68.4 477.3,68.4 477.8,68.4 478.3,68.4 478.8,68.4 479.3,68.4 479.8,68.4 480.3,68.4 480.8,68.4 481.3,68.4 481.8,68.4 482.3,68.4 482.8,68.4 483.3,68.4 483.8,68.4 484.3,68.4 484.8,68.4 485.3,68.4 485.8,68.4 486.3,68.4 486.8,68.4 487.3,68.4 487.8,68.4 488.3,68.4 488.8,68.4 489.3,68.4 489.8,68.4 490.3,68.4 490.8,68.4 491.3,68.3 491.8,68.3 492.3,68.3 492.8,68.2 493.3,68.2 493.8,68.1 494.3,67.9 494.8,67.8 495.3,67.5 495.8,67.3 496.3,66.9 496.8,66.5 497.3,66 497.8,65.5 498.3,64.8 498.8,64.1 499.3,63.3 499.8,62.4 500.3,61.4 500.8,60.4 501.3,59.4 501.8,58.5 502.3,57.5 502.8,56.7 503.3,55.9 503.8,55.3 504.3,54.9 504.8,54.7 505.3,54.6 505.8,54.7 506.3,55.1 506.8,55.6 507.3,56.2 507.8,57 508.3,57.9 508.8,58.8 509.3,59.8 509.8,60.8 510.3,61.8 510.8,62.7 511.3,63.6 511.8,64.4 512.3,65.1 512.8,65.7 513.3,66.3 513.8,66.7 514.3,67.1 514.8,67.4 515.3,67.6 515.8,67.8 516.3,68 516.8,68.1 517.3,68.2 517.8,68.2 518.3,68.3 518.8,68.3 519.3,68.4 519.8,68.4 520.3,68.4 520.8,68.4 521.3,68.4 521.8,68.4 522.3,68.4 522.8,68.4 523.3,68.4 523.8,68.4 524.3,68.4 524.8,68.4 525.3,68.4 525.8,68.4 526.3,68.4 526.8,68.4 527.3,68.4 527.8,68.4 528.3,68.4 528.8,68.4 529.3,68.4 529.8,68.4 530.3,68.4 530.8,68.4 531.3,68.4 531.8,68.4 532.3,68.4 532.8,68.4 533.3,68.4 533.8,68.4 534.3,68.4 534.8,68.4 535.3,68.4 535.8,68.4 536.3,68.4 536.8,68.4 537.3,68.4 537.8,68.4 538.3,68.4 538.8,68.4 539.3,68.4 539.8,68.4 540.3,68.4 540.8,68.4 541.3,68.4 541.8,68.4 542.3,68.4 542.8,68.4 543.3,68.4 543.8,68.4 544.3,68.4 544.8,68.4 545.3,68.4 545.8,68.4 546.3,68.4 546.8,68.4 547.3,68.4 547.8,68.4 548.3,68.4 548.8,68.4 549.3,68.4 549.8,68.4 550.3,68.4 550.8,68.4 551.3,68.4 551.8,68.4 552.3,68.4 552.8,68.4 553.3,68.4 553.8,68.4 554.3,68.4 554.8,68.4 555.3,68.4 555.8,68.4 556.3,68.4 556.8,68.4 557.3,68.4 557.8,68.4 558.3,68.4 558.8,68.4 559.3,68.4 559.8,68.4 560.3,68.4 560.8,68.4 561.3,68.4 561.8,68.4 562.3,68.4 562.8,68.4 563.3,68.4 563.8,68.4 564.3,68.4 564.8,68.4 565.3,68.4 565.8,68.4 566.3,68.4 566.8,68.4 567.3,68.4 567.8,68.4 568.3,68.4 568.8,68.4 569.3,68.4 569.8,68.4 570.3,68.4 570.8,68.4 571.3,68.4 571.8,68.4 572.3,68.4 572.8,68.4 573.3,68.4 573.8,68.4 574.3,68.4 574.8,68.4 575.3,68.4 575.8,68.4 576.3,68.4 576.8,68.4 577.3,68.4 577.8,68.4 578.3,68.4 578.8,68.4 579.3,68.4 579.8,68.4 580.3,68.4 580.8,68.4 581.3,68.4 581.8,68.4 582.3,68.4 582.8,68.4 583.3,68.4 583.8,68.4 584.3,68.4 584.8,68.4 585.3,68.4 585.8,68.4 586.3,68.4 586.8,68.4 587.3,68.4 587.8,68.4 588.3,68.4 588.8,68.4 589.3,68.4 589.8,68.4 590.3,68.4 590.8,68.4 591.3,68.4 591.8,68.4 592.3,68.4 592.8,68.4 593.3,68.4 593.8,68.4 594.3,68.4 594.8,68.4 595.3,68.4 595.8,68.4 596.3,68.4 596.8,68.4 597.3,68.4 597.8,68.4 598.3,68.4 598.8,68.4 599.3,68.4 599.8,68.4 600.3,68.4 600.8,68.4 601.3,68.4 601.8,68.4 602.3,68.4 602.8,68.4 603.3,68.4 603.8,68.4 604.3,68.4 604.8,68.4 605.3,68.4 605.8,68.4 606.3,68.4 606.8,68.4 607.3,68.4 607.8,68.4 608.3,68.4 608.8,68.4 609.3,68.4 609.8,68.4 610.3,68.4" fill="none" stroke="#7b86c4" stroke-width="0.85" stroke-linejoin="round" stroke-linecap="round" />
<polyline points="444.8,68.2 445.3,68.2 445.8,68.3 446.3,68.3 446.8,68.3 447.3,68.3 447.8,68.4 448.3,68.4 448.8,68.4 449.3,68.4 449.8,68.4 450.3,68.4 450.8,68.4 451.3,68.4 451.8,68.4 452.3,68.4 452.8,68.4 453.3,68.4 453.8,68.4 454.3,68.3 454.8,68.3 455.3,68.3 455.8,68.2 456.3,68.2 456.8,68.1 457.3,68.1 457.8,68 458.3,68 458.8,67.9 459.3,67.8 459.8,67.8 460.3,67.7 460.8,67.5 461.3,67.4 461.8,67.2 462.3,66.9 462.8,66.6 463.3,66.3 463.8,65.9 464.3,65.5 464.8,65.2 465.3,64.8 465.8,64.4 466.3,63.9 466.8,63.4 467.3,62.9 467.8,62.4 468.3,61.9 468.8,61.3 469.3,60.7 469.8,60 470.3,59.4 470.8,58.7 471.3,58 471.8,57.3 472.3,56.6 472.8,55.8 473.3,55.1 473.8,54.3 474.3,53.5 474.8,52.7 475.3,51.7 475.8,50.7 476.3,49.7 476.8,48.6 477.3,47.4 477.8,46.3 478.3,45.3 478.8,44.4 479.3,43.5 479.8,42.5 480.3,41.6 480.8,40.6 481.3,39.7 481.8,38.9 482.3,38.2 482.8,37.7 483.3,37.4 483.8,37.4 484.3,37.5 484.8,37.7 485.3,37.9 485.8,38.2 486.3,38.5 486.8,38.9 487.3,39.2 487.8,39.6 488.3,40.1 488.8,40.6 489.3,41.2 489.8,41.7 490.3,42.3 490.8,42.8 491.3,43.3 491.8,43.7 492.3,44.1 492.8,44.5 493.3,44.8 493.8,45.1 494.3,45.4 494.8,45.7 495.3,46 495.8,46.2 496.3,46.4 496.8,46.7 497.3,46.9 497.8,47.2 498.3,47.4 498.8,47.6 499.3,47.8 499.8,47.9 500.3,48.1 500.8,48.2 501.3,48.2 501.8,48.3 502.3,48.4 502.8,48.4 503.3,48.5 503.8,48.6 504.3,48.7 504.8,48.8 505.3,48.9 505.8,49.1 506.3,49.3 506.8,49.5 507.3,49.7 507.8,50 508.3,50.4 508.8,50.8 509.3,51.4 509.8,52 510.3,52.6 510.8,53.2 511.3,53.9 511.8,54.7 512.3,55.5 512.8,56.4 513.3,57.3 513.8,58.2 514.3,59.1 514.8,60 515.3,61 515.8,61.9 516.3,62.8 516.8,63.7 517.3,64.5 517.8,65.3 518.3,66.2 518.8,66.9 519.3,67.5 519.8,67.9 520.3,68.1 520.8,68.2 521.3,68.3 521.8,68.4 522.3,68.5 522.8,68.5 523.3,68.6 523.8,68.6 524.3,68.6 524.8,68.6 525.3,68.5 525.8,68.4 526.3,68.3 526.8,68.1 527.3,68 527.8,67.9 528.3,67.8 528.8,67.7 529.3,67.6 529.8,67.6 530.3,67.6 530.8,67.7 531.3,67.8 531.8,67.9 532.3,68 532.8,68.1 533.3,68.3 533.8,68.4 534.3,68.5 534.8,68.5 535.3,68.5 535.8,68.5 536.3,68.5 536.8,68.5 537.3,68.5 537.8,68.4 538.3,68.4 538.8,68.4 539.3,68.4 539.8,68.4 540.3,68.3 540.8,68.3 541.3,68.3 541.8,68.3 542.3,68.3 542.8,68.2 543.3,68.2 543.8,68.2 544.3,68.2 544.8,68.2 545.3,68.2 545.8,68.2 546.3,68.2 546.8,68.2 547.3,68.2 547.8,68.2 548.3,68.2 548.8,68.2 549.3,68.2 549.8,68.2 550.3,68.3 550.8,68.3 551.3,68.3 551.8,68.3 552.3,68.3 552.8,68.3 553.3,68.3 553.8,68.3 554.3,68.3 554.8,68.3 555.3,68.4 555.8,68.4 556.3,68.4 556.8,68.4 557.3,68.4 557.8,68.4 558.3,68.4 558.8,68.4 559.3,68.4 559.8,68.4 560.3,68.4 560.8,68.4 561.3,68.4 561.8,68.4 562.3,68.4 562.8,68.4 563.3,68.4 563.8,68.4 564.3,68.4 564.8,68.4 565.3,68.4 565.8,68.4 566.3,68.4 566.8,68.4 567.3,68.4 567.8,68.4 568.3,68.4 568.8,68.4 569.3,68.4 569.8,68.4 570.3,68.3 570.8,68.3 571.3,68.3 571.8,68.3 572.3,68.3 572.8,68.3 573.3,68.3 573.8,68.3 574.3,68.3 574.8,68.3 575.3,68.3 575.8,68.3 576.3,68.3 576.8,68.3 577.3,68.3 577.8,68.3 578.3,68.3 578.8,68.3 579.3,68.3 579.8,68.3 580.3,68.3 580.8,68.3 581.3,68.3 581.8,68.3 582.3,68.3 582.8,68.3 583.3,68.3 583.8,68.3 584.3,68.3 584.8,68.3 585.3,68.3 585.8,68.3 586.3,68.3 586.8,68.3 587.3,68.3 587.8,68.3 588.3,68.4 588.8,68.4 589.3,68.4 589.8,68.4 590.3,68.4 590.8,68.4 591.3,68.4 591.8,68.4 592.3,68.4 592.8,68.4 593.3,68.4 593.8,68.4 594.3,68.4 594.8,68.4 595.3,68.4 595.8,68.5 596.3,68.5 596.8,68.5 597.3,68.5 597.8,68.5 598.3,68.5 598.8,68.5 599.3,68.5 599.8,68.5 600.3,68.5 600.8,68.5 601.3,68.5 601.8,68.5 602.3,68.5 602.8,68.5 603.3,68.5 603.8,68.5 604.3,68.5 604.8,68.5 605.3,68.6 605.8,68.6 606.3,68.6 606.8,68.6 607.3,68.6 607.8,68.6 608.3,68.6 608.8,68.6 609.3,68.6 609.8,68.6 610.3,68.6" fill="none" stroke="#d8262c" stroke-width="1.15" stroke-linejoin="round" stroke-linecap="round" />
<g class="dc" fill="none" stroke="#4a3030" stroke-width="0.3"><circle cx="444.8" cy="68.2"/><circle cx="446.8" cy="68.3"/><circle cx="448.8" cy="68.4"/><circle cx="450.8" cy="68.4"/><circle cx="452.8" cy="68.4"/><circle cx="454.8" cy="68.3"/><circle cx="456.8" cy="68.1"/><circle cx="458.8" cy="67.9"/><circle cx="460.7" cy="67.6"/><circle cx="462.6" cy="66.8"/><circle cx="464.2" cy="65.6"/><circle cx="465.8" cy="64.4"/><circle cx="467.2" cy="63"/><circle cx="468.6" cy="61.5"/><circle cx="469.8" cy="60"/><circle cx="471" cy="58.4"/><circle cx="472.2" cy="56.7"/><circle cx="473.3" cy="55.1"/><circle cx="474.4" cy="53.4"/><circle cx="475.3" cy="51.7"/><circle cx="476.2" cy="49.9"/><circle cx="477" cy="48"/><circle cx="477.9" cy="46.2"/><circle cx="478.8" cy="44.4"/><circle cx="479.7" cy="42.7"/><circle cx="480.7" cy="40.9"/><circle cx="481.6" cy="39.2"/><circle cx="482.9" cy="37.7"/><circle cx="484.8" cy="37.7"/><circle cx="486.6" cy="38.7"/><circle cx="488.1" cy="39.9"/><circle cx="489.5" cy="41.4"/><circle cx="490.9" cy="42.9"/><circle cx="492.4" cy="44.2"/><circle cx="494.1" cy="45.3"/><circle cx="495.8" cy="46.2"/><circle cx="497.6" cy="47.1"/><circle cx="499.5" cy="47.8"/><circle cx="501.4" cy="48.3"/><circle cx="503.4" cy="48.5"/><circle cx="505.3" cy="48.9"/><circle cx="507.2" cy="49.7"/><circle cx="508.8" cy="50.8"/><circle cx="510.1" cy="52.4"/><circle cx="511.3" cy="53.9"/><circle cx="512.4" cy="55.6"/><circle cx="513.4" cy="57.4"/><circle cx="514.3" cy="59.1"/><circle cx="515.3" cy="60.9"/><circle cx="516.2" cy="62.7"/><circle cx="517.2" cy="64.4"/><circle cx="518.3" cy="66.1"/><circle cx="519.5" cy="67.7"/><circle cx="521.3" cy="68.3"/><circle cx="523.3" cy="68"/><circle cx="525.3" cy="67.7"/><circle cx="527.3" cy="67.6"/><circle cx="529.3" cy="67.5"/><circle cx="531.2" cy="67.6"/><circle cx="533.2" cy="68"/><circle cx="535.2" cy="68.4"/><circle cx="537.2" cy="68.3"/><circle cx="539.1" cy="67.8"/><circle cx="541" cy="67.2"/><circle cx="542.9" cy="66.6"/><circle cx="544.9" cy="66.1"/><circle cx="546.8" cy="65.6"/><circle cx="548.7" cy="65.2"/><circle cx="550.7" cy="65"/><circle cx="552.7" cy="65.2"/><circle cx="554.6" cy="65.8"/><circle cx="556.5" cy="66.5"/><circle cx="558.5" cy="66.9"/><circle cx="560.5" cy="67.1"/><circle cx="562.5" cy="67.2"/><circle cx="564.4" cy="67"/><circle cx="566.3" cy="66.3"/><circle cx="568.3" cy="66"/><circle cx="570.3" cy="66.2"/><circle cx="572.3" cy="66.5"/><circle cx="574.2" cy="66.8"/><circle cx="576.2" cy="67.1"/><circle cx="578.2" cy="67.4"/><circle cx="580.2" cy="67.5"/><circle cx="582.2" cy="67.4"/><circle cx="584.2" cy="67.1"/><circle cx="586.2" cy="66.9"/><circle cx="588.2" cy="66.8"/><circle cx="590.1" cy="66.9"/><circle cx="592.1" cy="67.1"/><circle cx="594.1" cy="67.4"/><circle cx="596.1" cy="67.6"/><circle cx="598.1" cy="67.8"/><circle cx="600.1" cy="67.9"/><circle cx="602.1" cy="68.1"/><circle cx="604.1" cy="68.2"/><circle cx="606.1" cy="68.3"/><circle cx="608.1" cy="68.5"/><circle cx="610.1" cy="68.6"/></g>
</g>
<clipPath id="g2"><rect x="444.8" y="70.3" width="165.49999999999994" height="50.3"/></clipPath>
<g clip-path="url(#g2)">
<polyline points="444.8,119 445.3,119 445.8,119 446.3,119 446.8,119 447.3,119 447.8,119 448.3,119 448.8,119 449.3,119 449.8,119 450.3,119 450.8,119 451.3,119 451.8,119 452.3,119 452.8,119 453.3,119 453.8,119 454.3,119 454.8,119 455.3,119 455.8,119 456.3,119 456.8,119 457.3,119 457.8,119 458.3,119 458.8,119 459.3,119 459.8,119 460.3,119 460.8,119 461.3,119 461.8,119 462.3,119 462.8,119 463.3,118.9 463.8,118.9 464.3,118.9 464.8,118.8 465.3,118.8 465.8,118.7 466.3,118.6 466.8,118.4 467.3,118.3 467.8,118.1 468.3,117.8 468.8,117.5 469.3,117.2 469.8,116.8 470.3,116.4 470.8,115.9 471.3,115.5 471.8,115 472.3,114.4 472.8,113.9 473.3,113.5 473.8,113 474.3,112.5 474.8,112.1 475.3,111.7 475.8,111.3 476.3,110.9 476.8,110.4 477.3,109.9 477.8,109.3 478.3,108.6 478.8,107.8 479.3,106.8 479.8,105.7 480.3,104.5 480.8,103.1 481.3,101.6 481.8,100 482.3,98.3 482.8,96.7 483.3,95.2 483.8,93.7 484.3,92.5 484.8,91.5 485.3,90.8 485.8,90.4 486.3,90.4 486.8,90.7 487.3,91.3 487.8,92.3 488.3,93.5 488.8,95 489.3,96.7 489.8,98.6 490.3,100.5 490.8,102.5 491.3,104.4 491.8,106.3 492.3,108.1 492.8,109.7 493.3,111.2 493.8,112.6 494.3,113.8 494.8,114.8 495.3,115.6 495.8,116.4 496.3,117 496.8,117.4 497.3,117.8 497.8,118.1 498.3,118.4 498.8,118.5 499.3,118.7 499.8,118.8 500.3,118.8 500.8,118.9 501.3,118.9 501.8,118.9 502.3,119 502.8,119 503.3,119 503.8,119 504.3,119 504.8,119 505.3,119 505.8,119 506.3,119 506.8,119 507.3,119 507.8,119 508.3,119 508.8,119 509.3,119 509.8,119 510.3,119 510.8,119 511.3,119 511.8,119 512.3,119 512.8,119 513.3,119 513.8,119 514.3,119 514.8,119 515.3,119 515.8,119 516.3,119 516.8,119 517.3,119 517.8,119 518.3,119 518.8,119 519.3,119 519.8,119 520.3,119 520.8,119 521.3,119 521.8,119 522.3,119 522.8,119 523.3,119 523.8,119 524.3,119 524.8,119 525.3,119 525.8,119 526.3,119 526.8,119 527.3,119 527.8,119 528.3,119 528.8,119 529.3,119 529.8,119 530.3,119 530.8,119 531.3,119 531.8,119 532.3,119 532.8,119 533.3,119 533.8,119 534.3,119 534.8,119 535.3,119 535.8,119 536.3,119 536.8,119 537.3,119 537.8,119 538.3,119 538.8,119 539.3,119 539.8,119 540.3,119 540.8,119 541.3,119 541.8,119 542.3,119 542.8,119 543.3,119 543.8,119 544.3,119 544.8,119 545.3,119 545.8,119 546.3,119 546.8,119 547.3,119 547.8,119 548.3,119 548.8,119 549.3,119 549.8,119 550.3,119 550.8,119 551.3,119 551.8,119 552.3,119 552.8,119 553.3,119 553.8,119 554.3,119 554.8,119 555.3,119 555.8,119 556.3,119 556.8,119 557.3,119 557.8,119 558.3,119 558.8,119 559.3,119 559.8,119 560.3,119 560.8,119 561.3,119 561.8,119 562.3,119 562.8,119 563.3,119 563.8,119 564.3,119 564.8,119 565.3,119 565.8,119 566.3,119 566.8,119 567.3,119 567.8,119 568.3,119 568.8,119 569.3,119 569.8,119 570.3,119 570.8,119 571.3,119 571.8,119 572.3,119 572.8,119 573.3,119 573.8,119 574.3,119 574.8,119 575.3,119 575.8,119 576.3,119 576.8,119 577.3,119 577.8,119 578.3,119 578.8,119 579.3,119 579.8,119 580.3,119 580.8,119 581.3,119 581.8,119 582.3,119 582.8,119 583.3,119 583.8,119 584.3,119 584.8,119 585.3,119 585.8,119 586.3,119 586.8,119 587.3,119 587.8,119 588.3,119 588.8,119 589.3,119 589.8,119 590.3,119 590.8,119 591.3,119 591.8,119 592.3,119 592.8,119 593.3,119 593.8,119 594.3,119 594.8,119 595.3,119 595.8,119 596.3,119 596.8,119 597.3,119 597.8,119 598.3,119 598.8,119 599.3,119 599.8,119 600.3,119 600.8,119 601.3,119 601.8,119 602.3,119 602.8,119 603.3,119 603.8,119 604.3,119 604.8,119 605.3,119 605.8,119 606.3,119 606.8,119 607.3,119 607.8,119 608.3,119 608.8,119 609.3,119 609.8,119 610.3,119" fill="none" stroke="#5f97cc" stroke-width="0.85" stroke-linejoin="round" stroke-linecap="round" />
<polyline points="444.8,119 445.3,119 445.8,119 446.3,119 446.8,119 447.3,119 447.8,119 448.3,119 448.8,119 449.3,119 449.8,119 450.3,119 450.8,119 451.3,119 451.8,119 452.3,119 452.8,119 453.3,119 453.8,119 454.3,119 454.8,119 455.3,119 455.8,119 456.3,119 456.8,119 457.3,119 457.8,119 458.3,119 458.8,119 459.3,119 459.8,119 460.3,119 460.8,119 461.3,119 461.8,119 462.3,119 462.8,119 463.3,119 463.8,119 464.3,119 464.8,119 465.3,119 465.8,119 466.3,119 466.8,119 467.3,119 467.8,119 468.3,119 468.8,119 469.3,119 469.8,119 470.3,119 470.8,119 471.3,119 471.8,119 472.3,119 472.8,119 473.3,119 473.8,119 474.3,119 474.8,119 475.3,119 475.8,119 476.3,119 476.8,119 477.3,119 477.8,119 478.3,119 478.8,119 479.3,119 479.8,119 480.3,119 480.8,119 481.3,119 481.8,119 482.3,119 482.8,119 483.3,119 483.8,119 484.3,118.9 484.8,118.9 485.3,118.8 485.8,118.8 486.3,118.7 486.8,118.6 487.3,118.4 487.8,118.2 488.3,117.9 488.8,117.6 489.3,117.2 489.8,116.7 490.3,116.2 490.8,115.5 491.3,114.9 491.8,114.1 492.3,113.4 492.8,112.6 493.3,111.9 493.8,111.2 494.3,110.6 494.8,110.1 495.3,109.8 495.8,109.6 496.3,109.5 496.8,109.6 497.3,109.9 497.8,110.3 498.3,110.8 498.8,111.5 499.3,112.2 499.8,112.9 500.3,113.7 500.8,114.4 501.3,115.1 501.8,115.8 502.3,116.4 502.8,116.9 503.3,117.3 503.8,117.7 504.3,118 504.8,118.3 505.3,118.5 505.8,118.6 506.3,118.7 506.8,118.8 507.3,118.9 507.8,118.9 508.3,118.9 508.8,119 509.3,119 509.8,119 510.3,119 510.8,119 511.3,119 511.8,119 512.3,119 512.8,119 513.3,119 513.8,119 514.3,119 514.8,119 515.3,119 515.8,119 516.3,119 516.8,119 517.3,119 517.8,119 518.3,119 518.8,119 519.3,119 519.8,119 520.3,119 520.8,119 521.3,119 521.8,119 522.3,119 522.8,119 523.3,119 523.8,119 524.3,119 524.8,119 525.3,119 525.8,119 526.3,119 526.8,119 527.3,119 527.8,119 528.3,119 528.8,119 529.3,119 529.8,119 530.3,119 530.8,119 531.3,119 531.8,119 532.3,119 532.8,119 533.3,119 533.8,119 534.3,119 534.8,119 535.3,119 535.8,119 536.3,119 536.8,119 537.3,119 537.8,119 538.3,119 538.8,119 539.3,119 539.8,119 540.3,119 540.8,119 541.3,119 541.8,119 542.3,119 542.8,119 543.3,119 543.8,119 544.3,119 544.8,119 545.3,119 545.8,119 546.3,119 546.8,119 547.3,119 547.8,119 548.3,119 548.8,119 549.3,119 549.8,119 550.3,119 550.8,119 551.3,119 551.8,119 552.3,119 552.8,119 553.3,119 553.8,119 554.3,119 554.8,119 555.3,119 555.8,119 556.3,119 556.8,119 557.3,119 557.8,119 558.3,119 558.8,119 559.3,119 559.8,119 560.3,119 560.8,119 561.3,119 561.8,119 562.3,119 562.8,119 563.3,119 563.8,119 564.3,119 564.8,119 565.3,119 565.8,119 566.3,119 566.8,119 567.3,119 567.8,119 568.3,119 568.8,119 569.3,119 569.8,119 570.3,119 570.8,119 571.3,119 571.8,119 572.3,119 572.8,119 573.3,119 573.8,119 574.3,119 574.8,119 575.3,119 575.8,119 576.3,119 576.8,119 577.3,119 577.8,119 578.3,119 578.8,119 579.3,119 579.8,119 580.3,119 580.8,119 581.3,119 581.8,119 582.3,119 582.8,119 583.3,119 583.8,119 584.3,119 584.8,119 585.3,119 585.8,119 586.3,119 586.8,119 587.3,119 587.8,119 588.3,119 588.8,119 589.3,119 589.8,119 590.3,119 590.8,119 591.3,119 591.8,119 592.3,119 592.8,119 593.3,119 593.8,119 594.3,119 594.8,119 595.3,119 595.8,119 596.3,119 596.8,119 597.3,119 597.8,119 598.3,119 598.8,119 599.3,119 599.8,119 600.3,119 600.8,119 601.3,119 601.8,119 602.3,119 602.8,119 603.3,119 603.8,119 604.3,119 604.8,119 605.3,119 605.8,119 606.3,119 606.8,119 607.3,119 607.8,119 608.3,119 608.8,119 609.3,119 609.8,119 610.3,119" fill="none" stroke="#6cc9a6" stroke-width="0.85" stroke-linejoin="round" stroke-linecap="round" />
<polyline points="444.8,119 445.3,119 445.8,119 446.3,119 446.8,119 447.3,119 447.8,119 448.3,119 448.8,119 449.3,119 449.8,119 450.3,119 450.8,119 451.3,119 451.8,119 452.3,119 452.8,119 453.3,119 453.8,119 454.3,119 454.8,119 455.3,119 455.8,119 456.3,119 456.8,119 457.3,119 457.8,119 458.3,119 458.8,119 459.3,119 459.8,119 460.3,119 460.8,119 461.3,119 461.8,119 462.3,119 462.8,119 463.3,119 463.8,119 464.3,119 464.8,119 465.3,119 465.8,119 466.3,119 466.8,119 467.3,119 467.8,119 468.3,119 468.8,119 469.3,119 469.8,119 470.3,119 470.8,119 471.3,119 471.8,119 472.3,119 472.8,119 473.3,119 473.8,119 474.3,119 474.8,119 475.3,119 475.8,119 476.3,119 476.8,119 477.3,119 477.8,119 478.3,119 478.8,119 479.3,119 479.8,119 480.3,119 480.8,119 481.3,119 481.8,119 482.3,119 482.8,119 483.3,119 483.8,119 484.3,119 484.8,119 485.3,119 485.8,119 486.3,119 486.8,119 487.3,119 487.8,119 488.3,119 488.8,119 489.3,119 489.8,119 490.3,119 490.8,119 491.3,119 491.8,119 492.3,118.9 492.8,118.9 493.3,118.9 493.8,118.9 494.3,118.8 494.8,118.7 495.3,118.6 495.8,118.5 496.3,118.4 496.8,118.2 497.3,118 497.8,117.8 498.3,117.5 498.8,117.2 499.3,116.8 499.8,116.4 500.3,115.9 500.8,115.4 501.3,114.8 501.8,114.2 502.3,113.7 502.8,113.1 503.3,112.5 503.8,111.9 504.3,111.4 504.8,111 505.3,110.6 505.8,110.3 506.3,110.1 506.8,110 507.3,110 507.8,110.1 508.3,110.4 508.8,110.7 509.3,111.1 509.8,111.5 510.3,112 510.8,112.6 511.3,113.2 511.8,113.8 512.3,114.4 512.8,114.9 513.3,115.5 513.8,116 514.3,116.4 514.8,116.9 515.3,117.2 515.8,117.6 516.3,117.8 516.8,118.1 517.3,118.3 517.8,118.4 518.3,118.6 518.8,118.7 519.3,118.7 519.8,118.8 520.3,118.9 520.8,118.9 521.3,118.9 521.8,118.9 522.3,119 522.8,119 523.3,119 523.8,119 524.3,119 524.8,119 525.3,119 525.8,119 526.3,119 526.8,119 527.3,119 527.8,119 528.3,119 528.8,119 529.3,119 529.8,119 530.3,119 530.8,119 531.3,119 531.8,119 532.3,119 532.8,119 533.3,119 533.8,119 534.3,119 534.8,119 535.3,119 535.8,119 536.3,119 536.8,119 537.3,119 537.8,119 538.3,119 538.8,119 539.3,119 539.8,119 540.3,119 540.8,119 541.3,119 541.8,119 542.3,119 542.8,119 543.3,119 543.8,119 544.3,119 544.8,119 545.3,119 545.8,119 546.3,119 546.8,119 547.3,119 547.8,119 548.3,119 548.8,119 549.3,119 549.8,119 550.3,119 550.8,119 551.3,119 551.8,119 552.3,119 552.8,119 553.3,119 553.8,119 554.3,119 554.8,119 555.3,119 555.8,119 556.3,119 556.8,119 557.3,119 557.8,119 558.3,119 558.8,119 559.3,119 559.8,119 560.3,119 560.8,119 561.3,119 561.8,119 562.3,119 562.8,119 563.3,119 563.8,119 564.3,119 564.8,119 565.3,119 565.8,119 566.3,119 566.8,119 567.3,119 567.8,119 568.3,119 568.8,119 569.3,119 569.8,119 570.3,119 570.8,119 571.3,119 571.8,119 572.3,119 572.8,119 573.3,119 573.8,119 574.3,119 574.8,119 575.3,119 575.8,119 576.3,119 576.8,119 577.3,119 577.8,119 578.3,119 578.8,119 579.3,119 579.8,119 580.3,119 580.8,119 581.3,119 581.8,119 582.3,119 582.8,119 583.3,119 583.8,119 584.3,119 584.8,119 585.3,119 585.8,119 586.3,119 586.8,119 587.3,119 587.8,119 588.3,119 588.8,119 589.3,119 589.8,119 590.3,119 590.8,119 591.3,119 591.8,119 592.3,119 592.8,119 593.3,119 593.8,119 594.3,119 594.8,119 595.3,119 595.8,119 596.3,119 596.8,119 597.3,119 597.8,119 598.3,119 598.8,119 599.3,119 599.8,119 600.3,119 600.8,119 601.3,119 601.8,119 602.3,119 602.8,119 603.3,119 603.8,119 604.3,119 604.8,119 605.3,119 605.8,119 606.3,119 606.8,119 607.3,119 607.8,119 608.3,119 608.8,119 609.3,119 609.8,119 610.3,119" fill="none" stroke="#7b86c4" stroke-width="0.85" stroke-linejoin="round" stroke-linecap="round" />
<polyline points="444.8,117.8 445.3,117.9 445.8,118 446.3,118.2 446.8,118.3 447.3,118.4 447.8,118.4 448.3,118.5 448.8,118.6 449.3,118.6 449.8,118.7 450.3,118.7 450.8,118.8 451.3,118.8 451.8,118.9 452.3,118.9 452.8,118.9 453.3,118.9 453.8,118.8 454.3,118.6 454.8,118.3 455.3,118.1 455.8,117.9 456.3,117.7 456.8,117.6 457.3,117.6 457.8,117.6 458.3,117.7 458.8,117.8 459.3,117.8 459.8,117.8 460.3,117.5 460.8,117.1 461.3,116.7 461.8,116.2 462.3,115.7 462.8,114.9 463.3,114 463.8,113.2 464.3,112.4 464.8,111.8 465.3,111.6 465.8,111.7 466.3,112 466.8,112.4 467.3,112.8 467.8,113.3 468.3,114.1 468.8,114.9 469.3,115.2 469.8,114.8 470.3,113.6 470.8,112 471.3,110.3 471.8,108.6 472.3,107.1 472.8,105.5 473.3,103.9 473.8,102.3 474.3,100.7 474.8,99.4 475.3,98.3 475.8,97.4 476.3,96.7 476.8,96 477.3,95.3 477.8,94.5 478.3,93.8 478.8,93 479.3,92.2 479.8,91.2 480.3,90.1 480.8,89 481.3,87.7 481.8,86.5 482.3,85.2 482.8,83.8 483.3,82.4 483.8,81 484.3,79.9 484.8,79 485.3,78.1 485.8,77.4 486.3,77 486.8,77.2 487.3,77.9 487.8,78.9 488.3,80 488.8,81.4 489.3,83.3 489.8,85.4 490.3,87.7 490.8,89.9 491.3,92.4 491.8,94.9 492.3,97.2 492.8,99.1 493.3,101.1 493.8,102.8 494.3,104.1 494.8,104.6 495.3,104.3 495.8,103.7 496.3,102.9 496.8,102.2 497.3,101.7 497.8,101.3 498.3,100.9 498.8,100.5 499.3,100.3 499.8,100.3 500.3,100.4 500.8,100.6 501.3,100.9 501.8,101.2 502.3,101.6 502.8,101.9 503.3,102.2 503.8,102.4 504.3,102.7 504.8,102.9 505.3,103.2 505.8,103.5 506.3,103.8 506.8,104.1 507.3,104.4 507.8,104.9 508.3,105.4 508.8,106 509.3,106.7 509.8,107.3 510.3,107.9 510.8,108.6 511.3,109.2 511.8,109.6 512.3,109.6 512.8,109.5 513.3,109.4 513.8,109.2 514.3,109 514.8,108.9 515.3,108.8 515.8,108.7 516.3,108.6 516.8,108.6 517.3,108.9 517.8,109.3 518.3,109.8 518.8,110.3 519.3,110.8 519.8,111.2 520.3,111.8 520.8,112.3 521.3,112.8 521.8,113.3 522.3,113.8 522.8,114.3 523.3,114.8 523.8,115.2 524.3,115.7 524.8,116.1 525.3,116.5 525.8,116.9 526.3,117.2 526.8,117.5 527.3,117.8 527.8,118.1 528.3,118.3 528.8,118.6 529.3,118.7 529.8,118.8 530.3,118.8 530.8,118.8 531.3,118.8 531.8,118.7 532.3,118.7 532.8,118.6 533.3,118.6 533.8,118.5 534.3,118.5 534.8,118.4 535.3,118.4 535.8,118.4 536.3,118.4 536.8,118.4 537.3,118.5 537.8,118.6 538.3,118.7 538.8,118.8 539.3,118.9 539.8,119 540.3,119 540.8,119.1 541.3,119.2 541.8,119.2 542.3,119.2 542.8,119.2 543.3,119.2 543.8,119.2 544.3,119.2 544.8,119.1 545.3,119.1 545.8,119.1 546.3,119 546.8,119 547.3,119 547.8,118.9 548.3,118.9 548.8,118.9 549.3,118.8 549.8,118.8 550.3,118.8 550.8,118.7 551.3,118.7 551.8,118.7 552.3,118.7 552.8,118.6 553.3,118.6 553.8,118.6 554.3,118.6 554.8,118.6 555.3,118.6 555.8,118.6 556.3,118.6 556.8,118.6 557.3,118.6 557.8,118.6 558.3,118.6 558.8,118.7 559.3,118.7 559.8,118.7 560.3,118.7 560.8,118.7 561.3,118.8 561.8,118.8 562.3,118.8 562.8,118.8 563.3,118.8 563.8,118.9 564.3,118.9 564.8,118.9 565.3,118.9 565.8,118.9 566.3,118.9 566.8,119 567.3,119 567.8,119 568.3,119 568.8,119 569.3,119 569.8,119 570.3,119 570.8,119 571.3,119 571.8,119 572.3,119 572.8,119 573.3,119 573.8,119 574.3,118.9 574.8,118.9 575.3,118.9 575.8,118.9 576.3,118.9 576.8,118.9 577.3,118.8 577.8,118.8 578.3,118.8 578.8,118.8 579.3,118.8 579.8,118.8 580.3,118.7 580.8,118.7 581.3,118.7 581.8,118.7 582.3,118.7 582.8,118.6 583.3,118.6 583.8,118.6 584.3,118.6 584.8,118.6 585.3,118.6 585.8,118.6 586.3,118.5 586.8,118.5 587.3,118.5 587.8,118.5 588.3,118.5 588.8,118.5 589.3,118.5 589.8,118.5 590.3,118.5 590.8,118.5 591.3,118.5 591.8,118.5 592.3,118.5 592.8,118.5 593.3,118.5 593.8,118.5 594.3,118.5 594.8,118.5 595.3,118.5 595.8,118.5 596.3,118.5 596.8,118.5 597.3,118.5 597.8,118.5 598.3,118.5 598.8,118.5 599.3,118.6 599.8,118.6 600.3,118.6 600.8,118.6 601.3,118.6 601.8,118.6 602.3,118.6 602.8,118.6 603.3,118.6 603.8,118.6 604.3,118.6 604.8,118.6 605.3,118.7 605.8,118.7 606.3,118.7 606.8,118.7 607.3,118.7 607.8,118.7 608.3,118.7 608.8,118.8 609.3,118.8 609.8,118.8 610.3,118.8" fill="none" stroke="#d8262c" stroke-width="1.15" stroke-linejoin="round" stroke-linecap="round" />
<g class="dc" fill="none" stroke="#4a3030" stroke-width="0.3"><circle cx="444.8" cy="117.8"/><circle cx="446.7" cy="118.2"/><circle cx="448.7" cy="118.6"/><circle cx="450.7" cy="118.8"/><circle cx="452.7" cy="118.9"/><circle cx="454.6" cy="118.4"/><circle cx="456.5" cy="117.7"/><circle cx="458.5" cy="117.7"/><circle cx="460.4" cy="117.5"/><circle cx="461.9" cy="116.1"/><circle cx="463" cy="114.5"/><circle cx="464" cy="112.8"/><circle cx="465.5" cy="111.6"/><circle cx="467.2" cy="112.7"/><circle cx="468.4" cy="114.3"/><circle cx="469.8" cy="114.7"/><circle cx="470.5" cy="112.9"/><circle cx="471.1" cy="111"/><circle cx="471.7" cy="109"/><circle cx="472.3" cy="107.1"/><circle cx="472.9" cy="105.2"/><circle cx="473.5" cy="103.3"/><circle cx="474.1" cy="101.4"/><circle cx="474.7" cy="99.5"/><circle cx="475.6" cy="97.7"/><circle cx="476.7" cy="96.1"/><circle cx="477.9" cy="94.4"/><circle cx="479" cy="92.8"/><circle cx="479.9" cy="91"/><circle cx="480.7" cy="89.2"/><circle cx="481.5" cy="87.3"/><circle cx="482.2" cy="85.5"/><circle cx="482.9" cy="83.6"/><circle cx="483.6" cy="81.7"/><circle cx="484.3" cy="79.8"/><circle cx="485.3" cy="78.1"/><circle cx="486.8" cy="77.2"/><circle cx="487.8" cy="78.9"/><circle cx="488.6" cy="80.7"/><circle cx="489.1" cy="82.6"/><circle cx="489.6" cy="84.6"/><circle cx="490" cy="86.5"/><circle cx="490.5" cy="88.5"/><circle cx="490.9" cy="90.4"/><circle cx="491.3" cy="92.4"/><circle cx="491.7" cy="94.4"/><circle cx="492.1" cy="96.3"/><circle cx="492.6" cy="98.3"/><circle cx="493.1" cy="100.2"/><circle cx="493.6" cy="102.1"/><circle cx="494.3" cy="104"/><circle cx="495.7" cy="103.8"/><circle cx="496.8" cy="102.2"/><circle cx="498.3" cy="100.9"/><circle cx="500.2" cy="100.4"/><circle cx="501.9" cy="101.3"/><circle cx="503.7" cy="102.3"/><circle cx="505.4" cy="103.3"/><circle cx="507.1" cy="104.3"/><circle cx="508.6" cy="105.7"/><circle cx="509.8" cy="107.3"/><circle cx="511" cy="108.8"/><circle cx="512.7" cy="109.5"/><circle cx="514.7" cy="109"/><circle cx="516.6" cy="108.6"/><circle cx="518.1" cy="108.3"/><circle cx="519.9" cy="109.2"/><circle cx="521.5" cy="110.5"/><circle cx="522.9" cy="111.9"/><circle cx="524.2" cy="113.4"/><circle cx="525.4" cy="114.9"/><circle cx="526.8" cy="116.4"/><circle cx="528.4" cy="117.5"/><circle cx="530.2" cy="118.5"/><circle cx="532.2" cy="118.5"/><circle cx="534.2" cy="118.2"/><circle cx="536.1" cy="117.8"/><circle cx="538.1" cy="117.6"/><circle cx="540.1" cy="117.8"/><circle cx="542.1" cy="118.2"/><circle cx="544" cy="118.5"/><circle cx="546" cy="118.5"/><circle cx="548" cy="118.1"/><circle cx="549.9" cy="117.7"/><circle cx="551.9" cy="117.4"/><circle cx="553.9" cy="117.5"/><circle cx="555.9" cy="117.8"/><circle cx="557.9" cy="118.1"/><circle cx="559.9" cy="118.2"/><circle cx="561.8" cy="118.1"/><circle cx="563.8" cy="117.8"/><circle cx="565.8" cy="117.5"/><circle cx="567.8" cy="117.2"/><circle cx="569.8" cy="117"/><circle cx="571.7" cy="116.7"/><circle cx="573.7" cy="116.4"/><circle cx="575.7" cy="116.4"/><circle cx="577.7" cy="116.6"/><circle cx="579.7" cy="116.8"/><circle cx="581.7" cy="117"/><circle cx="583.7" cy="116.9"/><circle cx="585.7" cy="116.6"/><circle cx="587.7" cy="116.4"/><circle cx="589.7" cy="116.2"/><circle cx="591.7" cy="116.2"/><circle cx="593.6" cy="116.3"/><circle cx="595.6" cy="116.5"/><circle cx="597.6" cy="116.6"/><circle cx="599.6" cy="116.8"/><circle cx="601.6" cy="116.9"/><circle cx="603.6" cy="117"/><circle cx="605.6" cy="117.2"/><circle cx="607.6" cy="117.3"/><circle cx="609.6" cy="117.5"/></g>
</g>
<clipPath id="g3"><rect x="444.8" y="120.6" width="165.49999999999994" height="51.20000000000002"/></clipPath>
<g clip-path="url(#g3)">
<polyline points="444.8,167.6 445.3,167.6 445.8,167.6 446.3,167.6 446.8,167.6 447.3,167.6 447.8,167.6 448.3,167.6 448.8,167.6 449.3,167.6 449.8,167.6 450.3,167.6 450.8,167.6 451.3,167.6 451.8,167.6 452.3,167.6 452.8,167.6 453.3,167.6 453.8,167.6 454.3,167.6 454.8,167.6 455.3,167.6 455.8,167.6 456.3,167.6 456.8,167.6 457.3,167.6 457.8,167.6 458.3,167.6 458.8,167.6 459.3,167.6 459.8,167.6 460.3,167.6 460.8,167.6 461.3,167.6 461.8,167.6 462.3,167.6 462.8,167.6 463.3,167.5 463.8,167.5 464.3,167.5 464.8,167.4 465.3,167.3 465.8,167.2 466.3,167.1 466.8,166.9 467.3,166.7 467.8,166.4 468.3,166.1 468.8,165.7 469.3,165.3 469.8,164.8 470.3,164.3 470.8,163.7 471.3,163.1 471.8,162.5 472.3,161.9 472.8,161.3 473.3,160.8 473.8,160.2 474.3,159.8 474.8,159.3 475.3,158.9 475.8,158.5 476.3,158.1 476.8,157.6 477.3,157.1 477.8,156.5 478.3,155.7 478.8,154.8 479.3,153.7 479.8,152.4 480.3,150.9 480.8,149.3 481.3,147.6 481.8,145.9 482.3,144.1 482.8,142.5 483.3,141 483.8,139.6 484.3,138.6 484.8,137.9 485.3,137.5 485.8,137.5 486.3,137.9 486.8,138.7 487.3,139.8 487.8,141.3 488.3,143 488.8,144.8 489.3,146.9 489.8,149 490.3,151.1 490.8,153.2 491.3,155.1 491.8,157 492.3,158.7 492.8,160.2 493.3,161.6 493.8,162.7 494.3,163.7 494.8,164.6 495.3,165.2 495.8,165.8 496.3,166.2 496.8,166.6 497.3,166.9 497.8,167.1 498.3,167.2 498.8,167.3 499.3,167.4 499.8,167.5 500.3,167.5 500.8,167.5 501.3,167.6 501.8,167.6 502.3,167.6 502.8,167.6 503.3,167.6 503.8,167.6 504.3,167.6 504.8,167.6 505.3,167.6 505.8,167.6 506.3,167.6 506.8,167.6 507.3,167.6 507.8,167.6 508.3,167.6 508.8,167.6 509.3,167.6 509.8,167.6 510.3,167.6 510.8,167.6 511.3,167.6 511.8,167.6 512.3,167.6 512.8,167.6 513.3,167.6 513.8,167.6 514.3,167.6 514.8,167.6 515.3,167.6 515.8,167.6 516.3,167.6 516.8,167.6 517.3,167.6 517.8,167.6 518.3,167.6 518.8,167.6 519.3,167.6 519.8,167.6 520.3,167.6 520.8,167.6 521.3,167.6 521.8,167.6 522.3,167.6 522.8,167.6 523.3,167.6 523.8,167.6 524.3,167.6 524.8,167.6 525.3,167.6 525.8,167.6 526.3,167.6 526.8,167.6 527.3,167.6 527.8,167.6 528.3,167.6 528.8,167.6 529.3,167.6 529.8,167.6 530.3,167.6 530.8,167.6 531.3,167.6 531.8,167.6 532.3,167.6 532.8,167.6 533.3,167.6 533.8,167.6 534.3,167.6 534.8,167.6 535.3,167.6 535.8,167.6 536.3,167.6 536.8,167.6 537.3,167.6 537.8,167.6 538.3,167.6 538.8,167.6 539.3,167.6 539.8,167.6 540.3,167.6 540.8,167.6 541.3,167.6 541.8,167.6 542.3,167.6 542.8,167.6 543.3,167.6 543.8,167.6 544.3,167.6 544.8,167.6 545.3,167.6 545.8,167.6 546.3,167.6 546.8,167.6 547.3,167.6 547.8,167.6 548.3,167.6 548.8,167.6 549.3,167.6 549.8,167.6 550.3,167.6 550.8,167.6 551.3,167.6 551.8,167.6 552.3,167.6 552.8,167.6 553.3,167.6 553.8,167.6 554.3,167.6 554.8,167.6 555.3,167.6 555.8,167.6 556.3,167.6 556.8,167.6 557.3,167.6 557.8,167.6 558.3,167.6 558.8,167.6 559.3,167.6 559.8,167.6 560.3,167.6 560.8,167.6 561.3,167.6 561.8,167.6 562.3,167.6 562.8,167.6 563.3,167.6 563.8,167.6 564.3,167.6 564.8,167.6 565.3,167.6 565.8,167.6 566.3,167.6 566.8,167.6 567.3,167.6 567.8,167.6 568.3,167.6 568.8,167.6 569.3,167.6 569.8,167.6 570.3,167.6 570.8,167.6 571.3,167.6 571.8,167.6 572.3,167.6 572.8,167.6 573.3,167.6 573.8,167.6 574.3,167.6 574.8,167.6 575.3,167.6 575.8,167.6 576.3,167.6 576.8,167.6 577.3,167.6 577.8,167.6 578.3,167.6 578.8,167.6 579.3,167.6 579.8,167.6 580.3,167.6 580.8,167.6 581.3,167.6 581.8,167.6 582.3,167.6 582.8,167.6 583.3,167.6 583.8,167.6 584.3,167.6 584.8,167.6 585.3,167.6 585.8,167.6 586.3,167.6 586.8,167.6 587.3,167.6 587.8,167.6 588.3,167.6 588.8,167.6 589.3,167.6 589.8,167.6 590.3,167.6 590.8,167.6 591.3,167.6 591.8,167.6 592.3,167.6 592.8,167.6 593.3,167.6 593.8,167.6 594.3,167.6 594.8,167.6 595.3,167.6 595.8,167.6 596.3,167.6 596.8,167.6 597.3,167.6 597.8,167.6 598.3,167.6 598.8,167.6 599.3,167.6 599.8,167.6 600.3,167.6 600.8,167.6 601.3,167.6 601.8,167.6 602.3,167.6 602.8,167.6 603.3,167.6 603.8,167.6 604.3,167.6 604.8,167.6 605.3,167.6 605.8,167.6 606.3,167.6 606.8,167.6 607.3,167.6 607.8,167.6 608.3,167.6 608.8,167.6 609.3,167.6 609.8,167.6 610.3,167.6" fill="none" stroke="#5f97cc" stroke-width="0.85" stroke-linejoin="round" stroke-linecap="round" />
<polyline points="444.8,167.6 445.3,167.6 445.8,167.6 446.3,167.6 446.8,167.6 447.3,167.6 447.8,167.6 448.3,167.6 448.8,167.6 449.3,167.6 449.8,167.6 450.3,167.6 450.8,167.6 451.3,167.6 451.8,167.6 452.3,167.6 452.8,167.6 453.3,167.6 453.8,167.6 454.3,167.6 454.8,167.6 455.3,167.6 455.8,167.6 456.3,167.6 456.8,167.6 457.3,167.6 457.8,167.6 458.3,167.6 458.8,167.6 459.3,167.6 459.8,167.6 460.3,167.6 460.8,167.6 461.3,167.6 461.8,167.6 462.3,167.6 462.8,167.6 463.3,167.6 463.8,167.6 464.3,167.6 464.8,167.6 465.3,167.6 465.8,167.6 466.3,167.6 466.8,167.6 467.3,167.6 467.8,167.6 468.3,167.6 468.8,167.6 469.3,167.6 469.8,167.6 470.3,167.6 470.8,167.6 471.3,167.6 471.8,167.6 472.3,167.6 472.8,167.6 473.3,167.6 473.8,167.6 474.3,167.6 474.8,167.6 475.3,167.6 475.8,167.6 476.3,167.6 476.8,167.6 477.3,167.6 477.8,167.6 478.3,167.6 478.8,167.6 479.3,167.6 479.8,167.6 480.3,167.6 480.8,167.6 481.3,167.6 481.8,167.6 482.3,167.6 482.8,167.6 483.3,167.6 483.8,167.6 484.3,167.5 484.8,167.5 485.3,167.4 485.8,167.4 486.3,167.3 486.8,167.1 487.3,166.9 487.8,166.7 488.3,166.4 488.8,166 489.3,165.6 489.8,165.1 490.3,164.5 490.8,163.8 491.3,163.2 491.8,162.5 492.3,161.9 492.8,161.3 493.3,160.8 493.8,160.4 494.3,160.2 494.8,160.1 495.3,160.2 495.8,160.4 496.3,160.8 496.8,161.3 497.3,161.9 497.8,162.5 498.3,163.2 498.8,163.8 499.3,164.5 499.8,165.1 500.3,165.6 500.8,166 501.3,166.4 501.8,166.7 502.3,166.9 502.8,167.1 503.3,167.3 503.8,167.4 504.3,167.4 504.8,167.5 505.3,167.5 505.8,167.6 506.3,167.6 506.8,167.6 507.3,167.6 507.8,167.6 508.3,167.6 508.8,167.6 509.3,167.6 509.8,167.6 510.3,167.6 510.8,167.6 511.3,167.6 511.8,167.6 512.3,167.6 512.8,167.6 513.3,167.6 513.8,167.6 514.3,167.6 514.8,167.6 515.3,167.6 515.8,167.6 516.3,167.6 516.8,167.6 517.3,167.6 517.8,167.6 518.3,167.6 518.8,167.6 519.3,167.6 519.8,167.6 520.3,167.6 520.8,167.6 521.3,167.6 521.8,167.6 522.3,167.6 522.8,167.6 523.3,167.6 523.8,167.6 524.3,167.6 524.8,167.6 525.3,167.6 525.8,167.6 526.3,167.6 526.8,167.6 527.3,167.6 527.8,167.6 528.3,167.6 528.8,167.6 529.3,167.6 529.8,167.6 530.3,167.6 530.8,167.6 531.3,167.6 531.8,167.6 532.3,167.6 532.8,167.6 533.3,167.6 533.8,167.6 534.3,167.6 534.8,167.6 535.3,167.6 535.8,167.6 536.3,167.6 536.8,167.6 537.3,167.6 537.8,167.6 538.3,167.6 538.8,167.6 539.3,167.6 539.8,167.6 540.3,167.6 540.8,167.6 541.3,167.6 541.8,167.6 542.3,167.6 542.8,167.6 543.3,167.6 543.8,167.6 544.3,167.6 544.8,167.6 545.3,167.6 545.8,167.6 546.3,167.6 546.8,167.6 547.3,167.6 547.8,167.6 548.3,167.6 548.8,167.6 549.3,167.6 549.8,167.6 550.3,167.6 550.8,167.6 551.3,167.6 551.8,167.6 552.3,167.6 552.8,167.6 553.3,167.6 553.8,167.6 554.3,167.6 554.8,167.6 555.3,167.6 555.8,167.6 556.3,167.6 556.8,167.6 557.3,167.6 557.8,167.6 558.3,167.6 558.8,167.6 559.3,167.6 559.8,167.6 560.3,167.6 560.8,167.6 561.3,167.6 561.8,167.6 562.3,167.6 562.8,167.6 563.3,167.6 563.8,167.6 564.3,167.6 564.8,167.6 565.3,167.6 565.8,167.6 566.3,167.6 566.8,167.6 567.3,167.6 567.8,167.6 568.3,167.6 568.8,167.6 569.3,167.6 569.8,167.6 570.3,167.6 570.8,167.6 571.3,167.6 571.8,167.6 572.3,167.6 572.8,167.6 573.3,167.6 573.8,167.6 574.3,167.6 574.8,167.6 575.3,167.6 575.8,167.6 576.3,167.6 576.8,167.6 577.3,167.6 577.8,167.6 578.3,167.6 578.8,167.6 579.3,167.6 579.8,167.6 580.3,167.6 580.8,167.6 581.3,167.6 581.8,167.6 582.3,167.6 582.8,167.6 583.3,167.6 583.8,167.6 584.3,167.6 584.8,167.6 585.3,167.6 585.8,167.6 586.3,167.6 586.8,167.6 587.3,167.6 587.8,167.6 588.3,167.6 588.8,167.6 589.3,167.6 589.8,167.6 590.3,167.6 590.8,167.6 591.3,167.6 591.8,167.6 592.3,167.6 592.8,167.6 593.3,167.6 593.8,167.6 594.3,167.6 594.8,167.6 595.3,167.6 595.8,167.6 596.3,167.6 596.8,167.6 597.3,167.6 597.8,167.6 598.3,167.6 598.8,167.6 599.3,167.6 599.8,167.6 600.3,167.6 600.8,167.6 601.3,167.6 601.8,167.6 602.3,167.6 602.8,167.6 603.3,167.6 603.8,167.6 604.3,167.6 604.8,167.6 605.3,167.6 605.8,167.6 606.3,167.6 606.8,167.6 607.3,167.6 607.8,167.6 608.3,167.6 608.8,167.6 609.3,167.6 609.8,167.6 610.3,167.6" fill="none" stroke="#6cc9a6" stroke-width="0.85" stroke-linejoin="round" stroke-linecap="round" />
<polyline points="444.8,167.6 445.3,167.6 445.8,167.6 446.3,167.6 446.8,167.6 447.3,167.6 447.8,167.6 448.3,167.6 448.8,167.6 449.3,167.6 449.8,167.6 450.3,167.6 450.8,167.6 451.3,167.6 451.8,167.6 452.3,167.6 452.8,167.6 453.3,167.6 453.8,167.6 454.3,167.6 454.8,167.6 455.3,167.6 455.8,167.6 456.3,167.6 456.8,167.6 457.3,167.6 457.8,167.6 458.3,167.6 458.8,167.6 459.3,167.6 459.8,167.6 460.3,167.6 460.8,167.6 461.3,167.6 461.8,167.6 462.3,167.6 462.8,167.6 463.3,167.6 463.8,167.6 464.3,167.6 464.8,167.6 465.3,167.6 465.8,167.6 466.3,167.6 466.8,167.6 467.3,167.6 467.8,167.6 468.3,167.6 468.8,167.6 469.3,167.6 469.8,167.6 470.3,167.6 470.8,167.6 471.3,167.6 471.8,167.6 472.3,167.6 472.8,167.6 473.3,167.6 473.8,167.6 474.3,167.6 474.8,167.6 475.3,167.6 475.8,167.6 476.3,167.6 476.8,167.6 477.3,167.6 477.8,167.6 478.3,167.6 478.8,167.6 479.3,167.6 479.8,167.6 480.3,167.6 480.8,167.6 481.3,167.6 481.8,167.6 482.3,167.6 482.8,167.6 483.3,167.6 483.8,167.6 484.3,167.6 484.8,167.6 485.3,167.6 485.8,167.6 486.3,167.6 486.8,167.6 487.3,167.6 487.8,167.6 488.3,167.6 488.8,167.6 489.3,167.6 489.8,167.6 490.3,167.6 490.8,167.6 491.3,167.6 491.8,167.6 492.3,167.6 492.8,167.6 493.3,167.6 493.8,167.6 494.3,167.6 494.8,167.6 495.3,167.6 495.8,167.6 496.3,167.5 496.8,167.5 497.3,167.5 497.8,167.4 498.3,167.3 498.8,167.2 499.3,167 499.8,166.8 500.3,166.5 500.8,166.2 501.3,165.7 501.8,165.2 502.3,164.5 502.8,163.7 503.3,162.9 503.8,161.9 504.3,160.9 504.8,159.8 505.3,158.7 505.8,157.6 506.3,156.5 506.8,155.6 507.3,154.8 507.8,154.2 508.3,153.8 508.8,153.6 509.3,153.7 509.8,154 510.3,154.5 510.8,155.2 511.3,156.1 511.8,157.1 512.3,158.2 512.8,159.3 513.3,160.4 513.8,161.5 514.3,162.5 514.8,163.4 515.3,164.2 515.8,164.9 516.3,165.5 516.8,166 517.3,166.4 517.8,166.7 518.3,166.9 518.8,167.1 519.3,167.3 519.8,167.4 520.3,167.4 520.8,167.5 521.3,167.5 521.8,167.6 522.3,167.6 522.8,167.6 523.3,167.6 523.8,167.6 524.3,167.6 524.8,167.6 525.3,167.6 525.8,167.6 526.3,167.6 526.8,167.6 527.3,167.6 527.8,167.6 528.3,167.6 528.8,167.6 529.3,167.6 529.8,167.6 530.3,167.6 530.8,167.6 531.3,167.6 531.8,167.6 532.3,167.6 532.8,167.6 533.3,167.6 533.8,167.6 534.3,167.6 534.8,167.6 535.3,167.6 535.8,167.6 536.3,167.6 536.8,167.6 537.3,167.6 537.8,167.6 538.3,167.6 538.8,167.6 539.3,167.6 539.8,167.6 540.3,167.6 540.8,167.6 541.3,167.6 541.8,167.6 542.3,167.6 542.8,167.6 543.3,167.6 543.8,167.6 544.3,167.6 544.8,167.6 545.3,167.6 545.8,167.6 546.3,167.6 546.8,167.6 547.3,167.6 547.8,167.6 548.3,167.6 548.8,167.6 549.3,167.6 549.8,167.6 550.3,167.6 550.8,167.6 551.3,167.6 551.8,167.6 552.3,167.6 552.8,167.6 553.3,167.6 553.8,167.6 554.3,167.6 554.8,167.6 555.3,167.6 555.8,167.6 556.3,167.6 556.8,167.6 557.3,167.6 557.8,167.6 558.3,167.6 558.8,167.6 559.3,167.6 559.8,167.6 560.3,167.6 560.8,167.6 561.3,167.6 561.8,167.6 562.3,167.6 562.8,167.6 563.3,167.6 563.8,167.6 564.3,167.6 564.8,167.6 565.3,167.6 565.8,167.6 566.3,167.6 566.8,167.6 567.3,167.6 567.8,167.6 568.3,167.6 568.8,167.6 569.3,167.6 569.8,167.6 570.3,167.6 570.8,167.6 571.3,167.6 571.8,167.6 572.3,167.6 572.8,167.6 573.3,167.6 573.8,167.6 574.3,167.6 574.8,167.6 575.3,167.6 575.8,167.6 576.3,167.6 576.8,167.6 577.3,167.6 577.8,167.6 578.3,167.6 578.8,167.6 579.3,167.6 579.8,167.6 580.3,167.6 580.8,167.6 581.3,167.6 581.8,167.6 582.3,167.6 582.8,167.6 583.3,167.6 583.8,167.6 584.3,167.6 584.8,167.6 585.3,167.6 585.8,167.6 586.3,167.6 586.8,167.6 587.3,167.6 587.8,167.6 588.3,167.6 588.8,167.6 589.3,167.6 589.8,167.6 590.3,167.6 590.8,167.6 591.3,167.6 591.8,167.6 592.3,167.6 592.8,167.6 593.3,167.6 593.8,167.6 594.3,167.6 594.8,167.6 595.3,167.6 595.8,167.6 596.3,167.6 596.8,167.6 597.3,167.6 597.8,167.6 598.3,167.6 598.8,167.6 599.3,167.6 599.8,167.6 600.3,167.6 600.8,167.6 601.3,167.6 601.8,167.6 602.3,167.6 602.8,167.6 603.3,167.6 603.8,167.6 604.3,167.6 604.8,167.6 605.3,167.6 605.8,167.6 606.3,167.6 606.8,167.6 607.3,167.6 607.8,167.6 608.3,167.6 608.8,167.6 609.3,167.6 609.8,167.6 610.3,167.6" fill="none" stroke="#7b86c4" stroke-width="0.85" stroke-linejoin="round" stroke-linecap="round" />
<polyline points="444.8,164.4 445.3,164.6 445.8,164.9 446.3,165.1 446.8,165.3 447.3,165.4 447.8,165.6 448.3,165.7 448.8,165.8 449.3,165.8 449.8,165.9 450.3,166 450.8,166 451.3,166 451.8,165.8 452.3,165.6 452.8,165.3 453.3,164.9 453.8,164.6 454.3,164.3 454.8,163.9 455.3,163.5 455.8,163.1 456.3,162.8 456.8,162.5 457.3,162.4 457.8,162.5 458.3,162.6 458.8,162.9 459.3,163.2 459.8,163.5 460.3,163.8 460.8,164.1 461.3,164.4 461.8,164.6 462.3,164.6 462.8,164.3 463.3,164 463.8,163.7 464.3,163.5 464.8,163.3 465.3,163.1 465.8,163 466.3,163.1 466.8,163.7 467.3,164.4 467.8,164.9 468.3,164.9 468.8,164.2 469.3,163.1 469.8,161.9 470.3,160.8 470.8,159.6 471.3,158.3 471.8,157 472.3,156 472.8,155.2 473.3,154.5 473.8,153.8 474.3,153.2 474.8,152.7 475.3,152.2 475.8,151.8 476.3,151.3 476.8,150.7 477.3,149.9 477.8,149 478.3,147.9 478.8,146.8 479.3,145.4 479.8,143.8 480.3,142.2 480.8,140.5 481.3,138.7 481.8,136.8 482.3,134.9 482.8,133.2 483.3,131.7 483.8,130.3 484.3,129 484.8,127.8 485.3,127.1 485.8,127.1 486.3,127.6 486.8,128.6 487.3,129.8 487.8,131 488.3,132.5 488.8,134.4 489.3,136.4 489.8,138.3 490.3,140 490.8,141.5 491.3,143 491.8,144.4 492.3,145.7 492.8,147 493.3,148.2 493.8,149.4 494.3,150.4 494.8,151.2 495.3,151.8 495.8,152.3 496.3,152.7 496.8,153.3 497.3,153.9 497.8,154.7 498.3,155.5 498.8,156.6 499.3,157.8 499.8,159.4 500.3,161.2 500.8,163 501.3,165.1 501.8,167.3 502.3,168.6 502.8,168.1 503.3,166.5 503.8,164.5 504.3,162.7 504.8,161 505.3,159.3 505.8,157.7 506.3,156.4 506.8,155.5 507.3,154.7 507.8,154 508.3,153.4 508.8,153.2 509.3,153.3 509.8,153.6 510.3,154.2 510.8,154.8 511.3,155.4 511.8,155.9 512.3,156.6 512.8,157.3 513.3,158 513.8,158.8 514.3,159.4 514.8,159.9 515.3,160.4 515.8,160.8 516.3,161.3 516.8,161.7 517.3,162 517.8,162.3 518.3,162.7 518.8,162.9 519.3,163.2 519.8,163.5 520.3,163.8 520.8,164 521.3,164.3 521.8,164.5 522.3,164.7 522.8,164.9 523.3,165.1 523.8,165.3 524.3,165.5 524.8,165.7 525.3,166 525.8,166.1 526.3,166.3 526.8,166.4 527.3,166.4 527.8,166.3 528.3,166.1 528.8,165.8 529.3,165.5 529.8,165.3 530.3,165.1 530.8,165 531.3,164.8 531.8,164.7 532.3,164.6 532.8,164.6 533.3,164.6 533.8,164.7 534.3,164.8 534.8,165 535.3,165.1 535.8,165.3 536.3,165.4 536.8,165.6 537.3,165.7 537.8,165.7 538.3,165.8 538.8,165.9 539.3,166 539.8,166.1 540.3,166.2 540.8,166.2 541.3,166.3 541.8,166.4 542.3,166.5 542.8,166.5 543.3,166.6 543.8,166.7 544.3,166.7 544.8,166.8 545.3,166.8 545.8,166.9 546.3,167 546.8,167 547.3,167.1 547.8,167.1 548.3,167.2 548.8,167.3 549.3,167.3 549.8,167.4 550.3,167.4 550.8,167.4 551.3,167.5 551.8,167.5 552.3,167.5 552.8,167.5 553.3,167.5 553.8,167.6 554.3,167.6 554.8,167.6 555.3,167.6 555.8,167.6 556.3,167.6 556.8,167.6 557.3,167.6 557.8,167.7 558.3,167.7 558.8,167.7 559.3,167.7 559.8,167.7 560.3,167.7 560.8,167.7 561.3,167.7 561.8,167.7 562.3,167.7 562.8,167.7 563.3,167.8 563.8,167.8 564.3,167.8 564.8,167.8 565.3,167.8 565.8,167.8 566.3,167.8 566.8,167.8 567.3,167.8 567.8,167.8 568.3,167.8 568.8,167.8 569.3,167.8 569.8,167.8 570.3,167.8 570.8,167.8 571.3,167.8 571.8,167.8 572.3,167.8 572.8,167.8 573.3,167.8 573.8,167.8 574.3,167.8 574.8,167.8 575.3,167.8 575.8,167.8 576.3,167.8 576.8,167.8 577.3,167.8 577.8,167.8 578.3,167.8 578.8,167.8 579.3,167.8 579.8,167.8 580.3,167.8 580.8,167.8 581.3,167.8 581.8,167.8 582.3,167.8 582.8,167.8 583.3,167.8 583.8,167.8 584.3,167.8 584.8,167.8 585.3,167.8 585.8,167.8 586.3,167.8 586.8,167.8 587.3,167.8 587.8,167.8 588.3,167.8 588.8,167.8 589.3,167.8 589.8,167.8 590.3,167.8 590.8,167.8 591.3,167.8 591.8,167.8 592.3,167.8 592.8,167.8 593.3,167.8 593.8,167.8 594.3,167.8 594.8,167.8 595.3,167.8 595.8,167.8 596.3,167.8 596.8,167.8 597.3,167.8 597.8,167.8 598.3,167.8 598.8,167.8 599.3,167.9 599.8,167.9 600.3,167.9 600.8,167.9 601.3,167.9 601.8,167.9 602.3,167.9 602.8,167.9 603.3,167.9 603.8,167.9 604.3,167.9 604.8,167.9 605.3,167.9 605.8,167.9 606.3,167.9 606.8,167.9 607.3,168 607.8,168 608.3,168 608.8,168 609.3,168 609.8,168 610.3,168" fill="none" stroke="#d8262c" stroke-width="1.15" stroke-linejoin="round" stroke-linecap="round" />
<g class="dc" fill="none" stroke="#4a3030" stroke-width="0.3"><circle cx="444.8" cy="164.4"/><circle cx="446.6" cy="165.2"/><circle cx="448.6" cy="165.7"/><circle cx="450.5" cy="166"/><circle cx="452.4" cy="165.5"/><circle cx="454.1" cy="164.4"/><circle cx="455.7" cy="163.2"/><circle cx="457.5" cy="162.4"/><circle cx="459.3" cy="163.2"/><circle cx="461" cy="164.2"/><circle cx="462.9" cy="164.3"/><circle cx="464.6" cy="163.3"/><circle cx="466.5" cy="163.3"/><circle cx="467.7" cy="164.9"/><circle cx="469" cy="163.7"/><circle cx="469.8" cy="161.8"/><circle cx="470.6" cy="160"/><circle cx="471.4" cy="158.1"/><circle cx="472.2" cy="156.3"/><circle cx="473.2" cy="154.6"/><circle cx="474.5" cy="153.1"/><circle cx="475.9" cy="151.7"/><circle cx="477.2" cy="150.1"/><circle cx="478.1" cy="148.4"/><circle cx="478.9" cy="146.5"/><circle cx="479.5" cy="144.6"/><circle cx="480.1" cy="142.7"/><circle cx="480.7" cy="140.8"/><circle cx="481.3" cy="138.9"/><circle cx="481.8" cy="137"/><circle cx="482.3" cy="135"/><circle cx="482.8" cy="133.1"/><circle cx="483.5" cy="131.2"/><circle cx="484.2" cy="129.3"/><circle cx="485" cy="127.5"/><circle cx="486.4" cy="127.8"/><circle cx="487.3" cy="129.6"/><circle cx="488" cy="131.5"/><circle cx="488.5" cy="133.4"/><circle cx="489" cy="135.4"/><circle cx="489.5" cy="137.3"/><circle cx="490.1" cy="139.2"/><circle cx="490.7" cy="141.1"/><circle cx="491.3" cy="143"/><circle cx="492" cy="144.9"/><circle cx="492.7" cy="146.8"/><circle cx="493.5" cy="148.6"/><circle cx="494.3" cy="150.4"/><circle cx="495.5" cy="152"/><circle cx="496.9" cy="153.4"/><circle cx="498" cy="155.1"/><circle cx="498.9" cy="156.9"/><circle cx="499.6" cy="158.8"/><circle cx="500.2" cy="160.7"/><circle cx="500.7" cy="162.6"/><circle cx="501.2" cy="164.6"/><circle cx="501.6" cy="166.5"/><circle cx="502.2" cy="168.4"/><circle cx="503.1" cy="167"/><circle cx="503.7" cy="165.1"/><circle cx="504.2" cy="163.1"/><circle cx="504.7" cy="161.2"/><circle cx="505.3" cy="159.3"/><circle cx="505.9" cy="157.4"/><circle cx="506.7" cy="155.6"/><circle cx="507.8" cy="153.9"/><circle cx="509.5" cy="153.5"/><circle cx="510.9" cy="154.9"/><circle cx="512.2" cy="156.4"/><circle cx="513.3" cy="158.1"/><circle cx="514.6" cy="159.7"/><circle cx="516" cy="161"/><circle cx="517.6" cy="162.2"/><circle cx="519.3" cy="163.2"/><circle cx="521.1" cy="164.2"/><circle cx="522.9" cy="165"/><circle cx="524.8" cy="165.7"/><circle cx="526.2" cy="164.3"/><circle cx="527.7" cy="163"/><circle cx="529.3" cy="161.8"/><circle cx="530.8" cy="160.6"/><circle cx="532.7" cy="159.8"/><circle cx="534.6" cy="160.2"/><circle cx="536.5" cy="161"/><circle cx="538.2" cy="162"/><circle cx="539.9" cy="163"/><circle cx="541.8" cy="163.7"/><circle cx="543.7" cy="164"/><circle cx="545.6" cy="163.2"/><circle cx="547.3" cy="162.3"/><circle cx="549.2" cy="161.6"/><circle cx="551.2" cy="161.1"/><circle cx="553.1" cy="160.7"/><circle cx="555.1" cy="160.4"/><circle cx="557.1" cy="160.3"/><circle cx="559.1" cy="160.1"/><circle cx="561.1" cy="160.1"/><circle cx="563.1" cy="160"/><circle cx="565.1" cy="160"/><circle cx="567.1" cy="160.2"/><circle cx="569.1" cy="160.4"/><circle cx="571" cy="161"/><circle cx="572.8" cy="161.9"/><circle cx="574.6" cy="162.7"/><circle cx="576.4" cy="163.5"/><circle cx="578.4" cy="164"/><circle cx="580.2" cy="163.4"/><circle cx="582" cy="162.4"/><circle cx="583.8" cy="161.5"/><circle cx="585.7" cy="161"/><circle cx="587.6" cy="161.4"/><circle cx="589.5" cy="162.2"/><circle cx="591.2" cy="163.1"/><circle cx="592.9" cy="164.2"/><circle cx="594.5" cy="165.3"/><circle cx="596.3" cy="166.3"/><circle cx="598.1" cy="167.2"/><circle cx="600" cy="167.6"/><circle cx="602" cy="167.5"/><circle cx="604" cy="167.3"/><circle cx="606" cy="167.1"/><circle cx="608" cy="167"/><circle cx="610" cy="166.8"/></g>
</g>
<clipPath id="g4"><rect x="444.8" y="170.3" width="165.49999999999994" height="153.0"/></clipPath>
<g clip-path="url(#g4)">
<polyline points="444.8,220.6 445.3,220.4 445.8,220.2 446.3,220 446.8,219.9 447.3,219.8 447.8,219.7 448.3,219.6 448.8,219.5 449.3,219.5 449.8,219.5 450.3,219.4 450.8,219.4 451.3,219.4 451.8,219.4 452.3,219.4 452.8,219.4 453.3,219.5 453.8,219.6 454.3,219.8 454.8,220 455.3,220.3 455.8,220.5 456.3,220.7 456.8,220.9 457.3,221 457.8,221 458.3,221.1 458.8,221.1 459.3,221.1 459.8,221.2 460.3,221.2 460.8,221.2 461.3,221.2 461.8,221 462.3,220.8 462.8,220.5 463.3,220.2 463.8,219.9 464.3,219.6 464.8,219.4 465.3,219.1 465.8,218.8 466.3,218.5 466.8,218.1 467.3,217.8 467.8,217.4 468.3,216.9 468.8,216.4 469.3,215.9 469.8,215.3 470.3,214.6 470.8,214 471.3,213.3 471.8,212.6 472.3,211.8 472.8,211 473.3,210.1 473.8,209.3 474.3,208.5 474.8,207.7 475.3,207 475.8,206.3 476.3,205.7 476.8,205.2 477.3,204.6 477.8,204 478.3,203.4 478.8,202.7 479.3,201.9 479.8,200.9 480.3,199.8 480.8,198.5 481.3,197.1 481.8,195.7 482.3,194.5 482.8,193.3 483.3,192.1 483.8,190.9 484.3,190 484.8,189.4 485.3,188.9 485.8,188.6 486.3,188.4 486.8,188.6 487.3,189.1 487.8,190 488.3,191 488.8,192.9 489.3,196.1 489.8,199.7 490.3,203 490.8,205.5 491.3,207.5 491.8,209.4 492.3,211.1 492.8,212.7 493.3,214.1 493.8,215.4 494.3,216.6 494.8,217.7 495.3,218.7 495.8,219.5 496.3,220.3 496.8,220.8 497.3,220.8 497.8,220.4 498.3,219.8 498.8,219.2 499.3,218.7 499.8,218.3 500.3,218 500.8,218.1 501.3,218.6 501.8,219.4 502.3,220.2 502.8,220.8 503.3,221.5 503.8,221.9 504.3,222 504.8,222 505.3,221.9 505.8,221.8 506.3,221.7 506.8,221.6 507.3,221.5 507.8,221.4 508.3,221.3 508.8,221.2 509.3,221.1 509.8,221 510.3,221 510.8,221 511.3,221 511.8,220.9 512.3,220.9 512.8,220.9 513.3,220.9 513.8,220.9 514.3,220.9 514.8,220.9 515.3,220.9 515.8,220.8 516.3,220.8 516.8,220.8 517.3,220.8 517.8,220.8 518.3,220.8 518.8,220.8 519.3,220.8 519.8,220.8 520.3,220.8 520.8,220.8 521.3,220.8 521.8,220.8 522.3,220.8 522.8,220.8 523.3,220.8 523.8,220.8 524.3,220.8 524.8,220.8 525.3,220.8 525.8,220.8 526.3,220.7 526.8,220.7 527.3,220.7 527.8,220.7 528.3,220.7 528.8,220.7 529.3,220.7 529.8,220.7 530.3,220.7 530.8,220.7 531.3,220.7 531.8,220.7 532.3,220.7 532.8,220.7 533.3,220.7 533.8,220.7 534.3,220.7 534.8,220.7 535.3,220.7 535.8,220.7 536.3,220.7 536.8,220.7 537.3,220.7 537.8,220.7 538.3,220.7 538.8,220.7 539.3,220.7 539.8,220.7 540.3,220.7 540.8,220.7 541.3,220.6 541.8,220.6 542.3,220.6 542.8,220.6 543.3,220.6 543.8,220.6 544.3,220.6 544.8,220.6 545.3,220.6 545.8,220.6 546.3,220.6 546.8,220.6 547.3,220.6 547.8,220.6 548.3,220.6 548.8,220.6 549.3,220.6 549.8,220.6 550.3,220.6 550.8,220.6 551.3,220.6 551.8,220.6 552.3,220.6 552.8,220.6 553.3,220.6 553.8,220.6 554.3,220.6 554.8,220.6 555.3,220.6 555.8,220.6 556.3,220.6 556.8,220.6 557.3,220.6 557.8,220.6 558.3,220.6 558.8,220.6 559.3,220.6 559.8,220.6 560.3,220.6 560.8,220.6 561.3,220.6 561.8,220.6 562.3,220.6 562.8,220.6 563.3,220.6 563.8,220.6 564.3,220.6 564.8,220.6 565.3,220.6 565.8,220.6 566.3,220.6 566.8,220.6 567.3,220.6 567.8,220.6 568.3,220.6 568.8,220.6 569.3,220.6 569.8,220.6 570.3,220.6 570.8,220.6 571.3,220.6 571.8,220.6 572.3,220.6 572.8,220.6 573.3,220.6 573.8,220.6 574.3,220.6 574.8,220.6 575.3,220.6 575.8,220.6 576.3,220.6 576.8,220.6 577.3,220.6 577.8,220.6 578.3,220.6 578.8,220.6 579.3,220.6 579.8,220.6 580.3,220.6 580.8,220.6 581.3,220.6 581.8,220.6 582.3,220.6 582.8,220.6 583.3,220.6 583.8,220.6 584.3,220.6 584.8,220.6 585.3,220.6 585.8,220.6 586.3,220.6 586.8,220.6 587.3,220.7 587.8,220.7 588.3,220.7 588.8,220.7 589.3,220.7 589.8,220.7 590.3,220.7 590.8,220.7 591.3,220.7 591.8,220.7 592.3,220.7 592.8,220.7 593.3,220.7 593.8,220.7 594.3,220.7 594.8,220.7 595.3,220.7 595.8,220.7 596.3,220.7 596.8,220.7 597.3,220.7 597.8,220.7 598.3,220.7 598.8,220.7 599.3,220.7 599.8,220.7 600.3,220.7 600.8,220.7 601.3,220.7 601.8,220.7 602.3,220.7 602.8,220.7 603.3,220.7 603.8,220.7 604.3,220.8 604.8,220.8 605.3,220.8 605.8,220.8 606.3,220.8 606.8,220.8 607.3,220.8 607.8,220.8 608.3,220.8 608.8,220.8 609.3,220.8 609.8,220.8 610.3,220.8" fill="none" stroke="#e9a552" stroke-width="0.85" stroke-linejoin="round" stroke-linecap="round" />
<polyline points="444.8,221.3 445.3,221.3 445.8,221.3 446.3,221.3 446.8,221.3 447.3,221.3 447.8,221.3 448.3,221.3 448.8,221.3 449.3,221.3 449.8,221.3 450.3,221.3 450.8,221.3 451.3,221.3 451.8,221.3 452.3,221.3 452.8,221.3 453.3,221.3 453.8,221.3 454.3,221.3 454.8,221.3 455.3,221.3 455.8,221.3 456.3,221.3 456.8,221.3 457.3,221.3 457.8,221.3 458.3,221.3 458.8,221.3 459.3,221.3 459.8,221.3 460.3,221.3 460.8,221.3 461.3,221.3 461.8,221.3 462.3,221.3 462.8,221.3 463.3,221.3 463.8,221.3 464.3,221.3 464.8,221.3 465.3,221.3 465.8,221.3 466.3,221.3 466.8,221.3 467.3,221.3 467.8,221.3 468.3,221.3 468.8,221.3 469.3,221.3 469.8,221.3 470.3,221.3 470.8,221.3 471.3,221.3 471.8,221.3 472.3,221.3 472.8,221.3 473.3,221.3 473.8,221.3 474.3,221.3 474.8,221.3 475.3,221.3 475.8,221.3 476.3,221.3 476.8,221.3 477.3,221.3 477.8,221.3 478.3,221.3 478.8,221.3 479.3,221.3 479.8,221.3 480.3,221.3 480.8,221.3 481.3,221.3 481.8,221.3 482.3,221.3 482.8,221.3 483.3,221.3 483.8,221.3 484.3,221.3 484.8,221.3 485.3,221.3 485.8,221.3 486.3,221.3 486.8,221.3 487.3,221.3 487.8,221.3 488.3,221.3 488.8,221.3 489.3,221.3 489.8,221.3 490.3,221.3 490.8,221.3 491.3,221.3 491.8,221.3 492.3,221.3 492.8,221.3 493.3,221.2 493.8,221.2 494.3,221.2 494.8,221.1 495.3,221 495.8,220.9 496.3,220.8 496.8,220.6 497.3,220.5 497.8,220.2 498.3,219.9 498.8,219.6 499.3,219.2 499.8,218.8 500.3,218.4 500.8,217.9 501.3,217.4 501.8,216.9 502.3,216.4 502.8,216 503.3,215.5 503.8,215.2 504.3,214.9 504.8,214.8 505.3,214.7 505.8,214.7 506.3,214.9 506.8,215.1 507.3,215.4 507.8,215.8 508.3,216.2 508.8,216.7 509.3,217.2 509.8,217.7 510.3,218.2 510.8,218.6 511.3,219.1 511.8,219.5 512.3,219.8 512.8,220.1 513.3,220.4 513.8,220.6 514.3,220.7 514.8,220.9 515.3,221 515.8,221.1 516.3,221.1 516.8,221.2 517.3,221.2 517.8,221.2 518.3,221.3 518.8,221.3 519.3,221.3 519.8,221.3 520.3,221.3 520.8,221.3 521.3,221.3 521.8,221.3 522.3,221.3 522.8,221.3 523.3,221.3 523.8,221.3 524.3,221.3 524.8,221.3 525.3,221.3 525.8,221.3 526.3,221.3 526.8,221.3 527.3,221.3 527.8,221.3 528.3,221.3 528.8,221.3 529.3,221.3 529.8,221.3 530.3,221.3 530.8,221.3 531.3,221.3 531.8,221.3 532.3,221.3 532.8,221.3 533.3,221.3 533.8,221.3 534.3,221.3 534.8,221.3 535.3,221.3 535.8,221.3 536.3,221.3 536.8,221.3 537.3,221.3 537.8,221.3 538.3,221.3 538.8,221.3 539.3,221.3 539.8,221.3 540.3,221.3 540.8,221.3 541.3,221.3 541.8,221.3 542.3,221.3 542.8,221.3 543.3,221.3 543.8,221.3 544.3,221.3 544.8,221.3 545.3,221.3 545.8,221.3 546.3,221.3 546.8,221.3 547.3,221.3 547.8,221.3 548.3,221.3 548.8,221.3 549.3,221.3 549.8,221.3 550.3,221.3 550.8,221.3 551.3,221.3 551.8,221.3 552.3,221.3 552.8,221.3 553.3,221.3 553.8,221.3 554.3,221.3 554.8,221.3 555.3,221.3 555.8,221.3 556.3,221.3 556.8,221.3 557.3,221.3 557.8,221.3 558.3,221.3 558.8,221.3 559.3,221.3 559.8,221.3 560.3,221.3 560.8,221.3 561.3,221.3 561.8,221.3 562.3,221.3 562.8,221.3 563.3,221.3 563.8,221.3 564.3,221.3 564.8,221.3 565.3,221.3 565.8,221.3 566.3,221.3 566.8,221.3 567.3,221.3 567.8,221.3 568.3,221.3 568.8,221.3 569.3,221.3 569.8,221.3 570.3,221.3 570.8,221.3 571.3,221.3 571.8,221.3 572.3,221.3 572.8,221.3 573.3,221.3 573.8,221.3 574.3,221.3 574.8,221.3 575.3,221.3 575.8,221.3 576.3,221.3 576.8,221.3 577.3,221.3 577.8,221.3 578.3,221.3 578.8,221.3 579.3,221.3 579.8,221.3 580.3,221.3 580.8,221.3 581.3,221.3 581.8,221.3 582.3,221.3 582.8,221.3 583.3,221.3 583.8,221.3 584.3,221.3 584.8,221.3 585.3,221.3 585.8,221.3 586.3,221.3 586.8,221.3 587.3,221.3 587.8,221.3 588.3,221.3 588.8,221.3 589.3,221.3 589.8,221.3 590.3,221.3 590.8,221.3 591.3,221.3 591.8,221.3 592.3,221.3 592.8,221.3 593.3,221.3 593.8,221.3 594.3,221.3 594.8,221.3 595.3,221.3 595.8,221.3 596.3,221.3 596.8,221.3 597.3,221.3 597.8,221.3 598.3,221.3 598.8,221.3 599.3,221.3 599.8,221.3 600.3,221.3 600.8,221.3 601.3,221.3 601.8,221.3 602.3,221.3 602.8,221.3 603.3,221.3 603.8,221.3 604.3,221.3 604.8,221.3 605.3,221.3 605.8,221.3 606.3,221.3 606.8,221.3 607.3,221.3 607.8,221.3 608.3,221.3 608.8,221.3 609.3,221.3 609.8,221.3 610.3,221.3" fill="none" stroke="#a3a6dc" stroke-width="0.85" stroke-linejoin="round" stroke-linecap="round" />
<polyline points="444.8,220 445.3,219.9 445.8,219.8 446.3,219.7 446.8,219.6 447.3,219.5 447.8,219.4 448.3,219.3 448.8,219.2 449.3,219.1 449.8,219 450.3,218.9 450.8,218.8 451.3,218.7 451.8,218.7 452.3,218.6 452.8,218.6 453.3,218.8 453.8,219.1 454.3,219.4 454.8,219.7 455.3,220 455.8,220.2 456.3,220.5 456.8,220.8 457.3,220.9 457.8,220.9 458.3,220.9 458.8,221 459.3,221 459.8,221 460.3,221 460.8,221 461.3,220.9 461.8,220.3 462.3,219.4 462.8,218.3 463.3,217.3 463.8,216.5 464.3,215.7 464.8,214.9 465.3,214.1 465.8,213.4 466.3,212.9 466.8,212.6 467.3,212.4 467.8,212.2 468.3,212.1 468.8,212 469.3,212 469.8,212.1 470.3,212.2 470.8,212.3 471.3,212.4 471.8,212.4 472.3,212.1 472.8,211.7 473.3,211.2 473.8,210.5 474.3,209.8 474.8,209.1 475.3,208.4 475.8,207.5 476.3,206.4 476.8,205.3 477.3,204.1 477.8,203 478.3,201.9 478.8,200.9 479.3,199.8 479.8,198.7 480.3,197.6 480.8,196.3 481.3,195 481.8,193.6 482.3,192.3 482.8,190.9 483.3,189.4 483.8,188 484.3,186.8 484.8,185.8 485.3,184.8 485.8,183.9 486.3,183.5 486.8,183.7 487.3,184.2 487.8,185.1 488.3,186.1 488.8,187.2 489.3,188.6 489.8,190.4 490.3,192.2 490.8,194 491.3,195.9 491.8,197.9 492.3,199.9 492.8,201.9 493.3,204 493.8,206.1 494.3,208.2 494.8,210.2 495.3,212.2 495.8,214.1 496.3,215.9 496.8,217.5 497.3,219.2 497.8,220.5 498.3,220.9 498.8,220.6 499.3,220.1 499.8,219.5 500.3,218.8 500.8,218.2 501.3,217.6 501.8,216.9 502.3,216.2 502.8,215.7 503.3,215.3 503.8,214.9 504.3,214.6 504.8,214.5 505.3,214.4 505.8,214.5 506.3,214.7 506.8,214.9 507.3,215.2 507.8,215.5 508.3,215.8 508.8,216.1 509.3,216.6 509.8,217 510.3,217.5 510.8,217.9 511.3,218.3 511.8,218.7 512.3,219 512.8,219.2 513.3,219.5 513.8,219.7 514.3,219.9 514.8,220.1 515.3,220.2 515.8,220.4 516.3,220.5 516.8,220.6 517.3,220.6 517.8,220.6 518.3,220.6 518.8,220.6 519.3,220.6 519.8,220.6 520.3,220.5 520.8,220.5 521.3,220.5 521.8,220.5 522.3,220.5 522.8,220.4 523.3,220.4 523.8,220.4 524.3,220.4 524.8,220.4 525.3,220.4 525.8,220.4 526.3,220.4 526.8,220.4 527.3,220.4 527.8,220.4 528.3,220.4 528.8,220.5 529.3,220.5 529.8,220.5 530.3,220.5 530.8,220.5 531.3,220.6 531.8,220.6 532.3,220.6 532.8,220.6 533.3,220.6 533.8,220.7 534.3,220.7 534.8,220.7 535.3,220.7 535.8,220.7 536.3,220.7 536.8,220.8 537.3,220.8 537.8,220.8 538.3,220.8 538.8,220.8 539.3,220.8 539.8,220.8 540.3,220.8 540.8,220.8 541.3,220.8 541.8,220.8 542.3,220.8 542.8,220.8 543.3,220.8 543.8,220.8 544.3,220.8 544.8,220.7 545.3,220.7 545.8,220.7 546.3,220.7 546.8,220.7 547.3,220.7 547.8,220.7 548.3,220.7 548.8,220.6 549.3,220.6 549.8,220.6 550.3,220.6 550.8,220.6 551.3,220.6 551.8,220.5 552.3,220.5 552.8,220.5 553.3,220.5 553.8,220.5 554.3,220.5 554.8,220.5 555.3,220.5 555.8,220.4 556.3,220.4 556.8,220.4 557.3,220.4 557.8,220.4 558.3,220.4 558.8,220.4 559.3,220.4 559.8,220.4 560.3,220.4 560.8,220.4 561.3,220.4 561.8,220.4 562.3,220.4 562.8,220.4 563.3,220.4 563.8,220.4 564.3,220.4 564.8,220.5 565.3,220.5 565.8,220.5 566.3,220.5 566.8,220.5 567.3,220.5 567.8,220.5 568.3,220.5 568.8,220.6 569.3,220.6 569.8,220.6 570.3,220.6 570.8,220.6 571.3,220.6 571.8,220.7 572.3,220.7 572.8,220.7 573.3,220.7 573.8,220.7 574.3,220.7 574.8,220.7 575.3,220.7 575.8,220.8 576.3,220.8 576.8,220.8 577.3,220.8 577.8,220.8 578.3,220.8 578.8,220.8 579.3,220.8 579.8,220.8 580.3,220.8 580.8,220.8 581.3,220.8 581.8,220.8 582.3,220.8 582.8,220.8 583.3,220.8 583.8,220.8 584.3,220.8 584.8,220.8 585.3,220.8 585.8,220.8 586.3,220.8 586.8,220.7 587.3,220.7 587.8,220.7 588.3,220.7 588.8,220.7 589.3,220.7 589.8,220.7 590.3,220.7 590.8,220.7 591.3,220.7 591.8,220.7 592.3,220.7 592.8,220.7 593.3,220.7 593.8,220.6 594.3,220.6 594.8,220.6 595.3,220.6 595.8,220.6 596.3,220.6 596.8,220.6 597.3,220.6 597.8,220.6 598.3,220.6 598.8,220.6 599.3,220.6 599.8,220.6 600.3,220.6 600.8,220.6 601.3,220.6 601.8,220.6 602.3,220.6 602.8,220.6 603.3,220.6 603.8,220.6 604.3,220.6 604.8,220.7 605.3,220.7 605.8,220.7 606.3,220.7 606.8,220.7 607.3,220.7 607.8,220.7 608.3,220.7 608.8,220.8 609.3,220.8 609.8,220.8 610.3,220.8" fill="none" stroke="#d8262c" stroke-width="1.15" stroke-linejoin="round" stroke-linecap="round" />
<g class="dc" fill="none" stroke="#4a3030" stroke-width="0.3"><circle cx="444.8" cy="220"/><circle cx="446.8" cy="219.6"/><circle cx="448.7" cy="219.2"/><circle cx="450.7" cy="218.8"/><circle cx="452.7" cy="218.6"/><circle cx="454.4" cy="219.5"/><circle cx="456.2" cy="220.5"/><circle cx="458.1" cy="220.9"/><circle cx="460.1" cy="221"/><circle cx="461.8" cy="220.3"/><circle cx="462.7" cy="218.5"/><circle cx="463.7" cy="216.7"/><circle cx="464.7" cy="215"/><circle cx="465.8" cy="213.4"/><circle cx="467.5" cy="212.3"/><circle cx="469.4" cy="212"/><circle cx="471.4" cy="212.4"/><circle cx="473.1" cy="211.4"/><circle cx="474.3" cy="209.9"/><circle cx="475.4" cy="208.2"/><circle cx="476.3" cy="206.4"/><circle cx="477.1" cy="204.6"/><circle cx="477.9" cy="202.8"/><circle cx="478.8" cy="200.9"/><circle cx="479.6" cy="199.1"/><circle cx="480.4" cy="197.3"/><circle cx="481.1" cy="195.4"/><circle cx="481.8" cy="193.6"/><circle cx="482.5" cy="191.7"/><circle cx="483.2" cy="189.8"/><circle cx="483.9" cy="187.9"/><circle cx="484.7" cy="186.1"/><circle cx="485.6" cy="184.3"/><circle cx="487.1" cy="184"/><circle cx="488.1" cy="185.7"/><circle cx="488.9" cy="187.5"/><circle cx="489.5" cy="189.4"/><circle cx="490.1" cy="191.3"/><circle cx="490.6" cy="193.2"/><circle cx="491.1" cy="195.2"/><circle cx="491.6" cy="197.1"/><circle cx="492.1" cy="199.1"/><circle cx="492.6" cy="201"/><circle cx="493" cy="202.9"/><circle cx="493.5" cy="204.9"/><circle cx="494" cy="206.8"/><circle cx="494.4" cy="208.8"/><circle cx="494.9" cy="210.7"/><circle cx="495.4" cy="212.7"/><circle cx="495.9" cy="214.6"/><circle cx="496.5" cy="216.5"/><circle cx="497.1" cy="218.4"/><circle cx="497.7" cy="220.3"/><circle cx="499.2" cy="220.2"/><circle cx="500.5" cy="218.6"/><circle cx="501.7" cy="217"/><circle cx="503" cy="215.5"/><circle cx="504.7" cy="214.5"/><circle cx="506.6" cy="214.8"/><circle cx="508.3" cy="215.8"/><circle cx="509.9" cy="217.1"/><circle cx="511.3" cy="218.4"/><circle cx="513.3" cy="218.6"/><circle cx="515.3" cy="218.4"/><circle cx="517.2" cy="217.9"/><circle cx="519.1" cy="217.5"/><circle cx="521.1" cy="217.2"/><circle cx="523.1" cy="217.4"/><circle cx="525" cy="218"/><circle cx="526.9" cy="218.8"/><circle cx="528.7" cy="219.5"/><circle cx="530.7" cy="219.8"/><circle cx="532.7" cy="220"/><circle cx="534.7" cy="219.9"/><circle cx="536.6" cy="219.5"/><circle cx="538.6" cy="219.1"/><circle cx="540.6" cy="219"/><circle cx="542.6" cy="219.1"/><circle cx="544.6" cy="219.4"/><circle cx="546.6" cy="219.5"/><circle cx="548.6" cy="219.6"/><circle cx="550.6" cy="219.4"/><circle cx="552.5" cy="219.1"/><circle cx="554.5" cy="218.9"/><circle cx="556.5" cy="218.8"/><circle cx="558.5" cy="219"/><circle cx="560.5" cy="219.2"/><circle cx="562.5" cy="219.4"/><circle cx="564.5" cy="219.6"/><circle cx="566.5" cy="219.6"/><circle cx="568.5" cy="219.5"/><circle cx="570.5" cy="219.4"/><circle cx="572.5" cy="219.3"/><circle cx="574.5" cy="219.2"/><circle cx="576.5" cy="219.2"/><circle cx="578.5" cy="219.4"/><circle cx="580.4" cy="219.7"/><circle cx="582.4" cy="219.9"/><circle cx="584.4" cy="220"/><circle cx="586.4" cy="220"/><circle cx="588.4" cy="219.9"/><circle cx="590.4" cy="219.9"/><circle cx="592.4" cy="219.8"/><circle cx="594.4" cy="219.8"/><circle cx="596.4" cy="219.8"/><circle cx="598.4" cy="219.8"/><circle cx="600.4" cy="219.9"/><circle cx="602.4" cy="220"/><circle cx="604.4" cy="220.1"/><circle cx="606.4" cy="220.3"/><circle cx="608.4" cy="220.4"/></g>
</g>
<clipPath id="g5"><rect x="444.8" y="170.3" width="165.49999999999994" height="153.0"/></clipPath><g clip-path="url(#g5)">
<polyline points="444.8,267.8 445.3,267.6 445.8,267.3 446.3,267.2 446.8,267 447.3,266.8 447.8,266.7 448.3,266.6 448.8,266.5 449.3,266.5 449.8,266.4 450.3,266.4 450.8,266.4 451.3,266.4 451.8,266.5 452.3,266.6 452.8,266.8 453.3,266.9 453.8,267.1 454.3,267.3 454.8,267.5 455.3,267.6 455.8,267.6 456.3,267.7 456.8,267.8 457.3,267.8 457.8,267.9 458.3,267.9 458.8,268 459.3,268 459.8,268.1 460.3,268.1 460.8,268.2 461.3,268.2 461.8,268.2 462.3,268.2 462.8,268.2 463.3,268 463.8,267.7 464.3,267.4 464.8,267.1 465.3,266.8 465.8,266.5 466.3,266.2 466.8,265.9 467.3,265.5 467.8,265.2 468.3,264.8 468.8,264.4 469.3,263.9 469.8,263.5 470.3,263 470.8,262.6 471.3,262.1 471.8,261.6 472.3,261.1 472.8,260.7 473.3,260.2 473.8,259.8 474.3,259.3 474.8,258.8 475.3,258.3 475.8,257.7 476.3,257 476.8,256.3 477.3,255.2 477.8,254 478.3,252.6 478.8,251.1 479.3,249.5 479.8,247.7 480.3,245.8 480.8,243.9 481.3,242 481.8,239.9 482.3,237.8 482.8,235.9 483.3,234.3 483.8,233 484.3,231.8 484.8,230.6 485.3,229.7 485.8,228.9 486.3,228.6 486.8,228.8 487.3,229.7 487.8,230.9 488.3,232.3 488.8,234.4 489.3,237.2 489.8,240 490.3,242.5 490.8,244.9 491.3,247.3 491.8,249.4 492.3,251.4 492.8,253.2 493.3,254.9 493.8,256.4 494.3,257.7 494.8,259 495.3,260.2 495.8,261.3 496.3,262.5 496.8,263.6 497.3,264.3 497.8,264.3 498.3,263.9 498.8,263.4 499.3,263 499.8,262.7 500.3,262.5 500.8,262.3 501.3,262.2 501.8,262.1 502.3,262.1 502.8,262 503.3,262 503.8,261.9 504.3,261.9 504.8,261.8 505.3,261.8 505.8,261.8 506.3,261.9 506.8,262.5 507.3,263.4 507.8,264.3 508.3,265.1 508.8,266.2 509.3,267.2 509.8,268.1 510.3,268.4 510.8,268.4 511.3,268.3 511.8,268.2 512.3,268.1 512.8,268 513.3,268 513.8,267.9 514.3,267.8 514.8,267.7 515.3,267.6 515.8,267.5 516.3,267.4 516.8,267.4 517.3,267.4 517.8,267.4 518.3,267.4 518.8,267.4 519.3,267.4 519.8,267.4 520.3,267.4 520.8,267.3 521.3,267.3 521.8,267.3 522.3,267.3 522.8,267.3 523.3,267.3 523.8,267.3 524.3,267.3 524.8,267.3 525.3,267.3 525.8,267.3 526.3,267.3 526.8,267.3 527.3,267.3 527.8,267.3 528.3,267.3 528.8,267.3 529.3,267.3 529.8,267.3 530.3,267.3 530.8,267.3 531.3,267.3 531.8,267.3 532.3,267.3 532.8,267.3 533.3,267.3 533.8,267.3 534.3,267.3 534.8,267.3 535.3,267.3 535.8,267.3 536.3,267.3 536.8,267.3 537.3,267.3 537.8,267.3 538.3,267.3 538.8,267.3 539.3,267.3 539.8,267.3 540.3,267.3 540.8,267.3 541.3,267.3 541.8,267.3 542.3,267.3 542.8,267.3 543.3,267.2 543.8,267.2 544.3,267.2 544.8,267.2 545.3,267.2 545.8,267.2 546.3,267.2 546.8,267.2 547.3,267.2 547.8,267.2 548.3,267.2 548.8,267.2 549.3,267.2 549.8,267.2 550.3,267.2 550.8,267.2 551.3,267.2 551.8,267.2 552.3,267.2 552.8,267.2 553.3,267.2 553.8,267.2 554.3,267.2 554.8,267.2 555.3,267.2 555.8,267.2 556.3,267.2 556.8,267.2 557.3,267.2 557.8,267.2 558.3,267.2 558.8,267.2 559.3,267.2 559.8,267.2 560.3,267.2 560.8,267.2 561.3,267.2 561.8,267.2 562.3,267.2 562.8,267.2 563.3,267.2 563.8,267.2 564.3,267.2 564.8,267.2 565.3,267.2 565.8,267.2 566.3,267.2 566.8,267.2 567.3,267.2 567.8,267.2 568.3,267.2 568.8,267.2 569.3,267.2 569.8,267.2 570.3,267.2 570.8,267.2 571.3,267.2 571.8,267.2 572.3,267.2 572.8,267.2 573.3,267.2 573.8,267.2 574.3,267.2 574.8,267.2 575.3,267.2 575.8,267.2 576.3,267.2 576.8,267.2 577.3,267.2 577.8,267.2 578.3,267.2 578.8,267.2 579.3,267.2 579.8,267.2 580.3,267.2 580.8,267.2 581.3,267.2 581.8,267.2 582.3,267.2 582.8,267.2 583.3,267.2 583.8,267.2 584.3,267.2 584.8,267.2 585.3,267.2 585.8,267.2 586.3,267.2 586.8,267.2 587.3,267.2 587.8,267.2 588.3,267.2 588.8,267.2 589.3,267.3 589.8,267.3 590.3,267.3 590.8,267.3 591.3,267.3 591.8,267.3 592.3,267.3 592.8,267.3 593.3,267.3 593.8,267.3 594.3,267.3 594.8,267.3 595.3,267.3 595.8,267.3 596.3,267.3 596.8,267.3 597.3,267.3 597.8,267.3 598.3,267.3 598.8,267.3 599.3,267.3 599.8,267.3 600.3,267.3 600.8,267.3 601.3,267.3 601.8,267.3 602.3,267.3 602.8,267.3 603.3,267.3 603.8,267.3 604.3,267.4 604.8,267.4 605.3,267.4 605.8,267.4 606.3,267.4 606.8,267.4 607.3,267.4 607.8,267.4 608.3,267.4 608.8,267.4 609.3,267.4 609.8,267.4 610.3,267.4" fill="none" stroke="#e9a552" stroke-width="0.85" stroke-linejoin="round" stroke-linecap="round" />
<polyline points="444.8,267.6 445.3,267.6 445.8,267.6 446.3,267.6 446.8,267.6 447.3,267.6 447.8,267.6 448.3,267.6 448.8,267.6 449.3,267.6 449.8,267.6 450.3,267.6 450.8,267.6 451.3,267.6 451.8,267.6 452.3,267.6 452.8,267.6 453.3,267.6 453.8,267.6 454.3,267.6 454.8,267.6 455.3,267.6 455.8,267.6 456.3,267.6 456.8,267.6 457.3,267.6 457.8,267.6 458.3,267.6 458.8,267.6 459.3,267.6 459.8,267.6 460.3,267.6 460.8,267.6 461.3,267.6 461.8,267.6 462.3,267.6 462.8,267.6 463.3,267.6 463.8,267.6 464.3,267.6 464.8,267.6 465.3,267.6 465.8,267.6 466.3,267.6 466.8,267.6 467.3,267.6 467.8,267.6 468.3,267.6 468.8,267.6 469.3,267.6 469.8,267.6 470.3,267.6 470.8,267.6 471.3,267.6 471.8,267.6 472.3,267.6 472.8,267.6 473.3,267.6 473.8,267.6 474.3,267.6 474.8,267.6 475.3,267.6 475.8,267.6 476.3,267.6 476.8,267.6 477.3,267.6 477.8,267.6 478.3,267.6 478.8,267.6 479.3,267.6 479.8,267.6 480.3,267.6 480.8,267.6 481.3,267.6 481.8,267.6 482.3,267.6 482.8,267.6 483.3,267.6 483.8,267.6 484.3,267.6 484.8,267.6 485.3,267.6 485.8,267.6 486.3,267.6 486.8,267.6 487.3,267.6 487.8,267.6 488.3,267.6 488.8,267.6 489.3,267.6 489.8,267.6 490.3,267.6 490.8,267.6 491.3,267.6 491.8,267.6 492.3,267.6 492.8,267.6 493.3,267.6 493.8,267.5 494.3,267.5 494.8,267.5 495.3,267.5 495.8,267.4 496.3,267.3 496.8,267.2 497.3,267.1 497.8,267 498.3,266.8 498.8,266.5 499.3,266.3 499.8,265.9 500.3,265.6 500.8,265.2 501.3,264.7 501.8,264.2 502.3,263.7 502.8,263.1 503.3,262.5 503.8,261.9 504.3,261.4 504.8,260.9 505.3,260.4 505.8,260 506.3,259.7 506.8,259.5 507.3,259.4 507.8,259.4 508.3,259.5 508.8,259.8 509.3,260.1 509.8,260.5 510.3,261 510.8,261.5 511.3,262.1 511.8,262.6 512.3,263.2 512.8,263.8 513.3,264.3 513.8,264.8 514.3,265.3 514.8,265.7 515.3,266 515.8,266.3 516.3,266.6 516.8,266.8 517.3,267 517.8,267.1 518.3,267.3 518.8,267.3 519.3,267.4 519.8,267.5 520.3,267.5 520.8,267.5 521.3,267.6 521.8,267.6 522.3,267.6 522.8,267.6 523.3,267.6 523.8,267.6 524.3,267.6 524.8,267.6 525.3,267.6 525.8,267.6 526.3,267.6 526.8,267.6 527.3,267.6 527.8,267.6 528.3,267.6 528.8,267.6 529.3,267.6 529.8,267.6 530.3,267.6 530.8,267.6 531.3,267.6 531.8,267.6 532.3,267.6 532.8,267.6 533.3,267.6 533.8,267.6 534.3,267.6 534.8,267.6 535.3,267.6 535.8,267.6 536.3,267.6 536.8,267.6 537.3,267.6 537.8,267.6 538.3,267.6 538.8,267.6 539.3,267.6 539.8,267.6 540.3,267.6 540.8,267.6 541.3,267.6 541.8,267.6 542.3,267.6 542.8,267.6 543.3,267.6 543.8,267.6 544.3,267.6 544.8,267.6 545.3,267.6 545.8,267.6 546.3,267.6 546.8,267.6 547.3,267.6 547.8,267.6 548.3,267.6 548.8,267.6 549.3,267.6 549.8,267.6 550.3,267.6 550.8,267.6 551.3,267.6 551.8,267.6 552.3,267.6 552.8,267.6 553.3,267.6 553.8,267.6 554.3,267.6 554.8,267.6 555.3,267.6 555.8,267.6 556.3,267.6 556.8,267.6 557.3,267.6 557.8,267.6 558.3,267.6 558.8,267.6 559.3,267.6 559.8,267.6 560.3,267.6 560.8,267.6 561.3,267.6 561.8,267.6 562.3,267.6 562.8,267.6 563.3,267.6 563.8,267.6 564.3,267.6 564.8,267.6 565.3,267.6 565.8,267.6 566.3,267.6 566.8,267.6 567.3,267.6 567.8,267.6 568.3,267.6 568.8,267.6 569.3,267.6 569.8,267.6 570.3,267.6 570.8,267.6 571.3,267.6 571.8,267.6 572.3,267.6 572.8,267.6 573.3,267.6 573.8,267.6 574.3,267.6 574.8,267.6 575.3,267.6 575.8,267.6 576.3,267.6 576.8,267.6 577.3,267.6 577.8,267.6 578.3,267.6 578.8,267.6 579.3,267.6 579.8,267.6 580.3,267.6 580.8,267.6 581.3,267.6 581.8,267.6 582.3,267.6 582.8,267.6 583.3,267.6 583.8,267.6 584.3,267.6 584.8,267.6 585.3,267.6 585.8,267.6 586.3,267.6 586.8,267.6 587.3,267.6 587.8,267.6 588.3,267.6 588.8,267.6 589.3,267.6 589.8,267.6 590.3,267.6 590.8,267.6 591.3,267.6 591.8,267.6 592.3,267.6 592.8,267.6 593.3,267.6 593.8,267.6 594.3,267.6 594.8,267.6 595.3,267.6 595.8,267.6 596.3,267.6 596.8,267.6 597.3,267.6 597.8,267.6 598.3,267.6 598.8,267.6 599.3,267.6 599.8,267.6 600.3,267.6 600.8,267.6 601.3,267.6 601.8,267.6 602.3,267.6 602.8,267.6 603.3,267.6 603.8,267.6 604.3,267.6 604.8,267.6 605.3,267.6 605.8,267.6 606.3,267.6 606.8,267.6 607.3,267.6 607.8,267.6 608.3,267.6 608.8,267.6 609.3,267.6 609.8,267.6 610.3,267.6" fill="none" stroke="#a3a6dc" stroke-width="0.85" stroke-linejoin="round" stroke-linecap="round" />
<polyline points="444.8,267.8 445.3,267.6 445.8,267.4 446.3,267.2 446.8,267 447.3,266.9 447.8,266.7 448.3,266.5 448.8,266.3 449.3,266.1 449.8,265.9 450.3,265.7 450.8,265.6 451.3,265.6 451.8,265.8 452.3,266 452.8,266.3 453.3,266.5 453.8,266.7 454.3,267 454.8,267.3 455.3,267.5 455.8,267.5 456.3,267.3 456.8,267.1 457.3,266.9 457.8,266.7 458.3,266.6 458.8,266.5 459.3,266.4 459.8,266.4 460.3,266.6 460.8,267.1 461.3,267.6 461.8,268.1 462.3,268.4 462.8,268.3 463.3,268 463.8,267.5 464.3,266.9 464.8,266.2 465.3,265.7 465.8,265.1 466.3,264.4 466.8,263.8 467.3,263.1 467.8,262.5 468.3,261.8 468.8,261.2 469.3,260.6 469.8,260 470.3,259.4 470.8,258.8 471.3,258.1 471.8,257.5 472.3,256.8 472.8,256.2 473.3,255.5 473.8,254.9 474.3,254.3 474.8,253.6 475.3,253 475.8,252.3 476.3,251.5 476.8,250.6 477.3,249.5 477.8,248.1 478.3,246.7 478.8,245.2 479.3,243.5 479.8,241.8 480.3,240 480.8,238.3 481.3,236.7 481.8,235.1 482.3,233.5 482.8,232.1 483.3,231 483.8,230.1 484.3,229.2 484.8,228.4 485.3,227.7 485.8,227.2 486.3,227 486.8,227.2 487.3,227.8 487.8,228.6 488.3,229.6 488.8,230.6 489.3,231.8 489.8,233.2 490.3,234.6 490.8,236.1 491.3,237.7 491.8,239.3 492.3,241.1 492.8,242.7 493.3,244.5 493.8,246.2 494.3,248 494.8,249.5 495.3,250.9 495.8,252.2 496.3,253.4 496.8,254.6 497.3,255.6 497.8,256.7 498.3,257.7 498.8,258.4 499.3,258.8 499.8,259.2 500.3,259.4 500.8,259.6 501.3,259.6 501.8,259.5 502.3,259.4 502.8,259.2 503.3,258.9 503.8,258.5 504.3,258.1 504.8,257.7 505.3,257.4 505.8,257.2 506.3,256.9 506.8,256.7 507.3,256.6 507.8,256.6 508.3,256.9 508.8,257.3 509.3,257.7 509.8,258.2 510.3,258.7 510.8,259.3 511.3,259.9 511.8,260.6 512.3,261.2 512.8,261.8 513.3,262.5 513.8,263.1 514.3,263.6 514.8,264.2 515.3,264.7 515.8,265.2 516.3,265.7 516.8,266.1 517.3,266.4 517.8,266.6 518.3,266.7 518.8,266.9 519.3,267 519.8,267 520.3,267.1 520.8,267.2 521.3,267.2 521.8,267.2 522.3,267.2 522.8,267.2 523.3,267.2 523.8,267.2 524.3,267.3 524.8,267.3 525.3,267.3 525.8,267.3 526.3,267.3 526.8,267.3 527.3,267.3 527.8,267.3 528.3,267.3 528.8,267.3 529.3,267.3 529.8,267.3 530.3,267.3 530.8,267.3 531.3,267.3 531.8,267.3 532.3,267.3 532.8,267.3 533.3,267.3 533.8,267.3 534.3,267.3 534.8,267.3 535.3,267.2 535.8,267.2 536.3,267.2 536.8,267.2 537.3,267.2 537.8,267.2 538.3,267.2 538.8,267.2 539.3,267.2 539.8,267.2 540.3,267.1 540.8,267.1 541.3,267.1 541.8,267.1 542.3,267.1 542.8,267.1 543.3,267.1 543.8,267.1 544.3,267.1 544.8,267.1 545.3,267 545.8,267 546.3,267 546.8,267 547.3,267 547.8,267 548.3,267 548.8,267 549.3,267 549.8,267 550.3,267 550.8,267 551.3,267 551.8,267 552.3,267 552.8,267 553.3,267 553.8,267 554.3,267 554.8,267 555.3,267 555.8,267 556.3,267 556.8,267.1 557.3,267.1 557.8,267.1 558.3,267.1 558.8,267.1 559.3,267.1 559.8,267.1 560.3,267.1 560.8,267.1 561.3,267.1 561.8,267.1 562.3,267.1 562.8,267.2 563.3,267.2 563.8,267.2 564.3,267.2 564.8,267.2 565.3,267.2 565.8,267.2 566.3,267.2 566.8,267.2 567.3,267.2 567.8,267.2 568.3,267.2 568.8,267.3 569.3,267.3 569.8,267.3 570.3,267.3 570.8,267.3 571.3,267.3 571.8,267.3 572.3,267.3 572.8,267.3 573.3,267.3 573.8,267.3 574.3,267.3 574.8,267.3 575.3,267.3 575.8,267.3 576.3,267.3 576.8,267.3 577.3,267.3 577.8,267.3 578.3,267.3 578.8,267.3 579.3,267.3 579.8,267.3 580.3,267.3 580.8,267.3 581.3,267.3 581.8,267.3 582.3,267.3 582.8,267.3 583.3,267.3 583.8,267.3 584.3,267.3 584.8,267.3 585.3,267.3 585.8,267.3 586.3,267.3 586.8,267.3 587.3,267.3 587.8,267.2 588.3,267.2 588.8,267.2 589.3,267.2 589.8,267.2 590.3,267.2 590.8,267.2 591.3,267.2 591.8,267.2 592.3,267.2 592.8,267.2 593.3,267.2 593.8,267.2 594.3,267.2 594.8,267.2 595.3,267.2 595.8,267.2 596.3,267.2 596.8,267.2 597.3,267.2 597.8,267.2 598.3,267.2 598.8,267.2 599.3,267.2 599.8,267.2 600.3,267.2 600.8,267.2 601.3,267.2 601.8,267.2 602.3,267.2 602.8,267.2 603.3,267.2 603.8,267.2 604.3,267.2 604.8,267.3 605.3,267.3 605.8,267.3 606.3,267.3 606.8,267.3 607.3,267.3 607.8,267.3 608.3,267.3 608.8,267.4 609.3,267.4 609.8,267.4 610.3,267.4" fill="none" stroke="#d8262c" stroke-width="1.15" stroke-linejoin="round" stroke-linecap="round" />
<g class="dc" fill="none" stroke="#4a3030" stroke-width="0.3"><circle cx="444.8" cy="267.8"/><circle cx="446.7" cy="267.1"/><circle cx="448.5" cy="266.4"/><circle cx="450.4" cy="265.7"/><circle cx="452.3" cy="266"/><circle cx="454.1" cy="266.9"/><circle cx="456" cy="267.4"/><circle cx="457.8" cy="266.7"/><circle cx="459.8" cy="266.4"/><circle cx="461.4" cy="267.6"/><circle cx="463.1" cy="267.7"/><circle cx="464.2" cy="266.1"/><circle cx="465.2" cy="264.3"/><circle cx="466.1" cy="262.6"/><circle cx="466.9" cy="260.7"/><circle cx="467.7" cy="258.9"/><circle cx="468.5" cy="257"/><circle cx="469.3" cy="255.2"/><circle cx="470.2" cy="253.4"/><circle cx="471.2" cy="251.7"/><circle cx="472.6" cy="250.3"/><circle cx="474.4" cy="249.4"/><circle cx="476.3" cy="248.9"/><circle cx="477.5" cy="247.3"/><circle cx="478.3" cy="245.5"/><circle cx="479.1" cy="243.6"/><circle cx="479.7" cy="241.7"/><circle cx="480.3" cy="239.8"/><circle cx="480.9" cy="237.9"/><circle cx="481.5" cy="236"/><circle cx="482.1" cy="234.1"/><circle cx="482.8" cy="232.2"/><circle cx="483.6" cy="230.4"/><circle cx="484.6" cy="228.7"/><circle cx="485.9" cy="227.2"/><circle cx="487.4" cy="228"/><circle cx="488.4" cy="229.8"/><circle cx="489.2" cy="231.6"/><circle cx="489.9" cy="233.5"/><circle cx="490.5" cy="235.4"/><circle cx="491.2" cy="237.3"/><circle cx="491.7" cy="239.2"/><circle cx="492.3" cy="241.1"/><circle cx="492.9" cy="243"/><circle cx="493.4" cy="244.9"/><circle cx="494" cy="246.8"/><circle cx="494.6" cy="248.8"/><circle cx="495.2" cy="250.7"/><circle cx="495.9" cy="252.5"/><circle cx="496.7" cy="254.4"/><circle cx="497.5" cy="256.2"/><circle cx="498.5" cy="257.9"/><circle cx="500" cy="259.3"/><circle cx="501.9" cy="259.5"/><circle cx="503.6" cy="258.6"/><circle cx="505.3" cy="257.5"/><circle cx="507.1" cy="256.7"/><circle cx="508.9" cy="257.3"/><circle cx="510.3" cy="258.7"/><circle cx="511.6" cy="260.3"/><circle cx="512.8" cy="261.8"/><circle cx="514.1" cy="263.4"/><circle cx="515.4" cy="264.8"/><circle cx="516.9" cy="266.2"/><circle cx="518.8" cy="266.9"/><circle cx="520.8" cy="267.2"/><circle cx="522.7" cy="266.9"/><circle cx="524.7" cy="266.6"/><circle cx="526.7" cy="266.3"/><circle cx="528.7" cy="266"/><circle cx="530.6" cy="265.8"/><circle cx="532.6" cy="265.5"/><circle cx="534.6" cy="265.3"/><circle cx="536.6" cy="265.1"/><circle cx="538.6" cy="264.9"/><circle cx="540.6" cy="264.8"/><circle cx="542.6" cy="264.6"/><circle cx="544.6" cy="264.5"/><circle cx="546.6" cy="264.4"/><circle cx="548.6" cy="264.5"/><circle cx="550.6" cy="264.7"/><circle cx="552.5" cy="264.9"/><circle cx="554.5" cy="265.2"/><circle cx="556.5" cy="265.3"/><circle cx="558.5" cy="265.4"/><circle cx="560.5" cy="265.4"/><circle cx="562.5" cy="265.5"/><circle cx="564.5" cy="265.7"/><circle cx="566.5" cy="265.9"/><circle cx="568.5" cy="266.1"/><circle cx="570.5" cy="266.3"/><circle cx="572.5" cy="266.4"/><circle cx="574.5" cy="266.3"/><circle cx="576.5" cy="266.2"/><circle cx="578.5" cy="266"/><circle cx="580.5" cy="266"/><circle cx="582.5" cy="266.1"/><circle cx="584.5" cy="266.3"/><circle cx="586.4" cy="266.6"/><circle cx="588.4" cy="266.7"/><circle cx="590.4" cy="266.8"/><circle cx="592.4" cy="266.8"/><circle cx="594.4" cy="266.7"/><circle cx="596.4" cy="266.7"/><circle cx="598.4" cy="266.6"/><circle cx="600.4" cy="266.6"/><circle cx="602.4" cy="266.6"/><circle cx="604.4" cy="266.7"/><circle cx="606.4" cy="266.8"/><circle cx="608.4" cy="266.9"/></g>
</g>
<clipPath id="g6"><rect x="444.8" y="170.3" width="165.49999999999994" height="153.0"/></clipPath>
<g clip-path="url(#g6)">
<polyline points="444.8,317.6 445.3,317.5 445.8,317.4 446.3,317.4 446.8,317.3 447.3,317.2 447.8,317.2 448.3,317.1 448.8,317.1 449.3,317 449.8,317 450.3,317 450.8,317 451.3,317 451.8,317 452.3,317 452.8,317.1 453.3,317.1 453.8,317.2 454.3,317.2 454.8,317.3 455.3,317.3 455.8,317.4 456.3,317.4 456.8,317.4 457.3,317.4 457.8,317.3 458.3,317.3 458.8,317.1 459.3,317 459.8,316.9 460.3,316.8 460.8,316.6 461.3,316.5 461.8,316.4 462.3,316.4 462.8,316.4 463.3,316.6 463.8,316.8 464.3,317.2 464.8,317.5 465.3,317.9 465.8,318.3 466.3,318.6 466.8,318.9 467.3,319 467.8,319 468.3,318.8 468.8,318.5 469.3,318.1 469.8,317.6 470.3,317.2 470.8,316.7 471.3,316.1 471.8,315.5 472.3,314.8 472.8,314.2 473.3,313.7 473.8,313.3 474.3,312.9 474.8,312.6 475.3,312.2 475.8,311.8 476.3,311.3 476.8,310.8 477.3,310.3 477.8,309.7 478.3,309.1 478.8,308.3 479.3,307.4 479.8,306.2 480.3,304.8 480.8,303.2 481.3,301.6 481.8,300 482.3,298.2 482.8,296.3 483.3,294.4 483.8,292.6 484.3,291.1 484.8,289.4 485.3,287.9 485.8,286.7 486.3,285.9 486.8,285.2 487.3,284.7 487.8,284.3 488.3,284.2 488.8,284.6 489.3,285.5 489.8,286.5 490.3,287.9 490.8,289.9 491.3,292.4 491.8,295 492.3,297.5 492.8,300.1 493.3,302.7 493.8,305.1 494.3,307.2 494.8,309.2 495.3,310.9 495.8,312.5 496.3,313.8 496.8,314.9 497.3,316 497.8,316.8 498.3,317.3 498.8,317.8 499.3,318.2 499.8,318.4 500.3,318.4 500.8,318.1 501.3,317.8 501.8,317.6 502.3,317.6 502.8,317.9 503.3,318.2 503.8,318.5 504.3,318.7 504.8,319 505.3,319.2 505.8,319.4 506.3,319.3 506.8,319 507.3,318.5 507.8,318.2 508.3,318.2 508.8,318.5 509.3,318.8 509.8,319 510.3,319 510.8,318.9 511.3,318.8 511.8,318.6 512.3,318.5 512.8,318.4 513.3,318.4 513.8,318.4 514.3,318.3 514.8,318.3 515.3,318.3 515.8,318.3 516.3,318.3 516.8,318.3 517.3,318.2 517.8,318.2 518.3,318.2 518.8,318.2 519.3,318.2 519.8,318.2 520.3,318.2 520.8,318.2 521.3,318.2 521.8,318.2 522.3,318.2 522.8,318.2 523.3,318.2 523.8,318.2 524.3,318.2 524.8,318.2 525.3,318.1 525.8,318.1 526.3,318.1 526.8,318.1 527.3,318.1 527.8,318.1 528.3,318.1 528.8,318.1 529.3,318.1 529.8,318.1 530.3,318.1 530.8,318.1 531.3,318.1 531.8,318.1 532.3,318.1 532.8,318.1 533.3,318.1 533.8,318.1 534.3,318.1 534.8,318.1 535.3,318.1 535.8,318.1 536.3,318.1 536.8,318.1 537.3,318.1 537.8,318.1 538.3,318.1 538.8,318.1 539.3,318.1 539.8,318.1 540.3,318 540.8,318 541.3,318 541.8,318 542.3,318 542.8,318 543.3,318 543.8,318 544.3,318 544.8,318 545.3,318 545.8,318 546.3,318 546.8,318 547.3,318 547.8,318 548.3,318 548.8,318 549.3,318 549.8,318 550.3,318 550.8,318 551.3,318 551.8,318 552.3,318 552.8,318 553.3,318 553.8,318 554.3,318 554.8,318 555.3,318 555.8,318 556.3,318 556.8,318 557.3,318 557.8,318 558.3,318 558.8,318 559.3,318 559.8,318 560.3,318 560.8,318 561.3,318 561.8,318 562.3,318 562.8,318 563.3,318 563.8,318 564.3,318 564.8,318 565.3,318 565.8,318 566.3,318 566.8,318 567.3,318 567.8,318 568.3,318 568.8,318 569.3,318 569.8,318 570.3,318 570.8,318 571.3,318 571.8,318 572.3,318 572.8,318 573.3,318 573.8,318 574.3,318 574.8,318 575.3,318 575.8,318 576.3,318 576.8,318 577.3,318 577.8,318 578.3,318 578.8,318 579.3,318 579.8,318 580.3,318 580.8,318 581.3,318 581.8,318 582.3,318 582.8,318 583.3,318 583.8,318 584.3,318 584.8,318 585.3,318 585.8,318 586.3,318 586.8,318 587.3,318.1 587.8,318.1 588.3,318.1 588.8,318.1 589.3,318.1 589.8,318.1 590.3,318.1 590.8,318.1 591.3,318.1 591.8,318.1 592.3,318.1 592.8,318.1 593.3,318.1 593.8,318.1 594.3,318.1 594.8,318.1 595.3,318.1 595.8,318.1 596.3,318.1 596.8,318.1 597.3,318.1 597.8,318.1 598.3,318.1 598.8,318.1 599.3,318.1 599.8,318.1 600.3,318.1 600.8,318.1 601.3,318.1 601.8,318.1 602.3,318.1 602.8,318.1 603.3,318.1 603.8,318.1 604.3,318.2 604.8,318.2 605.3,318.2 605.8,318.2 606.3,318.2 606.8,318.2 607.3,318.2 607.8,318.2 608.3,318.2 608.8,318.2 609.3,318.2 609.8,318.2 610.3,318.2" fill="none" stroke="#e9a552" stroke-width="0.85" stroke-linejoin="round" stroke-linecap="round" />
<polyline points="444.8,318.3 445.3,318.3 445.8,318.3 446.3,318.3 446.8,318.3 447.3,318.3 447.8,318.3 448.3,318.3 448.8,318.3 449.3,318.3 449.8,318.3 450.3,318.3 450.8,318.3 451.3,318.3 451.8,318.3 452.3,318.3 452.8,318.3 453.3,318.3 453.8,318.3 454.3,318.3 454.8,318.3 455.3,318.3 455.8,318.3 456.3,318.3 456.8,318.3 457.3,318.3 457.8,318.3 458.3,318.3 458.8,318.3 459.3,318.3 459.8,318.3 460.3,318.3 460.8,318.3 461.3,318.3 461.8,318.3 462.3,318.3 462.8,318.3 463.3,318.3 463.8,318.3 464.3,318.3 464.8,318.3 465.3,318.3 465.8,318.3 466.3,318.3 466.8,318.3 467.3,318.3 467.8,318.3 468.3,318.3 468.8,318.3 469.3,318.3 469.8,318.3 470.3,318.3 470.8,318.3 471.3,318.3 471.8,318.3 472.3,318.3 472.8,318.3 473.3,318.3 473.8,318.3 474.3,318.3 474.8,318.3 475.3,318.3 475.8,318.3 476.3,318.3 476.8,318.3 477.3,318.3 477.8,318.3 478.3,318.3 478.8,318.3 479.3,318.3 479.8,318.3 480.3,318.3 480.8,318.3 481.3,318.3 481.8,318.3 482.3,318.3 482.8,318.3 483.3,318.3 483.8,318.3 484.3,318.3 484.8,318.3 485.3,318.3 485.8,318.3 486.3,318.3 486.8,318.3 487.3,318.3 487.8,318.3 488.3,318.3 488.8,318.3 489.3,318.3 489.8,318.3 490.3,318.3 490.8,318.3 491.3,318.3 491.8,318.3 492.3,318.3 492.8,318.3 493.3,318.3 493.8,318.3 494.3,318.3 494.8,318.3 495.3,318.3 495.8,318.3 496.3,318.2 496.8,318.2 497.3,318.2 497.8,318.1 498.3,318.1 498.8,318 499.3,317.9 499.8,317.7 500.3,317.6 500.8,317.3 501.3,317.1 501.8,316.7 502.3,316.4 502.8,315.9 503.3,315.4 503.8,314.8 504.3,314.2 504.8,313.5 505.3,312.8 505.8,312.1 506.3,311.4 506.8,310.7 507.3,310 507.8,309.5 508.3,309 508.8,308.6 509.3,308.4 509.8,308.3 510.3,308.3 510.8,308.5 511.3,308.8 511.8,309.3 512.3,309.8 512.8,310.4 513.3,311.1 513.8,311.8 514.3,312.5 514.8,313.2 515.3,313.9 515.8,314.6 516.3,315.2 516.8,315.7 517.3,316.2 517.8,316.6 518.3,316.9 518.8,317.2 519.3,317.5 519.8,317.7 520.3,317.8 520.8,318 521.3,318 521.8,318.1 522.3,318.2 522.8,318.2 523.3,318.2 523.8,318.3 524.3,318.3 524.8,318.3 525.3,318.3 525.8,318.3 526.3,318.3 526.8,318.3 527.3,318.3 527.8,318.3 528.3,318.3 528.8,318.3 529.3,318.3 529.8,318.3 530.3,318.3 530.8,318.3 531.3,318.3 531.8,318.3 532.3,318.3 532.8,318.3 533.3,318.3 533.8,318.3 534.3,318.3 534.8,318.3 535.3,318.3 535.8,318.3 536.3,318.3 536.8,318.3 537.3,318.3 537.8,318.3 538.3,318.3 538.8,318.3 539.3,318.3 539.8,318.3 540.3,318.3 540.8,318.3 541.3,318.3 541.8,318.3 542.3,318.3 542.8,318.3 543.3,318.3 543.8,318.3 544.3,318.3 544.8,318.3 545.3,318.3 545.8,318.3 546.3,318.3 546.8,318.3 547.3,318.3 547.8,318.3 548.3,318.3 548.8,318.3 549.3,318.3 549.8,318.3 550.3,318.3 550.8,318.3 551.3,318.3 551.8,318.3 552.3,318.3 552.8,318.3 553.3,318.3 553.8,318.3 554.3,318.3 554.8,318.3 555.3,318.3 555.8,318.3 556.3,318.3 556.8,318.3 557.3,318.3 557.8,318.3 558.3,318.3 558.8,318.3 559.3,318.3 559.8,318.3 560.3,318.3 560.8,318.3 561.3,318.3 561.8,318.3 562.3,318.3 562.8,318.3 563.3,318.3 563.8,318.3 564.3,318.3 564.8,318.3 565.3,318.3 565.8,318.3 566.3,318.3 566.8,318.3 567.3,318.3 567.8,318.3 568.3,318.3 568.8,318.3 569.3,318.3 569.8,318.3 570.3,318.3 570.8,318.3 571.3,318.3 571.8,318.3 572.3,318.3 572.8,318.3 573.3,318.3 573.8,318.3 574.3,318.3 574.8,318.3 575.3,318.3 575.8,318.3 576.3,318.3 576.8,318.3 577.3,318.3 577.8,318.3 578.3,318.3 578.8,318.3 579.3,318.3 579.8,318.3 580.3,318.3 580.8,318.3 581.3,318.3 581.8,318.3 582.3,318.3 582.8,318.3 583.3,318.3 583.8,318.3 584.3,318.3 584.8,318.3 585.3,318.3 585.8,318.3 586.3,318.3 586.8,318.3 587.3,318.3 587.8,318.3 588.3,318.3 588.8,318.3 589.3,318.3 589.8,318.3 590.3,318.3 590.8,318.3 591.3,318.3 591.8,318.3 592.3,318.3 592.8,318.3 593.3,318.3 593.8,318.3 594.3,318.3 594.8,318.3 595.3,318.3 595.8,318.3 596.3,318.3 596.8,318.3 597.3,318.3 597.8,318.3 598.3,318.3 598.8,318.3 599.3,318.3 599.8,318.3 600.3,318.3 600.8,318.3 601.3,318.3 601.8,318.3 602.3,318.3 602.8,318.3 603.3,318.3 603.8,318.3 604.3,318.3 604.8,318.3 605.3,318.3 605.8,318.3 606.3,318.3 606.8,318.3 607.3,318.3 607.8,318.3 608.3,318.3 608.8,318.3 609.3,318.3 609.8,318.3 610.3,318.3" fill="none" stroke="#a3a6dc" stroke-width="0.85" stroke-linejoin="round" stroke-linecap="round" />
<polyline points="444.8,317.4 445.3,317.1 445.8,316.9 446.3,316.7 446.8,316.6 447.3,316.5 447.8,316.4 448.3,316.4 448.8,316.4 449.3,316.5 449.8,316.6 450.3,316.7 450.8,316.8 451.3,316.9 451.8,317.1 452.3,317.4 452.8,317.6 453.3,317.9 453.8,318 454.3,318 454.8,317.9 455.3,317.7 455.8,317.5 456.3,317.3 456.8,317.1 457.3,316.9 457.8,316.6 458.3,316.3 458.8,316 459.3,315.7 459.8,315.6 460.3,315.6 460.8,315.7 461.3,315.7 461.8,315.8 462.3,316 462.8,316.1 463.3,316.3 463.8,316.6 464.3,317 464.8,317.3 465.3,317.6 465.8,318 466.3,318.4 466.8,318.8 467.3,319 467.8,318.9 468.3,318.6 468.8,318.1 469.3,317.4 469.8,316.8 470.3,316.1 470.8,315.4 471.3,314.6 471.8,313.7 472.3,312.9 472.8,312.2 473.3,311.5 473.8,310.8 474.3,310.1 474.8,309.3 475.3,308.5 475.8,307.7 476.3,306.8 476.8,305.9 477.3,304.9 477.8,303.8 478.3,302.6 478.8,301.3 479.3,299.9 479.8,298.5 480.3,297.2 480.8,295.8 481.3,294.4 481.8,292.9 482.3,291.5 482.8,290.2 483.3,288.8 483.8,287.3 484.3,286 484.8,285 485.3,284.1 485.8,283.3 486.3,282.5 486.8,281.8 487.3,281.2 487.8,280.9 488.3,280.8 488.8,281 489.3,281.5 489.8,282.1 490.3,282.7 490.8,283.5 491.3,284.5 491.8,285.7 492.3,287 492.8,288.4 493.3,289.8 493.8,291.4 494.3,293 494.8,294.6 495.3,296.3 495.8,298 496.3,299.8 496.8,301.6 497.3,303.4 497.8,305.3 498.3,307.1 498.8,309.1 499.3,311.1 499.8,312.9 500.3,314.5 500.8,316.1 501.3,317.5 501.8,318 502.3,317.7 502.8,316.9 503.3,316 503.8,315 504.3,314.1 504.8,313.1 505.3,312 505.8,311.1 506.3,310.3 506.8,309.6 507.3,309 507.8,308.5 508.3,307.9 508.8,307.5 509.3,307.2 509.8,307.1 510.3,307.1 510.8,307.3 511.3,307.5 511.8,307.8 512.3,308.1 512.8,308.5 513.3,308.8 513.8,309.4 514.3,310 514.8,310.7 515.3,311.5 515.8,312.1 516.3,312.8 516.8,313.4 517.3,314.1 517.8,314.7 518.3,315.3 518.8,315.8 519.3,316.3 519.8,316.7 520.3,317.1 520.8,317.5 521.3,317.8 521.8,318 522.3,318.1 522.8,318.1 523.3,318.2 523.8,318.3 524.3,318.3 524.8,318.4 525.3,318.4 525.8,318.4 526.3,318.4 526.8,318.4 527.3,318.4 527.8,318.3 528.3,318.3 528.8,318.2 529.3,318.2 529.8,318.1 530.3,318 530.8,318 531.3,317.9 531.8,317.8 532.3,317.8 532.8,317.7 533.3,317.7 533.8,317.6 534.3,317.6 534.8,317.6 535.3,317.6 535.8,317.6 536.3,317.6 536.8,317.7 537.3,317.7 537.8,317.7 538.3,317.8 538.8,317.8 539.3,317.8 539.8,317.9 540.3,317.9 540.8,318 541.3,318 541.8,318.1 542.3,318.1 542.8,318.1 543.3,318.2 543.8,318.2 544.3,318.2 544.8,318.2 545.3,318.2 545.8,318.2 546.3,318.2 546.8,318.2 547.3,318.2 547.8,318.1 548.3,318.1 548.8,318.1 549.3,318.1 549.8,318.1 550.3,318 550.8,318 551.3,318 551.8,317.9 552.3,317.9 552.8,317.9 553.3,317.9 553.8,317.8 554.3,317.8 554.8,317.8 555.3,317.7 555.8,317.7 556.3,317.7 556.8,317.7 557.3,317.7 557.8,317.6 558.3,317.6 558.8,317.6 559.3,317.6 559.8,317.6 560.3,317.6 560.8,317.6 561.3,317.6 561.8,317.6 562.3,317.6 562.8,317.7 563.3,317.7 563.8,317.7 564.3,317.7 564.8,317.7 565.3,317.8 565.8,317.8 566.3,317.8 566.8,317.9 567.3,317.9 567.8,317.9 568.3,317.9 568.8,318 569.3,318 569.8,318 570.3,318.1 570.8,318.1 571.3,318.1 571.8,318.1 572.3,318.1 572.8,318.2 573.3,318.2 573.8,318.2 574.3,318.2 574.8,318.2 575.3,318.2 575.8,318.2 576.3,318.2 576.8,318.2 577.3,318.2 577.8,318.2 578.3,318.2 578.8,318.1 579.3,318.1 579.8,318.1 580.3,318.1 580.8,318.1 581.3,318 581.8,318 582.3,318 582.8,318 583.3,318 583.8,317.9 584.3,317.9 584.8,317.9 585.3,317.9 585.8,317.9 586.3,317.9 586.8,317.8 587.3,317.8 587.8,317.8 588.3,317.8 588.8,317.8 589.3,317.8 589.8,317.8 590.3,317.8 590.8,317.8 591.3,317.8 591.8,317.8 592.3,317.8 592.8,317.8 593.3,317.8 593.8,317.8 594.3,317.8 594.8,317.8 595.3,317.8 595.8,317.8 596.3,317.8 596.8,317.8 597.3,317.8 597.8,317.8 598.3,317.9 598.8,317.9 599.3,317.9 599.8,317.9 600.3,317.9 600.8,317.9 601.3,317.9 601.8,317.9 602.3,317.9 602.8,317.9 603.3,318 603.8,318 604.3,318 604.8,318 605.3,318 605.8,318 606.3,318 606.8,318.1 607.3,318.1 607.8,318.1 608.3,318.1 608.8,318.1 609.3,318.2 609.8,318.2 610.3,318.2" fill="none" stroke="#d8262c" stroke-width="1.15" stroke-linejoin="round" stroke-linecap="round" />
<g class="dc" fill="none" stroke="#4a3030" stroke-width="0.3"><circle cx="444.8" cy="317.4"/><circle cx="446.6" cy="316.6"/><circle cx="448.6" cy="316.4"/><circle cx="450.6" cy="316.7"/><circle cx="452.4" cy="317.4"/><circle cx="454.3" cy="318"/><circle cx="456.2" cy="317.3"/><circle cx="458" cy="316.5"/><circle cx="459.8" cy="315.6"/><circle cx="461.8" cy="315.8"/><circle cx="463.6" cy="316.5"/><circle cx="465.3" cy="317.6"/><circle cx="466.9" cy="318.8"/><circle cx="468.6" cy="318.3"/><circle cx="469.9" cy="316.7"/><circle cx="471" cy="315"/><circle cx="472" cy="313.3"/><circle cx="473.1" cy="311.7"/><circle cx="474.3" cy="310"/><circle cx="475.4" cy="308.4"/><circle cx="476.4" cy="306.6"/><circle cx="477.3" cy="304.9"/><circle cx="478.1" cy="303"/><circle cx="478.8" cy="301.2"/><circle cx="479.5" cy="299.3"/><circle cx="480.2" cy="297.4"/><circle cx="480.9" cy="295.5"/><circle cx="481.6" cy="293.6"/><circle cx="482.2" cy="291.8"/><circle cx="482.9" cy="289.9"/><circle cx="483.6" cy="288"/><circle cx="484.3" cy="286.1"/><circle cx="485.2" cy="284.3"/><circle cx="486.2" cy="282.6"/><circle cx="487.5" cy="281.1"/><circle cx="489.2" cy="281.4"/><circle cx="490.5" cy="283"/><circle cx="491.4" cy="284.7"/><circle cx="492.1" cy="286.6"/><circle cx="492.8" cy="288.5"/><circle cx="493.5" cy="290.4"/><circle cx="494.1" cy="292.3"/><circle cx="494.7" cy="294.2"/><circle cx="495.2" cy="296.1"/><circle cx="495.8" cy="298"/><circle cx="496.3" cy="299.9"/><circle cx="496.9" cy="301.9"/><circle cx="497.4" cy="303.8"/><circle cx="497.9" cy="305.7"/><circle cx="498.4" cy="307.7"/><circle cx="498.9" cy="309.6"/><circle cx="499.4" cy="311.5"/><circle cx="500" cy="313.5"/><circle cx="500.6" cy="315.4"/><circle cx="501.2" cy="317.3"/><circle cx="502.6" cy="317.3"/><circle cx="503.5" cy="315.6"/><circle cx="504.4" cy="313.8"/><circle cx="505.3" cy="312"/><circle cx="506.3" cy="310.3"/><circle cx="507.6" cy="308.7"/><circle cx="509.1" cy="307.4"/><circle cx="511" cy="307.4"/><circle cx="512.7" cy="308.4"/><circle cx="514.1" cy="309.8"/><circle cx="515.3" cy="311.4"/><circle cx="516.5" cy="313"/><circle cx="517.7" cy="314.6"/><circle cx="519" cy="316"/><circle cx="520.6" cy="317.3"/><circle cx="522.2" cy="317.5"/><circle cx="524.1" cy="316.9"/><circle cx="526" cy="316.2"/><circle cx="527.8" cy="315.4"/><circle cx="529.7" cy="314.8"/><circle cx="531.7" cy="314.9"/><circle cx="533.7" cy="315.1"/><circle cx="535.7" cy="315.3"/><circle cx="537.6" cy="315.7"/><circle cx="539.6" cy="316"/><circle cx="541.6" cy="315.8"/><circle cx="543.5" cy="315.3"/><circle cx="545.5" cy="314.9"/><circle cx="547.5" cy="314.7"/><circle cx="549.5" cy="314.5"/><circle cx="551.5" cy="314.4"/><circle cx="553.5" cy="314.5"/><circle cx="555.5" cy="314.7"/><circle cx="557.4" cy="314.9"/><circle cx="559.4" cy="315.2"/><circle cx="561.4" cy="315.5"/><circle cx="563.4" cy="315.7"/><circle cx="565.4" cy="315.8"/><circle cx="567.4" cy="315.6"/><circle cx="569.4" cy="315.4"/><circle cx="571.4" cy="315.2"/><circle cx="573.4" cy="315.2"/><circle cx="575.3" cy="315.4"/><circle cx="577.3" cy="315.7"/><circle cx="579.3" cy="315.9"/><circle cx="581.3" cy="316.1"/><circle cx="583.3" cy="316.4"/><circle cx="585.3" cy="316.6"/><circle cx="587.3" cy="316.8"/><circle cx="589.3" cy="316.8"/><circle cx="591.3" cy="316.7"/><circle cx="593.3" cy="316.7"/><circle cx="595.3" cy="316.6"/><circle cx="597.3" cy="316.6"/><circle cx="599.3" cy="316.8"/><circle cx="601.2" cy="317.1"/><circle cx="603.2" cy="317.3"/><circle cx="605.2" cy="317.5"/><circle cx="607.2" cy="317.6"/><circle cx="609.2" cy="317.7"/></g>
</g>
<rect x="444.8" y="22" width="165.5" height="301.3" fill="none" stroke="#222" stroke-width="1" />
<line x1="444.8" y1="70" x2="610.3" y2="70" stroke="#555" stroke-width="0.6" />
<line x1="444.8" y1="120.3" x2="610.3" y2="120.3" stroke="#555" stroke-width="0.6" />
<line x1="444.8" y1="171.8" x2="610.3" y2="171.8" stroke="#222" stroke-width="1.2" />
<line x1="444.8" y1="323.3" x2="444.8" y2="325.6" stroke="#222" stroke-width="0.9" />
<text x="444.8" y="334.9" font-size="7.7" text-anchor="middle" fill="#000" stroke="#000" stroke-width="0.16" >0</text>
<line x1="472.4" y1="323.3" x2="472.4" y2="325.6" stroke="#222" stroke-width="0.9" />
<text x="472.4" y="334.9" font-size="7.7" text-anchor="middle" fill="#000" stroke="#000" stroke-width="0.16" >1</text>
<line x1="500" y1="323.3" x2="500" y2="325.6" stroke="#222" stroke-width="0.9" />
<text x="500" y="334.9" font-size="7.7" text-anchor="middle" fill="#000" stroke="#000" stroke-width="0.16" >2</text>
<line x1="527.5" y1="323.3" x2="527.5" y2="325.6" stroke="#222" stroke-width="0.9" />
<text x="527.5" y="334.9" font-size="7.7" text-anchor="middle" fill="#000" stroke="#000" stroke-width="0.16" >3</text>
<line x1="555.1" y1="323.3" x2="555.1" y2="325.6" stroke="#222" stroke-width="0.9" />
<text x="555.1" y="334.9" font-size="7.7" text-anchor="middle" fill="#000" stroke="#000" stroke-width="0.16" >4</text>
<line x1="582.7" y1="323.3" x2="582.7" y2="325.6" stroke="#222" stroke-width="0.9" />
<text x="582.7" y="334.9" font-size="7.7" text-anchor="middle" fill="#000" stroke="#000" stroke-width="0.16" >5</text>
<line x1="610.3" y1="323.3" x2="610.3" y2="325.6" stroke="#222" stroke-width="0.9" />
<text x="610.3" y="334.9" font-size="7.7" text-anchor="middle" fill="#000" stroke="#000" stroke-width="0.16" >6</text>
<line x1="458.6" y1="323.3" x2="458.6" y2="324.7" stroke="#222" stroke-width="0.8" />
<line x1="486.2" y1="323.3" x2="486.2" y2="324.7" stroke="#222" stroke-width="0.8" />
<line x1="513.8" y1="323.3" x2="513.8" y2="324.7" stroke="#222" stroke-width="0.8" />
<line x1="541.3" y1="323.3" x2="541.3" y2="324.7" stroke="#222" stroke-width="0.8" />
<line x1="568.9" y1="323.3" x2="568.9" y2="324.7" stroke="#222" stroke-width="0.8" />
<line x1="596.5" y1="323.3" x2="596.5" y2="324.7" stroke="#222" stroke-width="0.8" />
<text x="527.5" y="347.4" font-size="9" text-anchor="middle" fill="#000" stroke="#000" stroke-width="0.16" >R (Å)</text>
<text x="439.6" y="174" font-size="8.4" text-anchor="middle" fill="#000" stroke="#000" stroke-width="0.16" transform="rotate(-90 439.6 174)">|χ(R)| (Å<tspan font-size="5.6" dy="-3">-4</tspan><tspan dy="3">)</tspan></text>
<text x="425.5" y="33.6" font-size="16" text-anchor="start" fill="#000" stroke="#000" stroke-width="0.16" font-weight="bold" >g</text>
<text x="447.6" y="30.6" font-size="7.4" text-anchor="start" fill="#000" stroke="#000" stroke-width="0.16" >Sn K-edge</text>
<line x1="515" y1="27.9" x2="531.3" y2="27.9" stroke="#d8262c" stroke-width="1.4" />
<text x="533.8" y="30.6" font-size="7.6" text-anchor="start" fill="#000" stroke="#000" stroke-width="0.16" >Fitting</text>
<line x1="557.2" y1="27.9" x2="573" y2="27.9" stroke="#8fb8d8" stroke-width="0.8" />
<text x="574.8" y="30.6" font-size="7.7" text-anchor="start" fill="#000" stroke="#000" stroke-width="0.16" >Sn-N/C/O</text>
<line x1="515" y1="37.2" x2="531.3" y2="37.2" stroke="#a4dcc6" stroke-width="0.8" />
<text x="533.8" y="39.9" font-size="7.6" text-anchor="start" fill="#000" stroke="#000" stroke-width="0.16" >Sn-S</text>
<line x1="557.2" y1="37.2" x2="573" y2="37.2" stroke="#b6b6c8" stroke-width="0.8" />
<text x="574.8" y="39.9" font-size="7.7" text-anchor="start" fill="#000" stroke="#000" stroke-width="0.16" >Sn-Zn</text>
<text x="602" y="59" font-size="7.6" text-anchor="end" fill="#000" stroke="#000" stroke-width="0.16" >OCP</text>
<text x="604.6" y="108.1" font-size="7.6" text-anchor="end" fill="#000" stroke="#000" stroke-width="0.16" >-0.4 V</text>
<text x="604.6" y="156.4" font-size="7.6" text-anchor="end" fill="#000" stroke="#000" stroke-width="0.16" >-0.8 V</text>
<text x="447.9" y="181.7" font-size="7.4" text-anchor="start" fill="#000" stroke="#000" stroke-width="0.16" >Zn K-edge</text>
<line x1="568.8" y1="179" x2="583.4" y2="179" stroke="#d8262c" stroke-width="1.4" />
<text x="586.8" y="181.6" font-size="7.6" text-anchor="start" fill="#000" stroke="#000" stroke-width="0.16" >Fitting</text>
<line x1="531.4" y1="188.3" x2="546.3" y2="188.3" stroke="#e9a552" stroke-width="0.8" />
<text x="549.7" y="190.9" font-size="7.6" text-anchor="start" fill="#000" stroke="#000" stroke-width="0.16" >Zn-N</text>
<line x1="570" y1="188.3" x2="583.4" y2="188.3" stroke="#a3a6dc" stroke-width="0.8" />
<text x="586.8" y="190.9" font-size="7.6" text-anchor="start" fill="#000" stroke="#000" stroke-width="0.16" >Zn-Sn</text>
<text x="600" y="213" font-size="7.6" text-anchor="end" fill="#000" stroke="#000" stroke-width="0.16" >OCP</text>
<text x="604.6" y="262.1" font-size="7.6" text-anchor="end" fill="#000" stroke="#000" stroke-width="0.16" >-0.4 V</text>
<text x="604.6" y="310.2" font-size="7.6" text-anchor="end" fill="#000" stroke="#000" stroke-width="0.16" >-0.8 V</text>
<rect x="486" y="360.7" width="22.7" height="155.3" fill="#b9e7cd" stroke="none" stroke-width="0" />
<rect x="558" y="360.7" width="45.5" height="155.3" fill="#a9f2f6" stroke="none" stroke-width="0" />
<polyline points="444.9,416.6 445.9,416.7 446.9,416.8 447.9,416.8 448.9,416.9 449.9,416.9 450.9,417 451.9,417 452.9,417 453.9,417 454.9,416.9 455.9,416.9 456.9,416.9 457.9,416.8 458.9,416.8 459.9,416.8 460.9,416.7 461.9,416.7 462.9,416.7 463.9,416.7 464.9,416.7 465.9,416.7 466.9,416.7 467.9,416.8 468.9,416.8 469.9,416.8 470.9,416.8 471.9,416.8 472.9,416.8 473.9,416.8 474.9,416.7 475.9,416.7 476.9,416.6 477.9,416.5 478.9,416.5 479.9,416.4 480.9,416.3 481.9,416.3 482.9,416.2 483.9,416.2 484.9,416.1 485.9,416.1 486.9,416.1 487.9,416.2 488.9,416.2 489.9,416.2 490.9,416.3 491.9,416.4 492.9,416.4 493.9,416.5 494.9,416.5 495.9,416.6 496.9,416.6 497.9,416.7 498.9,416.7 499.9,416.7 500.9,416.7 501.9,416.7 502.9,416.7 503.9,416.6 504.9,416.6 505.9,416.6 506.9,416.6 507.9,416.6 508.9,416.6 509.9,416.7 510.9,416.7 511.9,416.7 512.9,416.8 513.9,416.9 514.9,416.9 515.9,417 516.9,417 517.9,417 518.9,417 519.9,417 520.9,417 521.9,417 522.9,417 523.9,416.9 524.9,416.8 525.9,416.7" fill="none" stroke="#3b1d4e" stroke-width="1.0" stroke-linejoin="round" stroke-linecap="round" />
<polyline points="444.9,431 445.9,431 446.9,431 447.9,431 448.9,430.9 449.9,430.9 450.9,430.8 451.9,430.8 452.9,430.7 453.9,430.7 454.9,430.7 455.9,430.7 456.9,430.7 457.9,430.7 458.9,430.7 459.9,430.7 460.9,430.7 461.9,430.7 462.9,430.7 463.9,430.7 464.9,430.7 465.9,430.7 466.9,430.7 467.9,430.7 468.9,430.6 469.9,430.5 470.9,430.5 471.9,430.4 472.9,430.3 473.9,430.3 474.9,430.2 475.9,430.2 476.9,430.1 477.9,430.1 478.9,430.1 479.9,430.1 480.9,430.2 481.9,430.2 482.9,430.3 483.9,430.3 484.9,430.4 485.9,430.5 486.9,430.5 487.9,430.6 488.9,430.7 489.9,430.7 490.9,430.7 491.9,430.7 492.9,430.7 493.9,430.7 494.9,430.7 495.9,430.7 496.9,430.7 497.9,430.7 498.9,430.7 499.9,430.7 500.9,430.7 501.9,430.7 502.9,430.7 503.9,430.7 504.9,430.8 505.9,430.8 506.9,430.9 507.9,430.9 508.9,431 509.9,431 510.9,431 511.9,431 512.9,431 513.9,431 514.9,430.9 515.9,430.9 516.9,430.8 517.9,430.7 518.9,430.7 519.9,430.6 520.9,430.5 521.9,430.4 522.9,430.4 523.9,430.3 524.9,430.3 525.9,430.3" fill="none" stroke="#3f3370" stroke-width="1.0" stroke-linejoin="round" stroke-linecap="round" />
<polyline points="444.9,443.9 445.9,443.9 446.9,443.9 447.9,443.8 448.9,443.8 449.9,443.8 450.9,443.8 451.9,443.8 452.9,443.9 453.9,443.9 454.9,443.9 455.9,443.9 456.9,443.9 457.9,443.9 458.9,443.9 459.9,443.8 460.9,443.8 461.9,443.7 462.9,443.7 463.9,443.6 464.9,443.5 465.9,443.5 466.9,443.4 467.9,443.4 468.9,443.3 469.9,443.3 470.9,443.3 471.9,443.3 472.9,443.4 473.9,443.4 474.9,443.5 475.9,443.5 476.9,443.6 477.9,443.7 478.9,443.8 479.9,443.8 480.9,443.9 481.9,443.9 482.9,444 483.9,444 484.9,444 485.9,444 486.9,444 487.9,444 488.9,443.9 489.9,443.9 490.9,443.9 491.9,443.9 492.9,443.9 493.9,443.9 494.9,443.9 495.9,443.9 496.9,444 497.9,444 498.9,444 499.9,444.1 500.9,444.1 501.9,444.2 502.9,444.2 503.9,444.2 504.9,444.2 505.9,444.2 506.9,444.1 507.9,444.1 508.9,444 509.9,443.9 510.9,443.9 511.9,443.8 512.9,443.7 513.9,443.6 514.9,443.6 515.9,443.5 516.9,443.5 517.9,443.4 518.9,443.4 519.9,443.4 520.9,443.4 521.9,443.5 522.9,443.5 523.9,443.5 524.9,443.6 525.9,443.6" fill="none" stroke="#37508a" stroke-width="1.0" stroke-linejoin="round" stroke-linecap="round" />
<polyline points="444.9,457.9 445.9,457.9 446.9,457.9 447.9,457.9 448.9,457.9 449.9,457.9 450.9,457.9 451.9,457.9 452.9,457.9 453.9,457.8 454.9,457.8 455.9,457.7 456.9,457.7 457.9,457.6 458.9,457.5 459.9,457.5 460.9,457.5 461.9,457.4 462.9,457.4 463.9,457.4 464.9,457.5 465.9,457.5 466.9,457.6 467.9,457.6 468.9,457.7 469.9,457.8 470.9,457.9 471.9,457.9 472.9,458 473.9,458 474.9,458.1 475.9,458.1 476.9,458.1 477.9,458.1 478.9,458.1 479.9,458.1 480.9,458.1 481.9,458.1 482.9,458 483.9,458 484.9,458 485.9,458 486.9,458 487.9,458 488.9,458 489.9,458.1 490.9,458.1 491.9,458.1 492.9,458.2 493.9,458.2 494.9,458.2 495.9,458.3 496.9,458.2 497.9,458.2 498.9,458.2 499.9,458.2 500.9,458.1 501.9,458 502.9,458 503.9,457.9 504.9,457.8 505.9,457.7 506.9,457.6 507.9,457.6 508.9,457.5 509.9,457.5 510.9,457.5 511.9,457.5 512.9,457.5 513.9,457.5 514.9,457.6 515.9,457.6 516.9,457.7 517.9,457.7 518.9,457.7 519.9,457.8 520.9,457.8 521.9,457.8 522.9,457.8 523.9,457.8 524.9,457.8 525.9,457.8" fill="none" stroke="#2d6c8c" stroke-width="1.0" stroke-linejoin="round" stroke-linecap="round" />
<polyline points="444.9,474.4 445.9,474.3 446.9,474.3 447.9,474.2 448.9,474.2 449.9,474.1 450.9,474.1 451.9,474 452.9,474 453.9,474 454.9,474 455.9,474 456.9,474 457.9,474 458.9,474.1 459.9,474.1 460.9,474.2 461.9,474.3 462.9,474.4 463.9,474.4 464.9,474.5 465.9,474.6 466.9,474.6 467.9,474.7 468.9,474.7 469.9,474.7 470.9,474.7 471.9,474.7 472.9,474.6 473.9,474.6 474.9,474.6 475.9,474.6 476.9,474.5 477.9,474.5 478.9,474.5 479.9,474.5 480.9,474.5 481.9,474.6 482.9,474.6 483.9,474.6 484.9,474.6 485.9,474.7 486.9,474.7 487.9,474.7 488.9,474.7 489.9,474.7 490.9,474.7 491.9,474.6 492.9,474.6 493.9,474.5 494.9,474.5 495.9,474.4 496.9,474.3 497.9,474.2 498.9,474.1 499.9,474.1 500.9,474 501.9,474 502.9,474 503.9,474 504.9,474 505.9,474 506.9,474 507.9,474.1 508.9,474.1 509.9,474.2 510.9,474.2 511.9,474.3 512.9,474.3 513.9,474.3 514.9,474.4 515.9,474.4 516.9,474.4 517.9,474.4 518.9,474.3 519.9,474.3 520.9,474.3 521.9,474.3 522.9,474.3 523.9,474.3 524.9,474.3 525.9,474.3" fill="none" stroke="#2c8a86" stroke-width="1.0" stroke-linejoin="round" stroke-linecap="round" />
<polyline points="444.9,490.6 445.9,490.6 446.9,490.6 447.9,490.6 448.9,490.6 449.9,490.6 450.9,490.7 451.9,490.7 452.9,490.8 453.9,490.9 454.9,491 455.9,491 456.9,491.1 457.9,491.2 458.9,491.2 459.9,491.3 460.9,491.3 461.9,491.3 462.9,491.3 463.9,491.3 464.9,491.3 465.9,491.3 466.9,491.2 467.9,491.2 468.9,491.2 469.9,491.1 470.9,491.1 471.9,491.1 472.9,491.1 473.9,491.1 474.9,491.1 475.9,491.2 476.9,491.2 477.9,491.2 478.9,491.2 479.9,491.3 480.9,491.3 481.9,491.3 482.9,491.2 483.9,491.2 484.9,491.2 485.9,491.1 486.9,491 487.9,491 488.9,490.9 489.9,490.8 490.9,490.7 491.9,490.7 492.9,490.6 493.9,490.6 494.9,490.6 495.9,490.5 496.9,490.5 497.9,490.6 498.9,490.6 499.9,490.6 500.9,490.7 501.9,490.8 502.9,490.8 503.9,490.9 504.9,490.9 505.9,491 506.9,491 507.9,491 508.9,491 509.9,491 510.9,491 511.9,491 512.9,491 513.9,491 514.9,491 515.9,491 516.9,491 517.9,491 518.9,491 519.9,491 520.9,491.1 521.9,491.1 522.9,491.2 523.9,491.3 524.9,491.3 525.9,491.4" fill="none" stroke="#52ae68" stroke-width="1.0" stroke-linejoin="round" stroke-linecap="round" />
<polyline points="444.9,506.8 445.9,506.9 446.9,507 447.9,507.1 448.9,507.1 449.9,507.2 450.9,507.3 451.9,507.3 452.9,507.3 453.9,507.4 454.9,507.4 455.9,507.4 456.9,507.3 457.9,507.3 458.9,507.3 459.9,507.2 460.9,507.2 461.9,507.2 462.9,507.1 463.9,507.1 464.9,507.1 465.9,507.1 466.9,507.1 467.9,507.1 468.9,507.1 469.9,507.2 470.9,507.2 471.9,507.2 472.9,507.2 473.9,507.3 474.9,507.5 475.9,508.4 476.9,510 477.9,510.6 478.9,509.3 479.9,507.2 480.9,505.9 481.9,505.9 482.9,506.4 483.9,506.6 484.9,506.6 485.9,506.6 486.9,506.5 487.9,506.5 488.9,506.5 489.9,506.5 490.9,506.6 491.9,506.6 492.9,506.7 493.9,506.7 494.9,506.8 495.9,506.9 496.9,506.9 497.9,507 498.9,507 499.9,507 500.9,507.1 501.9,507.1 502.9,507.1 503.9,507.1 504.9,507 505.9,507 506.9,507 507.9,507 508.9,507 509.9,507 510.9,507 511.9,507.1 512.9,507.1 513.9,507.1 514.9,507.2 515.9,507.2 516.9,507.3 517.9,507.4 518.9,507.4 519.9,507.4 520.9,507.4 521.9,507.5 522.9,507.4 523.9,507.4 524.9,507.4 525.9,507.3" fill="none" stroke="#f1e23c" stroke-width="1.0" stroke-linejoin="round" stroke-linecap="round" />
<clipPath id="hc"><rect x="444.9" y="360.7" width="165.5" height="155.3"/></clipPath><g clip-path="url(#hc)">
<polyline points="529.4,412.4 529.9,412.4 530.4,412.5 530.9,412.5 531.4,412.6 531.9,412.6 532.4,412.7 532.9,412.7 533.4,412.7 533.9,412.7 534.4,412.7 534.9,412.7 535.4,412.7 535.9,412.7 536.4,412.7 536.9,412.6 537.4,412.6 537.9,412.5 538.4,412.5 538.9,412.4 539.4,412.4 539.9,412.3 540.4,412.3 540.9,412.2 541.4,412.2 541.9,412.2 542.4,412.2 542.9,412.2 543.4,412.2 543.9,412.2 544.4,412.2 544.9,412.2 545.4,412.2 545.9,412.2 546.4,412.3 546.9,412.3 547.4,412.3 547.9,412.4 548.4,412.4 548.9,412.4 549.4,412.5 549.9,412.5 550.4,412.5 550.9,412.5 551.4,412.5 551.9,412.5 552.4,412.5 552.9,412.4 553.4,412.4 553.9,412.4 554.4,412.3 554.9,412.3 555.4,412.2 555.9,412.1 556.4,412.1 556.9,412 557.4,412 557.9,411.9 558.4,411.9 558.9,411.9 559.4,411.8 559.9,411.8 560.4,411.8 560.9,411.8 561.4,411.8 561.9,411.8 562.4,411.9 562.9,411.9 563.4,412 563.9,412 564.4,412.1 564.9,412.1 565.4,412.2 565.9,412.3 566.4,412.3 566.9,412.4 567.4,412.4 567.9,412.4 568.4,412.4 568.9,412.4 569.4,412.4 569.9,412.4 570.4,412.3 570.9,412.2 571.4,412.1 571.9,411.9 572.4,411.8 572.9,411.5 573.4,411.3 573.9,411 574.4,410.6 574.9,410.2 575.4,409.7 575.9,409.2 576.4,408.6 576.9,408 577.4,407.3 577.9,406.5 578.4,405.6 578.9,404.6 579.4,403.6 579.9,402.4 580.4,401.2 580.9,399.8 581.4,398.4 581.9,396.9 582.4,395.3 582.9,393.6 583.4,391.9 583.9,390.1 584.4,388.2 584.9,386.3 585.4,384.4 585.9,382.4 586.4,380.5 586.9,378.6 587.4,376.8 587.9,375.1 588.4,373.4 588.9,371.9 589.4,370.4 589.9,369.2 590.4,368.1 590.9,367.2 591.4,366.5 591.9,366 592.4,365.8 592.9,365.8 593.4,366.1 593.9,366.7 594.4,367.7 594.9,369 595.4,370.5 595.9,372.2 596.4,374 596.9,375.9 597.4,377.9 597.9,379.9 598.4,381.8 598.9,383.8 599.4,385.7 599.9,387.5 600.4,389.2 600.9,390.8 601.4,392.4 601.9,393.9 602.4,395.2 602.9,396.5 603.4,397.7 603.9,398.7 604.4,399.7 604.9,400.6 605.4,401.5 605.9,402.2 606.4,402.9 606.9,403.4 607.4,404 607.9,404.4 608.4,404.8 608.9,405.2 609.4,405.5 609.9,405.8 610.4,406" fill="none" stroke="#3b1d4e" stroke-width="1.0" stroke-linejoin="round" stroke-linecap="round" />
<polyline points="529.4,427.3 529.9,427.3 530.4,427.3 530.9,427.3 531.4,427.2 531.9,427.2 532.4,427.2 532.9,427.1 533.4,427.1 533.9,427 534.4,426.9 534.9,426.9 535.4,426.8 535.9,426.7 536.4,426.7 536.9,426.6 537.4,426.5 537.9,426.5 538.4,426.5 538.9,426.4 539.4,426.4 539.9,426.4 540.4,426.4 540.9,426.4 541.4,426.4 541.9,426.4 542.4,426.4 542.9,426.5 543.4,426.5 543.9,426.6 544.4,426.6 544.9,426.7 545.4,426.7 545.9,426.7 546.4,426.8 546.9,426.8 547.4,426.9 547.9,426.9 548.4,426.9 548.9,426.9 549.4,426.9 549.9,426.9 550.4,426.9 550.9,426.9 551.4,426.9 551.9,426.8 552.4,426.8 552.9,426.8 553.4,426.7 553.9,426.7 554.4,426.7 554.9,426.6 555.4,426.6 555.9,426.6 556.4,426.6 556.9,426.6 557.4,426.6 557.9,426.6 558.4,426.6 558.9,426.6 559.4,426.7 559.9,426.7 560.4,426.8 560.9,426.8 561.4,426.9 561.9,426.9 562.4,427 562.9,427 563.4,427.1 563.9,427.1 564.4,427.2 564.9,427.2 565.4,427.2 565.9,427.2 566.4,427.2 566.9,427.2 567.4,427.2 567.9,427.2 568.4,427.1 568.9,427 569.4,426.9 569.9,426.8 570.4,426.7 570.9,426.6 571.4,426.4 571.9,426.3 572.4,426.1 572.9,425.9 573.4,425.7 573.9,425.4 574.4,425.2 574.9,424.9 575.4,424.5 575.9,424.2 576.4,423.8 576.9,423.4 577.4,422.9 577.9,422.4 578.4,421.9 578.9,421.3 579.4,420.6 579.9,419.9 580.4,419.2 580.9,418.4 581.4,417.5 581.9,416.6 582.4,415.6 582.9,414.6 583.4,413.5 583.9,412.4 584.4,411.3 584.9,410.1 585.4,409 585.9,407.8 586.4,406.6 586.9,405.5 587.4,404.4 587.9,403.3 588.4,402.3 588.9,401.3 589.4,400.5 589.9,399.7 590.4,399.1 590.9,398.6 591.4,398.2 591.9,397.9 592.4,397.7 592.9,397.7 593.4,398 593.9,398.4 594.4,399 594.9,399.9 595.4,400.8 595.9,401.9 596.4,403 596.9,404.3 597.4,405.5 597.9,406.8 598.4,408 598.9,409.2 599.4,410.4 599.9,411.6 600.4,412.7 600.9,413.7 601.4,414.7 601.9,415.6 602.4,416.4 602.9,417.2 603.4,417.9 603.9,418.5 604.4,419.1 604.9,419.6 605.4,420.1 605.9,420.5 606.4,420.9 606.9,421.2 607.4,421.5 607.9,421.7 608.4,421.9 608.9,422.1 609.4,422.3 609.9,422.4 610.4,422.5" fill="none" stroke="#3f3370" stroke-width="1.0" stroke-linejoin="round" stroke-linecap="round" />
<polyline points="529.4,442.5 529.9,442.4 530.4,442.4 530.9,442.3 531.4,442.3 531.9,442.2 532.4,442.2 532.9,442.1 533.4,442.1 533.9,442 534.4,442 534.9,442 535.4,441.9 535.9,441.9 536.4,441.9 536.9,441.9 537.4,441.9 537.9,442 538.4,442 538.9,442 539.4,442.1 539.9,442.1 540.4,442.2 540.9,442.3 541.4,442.3 541.9,442.4 542.4,442.5 542.9,442.5 543.4,442.6 543.9,442.7 544.4,442.7 544.9,442.7 545.4,442.8 545.9,442.8 546.4,442.8 546.9,442.8 547.4,442.8 547.9,442.8 548.4,442.8 548.9,442.7 549.4,442.7 549.9,442.7 550.4,442.6 550.9,442.6 551.4,442.5 551.9,442.5 552.4,442.4 552.9,442.4 553.4,442.4 553.9,442.3 554.4,442.3 554.9,442.3 555.4,442.3 555.9,442.3 556.4,442.3 556.9,442.3 557.4,442.3 557.9,442.4 558.4,442.4 558.9,442.4 559.4,442.5 559.9,442.5 560.4,442.5 560.9,442.6 561.4,442.6 561.9,442.6 562.4,442.6 562.9,442.6 563.4,442.6 563.9,442.6 564.4,442.6 564.9,442.6 565.4,442.5 565.9,442.5 566.4,442.4 566.9,442.4 567.4,442.3 567.9,442.2 568.4,442.2 568.9,442.1 569.4,442 569.9,441.9 570.4,441.8 570.9,441.8 571.4,441.7 571.9,441.6 572.4,441.5 572.9,441.5 573.4,441.4 573.9,441.3 574.4,441.3 574.9,441.2 575.4,441.1 575.9,441 576.4,440.9 576.9,440.8 577.4,440.7 577.9,440.6 578.4,440.5 578.9,440.3 579.4,440.1 579.9,439.9 580.4,439.7 580.9,439.4 581.4,439.1 581.9,438.8 582.4,438.5 582.9,438.1 583.4,437.7 583.9,437.3 584.4,436.9 584.9,436.4 585.4,436 585.9,435.5 586.4,435.1 586.9,434.6 587.4,434.1 587.9,433.7 588.4,433.3 588.9,432.9 589.4,432.5 589.9,432.1 590.4,431.8 590.9,431.5 591.4,431.3 591.9,431.1 592.4,430.9 592.9,430.8 593.4,430.8 593.9,430.8 594.4,430.8 594.9,431 595.4,431.2 595.9,431.5 596.4,431.9 596.9,432.3 597.4,432.7 597.9,433.2 598.4,433.6 598.9,434.1 599.4,434.6 599.9,435.1 600.4,435.5 600.9,436 601.4,436.4 601.9,436.8 602.4,437.1 602.9,437.5 603.4,437.8 603.9,438 604.4,438.3 604.9,438.5 605.4,438.8 605.9,439 606.4,439.1 606.9,439.3 607.4,439.5 607.9,439.6 608.4,439.8 608.9,439.9 609.4,440 609.9,440.2 610.4,440.3" fill="none" stroke="#37508a" stroke-width="1.0" stroke-linejoin="round" stroke-linecap="round" />
<polyline points="529.4,457 529.9,456.9 530.4,456.9 530.9,456.9 531.4,456.8 531.9,456.8 532.4,456.8 532.9,456.8 533.4,456.8 533.9,456.8 534.4,456.8 534.9,456.8 535.4,456.9 535.9,456.9 536.4,457 536.9,457 537.4,457.1 537.9,457.1 538.4,457.2 538.9,457.2 539.4,457.3 539.9,457.3 540.4,457.4 540.9,457.4 541.4,457.5 541.9,457.5 542.4,457.5 542.9,457.5 543.4,457.5 543.9,457.5 544.4,457.4 544.9,457.4 545.4,457.3 545.9,457.3 546.4,457.2 546.9,457.2 547.4,457.1 547.9,457 548.4,457 548.9,456.9 549.4,456.8 549.9,456.8 550.4,456.7 550.9,456.7 551.4,456.7 551.9,456.6 552.4,456.6 552.9,456.6 553.4,456.6 553.9,456.6 554.4,456.6 554.9,456.7 555.4,456.7 555.9,456.7 556.4,456.8 556.9,456.8 557.4,456.9 557.9,456.9 558.4,457 558.9,457 559.4,457 559.9,457.1 560.4,457.1 560.9,457.1 561.4,457.1 561.9,457.1 562.4,457.1 562.9,457.1 563.4,457.1 563.9,457 564.4,457 564.9,457 565.4,456.9 565.9,456.9 566.4,456.9 566.9,456.8 567.4,456.8 567.9,456.8 568.4,456.7 568.9,456.7 569.4,456.7 569.9,456.7 570.4,456.7 570.9,456.8 571.4,456.8 571.9,456.8 572.4,456.9 572.9,456.9 573.4,457 573.9,457 574.4,457.1 574.9,457.2 575.4,457.2 575.9,457.3 576.4,457.3 576.9,457.4 577.4,457.4 577.9,457.5 578.4,457.5 578.9,457.5 579.4,457.5 579.9,457.5 580.4,457.5 580.9,457.4 581.4,457.4 581.9,457.4 582.4,457.3 582.9,457.2 583.4,457.1 583.9,457.1 584.4,457 584.9,456.9 585.4,456.8 585.9,456.7 586.4,456.6 586.9,456.5 587.4,456.3 587.9,456.2 588.4,456.1 588.9,456 589.4,455.9 589.9,455.8 590.4,455.7 590.9,455.6 591.4,455.5 591.9,455.5 592.4,455.4 592.9,455.3 593.4,455.3 593.9,455.3 594.4,455.2 594.9,455.2 595.4,455.2 595.9,455.2 596.4,455.3 596.9,455.3 597.4,455.4 597.9,455.5 598.4,455.6 598.9,455.7 599.4,455.8 599.9,455.9 600.4,456 600.9,456 601.4,456.1 601.9,456.2 602.4,456.2 602.9,456.3 603.4,456.3 603.9,456.3 604.4,456.4 604.9,456.4 605.4,456.4 605.9,456.5 606.4,456.5 606.9,456.6 607.4,456.6 607.9,456.7 608.4,456.7 608.9,456.8 609.4,456.9 609.9,457 610.4,457.1" fill="none" stroke="#2d6c8c" stroke-width="1.0" stroke-linejoin="round" stroke-linecap="round" />
<polyline points="529.4,472.9 529.9,472.8 530.4,472.8 530.9,472.8 531.4,472.8 531.9,472.8 532.4,472.8 532.9,472.8 533.4,472.8 533.9,472.9 534.4,472.9 534.9,472.9 535.4,473 535.9,473 536.4,473 536.9,473.1 537.4,473.1 537.9,473.1 538.4,473.1 538.9,473.1 539.4,473.1 539.9,473.1 540.4,473.1 540.9,473.1 541.4,473.1 541.9,473 542.4,473 542.9,472.9 543.4,472.9 543.9,472.8 544.4,472.7 544.9,472.7 545.4,472.6 545.9,472.6 546.4,472.5 546.9,472.5 547.4,472.5 547.9,472.4 548.4,472.4 548.9,472.4 549.4,472.4 549.9,472.4 550.4,472.4 550.9,472.5 551.4,472.5 551.9,472.6 552.4,472.6 552.9,472.7 553.4,472.7 553.9,472.8 554.4,472.9 554.9,472.9 555.4,473 555.9,473.1 556.4,473.1 556.9,473.2 557.4,473.2 557.9,473.2 558.4,473.3 558.9,473.3 559.4,473.3 559.9,473.3 560.4,473.2 560.9,473.2 561.4,473.2 561.9,473.2 562.4,473.1 562.9,473.1 563.4,473 563.9,473 564.4,473 564.9,472.9 565.4,472.9 565.9,472.9 566.4,472.8 566.9,472.8 567.4,472.8 567.9,472.8 568.4,472.8 568.9,472.8 569.4,472.8 569.9,472.9 570.4,472.9 570.9,472.9 571.4,473 571.9,473 572.4,473 572.9,473.1 573.4,473.1 573.9,473.1 574.4,473.2 574.9,473.2 575.4,473.2 575.9,473.1 576.4,473.1 576.9,473.1 577.4,473 577.9,473 578.4,472.9 578.9,472.8 579.4,472.7 579.9,472.6 580.4,472.5 580.9,472.4 581.4,472.2 581.9,472.1 582.4,471.9 582.9,471.8 583.4,471.6 583.9,471.4 584.4,471.2 584.9,471 585.4,470.9 585.9,470.7 586.4,470.5 586.9,470.3 587.4,470.1 587.9,469.9 588.4,469.7 588.9,469.6 589.4,469.4 589.9,469.3 590.4,469.2 590.9,469.1 591.4,469 591.9,468.9 592.4,468.9 592.9,468.8 593.4,468.8 593.9,468.8 594.4,468.9 594.9,469 595.4,469.1 595.9,469.3 596.4,469.5 596.9,469.7 597.4,469.9 597.9,470.1 598.4,470.3 598.9,470.5 599.4,470.7 599.9,470.8 600.4,471 600.9,471.2 601.4,471.3 601.9,471.5 602.4,471.6 602.9,471.7 603.4,471.8 603.9,472 604.4,472.1 604.9,472.2 605.4,472.3 605.9,472.4 606.4,472.6 606.9,472.7 607.4,472.8 607.9,472.9 608.4,473 608.9,473.1 609.4,473.2 609.9,473.2 610.4,473.3" fill="none" stroke="#2c8a86" stroke-width="1.0" stroke-linejoin="round" stroke-linecap="round" />
<polyline points="529.4,489.9 529.9,489.9 530.4,489.9 530.9,490 531.4,490 531.9,490 532.4,490.1 532.9,490.1 533.4,490.2 533.9,490.2 534.4,490.3 534.9,490.3 535.4,490.3 535.9,490.4 536.4,490.4 536.9,490.4 537.4,490.4 537.9,490.4 538.4,490.4 538.9,490.4 539.4,490.4 539.9,490.3 540.4,490.3 540.9,490.3 541.4,490.2 541.9,490.2 542.4,490.2 542.9,490.1 543.4,490.1 543.9,490.1 544.4,490.1 544.9,490 545.4,490 545.9,490 546.4,490.1 546.9,490.1 547.4,490.1 547.9,490.1 548.4,490.2 548.9,490.2 549.4,490.3 549.9,490.4 550.4,490.4 550.9,490.5 551.4,490.5 551.9,490.6 552.4,490.6 552.9,490.7 553.4,490.7 553.9,490.8 554.4,490.8 554.9,490.8 555.4,490.8 555.9,490.8 556.4,490.8 556.9,490.8 557.4,490.7 557.9,490.7 558.4,490.6 558.9,490.6 559.4,490.5 559.9,490.4 560.4,490.4 560.9,490.3 561.4,490.2 561.9,490.2 562.4,490.1 562.9,490.1 563.4,490 563.9,490 564.4,490 564.9,490 565.4,490 565.9,490 566.4,490 566.9,490 567.4,490 567.9,490 568.4,490.1 568.9,490.1 569.4,490.2 569.9,490.2 570.4,490.2 570.9,490.3 571.4,490.3 571.9,490.3 572.4,490.4 572.9,490.4 573.4,490.4 573.9,490.4 574.4,490.4 574.9,490.4 575.4,490.3 575.9,490.3 576.4,490.3 576.9,490.2 577.4,490.2 577.9,490.1 578.4,490.1 578.9,490 579.4,490 579.9,489.9 580.4,489.9 580.9,489.8 581.4,489.8 581.9,489.7 582.4,489.7 582.9,489.7 583.4,489.6 583.9,489.6 584.4,489.6 584.9,489.6 585.4,489.6 585.9,489.6 586.4,489.6 586.9,489.6 587.4,489.5 587.9,489.5 588.4,489.5 588.9,489.5 589.4,489.5 589.9,489.4 590.4,489.4 590.9,489.3 591.4,489.3 591.9,489.2 592.4,489.1 592.9,489.1 593.4,489 593.9,488.9 594.4,488.8 594.9,488.8 595.4,488.7 595.9,488.6 596.4,488.6 596.9,488.6 597.4,488.6 597.9,488.6 598.4,488.6 598.9,488.6 599.4,488.7 599.9,488.7 600.4,488.8 600.9,488.9 601.4,489 601.9,489 602.4,489.1 602.9,489.2 603.4,489.4 603.9,489.5 604.4,489.6 604.9,489.7 605.4,489.8 605.9,489.9 606.4,490 606.9,490.1 607.4,490.2 607.9,490.3 608.4,490.4 608.9,490.4 609.4,490.5 609.9,490.5 610.4,490.6" fill="none" stroke="#52ae68" stroke-width="1.0" stroke-linejoin="round" stroke-linecap="round" />
<polyline points="529.4,506.5 529.9,506.6 530.4,506.7 530.9,506.9 531.4,507 531.9,507.1 532.4,507.3 532.9,507.4 533.4,507.5 533.9,507.5 534.4,507.6 534.9,507.6 535.4,507.7 535.9,507.7 536.4,507.7 536.9,507.7 537.4,507.7 537.9,507.6 538.4,507.6 538.9,507.6 539.4,507.5 539.9,507.5 540.4,507.4 540.9,507.4 541.4,507.4 541.9,507.3 542.4,507.3 542.9,507.3 543.4,507.3 543.9,507.4 544.4,507.4 544.9,507.5 545.4,507.5 545.9,507.6 546.4,507.7 546.9,507.8 547.4,507.8 547.9,507.9 548.4,508 548.9,508.1 549.4,508.2 549.9,508.3 550.4,508.3 550.9,508.4 551.4,508.4 551.9,508.5 552.4,508.5 552.9,508.5 553.4,508.4 553.9,508.4 554.4,508.4 554.9,508.3 555.4,508.3 555.9,508.2 556.4,508.1 556.9,508 557.4,508 557.9,507.9 558.4,507.8 558.9,507.8 559.4,507.7 559.9,507.7 560.4,507.7 560.9,507.7 561.4,507.7 561.9,507.7 562.4,507.8 562.9,507.8 563.4,507.9 563.9,508 564.4,508.1 564.9,508.2 565.4,508.3 565.9,508.5 566.4,508.6 566.9,508.7 567.4,508.9 567.9,509 568.4,509.1 568.9,509.2 569.4,509.3 569.9,509.4 570.4,509.5 570.9,509.6 571.4,509.6 571.9,509.7 572.4,509.7 572.9,509.7 573.4,509.7 573.9,509.7 574.4,509.6 574.9,509.6 575.4,509.6 575.9,509.5 576.4,509.5 576.9,509.5 577.4,509.4 577.9,509.4 578.4,509.4 578.9,509.4 579.4,509.4 579.9,509.4 580.4,509.5 580.9,509.5 581.4,509.6 581.9,509.6 582.4,509.7 582.9,509.8 583.4,509.9 583.9,510 584.4,510.1 584.9,510.2 585.4,510.3 585.9,510.4 586.4,510.4 586.9,510.5 587.4,510.6 587.9,510.6 588.4,510.6 588.9,510.7 589.4,510.6 589.9,510.6 590.4,510.6 590.9,510.6 591.4,510.5 591.9,510.4 592.4,510.4 592.9,510.3 593.4,510.2 593.9,510.1 594.4,510 594.9,510 595.4,509.9 595.9,509.8 596.4,509.8 596.9,509.8 597.4,509.8 597.9,509.8 598.4,509.8 598.9,509.8 599.4,509.9 599.9,510 600.4,510 600.9,510.1 601.4,510.3 601.9,510.4 602.4,510.5 602.9,510.6 603.4,510.8 603.9,510.9 604.4,511 604.9,511.1 605.4,511.2 605.9,511.3 606.4,511.4 606.9,511.5 607.4,511.5 607.9,511.6 608.4,511.6 608.9,511.6 609.4,511.6 609.9,511.6 610.4,511.6" fill="none" stroke="#f1e23c" stroke-width="1.0" stroke-linejoin="round" stroke-linecap="round" />
</g>
<path d="M526.1999999999999,360.7 H444.9 V516 H526.1999999999999 M529.4,360.7 H610.4 V516 H529.4" fill="none" stroke="#222" stroke-width="1"/>
<line x1="525.2" y1="363.1" x2="527.2" y2="358.3" stroke="#222" stroke-width="0.9" />
<line x1="528.4" y1="363.1" x2="530.4" y2="358.3" stroke="#222" stroke-width="0.9" />
<line x1="525.2" y1="518.4" x2="527.2" y2="513.6" stroke="#222" stroke-width="0.9" />
<line x1="528.4" y1="518.4" x2="530.4" y2="513.6" stroke="#222" stroke-width="0.9" />
<line x1="445" y1="516" x2="445" y2="518.3" stroke="#222" stroke-width="0.9" />
<text x="445" y="526.8" font-size="7.7" text-anchor="middle" fill="#000" stroke="#000" stroke-width="0.16" >2100</text>
<line x1="485.7" y1="516" x2="485.7" y2="518.3" stroke="#222" stroke-width="0.9" />
<text x="485.7" y="526.8" font-size="7.7" text-anchor="middle" fill="#000" stroke="#000" stroke-width="0.16" >2000</text>
<line x1="465.3" y1="516" x2="465.3" y2="517.4" stroke="#222" stroke-width="0.8" />
<line x1="506" y1="516" x2="506" y2="517.4" stroke="#222" stroke-width="0.8" />
<line x1="545.3" y1="516" x2="545.3" y2="518.3" stroke="#222" stroke-width="0.9" />
<text x="545.3" y="526.8" font-size="7.7" text-anchor="middle" fill="#000" stroke="#000" stroke-width="0.16" >1600</text>
<line x1="577.7" y1="516" x2="577.7" y2="518.3" stroke="#222" stroke-width="0.9" />
<text x="577.7" y="526.8" font-size="7.7" text-anchor="middle" fill="#000" stroke="#000" stroke-width="0.16" >1400</text>
<line x1="610.1" y1="516" x2="610.1" y2="518.3" stroke="#222" stroke-width="0.9" />
<text x="610.1" y="526.8" font-size="7.7" text-anchor="middle" fill="#000" stroke="#000" stroke-width="0.16" >1200</text>
<line x1="529.2" y1="516" x2="529.2" y2="517.4" stroke="#222" stroke-width="0.8" />
<line x1="561.5" y1="516" x2="561.5" y2="517.4" stroke="#222" stroke-width="0.8" />
<line x1="593.9" y1="516" x2="593.9" y2="517.4" stroke="#222" stroke-width="0.8" />
<text x="527.8" y="541.6" font-size="9" text-anchor="middle" fill="#000" stroke="#000" stroke-width="0.16">Wavenumber (cm<tspan font-size="6" dy="-3.2">-1</tspan><tspan dy="3.2">)</tspan></text>
<text x="438.2" y="436.6" font-size="8.4" text-anchor="middle" fill="#000" stroke="#000" stroke-width="0.16" transform="rotate(-90 438.2 436.6)" >Intensity (a.u.)</text>
<text x="426.4" y="374.8" font-size="16" text-anchor="start" fill="#000" stroke="#000" stroke-width="0.16" font-weight="bold" >h</text>
<line x1="450.4" y1="367.8" x2="450.4" y2="385.3" stroke="#dc5a5a" stroke-width="0.9" />
<text x="452.8" y="380.1" font-size="7.0" text-anchor="start" fill="#dc5a5a" stroke="#dc5a5a" stroke-width="0.16" >0.001</text>
<text x="496.2" y="409.8" font-size="7.0" text-anchor="middle" fill="#3d7d90" stroke="#3d7d90" stroke-width="0.16" >CO*</text>
<text x="560.9" y="371.6" font-size="7.0" text-anchor="start" fill="#3d7d90" stroke="#3d7d90" stroke-width="0.16" >*OCHO</text>
<text x="612.8" y="409" font-size="7.0" text-anchor="start" fill="#dc5a5a" stroke="#dc5a5a" stroke-width="0.16" >-1.0 V</text>
<text x="612.8" y="507.4" font-size="7.0" text-anchor="start" fill="#dc5a5a" stroke="#dc5a5a" stroke-width="0.16" >-0 V</text>
<text x="612.8" y="515.4" font-size="7.0" text-anchor="start" fill="#dc5a5a" stroke="#dc5a5a" stroke-width="0.16" >OCP</text>
<line x1="614.9" y1="494.4" x2="614.9" y2="412.6" stroke="#dc5a5a" stroke-width="0.9" />
<polygon points="614.9,412.6 616.2,415.7 613.6,415.7" fill="#dc5a5a"/>
</svg>
</body></html>
